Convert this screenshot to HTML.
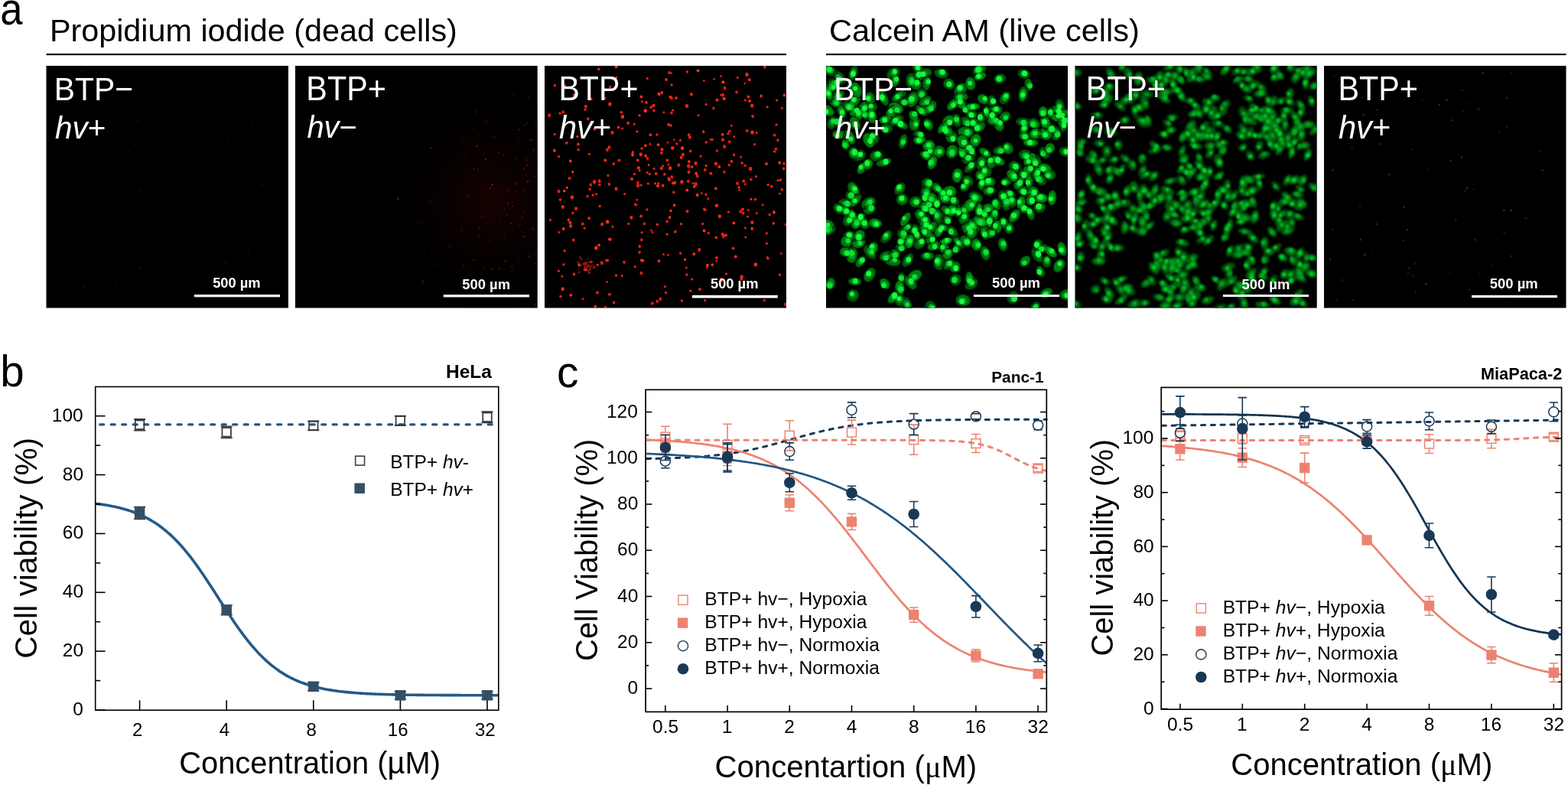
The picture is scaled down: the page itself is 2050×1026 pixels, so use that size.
<!DOCTYPE html>
<html><head><meta charset="utf-8"><title>Figure</title>
<style>html,body{margin:0;padding:0;background:#fff;width:2050px;height:1026px;overflow:hidden}svg{display:block}text{font-family:"Liberation Sans",Arial,sans-serif}</style>
</head><body>
<svg width="2050" height="1026" viewBox="0 0 2050 1026" font-family="Liberation Sans, Arial, sans-serif">
<rect width="2050" height="1026" fill="#fff"/>
<rect x="60.5" y="70" width="967.5" height="2.2" fill="#111"/>
<rect x="1080" y="70" width="967.5" height="2.2" fill="#111"/>
<rect x="60.5" y="86" width="316.50" height="316.5" fill="#000"/>
<rect x="386" y="86" width="316.70" height="316.5" fill="#000"/>
<rect x="712" y="86" width="316.00" height="316.5" fill="#000"/>
<rect x="1080" y="86" width="316.00" height="316.5" fill="#000"/>
<rect x="1405.5" y="86" width="316.20" height="316.5" fill="#000"/>
<rect x="1731" y="86" width="316.50" height="316.5" fill="#000"/>
<defs>
<filter id="bl1" x="-5%" y="-5%" width="110%" height="110%"><feGaussianBlur stdDeviation="1.1"/></filter>
<filter id="bl15" x="-5%" y="-5%" width="110%" height="110%"><feGaussianBlur stdDeviation="1.6"/></filter>
<filter id="bl2" x="-5%" y="-5%" width="110%" height="110%"><feGaussianBlur stdDeviation="0.7"/></filter>
<filter id="bl3" x="-5%" y="-5%" width="110%" height="110%"><feGaussianBlur stdDeviation="0.5"/></filter>
<filter id="bl6" x="-5%" y="-5%" width="110%" height="110%"><feGaussianBlur stdDeviation="6"/></filter>

<clipPath id="cp0"><rect x="60.5" y="86" width="316.50" height="316.5"/></clipPath>
<clipPath id="cp1"><rect x="386" y="86" width="316.70" height="316.5"/></clipPath>
<clipPath id="cp2"><rect x="712" y="86" width="316.00" height="316.5"/></clipPath>
<clipPath id="cp3"><rect x="1080" y="86" width="316.00" height="316.5"/></clipPath>
<clipPath id="cp4"><rect x="1405.5" y="86" width="316.20" height="316.5"/></clipPath>
<clipPath id="cp5"><rect x="1731" y="86" width="316.50" height="316.5"/></clipPath>
</defs>
<g clip-path="url(#cp3)"><g filter="url(#bl2)"><path fill="rgb(0,85,12)" stroke="rgb(0,35,5)" stroke-width="1.3" d="M1103.8 109.4A10.1 6.4 53 1 0 1091.6 93.3A10.1 6.4 53 1 0 1103.8 109.4ZM1093.2 96.3A9.8 6.0 27 1 0 1075.7 87.6A9.8 6.0 27 1 0 1093.2 96.3ZM1112.6 104.9A10.1 5.1 107 1 0 1118.4 85.6A10.1 5.1 107 1 0 1112.6 104.9ZM1160.5 101.7A9.2 7.0 142 1 0 1175.0 90.2A9.2 7.0 142 1 0 1160.5 101.7ZM1190.7 115.5A10.0 6.2 92 1 0 1191.4 95.6A10.0 6.2 92 1 0 1190.7 115.5ZM1239.7 98.7A9.3 6.1 16 1 0 1221.7 93.7A9.3 6.1 16 1 0 1239.7 98.7ZM1272.9 96.8A9.4 7.0 144 1 0 1288.2 85.8A9.4 7.0 144 1 0 1272.9 96.8ZM1299.8 104.8A7.8 6.1 165 1 0 1314.8 100.7A7.8 6.1 165 1 0 1299.8 104.8ZM1346.0 98.7A7.8 5.5 15 1 0 1331.1 94.7A7.8 5.5 15 1 0 1346.0 98.7ZM1102.1 107.0A10.3 5.6 0 1 0 1081.5 106.9A10.3 5.6 0 1 0 1102.1 107.0ZM1081.2 120.2A10.3 7.1 129 1 0 1094.1 104.2A10.3 7.1 129 1 0 1081.2 120.2ZM1199.3 128.7A7.7 6.1 133 1 0 1209.6 117.4A7.7 6.1 133 1 0 1199.3 128.7ZM1086.5 132.3A10.4 6.5 143 1 0 1103.2 119.8A10.4 6.5 143 1 0 1086.5 132.3ZM1101.2 136.2A8.5 6.4 15 1 0 1084.8 131.8A8.5 6.4 15 1 0 1101.2 136.2ZM1121.5 140.9A10.3 7.0 10 1 0 1101.3 137.3A10.3 7.0 10 1 0 1121.5 140.9ZM1132.1 143.0A7.7 6.4 161 1 0 1146.6 137.9A7.7 6.4 161 1 0 1132.1 143.0ZM1166.8 132.2A10.5 5.8 142 1 0 1183.4 119.5A10.5 5.8 142 1 0 1166.8 132.2ZM1191.1 133.3A8.4 5.9 4 1 0 1174.3 132.2A8.4 5.9 4 1 0 1191.1 133.3ZM1213.2 149.6A9.5 6.0 34 1 0 1197.4 139.0A9.5 6.0 34 1 0 1213.2 149.6ZM1298.9 139.6A7.8 5.8 73 1 0 1294.4 124.7A7.8 5.8 73 1 0 1298.9 139.6ZM1310.9 144.0A9.5 6.0 2 1 0 1292.0 143.3A9.5 6.0 2 1 0 1310.9 144.0ZM1309.1 135.5A9.1 6.0 122 1 0 1318.6 120.0A9.1 6.0 122 1 0 1309.1 135.5ZM1387.0 146.3A8.4 5.9 79 1 0 1383.9 129.7A8.4 5.9 79 1 0 1387.0 146.3ZM1084.2 168.5A8.9 6.5 116 1 0 1092.1 152.4A8.9 6.5 116 1 0 1084.2 168.5ZM1087.8 160.0A8.3 6.7 179 1 0 1104.4 159.6A8.3 6.7 179 1 0 1087.8 160.0ZM1135.5 155.5A8.1 5.9 58 1 0 1126.9 141.8A8.1 5.9 58 1 0 1135.5 155.5ZM1163.1 162.2A10.1 6.1 152 1 0 1180.9 152.6A10.1 6.1 152 1 0 1163.1 162.2ZM1253.9 165.4A8.7 5.7 68 1 0 1247.4 149.4A8.7 5.7 68 1 0 1253.9 165.4ZM1273.2 163.5A9.7 6.7 23 1 0 1255.3 155.8A9.7 6.7 23 1 0 1273.2 163.5ZM1277.7 153.9A8.3 6.0 31 1 0 1263.5 145.3A8.3 6.0 31 1 0 1277.7 153.9ZM1282.0 162.7A8.3 6.0 93 1 0 1283.0 146.1A8.3 6.0 93 1 0 1282.0 162.7ZM1349.0 161.3A10.5 5.5 8 1 0 1328.3 158.2A10.5 5.5 8 1 0 1349.0 161.3ZM1373.6 155.6A7.8 5.5 95 1 0 1374.9 140.0A7.8 5.5 95 1 0 1373.6 155.6ZM1386.7 171.8A7.7 5.5 119 1 0 1394.2 158.3A7.7 5.5 119 1 0 1386.7 171.8ZM1146.0 187.6A8.4 7.0 62 1 0 1138.0 172.8A8.4 7.0 62 1 0 1146.0 187.6ZM1150.7 168.8A8.2 6.0 175 1 0 1167.0 167.3A8.2 6.0 175 1 0 1150.7 168.8ZM1177.7 194.3A10.0 5.3 107 1 0 1183.4 175.1A10.0 5.3 107 1 0 1177.7 194.3ZM1209.0 180.8A8.2 5.6 32 1 0 1195.0 172.2A8.2 5.6 32 1 0 1209.0 180.8ZM1336.5 176.7A9.8 6.0 107 1 0 1342.4 158.0A9.8 6.0 107 1 0 1336.5 176.7ZM1383.8 172.1A9.1 6.5 16 1 0 1366.4 167.2A9.1 6.5 16 1 0 1383.8 172.1ZM1378.8 183.4A9.3 5.9 103 1 0 1383.0 165.3A9.3 5.9 103 1 0 1378.8 183.4ZM1114.3 206.5A9.2 6.4 158 1 0 1131.3 199.7A9.2 6.4 158 1 0 1114.3 206.5ZM1137.5 206.2A8.7 6.7 162 1 0 1154.0 200.7A8.7 6.7 162 1 0 1137.5 206.2ZM1217.6 204.7A8.4 6.3 89 1 0 1217.5 187.9A8.4 6.3 89 1 0 1217.6 204.7ZM1275.1 204.1A7.6 5.5 32 1 0 1262.2 196.1A7.6 5.5 32 1 0 1275.1 204.1ZM1262.5 208.3A9.6 6.7 69 1 0 1255.6 190.3A9.6 6.7 69 1 0 1262.5 208.3ZM1298.4 198.3A10.2 5.8 167 1 0 1318.3 193.6A10.2 5.8 167 1 0 1298.4 198.3ZM1349.3 203.4A8.7 6.7 7 1 0 1332.0 201.2A8.7 6.7 7 1 0 1349.3 203.4ZM1369.8 206.7A8.2 5.4 58 1 0 1361.2 192.8A8.2 5.4 58 1 0 1369.8 206.7ZM1400.0 200.4A7.8 6.4 16 1 0 1384.9 196.2A7.8 6.4 16 1 0 1400.0 200.4ZM1261.9 224.9A9.8 5.1 134 1 0 1275.6 210.8A9.8 5.1 134 1 0 1261.9 224.9ZM1257.6 209.0A8.5 6.1 176 1 0 1274.5 207.7A8.5 6.1 176 1 0 1257.6 209.0ZM1280.9 222.6A9.7 6.8 104 1 0 1285.6 203.8A9.7 6.8 104 1 0 1280.9 222.6ZM1290.7 232.9A9.7 6.6 80 1 0 1287.3 213.9A9.7 6.6 80 1 0 1290.7 232.9ZM1332.5 224.4A8.5 6.3 47 1 0 1321.0 212.1A8.5 6.3 47 1 0 1332.5 224.4ZM1358.5 219.3A9.7 6.6 61 1 0 1349.2 202.4A9.7 6.6 61 1 0 1358.5 219.3ZM1218.1 247.5A8.6 7.1 53 1 0 1207.9 233.7A8.6 7.1 53 1 0 1218.1 247.5ZM1270.4 243.2A8.0 6.7 50 1 0 1260.0 231.0A8.0 6.7 50 1 0 1270.4 243.2ZM1255.8 248.6A7.8 5.7 139 1 0 1267.7 238.4A7.8 5.7 139 1 0 1255.8 248.6ZM1307.9 238.6A7.6 5.6 172 1 0 1323.0 236.3A7.6 5.6 172 1 0 1307.9 238.6ZM1347.2 229.3A8.1 6.9 15 1 0 1331.6 225.1A8.1 6.9 15 1 0 1347.2 229.3ZM1366.4 241.1A9.8 6.3 47 1 0 1353.1 226.6A9.8 6.3 47 1 0 1366.4 241.1ZM1380.3 230.6A8.5 6.8 17 1 0 1364.0 225.6A8.5 6.8 17 1 0 1380.3 230.6ZM1118.9 261.1A7.8 6.6 40 1 0 1106.9 251.1A7.8 6.6 40 1 0 1118.9 261.1ZM1171.1 253.7A9.0 6.4 127 1 0 1181.9 239.3A9.0 6.4 127 1 0 1171.1 253.7ZM1219.4 259.3A8.0 6.4 12 1 0 1203.9 256.0A8.0 6.4 12 1 0 1219.4 259.3ZM1207.0 260.1A9.8 6.8 111 1 0 1214.0 241.7A9.8 6.8 111 1 0 1207.0 260.1ZM1245.3 261.5A10.4 6.7 13 1 0 1224.9 256.9A10.4 6.7 13 1 0 1245.3 261.5ZM1249.7 270.5A8.4 6.4 70 1 0 1244.0 254.7A8.4 6.4 70 1 0 1249.7 270.5ZM1284.0 262.2A9.6 6.8 28 1 0 1267.0 253.3A9.6 6.8 28 1 0 1284.0 262.2ZM1316.3 267.1A9.9 6.9 70 1 0 1309.7 248.5A9.9 6.9 70 1 0 1316.3 267.1ZM1325.4 270.8A8.6 6.9 69 1 0 1319.2 254.8A8.6 6.9 69 1 0 1325.4 270.8ZM1327.2 257.0A8.3 6.1 18 1 0 1311.5 251.9A8.3 6.1 18 1 0 1327.2 257.0ZM1346.4 254.1A9.1 6.5 29 1 0 1330.4 245.3A9.1 6.5 29 1 0 1346.4 254.1ZM1104.0 277.8A8.5 6.1 35 1 0 1090.0 268.0A8.5 6.1 35 1 0 1104.0 277.8ZM1115.3 267.5A9.7 5.6 11 1 0 1096.3 263.6A9.7 5.6 11 1 0 1115.3 267.5ZM1222.9 266.1A9.4 6.7 4 1 0 1204.1 264.9A9.4 6.7 4 1 0 1222.9 266.1ZM1226.0 292.6A9.5 6.5 97 1 0 1228.4 273.8A9.5 6.5 97 1 0 1226.0 292.6ZM1229.0 279.6A10.2 6.0 26 1 0 1210.7 270.9A10.2 6.0 26 1 0 1229.0 279.6ZM1243.3 280.7A8.1 5.9 40 1 0 1230.8 270.3A8.1 5.9 40 1 0 1243.3 280.7ZM1253.9 284.0A8.4 6.1 83 1 0 1251.8 267.4A8.4 6.1 83 1 0 1253.9 284.0ZM1263.3 285.5A9.5 5.8 76 1 0 1258.8 267.1A9.5 5.8 76 1 0 1263.3 285.5ZM1316.1 275.3A9.3 6.7 86 1 0 1314.9 256.7A9.3 6.7 86 1 0 1316.1 275.3ZM1302.4 276.0A8.5 7.1 89 1 0 1302.0 259.0A8.5 7.1 89 1 0 1302.4 276.0ZM1351.4 271.4A7.9 6.9 177 1 0 1367.2 270.7A7.9 6.9 177 1 0 1351.4 271.4ZM1104.0 294.6A9.5 6.5 128 1 0 1115.6 279.6A9.5 6.5 128 1 0 1104.0 294.6ZM1119.8 290.5A7.7 5.5 133 1 0 1130.4 279.2A7.7 5.5 133 1 0 1119.8 290.5ZM1198.7 310.5A8.9 7.0 74 1 0 1193.8 293.4A8.9 7.0 74 1 0 1198.7 310.5ZM1177.3 302.9A8.8 5.4 149 1 0 1192.4 293.8A8.8 5.4 149 1 0 1177.3 302.9ZM1199.7 288.8A8.5 6.0 164 1 0 1216.1 284.1A8.5 6.0 164 1 0 1199.7 288.8ZM1241.6 299.1A8.9 5.1 12 1 0 1224.1 295.3A8.9 5.1 12 1 0 1241.6 299.1ZM1240.1 294.2A7.6 6.4 74 1 0 1235.8 279.6A7.6 6.4 74 1 0 1240.1 294.2ZM1251.1 309.0A8.7 5.6 49 1 0 1239.6 295.9A8.7 5.6 49 1 0 1251.1 309.0ZM1279.8 302.6A10.4 7.2 47 1 0 1265.5 287.4A10.4 7.2 47 1 0 1279.8 302.6ZM1319.2 305.8A8.2 6.4 89 1 0 1319.0 289.4A8.2 6.4 89 1 0 1319.2 305.8ZM1119.5 310.0A8.4 6.9 9 1 0 1102.9 307.3A8.4 6.9 9 1 0 1119.5 310.0ZM1153.0 316.8A9.5 6.0 128 1 0 1164.7 301.8A9.5 6.0 128 1 0 1153.0 316.8ZM1171.9 326.4A7.8 6.0 149 1 0 1185.2 318.3A7.8 6.0 149 1 0 1171.9 326.4ZM1182.8 316.7A9.5 6.2 74 1 0 1177.7 298.5A9.5 6.2 74 1 0 1182.8 316.7ZM1196.4 324.3A9.1 6.5 133 1 0 1208.7 310.9A9.1 6.5 133 1 0 1196.4 324.3ZM1202.0 315.8A8.1 5.8 66 1 0 1195.3 301.1A8.1 5.8 66 1 0 1202.0 315.8ZM1260.9 324.3A10.2 5.1 46 1 0 1246.6 309.6A10.2 5.1 46 1 0 1260.9 324.3ZM1357.3 328.2A7.8 6.0 89 1 0 1357.1 312.7A7.8 6.0 89 1 0 1357.3 328.2ZM1143.7 337.7A10.3 6.3 51 1 0 1130.7 321.6A10.3 6.3 51 1 0 1143.7 337.7ZM1181.0 348.3A10.2 5.8 124 1 0 1192.6 331.5A10.2 5.8 124 1 0 1181.0 348.3ZM1222.0 334.8A9.1 5.7 0 1 0 1203.8 334.7A9.1 5.7 0 1 0 1222.0 334.8ZM1227.4 353.1A10.5 6.8 91 1 0 1227.7 332.2A10.5 6.8 91 1 0 1227.4 353.1ZM1247.8 331.3A7.5 5.2 116 1 0 1254.3 317.7A7.5 5.2 116 1 0 1247.8 331.3ZM1360.9 341.9A10.2 5.6 60 1 0 1350.6 324.4A10.2 5.6 60 1 0 1360.9 341.9ZM1368.3 349.6A7.9 5.9 91 1 0 1368.5 333.8A7.9 5.9 91 1 0 1368.3 349.6ZM1232.3 348.8A8.8 6.4 160 1 0 1248.7 342.6A8.8 6.4 160 1 0 1232.3 348.8ZM1179.0 371.1A7.6 5.0 87 1 0 1178.2 355.9A7.6 5.0 87 1 0 1179.0 371.1ZM1244.1 371.2A7.5 6.7 132 1 0 1254.1 360.1A7.5 6.7 132 1 0 1244.1 371.2ZM1262.6 376.7A9.3 5.7 145 1 0 1277.8 366.1A9.3 5.7 145 1 0 1262.6 376.7ZM1113.8 394.1A8.1 6.9 99 1 0 1116.5 378.3A8.1 6.9 99 1 0 1113.8 394.1ZM1181.3 399.4A9.0 6.6 56 1 0 1171.2 384.6A9.0 6.6 56 1 0 1181.3 399.4ZM1189.9 404.3A9.2 6.4 58 1 0 1180.1 388.7A9.2 6.4 58 1 0 1189.9 404.3ZM1220.5 409.3A8.6 6.4 66 1 0 1213.5 393.7A8.6 6.4 66 1 0 1220.5 409.3ZM1319.7 395.9A8.5 6.4 122 1 0 1328.8 381.6A8.5 6.4 122 1 0 1319.7 395.9ZM1348.0 407.5A8.0 5.2 129 1 0 1358.0 394.9A8.0 5.2 129 1 0 1348.0 407.5Z"/><path fill="rgb(0,102,14)" stroke="rgb(0,35,5)" stroke-width="1.3" d="M1167.6 113.7A8.3 5.7 106 1 0 1172.3 97.7A8.3 5.7 106 1 0 1167.6 113.7ZM1199.0 106.6A8.9 6.9 108 1 0 1204.4 89.6A8.9 6.9 108 1 0 1199.0 106.6ZM1202.3 96.6A10.4 5.7 73 1 0 1196.4 76.8A10.4 5.7 73 1 0 1202.3 96.6ZM1198.8 96.4A9.9 6.1 173 1 0 1218.5 94.1A9.9 6.1 173 1 0 1198.8 96.4ZM1195.6 117.2A7.5 7.0 108 1 0 1200.1 102.9A7.5 7.0 108 1 0 1195.6 117.2ZM1210.5 118.5A10.2 5.3 96 1 0 1212.6 98.2A10.2 5.3 96 1 0 1210.5 118.5ZM1249.3 124.2A9.7 7.1 133 1 0 1262.4 109.9A9.7 7.1 133 1 0 1249.3 124.2ZM1247.3 113.6A7.6 6.7 32 1 0 1234.4 105.6A7.6 6.7 32 1 0 1247.3 113.6ZM1346.4 118.6A8.2 5.3 79 1 0 1343.3 102.4A8.2 5.3 79 1 0 1346.4 118.6ZM1335.8 133.2A10.2 5.8 100 1 0 1339.2 113.1A10.2 5.8 100 1 0 1335.8 133.2ZM1110.2 139.3A9.7 6.0 134 1 0 1123.7 125.4A9.7 6.0 134 1 0 1110.2 139.3ZM1124.6 148.0A9.0 6.2 125 1 0 1134.9 133.4A9.0 6.2 125 1 0 1124.6 148.0ZM1138.5 137.0A8.5 6.3 83 1 0 1136.4 120.1A8.5 6.3 83 1 0 1138.5 137.0ZM1159.5 137.5A10.2 5.3 65 1 0 1151.0 119.0A10.2 5.3 65 1 0 1159.5 137.5ZM1188.5 139.4A10.5 6.6 116 1 0 1197.7 120.7A10.5 6.6 116 1 0 1188.5 139.4ZM1202.6 137.5A8.9 5.5 144 1 0 1217.0 127.1A8.9 5.5 144 1 0 1202.6 137.5ZM1209.2 147.4A10.0 6.6 134 1 0 1223.2 133.1A10.0 6.6 134 1 0 1209.2 147.4ZM1246.7 127.4A9.5 6.5 177 1 0 1265.8 126.4A9.5 6.5 177 1 0 1246.7 127.4ZM1267.8 148.9A9.0 5.4 55 1 0 1257.6 134.1A9.0 5.4 55 1 0 1267.8 148.9ZM1387.9 150.1A7.8 5.4 45 1 0 1376.8 139.1A7.8 5.4 45 1 0 1387.9 150.1ZM1103.2 154.8A9.5 5.1 72 1 0 1097.5 136.7A9.5 5.1 72 1 0 1103.2 154.8ZM1117.8 157.1A10.4 6.0 129 1 0 1131.0 141.0A10.4 6.0 129 1 0 1117.8 157.1ZM1186.7 167.2A10.0 5.3 30 1 0 1169.3 157.3A10.0 5.3 30 1 0 1186.7 167.2ZM1193.9 171.0A10.1 6.4 101 1 0 1197.6 151.2A10.1 6.4 101 1 0 1193.9 171.0ZM1217.8 169.8A8.1 5.8 60 1 0 1209.5 155.8A8.1 5.8 60 1 0 1217.8 169.8ZM1279.6 167.0A8.0 6.5 46 1 0 1268.5 155.5A8.0 6.5 46 1 0 1279.6 167.0ZM1290.6 158.9A8.2 6.6 132 1 0 1301.7 146.7A8.2 6.6 132 1 0 1290.6 158.9ZM1291.8 156.1A8.8 5.1 81 1 0 1289.2 138.6A8.8 5.1 81 1 0 1291.8 156.1ZM1307.5 157.9A8.0 6.5 141 1 0 1319.9 147.7A8.0 6.5 141 1 0 1307.5 157.9ZM1359.2 165.6A8.1 6.5 29 1 0 1345.0 157.7A8.1 6.5 29 1 0 1359.2 165.6ZM1249.6 184.7A7.6 7.1 45 1 0 1238.8 174.1A7.6 7.1 45 1 0 1249.6 184.7ZM1273.0 174.2A10.5 7.1 7 1 0 1252.2 171.7A10.5 7.1 7 1 0 1273.0 174.2ZM1272.4 170.3A8.8 6.6 149 1 0 1287.5 161.2A8.8 6.6 149 1 0 1272.4 170.3ZM1348.1 181.1A8.2 5.7 20 1 0 1332.7 175.6A8.2 5.7 20 1 0 1348.1 181.1ZM1219.1 208.1A9.0 5.5 29 1 0 1203.4 199.3A9.0 5.5 29 1 0 1219.1 208.1ZM1217.6 201.9A9.5 7.1 159 1 0 1235.3 195.3A9.5 7.1 159 1 0 1217.6 201.9ZM1258.9 194.5A8.2 6.1 170 1 0 1275.1 191.5A8.2 6.1 170 1 0 1258.9 194.5ZM1321.3 201.0A8.0 6.3 64 1 0 1314.3 186.7A8.0 6.3 64 1 0 1321.3 201.0ZM1121.9 227.0A9.3 5.4 126 1 0 1132.8 211.8A9.3 5.4 126 1 0 1121.9 227.0ZM1145.7 215.1A10.3 5.1 164 1 0 1165.5 209.3A10.3 5.1 164 1 0 1145.7 215.1ZM1292.9 219.5A9.0 6.0 119 1 0 1301.6 203.8A9.0 6.0 119 1 0 1292.9 219.5ZM1275.2 229.7A8.4 7.0 179 1 0 1291.9 229.4A8.4 7.0 179 1 0 1275.2 229.7ZM1284.5 241.9A8.9 7.0 158 1 0 1301.0 235.1A8.9 7.0 158 1 0 1284.5 241.9ZM1282.6 248.6A9.0 5.5 98 1 0 1285.1 230.7A9.0 5.5 98 1 0 1282.6 248.6ZM1327.5 247.3A9.3 5.5 120 1 0 1336.8 231.3A9.3 5.5 120 1 0 1327.5 247.3ZM1344.5 247.5A10.4 5.2 95 1 0 1346.5 226.7A10.4 5.2 95 1 0 1344.5 247.5ZM1350.6 234.1A10.5 5.1 120 1 0 1360.9 215.9A10.5 5.1 120 1 0 1350.6 234.1ZM1121.0 256.5A10.4 6.5 61 1 0 1110.8 238.4A10.4 6.5 61 1 0 1121.0 256.5ZM1111.0 269.7A10.5 5.1 132 1 0 1125.0 254.2A10.5 5.1 132 1 0 1111.0 269.7ZM1176.5 267.7A7.6 7.0 113 1 0 1182.3 253.7A7.6 7.0 113 1 0 1176.5 267.7ZM1188.9 265.1A8.0 7.2 171 1 0 1204.8 262.6A8.0 7.2 171 1 0 1188.9 265.1ZM1238.7 259.7A9.8 5.5 47 1 0 1225.2 245.5A9.8 5.5 47 1 0 1238.7 259.7ZM1229.6 252.1A7.9 5.0 53 1 0 1220.2 239.5A7.9 5.0 53 1 0 1229.6 252.1ZM1285.0 250.2A8.1 6.3 172 1 0 1301.1 248.0A8.1 6.3 172 1 0 1285.0 250.2ZM1109.9 281.3A7.6 5.9 51 1 0 1100.4 269.4A7.6 5.9 51 1 0 1109.9 281.3ZM1129.7 277.3A8.3 5.8 152 1 0 1144.3 269.5A8.3 5.8 152 1 0 1129.7 277.3ZM1126.9 270.8A10.1 6.3 147 1 0 1143.8 259.9A10.1 6.3 147 1 0 1126.9 270.8ZM1214.3 277.3A8.1 6.6 47 1 0 1203.3 265.4A8.1 6.6 47 1 0 1214.3 277.3ZM1196.6 283.0A7.7 7.0 158 1 0 1210.8 277.2A7.7 7.0 158 1 0 1196.6 283.0ZM1287.9 287.8A10.2 5.9 91 1 0 1288.5 267.4A10.2 5.9 91 1 0 1287.9 287.8ZM1300.2 288.4A8.2 6.1 84 1 0 1298.5 272.1A8.2 6.1 84 1 0 1300.2 288.4ZM1348.6 274.7A8.5 5.2 7 1 0 1331.7 272.6A8.5 5.2 7 1 0 1348.6 274.7ZM1349.8 287.7A9.3 5.3 73 1 0 1344.4 269.9A9.3 5.3 73 1 0 1349.8 287.7ZM1072.6 302.6A10.1 7.1 164 1 0 1092.0 297.0A10.1 7.1 164 1 0 1072.6 302.6ZM1134.9 298.0A9.5 6.0 49 1 0 1122.5 283.7A9.5 6.0 49 1 0 1134.9 298.0ZM1211.5 304.8A9.5 6.1 131 1 0 1223.9 290.3A9.5 6.1 131 1 0 1211.5 304.8ZM1269.7 307.0A9.4 7.1 61 1 0 1260.6 290.5A9.4 7.1 61 1 0 1269.7 307.0ZM1257.0 293.0A8.7 6.0 114 1 0 1264.0 277.1A8.7 6.0 114 1 0 1257.0 293.0ZM1291.5 298.0A9.8 6.6 101 1 0 1295.2 278.7A9.8 6.6 101 1 0 1291.5 298.0ZM1314.6 298.5A7.7 5.4 72 1 0 1309.9 283.9A7.7 5.4 72 1 0 1314.6 298.5ZM1173.7 319.6A7.7 5.8 139 1 0 1185.2 309.4A7.7 5.8 139 1 0 1173.7 319.6ZM1215.8 320.5A8.4 5.9 97 1 0 1217.8 303.9A8.4 5.9 97 1 0 1215.8 320.5ZM1264.4 312.9A9.2 6.6 127 1 0 1275.5 298.2A9.2 6.6 127 1 0 1264.4 312.9ZM1270.0 320.4A8.8 7.1 36 1 0 1255.8 309.9A8.8 7.1 36 1 0 1270.0 320.4ZM1290.9 312.6A9.3 5.5 70 1 0 1284.6 295.2A9.3 5.5 70 1 0 1290.9 312.6ZM1313.0 328.2A8.8 6.0 76 1 0 1308.8 311.1A8.8 6.0 76 1 0 1313.0 328.2ZM1119.7 348.6A8.5 5.2 128 1 0 1130.3 335.3A8.5 5.2 128 1 0 1119.7 348.6ZM1150.3 337.5A9.0 6.0 163 1 0 1167.4 332.1A9.0 6.0 163 1 0 1150.3 337.5ZM1163.3 339.1A8.2 6.7 135 1 0 1174.9 327.6A8.2 6.7 135 1 0 1163.3 339.1ZM1177.8 342.8A10.2 5.7 4 1 0 1157.4 341.5A10.2 5.7 4 1 0 1177.8 342.8ZM1290.4 340.0A9.3 6.4 76 1 0 1286.0 321.9A9.3 6.4 76 1 0 1290.4 340.0ZM1355.3 326.4A8.3 5.4 169 1 0 1371.6 323.1A8.3 5.4 169 1 0 1355.3 326.4ZM1131.5 367.5A10.1 6.4 123 1 0 1142.6 350.7A10.1 6.4 123 1 0 1131.5 367.5ZM1241.2 351.7A7.6 7.1 158 1 0 1255.3 346.1A7.6 7.1 158 1 0 1241.2 351.7ZM1363.4 361.5A7.5 5.3 65 1 0 1357.0 347.9A7.5 5.3 65 1 0 1363.4 361.5ZM1126.5 368.2A8.9 5.2 2 1 0 1108.7 367.5A8.9 5.2 2 1 0 1126.5 368.2ZM1196.8 377.3A10.3 5.8 52 1 0 1184.1 361.2A10.3 5.8 52 1 0 1196.8 377.3ZM1268.9 393.6A9.8 7.1 6 1 0 1249.5 391.5A9.8 7.1 6 1 0 1268.9 393.6ZM1359.5 387.0A9.2 5.8 153 1 0 1376.0 378.7A9.2 5.8 153 1 0 1359.5 387.0ZM1385.2 385.4A10.0 7.2 178 1 0 1405.2 384.8A10.0 7.2 178 1 0 1385.2 385.4Z"/><path fill="rgb(0,120,16)" stroke="rgb(0,35,5)" stroke-width="1.3" d="M1273.4 102.6A8.4 5.3 159 1 0 1289.2 96.7A8.4 5.3 159 1 0 1273.4 102.6ZM1086.4 131.0A9.7 5.3 69 1 0 1079.5 112.9A9.7 5.3 69 1 0 1086.4 131.0ZM1123.4 127.0A10.5 7.0 66 1 0 1114.7 107.9A10.5 7.0 66 1 0 1123.4 127.0ZM1269.6 118.0A8.7 6.6 84 1 0 1267.8 100.7A8.7 6.6 84 1 0 1269.6 118.0ZM1089.7 150.0A9.0 6.5 36 1 0 1075.1 139.4A9.0 6.5 36 1 0 1089.7 150.0ZM1180.5 145.3A10.0 6.6 24 1 0 1162.3 137.2A10.0 6.6 24 1 0 1180.5 145.3ZM1260.0 141.5A9.1 5.7 59 1 0 1250.7 126.0A9.1 5.7 59 1 0 1260.0 141.5ZM1239.0 143.0A10.4 5.2 136 1 0 1254.0 128.7A10.4 5.2 136 1 0 1239.0 143.0ZM1260.9 140.9A10.3 5.3 174 1 0 1281.4 138.6A10.3 5.3 174 1 0 1260.9 140.9ZM1292.3 133.4A7.9 6.2 29 1 0 1278.4 125.8A7.9 6.2 29 1 0 1292.3 133.4ZM1121.9 169.5A9.3 5.8 64 1 0 1113.7 152.9A9.3 5.8 64 1 0 1121.9 169.5ZM1111.1 149.7A7.5 5.3 153 1 0 1124.5 142.9A7.5 5.3 153 1 0 1111.1 149.7ZM1141.6 161.2A9.9 6.2 79 1 0 1137.8 141.7A9.9 6.2 79 1 0 1141.6 161.2ZM1149.8 158.9A8.5 5.1 160 1 0 1165.7 153.1A8.5 5.1 160 1 0 1149.8 158.9ZM1159.8 156.4A10.4 6.6 122 1 0 1170.8 138.7A10.4 6.6 122 1 0 1159.8 156.4ZM1198.6 158.1A7.7 5.7 58 1 0 1190.4 145.0A7.7 5.7 58 1 0 1198.6 158.1ZM1233.6 164.7A8.9 6.6 135 1 0 1246.2 152.2A8.9 6.6 135 1 0 1233.6 164.7ZM1308.9 160.0A9.1 5.8 10 1 0 1290.9 156.9A9.1 5.8 10 1 0 1308.9 160.0ZM1309.0 171.3A9.0 6.5 70 1 0 1302.7 154.4A9.0 6.5 70 1 0 1309.0 171.3ZM1363.8 154.4A7.8 6.3 90 1 0 1363.8 138.8A7.8 6.3 90 1 0 1363.8 154.4ZM1369.4 168.9A9.0 6.0 73 1 0 1364.1 151.8A9.0 6.0 73 1 0 1369.4 168.9ZM1383.5 162.3A9.5 7.1 153 1 0 1400.6 153.8A9.5 7.1 153 1 0 1383.5 162.3ZM1380.2 152.1A9.3 5.2 160 1 0 1397.7 145.9A9.3 5.2 160 1 0 1380.2 152.1ZM1393.7 154.6A10.0 5.5 6 1 0 1373.8 152.7A10.0 5.5 6 1 0 1393.7 154.6ZM1105.1 176.2A8.5 5.4 2 1 0 1088.2 175.5A8.5 5.4 2 1 0 1105.1 176.2ZM1115.8 188.0A10.0 6.8 59 1 0 1105.4 170.8A10.0 6.8 59 1 0 1115.8 188.0ZM1140.6 192.4A10.2 7.1 63 1 0 1131.2 174.3A10.2 7.1 63 1 0 1140.6 192.4ZM1194.0 184.1A8.3 5.8 174 1 0 1210.6 182.3A8.3 5.8 174 1 0 1194.0 184.1ZM1226.8 173.8A9.9 5.3 132 1 0 1240.1 159.1A9.9 5.3 132 1 0 1226.8 173.8ZM1245.2 176.5A8.3 6.1 39 1 0 1232.1 166.1A8.3 6.1 39 1 0 1245.2 176.5ZM1262.7 192.8A8.9 6.8 64 1 0 1255.0 176.8A8.9 6.8 64 1 0 1262.7 192.8ZM1271.6 191.1A8.7 6.6 115 1 0 1279.0 175.4A8.7 6.6 115 1 0 1271.6 191.1ZM1346.1 177.9A8.3 6.7 157 1 0 1361.4 171.5A8.3 6.7 157 1 0 1346.1 177.9ZM1375.5 177.6A9.4 7.0 16 1 0 1357.5 172.4A9.4 7.0 16 1 0 1375.5 177.6ZM1117.0 207.6A7.7 6.7 83 1 0 1115.2 192.3A7.7 6.7 83 1 0 1117.0 207.6ZM1106.0 195.8A7.6 5.6 88 1 0 1105.4 180.6A7.6 5.6 88 1 0 1106.0 195.8ZM1206.4 192.7A8.3 6.8 164 1 0 1222.3 188.2A8.3 6.8 164 1 0 1206.4 192.7ZM1241.8 206.8A9.1 7.2 108 1 0 1247.4 189.5A9.1 7.2 108 1 0 1241.8 206.8ZM1294.7 204.4A8.5 5.2 36 1 0 1281.0 194.3A8.5 5.2 36 1 0 1294.7 204.4ZM1357.4 186.8A9.8 5.3 2 1 0 1337.8 185.9A9.8 5.3 2 1 0 1357.4 186.8ZM1368.4 200.7A7.7 6.6 121 1 0 1376.4 187.5A7.7 6.6 121 1 0 1368.4 200.7ZM1129.0 220.3A7.8 6.4 134 1 0 1139.8 209.0A7.8 6.4 134 1 0 1129.0 220.3ZM1215.4 221.2A9.5 5.6 112 1 0 1222.5 203.6A9.5 5.6 112 1 0 1215.4 221.2ZM1313.1 214.2A9.4 5.8 27 1 0 1296.3 205.7A9.4 5.8 27 1 0 1313.1 214.2ZM1339.8 216.0A10.0 6.2 132 1 0 1353.2 201.2A10.0 6.2 132 1 0 1339.8 216.0ZM1339.0 226.6A8.2 6.3 137 1 0 1351.1 215.5A8.2 6.3 137 1 0 1339.0 226.6ZM1374.4 222.6A9.0 5.8 17 1 0 1357.3 217.2A9.0 5.8 17 1 0 1374.4 222.6ZM1250.4 238.9A9.6 6.8 97 1 0 1252.6 219.8A9.6 6.8 97 1 0 1250.4 238.9ZM1329.8 236.6A9.2 6.5 49 1 0 1317.8 222.5A9.2 6.5 49 1 0 1329.8 236.6ZM1224.4 264.5A8.3 5.9 45 1 0 1212.8 252.7A8.3 5.9 45 1 0 1224.4 264.5ZM1233.1 250.6A8.6 7.0 178 1 0 1250.2 249.9A8.6 7.0 178 1 0 1233.1 250.6ZM1346.1 268.8A7.9 5.9 101 1 0 1349.2 253.2A7.9 5.9 101 1 0 1346.1 268.8ZM1348.8 259.9A8.2 6.8 102 1 0 1352.3 244.0A8.2 6.8 102 1 0 1348.8 259.9ZM1374.6 268.3A9.9 5.8 95 1 0 1376.4 248.5A9.9 5.8 95 1 0 1374.6 268.3ZM1370.2 259.8A9.7 6.5 7 1 0 1350.9 257.6A9.7 6.5 7 1 0 1370.2 259.8ZM1118.4 290.7A9.3 5.9 64 1 0 1110.3 273.9A9.3 5.9 64 1 0 1118.4 290.7ZM1224.1 272.6A7.7 5.5 93 1 0 1225.0 257.1A7.7 5.5 93 1 0 1224.1 272.6ZM1238.5 280.7A8.0 6.9 138 1 0 1250.3 269.9A8.0 6.9 138 1 0 1238.5 280.7ZM1261.1 274.4A10.0 6.9 139 1 0 1276.2 261.5A10.0 6.9 139 1 0 1261.1 274.4ZM1281.5 284.2A9.5 5.7 82 1 0 1278.9 265.4A9.5 5.7 82 1 0 1281.5 284.2ZM1284.4 273.2A7.7 5.8 171 1 0 1299.6 270.8A7.7 5.8 171 1 0 1284.4 273.2ZM1333.6 273.6A8.8 6.0 99 1 0 1336.3 256.2A8.8 6.0 99 1 0 1333.6 273.6ZM1320.4 290.0A9.7 6.0 127 1 0 1332.1 274.5A9.7 6.0 127 1 0 1320.4 290.0ZM1090.4 295.7A7.7 5.2 22 1 0 1076.1 289.9A7.7 5.2 22 1 0 1090.4 295.7ZM1115.4 298.7A9.6 7.2 120 1 0 1124.9 282.0A9.6 7.2 120 1 0 1115.4 298.7ZM1153.1 293.4A8.9 6.3 10 1 0 1135.5 290.2A8.9 6.3 10 1 0 1153.1 293.4ZM1178.2 295.3A10.3 5.2 122 1 0 1189.3 277.9A10.3 5.2 122 1 0 1178.2 295.3ZM1217.9 309.1A10.1 6.2 42 1 0 1202.9 295.5A10.1 6.2 42 1 0 1217.9 309.1ZM1207.3 302.6A10.0 7.1 104 1 0 1212.2 283.2A10.0 7.1 104 1 0 1207.3 302.6ZM1225.2 309.7A7.5 5.3 106 1 0 1229.2 295.2A7.5 5.3 106 1 0 1225.2 309.7ZM1292.0 292.7A10.4 6.9 19 1 0 1272.2 285.9A10.4 6.9 19 1 0 1292.0 292.7ZM1302.0 304.9A8.6 6.8 101 1 0 1305.2 287.9A8.6 6.8 101 1 0 1302.0 304.9ZM1102.2 321.9A7.7 6.9 125 1 0 1111.1 309.4A7.7 6.9 125 1 0 1102.2 321.9ZM1114.1 320.4A8.9 6.1 161 1 0 1130.9 314.7A8.9 6.1 161 1 0 1114.1 320.4ZM1118.9 315.9A8.6 7.2 123 1 0 1128.1 301.3A8.6 7.2 123 1 0 1118.9 315.9ZM1186.6 324.7A9.5 6.3 105 1 0 1191.5 306.3A9.5 6.3 105 1 0 1186.6 324.7ZM1226.9 320.3A9.9 5.1 156 1 0 1245.0 312.1A9.9 5.1 156 1 0 1226.9 320.3ZM1212.8 324.6A9.1 5.2 160 1 0 1229.8 318.3A9.1 5.2 160 1 0 1212.8 324.6ZM1279.0 327.6A8.2 7.0 73 1 0 1274.1 311.9A8.2 7.0 73 1 0 1279.0 327.6ZM1287.7 307.9A8.0 5.7 158 1 0 1302.5 301.9A8.0 5.7 158 1 0 1287.7 307.9ZM1117.6 330.8A10.0 6.6 8 1 0 1097.8 328.2A10.0 6.6 8 1 0 1117.6 330.8ZM1112.3 343.7A10.5 6.5 98 1 0 1115.3 323.0A10.5 6.5 98 1 0 1112.3 343.7ZM1137.9 331.9A8.3 6.1 113 1 0 1144.4 316.7A8.3 6.1 113 1 0 1137.9 331.9ZM1233.5 331.4A7.8 6.4 97 1 0 1235.3 315.9A7.8 6.4 97 1 0 1233.5 331.4ZM1233.8 337.9A8.0 6.3 131 1 0 1244.4 325.9A8.0 6.3 131 1 0 1233.8 337.9ZM1334.5 347.1A8.1 5.8 134 1 0 1345.8 335.5A8.1 5.8 134 1 0 1334.5 347.1ZM1381.3 335.4A10.0 5.5 39 1 0 1365.7 322.8A10.0 5.5 39 1 0 1381.3 335.4ZM1391.4 334.3A9.4 5.8 73 1 0 1385.7 316.3A9.4 5.8 73 1 0 1391.4 334.3ZM1187.6 366.4A10.2 6.8 145 1 0 1204.3 354.7A10.2 6.8 145 1 0 1187.6 366.4ZM1379.8 355.3A9.4 6.7 121 1 0 1389.6 339.1A9.4 6.7 121 1 0 1379.8 355.3ZM1083.6 378.6A8.0 6.1 106 1 0 1087.9 363.1A8.0 6.1 106 1 0 1083.6 378.6ZM1162.5 376.5A8.0 6.0 46 1 0 1151.3 365.0A8.0 6.0 46 1 0 1162.5 376.5ZM1177.4 386.0A9.8 6.3 84 1 0 1175.3 366.5A9.8 6.3 84 1 0 1177.4 386.0ZM1269.5 375.4A10.3 5.7 81 1 0 1266.2 355.0A10.3 5.7 81 1 0 1269.5 375.4ZM1161.8 395.7A9.7 5.7 131 1 0 1174.6 381.0A9.7 5.7 131 1 0 1161.8 395.7Z"/><path fill="rgb(0,135,20)" d="M1164.4 98.3A5.5 4.3 142 1 0 1173.1 91.4A5.5 4.3 142 1 0 1164.4 98.3ZM1199.9 102.9A5.3 4.3 108 1 0 1203.1 92.7A5.3 4.3 108 1 0 1199.9 102.9ZM1201.4 93.6A6.2 3.6 73 1 0 1197.9 81.7A6.2 3.6 73 1 0 1201.4 93.6ZM1201.8 96.7A6.0 3.8 173 1 0 1213.7 95.4A6.0 3.8 173 1 0 1201.8 96.7ZM1121.3 122.3A6.3 4.3 66 1 0 1116.0 110.8A6.3 4.3 66 1 0 1121.3 122.3ZM1212.0 113.6A6.1 3.3 96 1 0 1213.3 101.5A6.1 3.3 96 1 0 1212.0 113.6ZM1251.6 120.3A5.8 4.4 133 1 0 1259.4 111.7A5.8 4.4 133 1 0 1251.6 120.3ZM1269.0 114.2A5.2 4.1 84 1 0 1267.9 103.8A5.2 4.1 84 1 0 1269.0 114.2ZM1346.6 116.2A4.9 3.3 79 1 0 1344.8 106.5A4.9 3.3 79 1 0 1346.6 116.2ZM1085.7 148.6A5.4 4.0 36 1 0 1077.0 142.2A5.4 4.0 36 1 0 1085.7 148.6ZM1112.6 135.5A5.8 3.7 134 1 0 1120.7 127.2A5.8 3.7 134 1 0 1112.6 135.5ZM1134.6 141.0A4.6 4.0 161 1 0 1143.4 137.9A4.6 4.0 161 1 0 1134.6 141.0ZM1177.7 144.9A6.0 4.1 24 1 0 1166.8 140.0A6.0 4.1 24 1 0 1177.7 144.9ZM1258.1 138.0A5.4 3.6 59 1 0 1252.5 128.7A5.4 3.6 59 1 0 1258.1 138.0ZM1290.7 131.5A4.8 3.9 29 1 0 1282.3 126.9A4.8 3.9 29 1 0 1290.7 131.5ZM1386.2 143.6A5.1 3.6 79 1 0 1384.3 133.7A5.1 3.6 79 1 0 1386.2 143.6ZM1086.3 164.3A5.4 4.0 116 1 0 1091.1 154.7A5.4 4.0 116 1 0 1086.3 164.3ZM1120.6 167.1A5.6 3.6 64 1 0 1115.7 157.1A5.6 3.6 64 1 0 1120.6 167.1ZM1140.9 156.6A6.0 3.8 79 1 0 1138.6 144.9A6.0 3.8 79 1 0 1140.9 156.6ZM1152.5 158.1A5.1 3.1 160 1 0 1162.0 154.6A5.1 3.1 160 1 0 1152.5 158.1ZM1161.7 151.6A6.2 4.1 122 1 0 1168.3 141.0A6.2 4.1 122 1 0 1161.7 151.6ZM1197.5 154.3A4.6 3.5 58 1 0 1192.6 146.4A4.6 3.5 58 1 0 1197.5 154.3ZM1195.6 167.7A6.0 4.0 101 1 0 1197.8 155.8A6.0 4.0 101 1 0 1195.6 167.7ZM1237.0 162.9A5.3 4.1 135 1 0 1244.6 155.5A5.3 4.1 135 1 0 1237.0 162.9ZM1276.4 164.4A4.8 4.1 46 1 0 1269.7 157.6A4.8 4.1 46 1 0 1276.4 164.4ZM1293.4 155.4A4.9 4.1 132 1 0 1300.0 148.1A4.9 4.1 132 1 0 1293.4 155.4ZM1310.6 156.3A4.8 4.0 141 1 0 1318.0 150.2A4.8 4.0 141 1 0 1310.6 156.3ZM1344.7 161.0A6.3 3.4 8 1 0 1332.2 159.2A6.3 3.4 8 1 0 1344.7 161.0ZM1367.8 164.9A5.4 3.7 73 1 0 1364.7 154.6A5.4 3.7 73 1 0 1367.8 164.9ZM1388.5 168.5A4.6 3.4 119 1 0 1393.0 160.5A4.6 3.4 119 1 0 1388.5 168.5ZM1383.4 151.8A5.6 3.2 160 1 0 1393.9 148.1A5.6 3.2 160 1 0 1383.4 151.8ZM1389.6 153.2A6.0 3.4 6 1 0 1377.6 152.0A6.0 3.4 6 1 0 1389.6 153.2ZM1114.6 185.6A6.0 4.2 59 1 0 1108.3 175.3A6.0 4.2 59 1 0 1114.6 185.6ZM1139.7 189.2A6.1 4.4 63 1 0 1134.0 178.3A6.1 4.4 63 1 0 1139.7 189.2ZM1143.6 183.5A5.1 4.4 62 1 0 1138.8 174.6A5.1 4.4 62 1 0 1143.6 183.5ZM1153.5 169.3A4.9 3.7 175 1 0 1163.2 168.4A4.9 3.7 175 1 0 1153.5 169.3ZM1248.2 183.5A4.5 4.4 45 1 0 1241.8 177.2A4.5 4.4 45 1 0 1248.2 183.5ZM1261.9 190.3A5.3 4.2 64 1 0 1257.3 180.7A5.3 4.2 64 1 0 1261.9 190.3ZM1273.2 188.2A5.2 4.1 115 1 0 1277.6 178.8A5.2 4.1 115 1 0 1273.2 188.2ZM1270.0 173.7A6.3 4.4 7 1 0 1257.5 172.3A6.3 4.4 7 1 0 1270.0 173.7ZM1118.6 204.5A5.5 4.0 158 1 0 1128.8 200.4A5.5 4.0 158 1 0 1118.6 204.5ZM1216.7 202.0A5.0 3.9 89 1 0 1216.6 191.9A5.0 3.9 89 1 0 1216.7 202.0ZM1273.6 201.3A4.5 3.4 32 1 0 1265.9 196.5A4.5 3.4 32 1 0 1273.6 201.3ZM1292.7 202.7A5.1 3.2 36 1 0 1284.4 196.7A5.1 3.2 36 1 0 1292.7 202.7ZM1369.6 199.0A4.6 4.1 121 1 0 1374.4 191.1A4.6 4.1 121 1 0 1369.6 199.0ZM1397.6 199.6A4.7 4.0 16 1 0 1388.6 197.0A4.7 4.0 16 1 0 1397.6 199.6ZM1150.9 213.6A6.2 3.2 164 1 0 1162.7 210.1A6.2 3.2 164 1 0 1150.9 213.6ZM1282.1 218.9A5.8 4.2 104 1 0 1284.9 207.6A5.8 4.2 104 1 0 1282.1 218.9ZM1293.4 215.3A5.4 3.7 119 1 0 1298.7 205.9A5.4 3.7 119 1 0 1293.4 215.3ZM1289.0 229.1A5.8 4.1 80 1 0 1287.0 217.6A5.8 4.1 80 1 0 1289.0 229.1ZM1341.6 214.3A6.0 3.8 132 1 0 1349.6 205.4A6.0 3.8 132 1 0 1341.6 214.3ZM1342.6 224.0A4.9 3.9 137 1 0 1349.8 217.3A4.9 3.9 137 1 0 1342.6 224.0ZM1250.8 234.7A5.8 4.2 97 1 0 1252.2 223.3A5.8 4.2 97 1 0 1250.8 234.7ZM1267.5 240.9A4.8 4.2 50 1 0 1261.3 233.6A4.8 4.2 50 1 0 1267.5 240.9ZM1344.1 244.0A6.3 3.2 95 1 0 1345.3 231.5A6.3 3.2 95 1 0 1344.1 244.0ZM1113.6 266.9A6.3 3.2 132 1 0 1122.0 257.6A6.3 3.2 132 1 0 1113.6 266.9ZM1215.1 259.2A4.8 3.9 12 1 0 1205.8 257.2A4.8 3.9 12 1 0 1215.1 259.2ZM1324.7 255.2A5.0 3.8 18 1 0 1315.3 252.1A5.0 3.8 18 1 0 1324.7 255.2ZM1133.7 274.9A5.0 3.6 152 1 0 1142.5 270.3A5.0 3.6 152 1 0 1133.7 274.9ZM1219.7 267.0A5.6 4.1 4 1 0 1208.4 266.2A5.6 4.1 4 1 0 1219.7 267.0ZM1225.2 288.1A5.7 4.0 97 1 0 1226.7 276.8A5.7 4.0 97 1 0 1225.2 288.1ZM1241.7 278.9A4.9 3.7 40 1 0 1234.2 272.7A4.9 3.7 40 1 0 1241.7 278.9ZM1262.1 281.0A5.7 3.6 76 1 0 1259.4 270.0A5.7 3.6 76 1 0 1262.1 281.0ZM1087.0 295.1A4.6 3.3 22 1 0 1078.4 291.6A4.6 3.3 22 1 0 1087.0 295.1ZM1122.0 287.6A4.6 3.4 133 1 0 1128.4 280.9A4.6 3.4 133 1 0 1122.0 287.6ZM1179.7 291.2A6.2 3.2 122 1 0 1186.3 280.7A6.2 3.2 122 1 0 1179.7 291.2ZM1214.1 306.8A6.1 3.9 42 1 0 1205.2 298.6A6.1 3.9 42 1 0 1214.1 306.8ZM1213.2 301.5A5.7 3.8 131 1 0 1220.6 292.8A5.7 3.8 131 1 0 1213.2 301.5ZM1208.9 299.1A6.0 4.4 104 1 0 1211.8 287.5A6.0 4.4 104 1 0 1208.9 299.1ZM1247.8 306.5A5.2 3.5 49 1 0 1240.9 298.6A5.2 3.5 49 1 0 1247.8 306.5ZM1268.8 303.4A5.7 4.4 61 1 0 1263.4 293.5A5.7 4.4 61 1 0 1268.8 303.4ZM1258.5 288.8A5.2 3.7 114 1 0 1262.7 279.2A5.2 3.7 114 1 0 1258.5 288.8ZM1313.5 294.9A4.6 3.4 72 1 0 1310.7 286.2A4.6 3.4 72 1 0 1313.5 294.9ZM1301.5 300.8A5.2 4.2 101 1 0 1303.5 290.6A5.2 4.2 101 1 0 1301.5 300.8ZM1319.3 302.9A4.9 3.9 89 1 0 1319.2 293.0A4.9 3.9 89 1 0 1319.3 302.9ZM1115.8 308.7A5.1 4.3 9 1 0 1105.8 307.0A5.1 4.3 9 1 0 1115.8 308.7ZM1105.0 318.9A4.6 4.3 125 1 0 1110.3 311.4A4.6 4.3 125 1 0 1105.0 318.9ZM1118.3 319.4A5.3 3.8 161 1 0 1128.4 316.0A5.3 3.8 161 1 0 1118.3 319.4ZM1174.6 326.0A4.7 3.7 149 1 0 1182.5 321.2A4.7 3.7 149 1 0 1174.6 326.0ZM1217.4 317.6A5.0 3.6 97 1 0 1218.6 307.6A5.0 3.6 97 1 0 1217.4 317.6ZM1200.1 320.7A5.5 4.0 133 1 0 1207.5 312.6A5.5 4.0 133 1 0 1200.1 320.7ZM1216.6 323.7A5.5 3.2 160 1 0 1226.9 319.9A5.5 3.2 160 1 0 1216.6 323.7ZM1291.8 306.5A4.8 3.5 158 1 0 1300.7 302.9A4.8 3.5 158 1 0 1291.8 306.5ZM1174.8 341.3A6.1 3.5 4 1 0 1162.6 340.6A6.1 3.5 4 1 0 1174.8 341.3ZM1183.9 344.7A6.1 3.6 124 1 0 1190.8 334.7A6.1 3.6 124 1 0 1183.9 344.7ZM1232.7 327.9A4.7 4.0 97 1 0 1233.9 318.6A4.7 4.0 97 1 0 1232.7 327.9ZM1336.4 345.8A4.9 3.6 134 1 0 1343.2 338.8A4.9 3.6 134 1 0 1336.4 345.8ZM1359.8 337.9A6.1 3.5 60 1 0 1353.6 327.4A6.1 3.5 60 1 0 1359.8 337.9ZM1133.1 363.5A6.1 4.0 123 1 0 1139.7 353.4A6.1 4.0 123 1 0 1133.1 363.5ZM1190.7 364.7A6.1 4.2 145 1 0 1200.8 357.7A6.1 4.2 145 1 0 1190.7 364.7ZM1244.7 351.4A4.6 4.4 158 1 0 1253.2 348.0A4.6 4.4 158 1 0 1244.7 351.4ZM1361.5 359.2A4.5 3.3 65 1 0 1357.6 351.0A4.5 3.3 65 1 0 1361.5 359.2ZM1382.2 350.8A5.7 4.1 121 1 0 1388.0 341.1A5.7 4.1 121 1 0 1382.2 350.8ZM1178.6 368.0A4.6 3.1 87 1 0 1178.1 358.9A4.6 3.1 87 1 0 1178.6 368.0ZM1194.6 373.3A6.2 3.6 52 1 0 1187.0 363.6A6.2 3.6 52 1 0 1194.6 373.3ZM1265.9 373.6A5.6 3.5 145 1 0 1275.0 367.3A5.6 3.5 145 1 0 1265.9 373.6ZM1113.6 389.9A4.8 4.3 99 1 0 1115.2 380.4A4.8 4.3 99 1 0 1113.6 389.9ZM1178.9 395.6A5.4 4.1 56 1 0 1172.9 386.7A5.4 4.1 56 1 0 1178.9 395.6ZM1188.5 402.0A5.5 4.0 58 1 0 1182.7 392.6A5.5 4.0 58 1 0 1188.5 402.0Z"/><path fill="rgb(0,155,23)" d="M1169.6 109.2A5.0 3.5 106 1 0 1172.4 99.7A5.0 3.5 106 1 0 1169.6 109.2ZM1236.8 96.6A5.6 3.8 16 1 0 1226.0 93.6A5.6 3.8 16 1 0 1236.8 96.6ZM1275.6 101.5A5.0 3.3 159 1 0 1285.1 97.9A5.0 3.3 159 1 0 1275.6 101.5ZM1302.2 104.1A4.7 3.8 165 1 0 1311.2 101.7A4.7 3.8 165 1 0 1302.2 104.1ZM1099.2 107.6A6.2 3.4 0 1 0 1086.8 107.6A6.2 3.4 0 1 0 1099.2 107.6ZM1244.8 112.3A4.5 4.2 32 1 0 1237.1 107.5A4.5 4.2 32 1 0 1244.8 112.3ZM1090.8 129.4A6.2 4.0 143 1 0 1100.8 121.9A6.2 4.0 143 1 0 1090.8 129.4ZM1098.1 135.6A5.1 4.0 15 1 0 1088.3 133.0A5.1 4.0 15 1 0 1098.1 135.6ZM1136.9 133.6A5.1 3.9 83 1 0 1135.6 123.5A5.1 3.9 83 1 0 1136.9 133.6ZM1156.9 133.4A6.1 3.3 65 1 0 1151.7 122.3A6.1 3.3 65 1 0 1156.9 133.4ZM1169.2 129.9A6.3 3.6 142 1 0 1179.2 122.2A6.3 3.6 142 1 0 1169.2 129.9ZM1212.5 145.4A6.0 4.1 134 1 0 1220.9 136.8A6.0 4.1 134 1 0 1212.5 145.4ZM1249.8 127.2A5.7 4.0 177 1 0 1261.2 126.7A5.7 4.0 177 1 0 1249.8 127.2ZM1265.3 147.2A5.4 3.4 55 1 0 1259.1 138.3A5.4 3.4 55 1 0 1265.3 147.2ZM1299.1 136.7A4.7 3.6 73 1 0 1296.4 127.7A4.7 3.6 73 1 0 1299.1 136.7ZM1307.7 143.3A5.7 3.7 2 1 0 1296.3 142.9A5.7 3.7 2 1 0 1307.7 143.3ZM1115.0 147.2A4.5 3.3 153 1 0 1123.1 143.2A4.5 3.3 153 1 0 1115.0 147.2ZM1102.4 151.6A5.7 3.2 72 1 0 1099.0 140.8A5.7 3.2 72 1 0 1102.4 151.6ZM1119.4 153.2A6.2 3.7 129 1 0 1127.3 143.6A6.2 3.7 129 1 0 1119.4 153.2ZM1133.4 153.5A4.9 3.7 58 1 0 1128.2 145.3A4.9 3.7 58 1 0 1133.4 153.5ZM1166.1 160.3A6.1 3.8 152 1 0 1176.7 154.5A6.1 3.8 152 1 0 1166.1 160.3ZM1182.9 165.1A6.0 3.3 30 1 0 1172.5 159.2A6.0 3.3 30 1 0 1182.9 165.1ZM1252.6 161.4A5.2 3.6 68 1 0 1248.6 151.8A5.2 3.6 68 1 0 1252.6 161.4ZM1269.9 162.8A5.8 4.2 23 1 0 1259.2 158.2A5.8 4.2 23 1 0 1269.9 162.8ZM1274.5 152.5A5.0 3.7 31 1 0 1265.9 147.4A5.0 3.7 31 1 0 1274.5 152.5ZM1281.6 158.8A5.0 3.7 93 1 0 1282.1 148.8A5.0 3.7 93 1 0 1281.6 158.8ZM1308.6 166.7A5.4 4.1 70 1 0 1304.8 156.6A5.4 4.1 70 1 0 1308.6 166.7ZM1386.8 160.4A5.7 4.4 153 1 0 1397.0 155.3A5.7 4.4 153 1 0 1386.8 160.4ZM1100.7 177.1A5.1 3.4 2 1 0 1090.5 176.6A5.1 3.4 2 1 0 1100.7 177.1ZM1179.0 190.9A6.0 3.3 107 1 0 1182.4 179.4A6.0 3.3 107 1 0 1179.0 190.9ZM1241.5 174.3A5.0 3.8 39 1 0 1233.7 168.1A5.0 3.8 39 1 0 1241.5 174.3ZM1274.3 169.3A5.3 4.1 149 1 0 1283.4 163.9A5.3 4.1 149 1 0 1274.3 169.3ZM1337.5 173.1A5.9 3.7 107 1 0 1341.0 161.9A5.9 3.7 107 1 0 1337.5 173.1ZM1372.0 177.1A5.6 4.3 16 1 0 1361.2 174.0A5.6 4.3 16 1 0 1372.0 177.1ZM1380.7 180.6A5.6 3.6 103 1 0 1383.2 169.7A5.6 3.6 103 1 0 1380.7 180.6ZM1141.9 204.1A5.2 4.2 162 1 0 1151.7 200.9A5.2 4.2 162 1 0 1141.9 204.1ZM1222.1 200.5A5.7 4.4 159 1 0 1232.8 196.5A5.7 4.4 159 1 0 1222.1 200.5ZM1243.0 204.1A5.4 4.4 108 1 0 1246.3 193.7A5.4 4.4 108 1 0 1243.0 204.1ZM1260.4 205.6A5.8 4.2 69 1 0 1256.3 194.8A5.8 4.2 69 1 0 1260.4 205.6ZM1302.5 198.1A6.1 3.6 167 1 0 1314.4 195.3A6.1 3.6 167 1 0 1302.5 198.1ZM1318.8 197.3A4.8 3.9 64 1 0 1314.6 188.6A4.8 3.9 64 1 0 1318.8 197.3ZM1123.1 223.4A5.6 3.4 126 1 0 1129.6 214.3A5.6 3.4 126 1 0 1123.1 223.4ZM1130.9 217.3A4.7 4.0 134 1 0 1137.4 210.5A4.7 4.0 134 1 0 1130.9 217.3ZM1265.1 221.1A5.9 3.2 134 1 0 1273.4 212.7A5.9 3.2 134 1 0 1265.1 221.1ZM1261.0 207.6A5.1 3.8 176 1 0 1271.2 206.8A5.1 3.8 176 1 0 1261.0 207.6ZM1309.7 212.1A5.6 3.6 27 1 0 1299.6 207.0A5.6 3.6 27 1 0 1309.7 212.1ZM1370.0 221.8A5.4 3.6 17 1 0 1359.7 218.6A5.4 3.6 17 1 0 1370.0 221.8ZM1257.0 246.5A4.7 3.5 139 1 0 1264.1 240.4A4.7 3.5 139 1 0 1257.0 246.5ZM1287.5 239.4A5.4 4.4 158 1 0 1297.4 235.4A5.4 4.4 158 1 0 1287.5 239.4ZM1309.7 238.7A4.6 3.4 172 1 0 1318.8 237.3A4.6 3.4 172 1 0 1309.7 238.7ZM1376.0 230.3A5.1 4.2 17 1 0 1366.3 227.3A5.1 4.2 17 1 0 1376.0 230.3ZM1236.4 251.2A5.1 4.3 178 1 0 1246.6 250.7A5.1 4.3 178 1 0 1236.4 251.2ZM1248.4 266.8A5.0 4.0 70 1 0 1245.0 257.3A5.0 4.0 70 1 0 1248.4 266.8ZM1314.5 262.8A5.9 4.3 70 1 0 1310.5 251.6A5.9 4.3 70 1 0 1314.5 262.8ZM1324.3 266.9A5.2 4.3 69 1 0 1320.6 257.3A5.2 4.3 69 1 0 1324.3 266.9ZM1347.7 266.4A4.7 3.7 101 1 0 1349.5 257.1A4.7 3.7 101 1 0 1347.7 266.4ZM1343.2 252.8A5.5 4.0 29 1 0 1333.5 247.5A5.5 4.0 29 1 0 1343.2 252.8ZM1374.2 264.9A6.0 3.6 95 1 0 1375.2 253.1A6.0 3.6 95 1 0 1374.2 264.9ZM1116.8 286.6A5.6 3.7 64 1 0 1111.9 276.6A5.6 3.7 64 1 0 1116.8 286.6ZM1108.8 279.2A4.6 3.6 51 1 0 1103.1 272.1A4.6 3.6 51 1 0 1108.8 279.2ZM1131.3 268.0A6.0 3.9 147 1 0 1141.5 261.4A6.0 3.9 147 1 0 1131.3 268.0ZM1199.8 281.7A4.6 4.3 158 1 0 1208.3 278.2A4.6 4.3 158 1 0 1199.8 281.7ZM1253.7 281.7A5.0 3.8 83 1 0 1252.4 271.8A5.0 3.8 83 1 0 1253.7 281.7ZM1265.1 271.8A6.0 4.3 139 1 0 1274.1 264.0A6.0 4.3 139 1 0 1265.1 271.8ZM1287.3 273.9A4.6 3.6 171 1 0 1296.5 272.4A4.6 3.6 171 1 0 1287.3 273.9ZM1316.2 270.4A5.6 4.2 86 1 0 1315.5 259.3A5.6 4.2 86 1 0 1316.2 270.4ZM1333.0 269.6A5.3 3.7 99 1 0 1334.6 259.1A5.3 3.7 99 1 0 1333.0 269.6ZM1322.3 286.6A5.8 3.7 127 1 0 1329.4 277.3A5.8 3.7 127 1 0 1322.3 286.6ZM1348.1 282.9A5.6 3.3 73 1 0 1344.9 272.2A5.6 3.3 73 1 0 1348.1 282.9ZM1106.8 292.0A5.7 4.0 128 1 0 1113.8 283.0A5.7 4.0 128 1 0 1106.8 292.0ZM1133.2 295.6A5.7 3.7 49 1 0 1125.7 286.9A5.7 3.7 49 1 0 1133.2 295.6ZM1181.5 300.1A5.3 3.3 149 1 0 1190.6 294.6A5.3 3.3 149 1 0 1181.5 300.1ZM1203.8 288.2A5.1 3.7 164 1 0 1213.6 285.4A5.1 3.7 164 1 0 1203.8 288.2ZM1237.4 298.6A5.4 3.2 12 1 0 1226.9 296.4A5.4 3.2 12 1 0 1237.4 298.6ZM1240.0 292.3A4.5 3.9 74 1 0 1237.5 283.6A4.5 3.9 74 1 0 1240.0 292.3ZM1227.1 305.8A4.5 3.3 106 1 0 1229.6 297.1A4.5 3.3 106 1 0 1227.1 305.8ZM1292.4 294.6A5.9 4.1 101 1 0 1294.7 283.0A5.9 4.1 101 1 0 1292.4 294.6ZM1120.4 313.6A5.2 4.5 123 1 0 1125.9 304.9A5.2 4.5 123 1 0 1120.4 313.6ZM1155.1 312.9A5.7 3.7 128 1 0 1162.1 303.9A5.7 3.7 128 1 0 1155.1 312.9ZM1175.1 318.3A4.6 3.6 139 1 0 1182.1 312.2A4.6 3.6 139 1 0 1175.1 318.3ZM1257.6 321.6A6.1 3.2 46 1 0 1249.0 312.8A6.1 3.2 46 1 0 1257.6 321.6ZM1266.2 308.8A5.5 4.1 127 1 0 1272.8 299.9A5.5 4.1 127 1 0 1266.2 308.8ZM1267.9 318.8A5.3 4.4 36 1 0 1259.4 312.5A5.3 4.4 36 1 0 1267.9 318.8ZM1289.4 310.3A5.6 3.4 70 1 0 1285.5 299.8A5.6 3.4 70 1 0 1289.4 310.3ZM1312.7 324.2A5.3 3.7 76 1 0 1310.2 314.0A5.3 3.7 76 1 0 1312.7 324.2ZM1113.4 331.0A6.0 4.1 8 1 0 1101.5 329.4A6.0 4.1 8 1 0 1113.4 331.0ZM1142.3 334.2A6.2 3.9 51 1 0 1134.5 324.6A6.2 3.9 51 1 0 1142.3 334.2ZM1138.7 327.8A5.0 3.8 113 1 0 1142.7 318.8A5.0 3.8 113 1 0 1138.7 327.8ZM1153.5 337.6A5.4 3.7 163 1 0 1163.8 334.4A5.4 3.7 163 1 0 1153.5 337.6ZM1217.8 334.2A5.5 3.5 0 1 0 1206.9 334.2A5.5 3.5 0 1 0 1217.8 334.2ZM1236.2 334.3A4.8 3.9 131 1 0 1242.6 327.1A4.8 3.9 131 1 0 1236.2 334.3ZM1248.0 329.5A4.5 3.2 116 1 0 1252.0 321.4A4.5 3.2 116 1 0 1248.0 329.5ZM1289.9 335.7A5.6 3.9 76 1 0 1287.3 324.8A5.6 3.9 76 1 0 1289.9 335.7ZM1368.7 345.3A4.7 3.7 91 1 0 1368.8 335.8A4.7 3.7 91 1 0 1368.7 345.3ZM1357.6 326.2A5.0 3.4 169 1 0 1367.4 324.2A5.0 3.4 169 1 0 1357.6 326.2ZM1389.8 331.5A5.7 3.6 73 1 0 1386.4 320.7A5.7 3.6 73 1 0 1389.8 331.5ZM1236.1 346.8A5.3 3.9 160 1 0 1246.0 343.1A5.3 3.9 160 1 0 1236.1 346.8ZM1123.3 367.8A5.4 3.2 2 1 0 1112.6 367.4A5.4 3.2 2 1 0 1123.3 367.8ZM1245.4 369.1A4.5 4.2 132 1 0 1251.5 362.4A4.5 4.2 132 1 0 1245.4 369.1ZM1165.0 391.8A5.8 3.6 131 1 0 1172.7 383.0A5.8 3.6 131 1 0 1165.0 391.8ZM1264.3 393.9A5.9 4.4 6 1 0 1252.6 392.6A5.9 4.4 6 1 0 1264.3 393.9ZM1388.9 385.8A6.0 4.4 178 1 0 1400.9 385.5A6.0 4.4 178 1 0 1388.9 385.8Z"/><path fill="rgb(0,175,26)" d="M1100.9 107.2A6.1 4.0 53 1 0 1093.5 97.5A6.1 4.0 53 1 0 1100.9 107.2ZM1089.7 94.0A5.9 3.7 27 1 0 1079.2 88.8A5.9 3.7 27 1 0 1089.7 94.0ZM1113.7 101.7A6.0 3.2 107 1 0 1117.1 90.1A6.0 3.2 107 1 0 1113.7 101.7ZM1191.5 111.9A6.0 3.9 92 1 0 1191.9 100.0A6.0 3.9 92 1 0 1191.5 111.9ZM1275.1 94.5A5.7 4.3 144 1 0 1284.3 87.9A5.7 4.3 144 1 0 1275.1 94.5ZM1343.6 97.4A4.7 3.4 15 1 0 1334.6 95.0A4.7 3.4 15 1 0 1343.6 97.4ZM1084.7 117.8A6.2 4.4 129 1 0 1092.4 108.2A6.2 4.4 129 1 0 1084.7 117.8ZM1085.2 127.4A5.8 3.3 69 1 0 1081.0 116.6A5.8 3.3 69 1 0 1085.2 127.4ZM1197.1 113.2A4.5 4.3 108 1 0 1199.8 104.6A4.5 4.3 108 1 0 1197.1 113.2ZM1201.7 126.7A4.6 3.8 133 1 0 1207.9 120.0A4.6 3.8 133 1 0 1201.7 126.7ZM1336.3 129.5A6.1 3.6 100 1 0 1338.4 117.5A6.1 3.6 100 1 0 1336.3 129.5ZM1116.9 140.7A6.2 4.3 10 1 0 1104.8 138.5A6.2 4.3 10 1 0 1116.9 140.7ZM1127.0 145.6A5.4 3.8 125 1 0 1133.2 136.7A5.4 3.8 125 1 0 1127.0 145.6ZM1189.6 135.4A6.3 4.1 116 1 0 1195.1 124.1A6.3 4.1 116 1 0 1189.6 135.4ZM1187.6 133.8A5.0 3.6 4 1 0 1177.5 133.1A5.0 3.6 4 1 0 1187.6 133.8ZM1209.8 148.1A5.7 3.7 34 1 0 1200.4 141.7A5.7 3.7 34 1 0 1209.8 148.1ZM1206.6 136.3A5.3 3.4 144 1 0 1215.3 130.0A5.3 3.4 144 1 0 1206.6 136.3ZM1242.0 140.9A6.2 3.2 136 1 0 1251.0 132.3A6.2 3.2 136 1 0 1242.0 140.9ZM1265.3 140.2A6.2 3.3 174 1 0 1277.6 138.9A6.2 3.3 174 1 0 1265.3 140.2ZM1311.7 131.4A5.5 3.7 122 1 0 1317.5 122.1A5.5 3.7 122 1 0 1311.7 131.4ZM1386.8 148.5A4.7 3.4 45 1 0 1380.1 141.9A4.7 3.4 45 1 0 1386.8 148.5ZM1089.9 159.4A5.0 4.1 179 1 0 1099.9 159.2A5.0 4.1 179 1 0 1089.9 159.4ZM1215.0 166.8A4.9 3.6 60 1 0 1210.1 158.4A4.9 3.6 60 1 0 1215.0 166.8ZM1290.5 151.4A5.3 3.2 81 1 0 1288.9 140.9A5.3 3.2 81 1 0 1290.5 151.4ZM1306.4 158.6A5.5 3.6 10 1 0 1295.6 156.8A5.5 3.6 10 1 0 1306.4 158.6ZM1355.6 164.6A4.9 4.1 29 1 0 1347.1 159.9A4.9 4.1 29 1 0 1355.6 164.6ZM1363.8 152.0A4.7 3.9 90 1 0 1363.8 142.7A4.7 3.9 90 1 0 1363.8 152.0ZM1373.3 151.9A4.7 3.4 95 1 0 1374.1 142.5A4.7 3.4 95 1 0 1373.3 151.9ZM1207.2 178.7A4.9 3.5 32 1 0 1198.8 173.6A4.9 3.5 32 1 0 1207.2 178.7ZM1196.9 184.0A5.0 3.6 174 1 0 1206.8 182.9A5.0 3.6 174 1 0 1196.9 184.0ZM1230.3 172.1A6.0 3.3 132 1 0 1238.3 163.2A6.0 3.3 132 1 0 1230.3 172.1ZM1348.8 176.4A5.0 4.2 157 1 0 1358.0 172.5A5.0 4.2 157 1 0 1348.8 176.4ZM1344.8 180.2A4.9 3.6 20 1 0 1335.6 176.9A4.9 3.6 20 1 0 1344.8 180.2ZM1380.3 170.5A5.4 4.0 16 1 0 1369.9 167.6A5.4 4.0 16 1 0 1380.3 170.5ZM1117.3 204.0A4.6 4.1 83 1 0 1116.2 194.9A4.6 4.1 83 1 0 1117.3 204.0ZM1105.3 193.6A4.6 3.5 88 1 0 1105.0 184.5A4.6 3.5 88 1 0 1105.3 193.6ZM1209.6 191.5A5.0 4.2 164 1 0 1219.2 188.8A5.0 4.2 164 1 0 1209.6 191.5ZM1215.6 205.2A5.4 3.4 29 1 0 1206.2 200.0A5.4 3.4 29 1 0 1215.6 205.2ZM1262.3 193.9A4.9 3.8 170 1 0 1272.0 192.2A4.9 3.8 170 1 0 1262.3 193.9ZM1353.0 186.7A5.9 3.3 2 1 0 1341.3 186.1A5.9 3.3 2 1 0 1353.0 186.7ZM1346.6 204.2A5.2 4.2 7 1 0 1336.3 202.9A5.2 4.2 7 1 0 1346.6 204.2ZM1366.8 204.6A4.9 3.3 58 1 0 1361.6 196.3A4.9 3.3 58 1 0 1366.8 204.6ZM1215.8 217.6A5.7 3.5 112 1 0 1220.1 207.1A5.7 3.5 112 1 0 1215.8 217.6ZM1330.9 221.6A5.1 3.9 47 1 0 1323.9 214.2A5.1 3.9 47 1 0 1330.9 221.6ZM1356.4 217.2A5.8 4.1 61 1 0 1350.8 207.0A5.8 4.1 61 1 0 1356.4 217.2ZM1217.1 243.9A5.2 4.4 53 1 0 1210.9 235.6A5.2 4.4 53 1 0 1217.1 243.9ZM1277.7 230.3A5.0 4.3 179 1 0 1287.7 230.1A5.0 4.3 179 1 0 1277.7 230.3ZM1283.1 244.7A5.4 3.4 98 1 0 1284.5 233.9A5.4 3.4 98 1 0 1283.1 244.7ZM1329.9 244.1A5.6 3.4 120 1 0 1335.6 234.5A5.6 3.4 120 1 0 1329.9 244.1ZM1328.5 234.1A5.5 4.0 49 1 0 1321.3 225.7A5.5 4.0 49 1 0 1328.5 234.1ZM1343.7 229.3A4.8 4.3 15 1 0 1334.3 226.9A4.8 4.3 15 1 0 1343.7 229.3ZM1353.3 231.0A6.3 3.1 120 1 0 1359.5 220.1A6.3 3.1 120 1 0 1353.3 231.0ZM1362.5 238.3A5.9 3.9 47 1 0 1354.5 229.6A5.9 3.9 47 1 0 1362.5 238.3ZM1119.8 252.6A6.2 4.0 61 1 0 1113.7 241.7A6.2 4.0 61 1 0 1119.8 252.6ZM1116.4 258.7A4.7 4.1 40 1 0 1109.2 252.7A4.7 4.1 40 1 0 1116.4 258.7ZM1172.7 249.8A5.4 4.0 127 1 0 1179.2 241.1A5.4 4.0 127 1 0 1172.7 249.8ZM1177.4 264.0A4.5 4.4 113 1 0 1180.9 255.6A4.5 4.4 113 1 0 1177.4 264.0ZM1192.9 264.6A4.8 4.4 171 1 0 1202.4 263.2A4.8 4.4 171 1 0 1192.9 264.6ZM1208.8 257.5A5.9 4.2 111 1 0 1213.0 246.4A5.9 4.2 111 1 0 1208.8 257.5ZM1221.3 263.1A5.0 3.6 45 1 0 1214.3 256.0A5.0 3.6 45 1 0 1221.3 263.1ZM1236.7 256.7A5.9 3.4 47 1 0 1228.6 248.2A5.9 3.4 47 1 0 1236.7 256.7ZM1241.7 260.2A6.3 4.2 13 1 0 1229.5 257.5A6.3 4.2 13 1 0 1241.7 260.2ZM1228.7 250.0A4.7 3.1 53 1 0 1223.0 242.4A4.7 3.1 53 1 0 1228.7 250.0ZM1279.9 260.6A5.8 4.2 28 1 0 1269.7 255.3A5.8 4.2 28 1 0 1279.9 260.6ZM1289.2 249.5A4.9 3.9 172 1 0 1298.9 248.2A4.9 3.9 172 1 0 1289.2 249.5ZM1350.4 256.5A4.9 4.2 102 1 0 1352.5 246.9A4.9 4.2 102 1 0 1350.4 256.5ZM1366.3 258.8A5.8 4.0 7 1 0 1354.7 257.5A5.8 4.0 7 1 0 1366.3 258.8ZM1101.4 275.6A5.1 3.8 35 1 0 1093.1 269.7A5.1 3.8 35 1 0 1101.4 275.6ZM1112.6 267.1A5.8 3.4 11 1 0 1101.2 264.8A5.8 3.4 11 1 0 1112.6 267.1ZM1212.6 275.7A4.9 4.1 47 1 0 1206.0 268.5A4.9 4.1 47 1 0 1212.6 275.7ZM1224.5 270.4A4.6 3.4 93 1 0 1225.1 261.2A4.6 3.4 93 1 0 1224.5 270.4ZM1224.7 278.2A6.1 3.7 26 1 0 1213.7 272.9A6.1 3.7 26 1 0 1224.7 278.2ZM1242.1 278.7A4.8 4.3 138 1 0 1249.2 272.2A4.8 4.3 138 1 0 1242.1 278.7ZM1281.3 281.2A5.7 3.5 82 1 0 1279.7 269.9A5.7 3.5 82 1 0 1281.3 281.2ZM1287.3 284.9A6.1 3.7 91 1 0 1287.7 272.7A6.1 3.7 91 1 0 1287.3 284.9ZM1300.8 284.0A4.9 3.8 84 1 0 1299.8 274.2A4.9 3.8 84 1 0 1300.8 284.0ZM1301.6 271.3A5.1 4.4 89 1 0 1301.4 261.1A5.1 4.4 89 1 0 1301.6 271.3ZM1344.7 273.3A5.1 3.2 7 1 0 1334.6 272.1A5.1 3.2 7 1 0 1344.7 273.3ZM1353.9 270.5A4.7 4.3 177 1 0 1363.4 270.0A4.7 4.3 177 1 0 1353.9 270.5ZM1076.1 301.7A6.1 4.4 164 1 0 1087.7 298.3A6.1 4.4 164 1 0 1076.1 301.7ZM1117.5 295.9A5.7 4.4 120 1 0 1123.1 285.9A5.7 4.4 120 1 0 1117.5 295.9ZM1150.3 293.3A5.4 3.9 10 1 0 1139.8 291.4A5.4 3.9 10 1 0 1150.3 293.3ZM1197.5 306.7A5.3 4.3 74 1 0 1194.6 296.4A5.3 4.3 74 1 0 1197.5 306.7ZM1276.0 299.6A6.2 4.5 47 1 0 1267.5 290.5A6.2 4.5 47 1 0 1276.0 299.6ZM1287.9 292.0A6.3 4.3 19 1 0 1276.1 288.0A6.3 4.3 19 1 0 1287.9 292.0ZM1187.8 320.9A5.7 3.9 105 1 0 1190.7 309.9A5.7 3.9 105 1 0 1187.8 320.9ZM1182.6 311.8A5.7 3.9 74 1 0 1179.5 300.9A5.7 3.9 74 1 0 1182.6 311.8ZM1200.8 311.8A4.9 3.6 66 1 0 1196.7 302.9A4.9 3.6 66 1 0 1200.8 311.8ZM1231.5 317.4A6.0 3.2 156 1 0 1242.4 312.5A6.0 3.2 156 1 0 1231.5 317.4ZM1279.2 324.7A4.9 4.4 73 1 0 1276.2 315.3A4.9 4.4 73 1 0 1279.2 324.7ZM1356.3 324.8A4.7 3.7 89 1 0 1356.1 315.5A4.7 3.7 89 1 0 1356.3 324.8ZM1112.7 338.3A6.3 4.0 98 1 0 1114.6 325.9A6.3 4.0 98 1 0 1112.7 338.3ZM1123.0 345.1A5.1 3.3 128 1 0 1129.4 337.0A5.1 3.3 128 1 0 1123.0 345.1ZM1166.4 336.8A4.9 4.1 135 1 0 1173.4 329.8A4.9 4.1 135 1 0 1166.4 336.8ZM1226.3 348.3A6.3 4.2 91 1 0 1226.5 335.7A6.3 4.2 91 1 0 1226.3 348.3ZM1379.0 332.2A6.0 3.4 39 1 0 1369.6 324.6A6.0 3.4 39 1 0 1379.0 332.2ZM1083.9 376.6A4.8 3.8 106 1 0 1086.5 367.3A4.8 3.8 106 1 0 1083.9 376.6ZM1159.5 375.4A4.8 3.7 46 1 0 1152.8 368.4A4.8 3.7 46 1 0 1159.5 375.4ZM1177.7 382.9A5.9 3.9 84 1 0 1176.5 371.2A5.9 3.9 84 1 0 1177.7 382.9ZM1268.7 372.1A6.2 3.5 81 1 0 1266.7 359.9A6.2 3.5 81 1 0 1268.7 372.1ZM1220.2 406.9A5.1 4.0 66 1 0 1216.0 397.5A5.1 4.0 66 1 0 1220.2 406.9ZM1322.6 394.0A5.1 4.0 122 1 0 1328.0 385.4A5.1 4.0 122 1 0 1322.6 394.0ZM1350.6 405.1A4.8 3.2 129 1 0 1356.6 397.5A4.8 3.2 129 1 0 1350.6 405.1ZM1362.5 386.3A5.5 3.6 153 1 0 1372.4 381.3A5.5 3.6 153 1 0 1362.5 386.3Z"/></g><g filter="url(#bl2)"><path fill="rgb(15,225,55)" d="M1189.5 106.3a2.9 2.9 0 1 0 5.7 0a2.9 2.9 0 1 0 -5.7 0ZM1202.2 123.7a3.0 3.0 0 1 0 6.0 0a3.0 3.0 0 1 0 -6.0 0ZM1343.3 112.3a3.3 3.3 0 1 0 6.6 0a3.3 3.3 0 1 0 -6.6 0ZM1090.4 134.6a3.0 3.0 0 1 0 6.0 0a3.0 3.0 0 1 0 -6.0 0ZM1169.5 143.7a3.5 3.5 0 1 0 7.0 0a3.5 3.5 0 1 0 -7.0 0ZM1179.1 134.2a3.3 3.3 0 1 0 6.7 0a3.3 3.3 0 1 0 -6.7 0ZM1202.0 145.5a2.9 2.9 0 1 0 5.7 0a2.9 2.9 0 1 0 -5.7 0ZM1209.1 134.0a2.9 2.9 0 1 0 5.9 0a2.9 2.9 0 1 0 -5.9 0ZM1213.9 141.9a3.3 3.3 0 1 0 6.7 0a3.3 3.3 0 1 0 -6.7 0ZM1251.7 127.0a3.1 3.1 0 1 0 6.2 0a3.1 3.1 0 1 0 -6.2 0ZM1086.2 158.5a3.0 3.0 0 1 0 6.1 0a3.0 3.0 0 1 0 -6.1 0ZM1090.2 158.8a3.5 3.5 0 1 0 7.1 0a3.5 3.5 0 1 0 -7.1 0ZM1127.6 150.2a2.9 2.9 0 1 0 5.8 0a2.9 2.9 0 1 0 -5.8 0ZM1192.1 149.1a3.5 3.5 0 1 0 7.0 0a3.5 3.5 0 1 0 -7.0 0ZM1247.4 155.9a3.2 3.2 0 1 0 6.4 0a3.2 3.2 0 1 0 -6.4 0ZM1262.0 161.3a3.0 3.0 0 1 0 5.9 0a3.0 3.0 0 1 0 -5.9 0ZM1299.0 156.9a3.1 3.1 0 1 0 6.2 0a3.1 3.1 0 1 0 -6.2 0ZM1312.0 153.7a3.0 3.0 0 1 0 6.0 0a3.0 3.0 0 1 0 -6.0 0ZM1334.8 160.5a3.5 3.5 0 1 0 6.9 0a3.5 3.5 0 1 0 -6.9 0ZM1347.6 162.8a3.0 3.0 0 1 0 6.0 0a3.0 3.0 0 1 0 -6.0 0ZM1177.7 185.6a3.1 3.1 0 1 0 6.2 0a3.1 3.1 0 1 0 -6.2 0ZM1261.4 173.1a3.5 3.5 0 1 0 6.9 0a3.5 3.5 0 1 0 -6.9 0ZM1379.4 176.0a3.5 3.5 0 1 0 7.1 0a3.5 3.5 0 1 0 -7.1 0ZM1101.5 189.8a3.0 3.0 0 1 0 6.1 0a3.0 3.0 0 1 0 -6.1 0ZM1241.2 199.6a3.5 3.5 0 1 0 6.9 0a3.5 3.5 0 1 0 -6.9 0ZM1254.8 201.1a2.9 2.9 0 1 0 5.7 0a2.9 2.9 0 1 0 -5.7 0ZM1305.3 197.5a3.3 3.3 0 1 0 6.7 0a3.3 3.3 0 1 0 -6.7 0ZM1360.2 201.2a2.8 2.8 0 1 0 5.6 0a2.8 2.8 0 1 0 -5.6 0ZM1368.4 195.9a3.1 3.1 0 1 0 6.3 0a3.1 3.1 0 1 0 -6.3 0ZM1213.5 212.3a3.5 3.5 0 1 0 7.0 0a3.5 3.5 0 1 0 -7.0 0ZM1353.9 234.0a3.4 3.4 0 1 0 6.8 0a3.4 3.4 0 1 0 -6.8 0ZM1109.3 255.3a3.5 3.5 0 1 0 7.1 0a3.5 3.5 0 1 0 -7.1 0ZM1214.1 260.4a2.9 2.9 0 1 0 5.9 0a2.9 2.9 0 1 0 -5.9 0ZM1223.9 246.7a3.0 3.0 0 1 0 5.9 0a3.0 3.0 0 1 0 -5.9 0ZM1104.6 266.3a3.4 3.4 0 1 0 6.7 0a3.4 3.4 0 1 0 -6.7 0ZM1135.6 271.8a3.6 3.6 0 1 0 7.1 0a3.6 3.6 0 1 0 -7.1 0ZM1134.1 264.1a3.3 3.3 0 1 0 6.7 0a3.3 3.3 0 1 0 -6.7 0ZM1211.0 267.7a3.5 3.5 0 1 0 7.1 0a3.5 3.5 0 1 0 -7.1 0ZM1221.7 281.7a3.0 3.0 0 1 0 5.9 0a3.0 3.0 0 1 0 -5.9 0ZM1215.1 275.9a3.5 3.5 0 1 0 6.9 0a3.5 3.5 0 1 0 -6.9 0ZM1257.7 274.7a2.8 2.8 0 1 0 5.7 0a2.8 2.8 0 1 0 -5.7 0ZM1289.0 274.2a2.8 2.8 0 1 0 5.7 0a2.8 2.8 0 1 0 -5.7 0ZM1298.4 278.0a2.9 2.9 0 1 0 5.8 0a2.9 2.9 0 1 0 -5.8 0ZM1312.6 263.6a3.6 3.6 0 1 0 7.2 0a3.6 3.6 0 1 0 -7.2 0ZM1297.7 265.0a3.1 3.1 0 1 0 6.1 0a3.1 3.1 0 1 0 -6.1 0ZM1078.3 300.2a3.2 3.2 0 1 0 6.4 0a3.2 3.2 0 1 0 -6.4 0ZM1117.5 291.4a2.9 2.9 0 1 0 5.7 0a2.9 2.9 0 1 0 -5.7 0ZM1184.5 296.4a2.8 2.8 0 1 0 5.6 0a2.8 2.8 0 1 0 -5.6 0ZM1179.4 285.3a2.8 2.8 0 1 0 5.6 0a2.8 2.8 0 1 0 -5.6 0ZM1240.0 302.7a3.4 3.4 0 1 0 6.7 0a3.4 3.4 0 1 0 -6.7 0ZM1278.6 290.7a3.3 3.3 0 1 0 6.6 0a3.3 3.3 0 1 0 -6.6 0ZM1105.8 314.6a2.9 2.9 0 1 0 5.7 0a2.9 2.9 0 1 0 -5.7 0ZM1121.1 317.8a3.1 3.1 0 1 0 6.3 0a3.1 3.1 0 1 0 -6.3 0ZM1175.0 324.8a3.5 3.5 0 1 0 7.0 0a3.5 3.5 0 1 0 -7.0 0ZM1178.7 305.1a3.2 3.2 0 1 0 6.4 0a3.2 3.2 0 1 0 -6.4 0ZM1294.1 304.6a3.2 3.2 0 1 0 6.4 0a3.2 3.2 0 1 0 -6.4 0ZM1308.8 318.5a3.1 3.1 0 1 0 6.3 0a3.1 3.1 0 1 0 -6.3 0ZM1110.2 330.9a3.3 3.3 0 1 0 6.6 0a3.3 3.3 0 1 0 -6.6 0ZM1136.4 329.1a3.2 3.2 0 1 0 6.5 0a3.2 3.2 0 1 0 -6.5 0ZM1155.1 337.2a3.4 3.4 0 1 0 6.8 0a3.4 3.4 0 1 0 -6.8 0ZM1167.4 333.3a3.3 3.3 0 1 0 6.6 0a3.3 3.3 0 1 0 -6.6 0ZM1166.9 339.7a2.9 2.9 0 1 0 5.8 0a2.9 2.9 0 1 0 -5.8 0ZM1208.7 333.6a3.1 3.1 0 1 0 6.2 0a3.1 3.1 0 1 0 -6.2 0ZM1236.5 329.6a3.1 3.1 0 1 0 6.3 0a3.1 3.1 0 1 0 -6.3 0ZM1245.5 326.4a3.5 3.5 0 1 0 7.0 0a3.5 3.5 0 1 0 -7.0 0ZM1285.5 329.6a3.5 3.5 0 1 0 7.0 0a3.5 3.5 0 1 0 -7.0 0ZM1336.5 343.4a3.0 3.0 0 1 0 6.0 0a3.0 3.0 0 1 0 -6.0 0ZM1366.1 339.5a2.9 2.9 0 1 0 5.8 0a2.9 2.9 0 1 0 -5.8 0ZM1358.2 325.6a3.4 3.4 0 1 0 6.9 0a3.4 3.4 0 1 0 -6.9 0ZM1192.3 361.8a3.3 3.3 0 1 0 6.6 0a3.3 3.3 0 1 0 -6.6 0ZM1081.2 373.1a3.5 3.5 0 1 0 7.0 0a3.5 3.5 0 1 0 -7.0 0ZM1174.4 377.9a3.5 3.5 0 1 0 7.0 0a3.5 3.5 0 1 0 -7.0 0ZM1174.7 363.4a3.5 3.5 0 1 0 7.1 0a3.5 3.5 0 1 0 -7.1 0ZM1244.4 365.9a3.5 3.5 0 1 0 6.9 0a3.5 3.5 0 1 0 -6.9 0ZM1183.3 398.1a2.9 2.9 0 1 0 5.8 0a2.9 2.9 0 1 0 -5.8 0ZM1350.8 401.3a3.4 3.4 0 1 0 6.8 0a3.4 3.4 0 1 0 -6.8 0Z"/><path fill="rgb(18,242,60)" d="M1081.1 90.9a3.4 3.4 0 1 0 6.8 0a3.4 3.4 0 1 0 -6.8 0ZM1169.0 103.3a3.1 3.1 0 1 0 6.2 0a3.1 3.1 0 1 0 -6.2 0ZM1198.1 97.5a3.3 3.3 0 1 0 6.5 0a3.3 3.3 0 1 0 -6.5 0ZM1275.3 91.2a3.6 3.6 0 1 0 7.2 0a3.6 3.6 0 1 0 -7.2 0ZM1302.6 103.0a3.5 3.5 0 1 0 7.1 0a3.5 3.5 0 1 0 -7.1 0ZM1090.8 108.3a3.4 3.4 0 1 0 6.7 0a3.4 3.4 0 1 0 -6.7 0ZM1086.6 113.9a2.9 2.9 0 1 0 5.8 0a2.9 2.9 0 1 0 -5.8 0ZM1210.5 106.7a3.2 3.2 0 1 0 6.5 0a3.2 3.2 0 1 0 -6.5 0ZM1237.6 110.2a3.3 3.3 0 1 0 6.7 0a3.3 3.3 0 1 0 -6.7 0ZM1265.2 108.7a3.0 3.0 0 1 0 6.0 0a3.0 3.0 0 1 0 -6.0 0ZM1113.0 130.3a3.3 3.3 0 1 0 6.6 0a3.3 3.3 0 1 0 -6.6 0ZM1107.2 140.1a3.1 3.1 0 1 0 6.1 0a3.1 3.1 0 1 0 -6.1 0ZM1127.1 141.6a3.3 3.3 0 1 0 6.7 0a3.3 3.3 0 1 0 -6.7 0ZM1135.7 138.5a2.9 2.9 0 1 0 5.8 0a2.9 2.9 0 1 0 -5.8 0ZM1170.3 126.2a3.0 3.0 0 1 0 6.1 0a3.0 3.0 0 1 0 -6.1 0ZM1188.2 129.4a3.5 3.5 0 1 0 7.1 0a3.5 3.5 0 1 0 -7.1 0ZM1243.5 137.3a3.1 3.1 0 1 0 6.2 0a3.1 3.1 0 1 0 -6.2 0ZM1258.8 143.9a3.0 3.0 0 1 0 6.0 0a3.0 3.0 0 1 0 -6.0 0ZM1312.3 125.6a3.0 3.0 0 1 0 6.0 0a3.0 3.0 0 1 0 -6.0 0ZM1382.0 139.3a3.0 3.0 0 1 0 6.0 0a3.0 3.0 0 1 0 -6.0 0ZM1115.5 163.0a3.0 3.0 0 1 0 5.9 0a3.0 3.0 0 1 0 -5.9 0ZM1116.9 144.1a3.4 3.4 0 1 0 6.9 0a3.4 3.4 0 1 0 -6.9 0ZM1098.1 146.7a3.0 3.0 0 1 0 5.9 0a3.0 3.0 0 1 0 -5.9 0ZM1119.4 147.7a3.0 3.0 0 1 0 5.9 0a3.0 3.0 0 1 0 -5.9 0ZM1167.4 157.3a3.4 3.4 0 1 0 6.8 0a3.4 3.4 0 1 0 -6.8 0ZM1161.6 145.1a3.0 3.0 0 1 0 6.0 0a3.0 3.0 0 1 0 -6.0 0ZM1194.7 162.4a2.9 2.9 0 1 0 5.9 0a2.9 2.9 0 1 0 -5.9 0ZM1208.4 162.3a3.0 3.0 0 1 0 6.1 0a3.0 3.0 0 1 0 -6.1 0ZM1277.8 153.2a3.4 3.4 0 1 0 6.8 0a3.4 3.4 0 1 0 -6.8 0ZM1360.5 148.0a3.2 3.2 0 1 0 6.4 0a3.2 3.2 0 1 0 -6.4 0ZM1370.1 146.5a3.2 3.2 0 1 0 6.4 0a3.2 3.2 0 1 0 -6.4 0ZM1388.2 157.7a3.6 3.6 0 1 0 7.1 0a3.6 3.6 0 1 0 -7.1 0ZM1384.9 150.9a3.5 3.5 0 1 0 7.0 0a3.5 3.5 0 1 0 -7.0 0ZM1091.5 177.9a3.1 3.1 0 1 0 6.2 0a3.1 3.1 0 1 0 -6.2 0ZM1109.2 181.5a3.1 3.1 0 1 0 6.2 0a3.1 3.1 0 1 0 -6.2 0ZM1136.9 177.9a3.6 3.6 0 1 0 7.2 0a3.6 3.6 0 1 0 -7.2 0ZM1154.3 169.7a3.5 3.5 0 1 0 7.1 0a3.5 3.5 0 1 0 -7.1 0ZM1200.7 175.8a3.2 3.2 0 1 0 6.4 0a3.2 3.2 0 1 0 -6.4 0ZM1231.5 168.8a3.6 3.6 0 1 0 7.2 0a3.6 3.6 0 1 0 -7.2 0ZM1256.9 186.2a3.5 3.5 0 1 0 7.0 0a3.5 3.5 0 1 0 -7.0 0ZM1272.6 183.8a2.9 2.9 0 1 0 5.8 0a2.9 2.9 0 1 0 -5.8 0ZM1350.2 174.3a2.8 2.8 0 1 0 5.6 0a2.8 2.8 0 1 0 -5.6 0ZM1336.9 178.7a3.1 3.1 0 1 0 6.2 0a3.1 3.1 0 1 0 -6.2 0ZM1371.6 168.4a3.5 3.5 0 1 0 6.9 0a3.5 3.5 0 1 0 -6.9 0ZM1113.9 198.9a3.5 3.5 0 1 0 6.9 0a3.5 3.5 0 1 0 -6.9 0ZM1211.4 189.8a2.9 2.9 0 1 0 5.9 0a2.9 2.9 0 1 0 -5.9 0ZM1207.3 201.5a3.4 3.4 0 1 0 6.7 0a3.4 3.4 0 1 0 -6.7 0ZM1225.4 198.3a3.0 3.0 0 1 0 6.1 0a3.0 3.0 0 1 0 -6.1 0ZM1267.6 197.7a3.3 3.3 0 1 0 6.5 0a3.3 3.3 0 1 0 -6.5 0ZM1264.0 193.1a3.3 3.3 0 1 0 6.6 0a3.3 3.3 0 1 0 -6.6 0ZM1312.7 192.0a3.0 3.0 0 1 0 6.0 0a3.0 3.0 0 1 0 -6.0 0ZM1339.2 204.7a3.1 3.1 0 1 0 6.2 0a3.1 3.1 0 1 0 -6.2 0ZM1122.5 218.3a2.9 2.9 0 1 0 5.8 0a2.9 2.9 0 1 0 -5.8 0ZM1130.6 213.2a3.3 3.3 0 1 0 6.5 0a3.3 3.3 0 1 0 -6.5 0ZM1266.4 216.0a3.4 3.4 0 1 0 6.7 0a3.4 3.4 0 1 0 -6.7 0ZM1262.6 206.1a3.5 3.5 0 1 0 7.0 0a3.5 3.5 0 1 0 -7.0 0ZM1291.4 209.6a3.5 3.5 0 1 0 7.0 0a3.5 3.5 0 1 0 -7.0 0ZM1324.5 217.6a3.5 3.5 0 1 0 7.1 0a3.5 3.5 0 1 0 -7.1 0ZM1344.0 220.3a3.4 3.4 0 1 0 6.8 0a3.4 3.4 0 1 0 -6.8 0ZM1211.7 238.9a3.4 3.4 0 1 0 6.7 0a3.4 3.4 0 1 0 -6.7 0ZM1256.5 243.4a2.8 2.8 0 1 0 5.7 0a2.8 2.8 0 1 0 -5.7 0ZM1279.0 230.9a2.9 2.9 0 1 0 5.9 0a2.9 2.9 0 1 0 -5.9 0ZM1329.8 239.3a3.5 3.5 0 1 0 7.0 0a3.5 3.5 0 1 0 -7.0 0ZM1340.8 238.4a3.1 3.1 0 1 0 6.2 0a3.1 3.1 0 1 0 -6.2 0ZM1367.2 229.5a3.0 3.0 0 1 0 6.0 0a3.0 3.0 0 1 0 -6.0 0ZM1114.6 262.6a3.0 3.0 0 1 0 6.0 0a3.0 3.0 0 1 0 -6.0 0ZM1195.1 264.0a3.3 3.3 0 1 0 6.6 0a3.3 3.3 0 1 0 -6.6 0ZM1205.9 258.7a3.4 3.4 0 1 0 6.7 0a3.4 3.4 0 1 0 -6.7 0ZM1208.5 253.0a2.8 2.8 0 1 0 5.7 0a2.8 2.8 0 1 0 -5.7 0ZM1230.3 252.3a3.0 3.0 0 1 0 6.0 0a3.0 3.0 0 1 0 -6.0 0ZM1243.2 261.5a3.4 3.4 0 1 0 6.8 0a3.4 3.4 0 1 0 -6.8 0ZM1291.5 248.7a3.5 3.5 0 1 0 7.0 0a3.5 3.5 0 1 0 -7.0 0ZM1319.6 261.4a3.0 3.0 0 1 0 6.0 0a3.0 3.0 0 1 0 -6.0 0ZM1317.4 252.8a3.3 3.3 0 1 0 6.6 0a3.3 3.3 0 1 0 -6.6 0ZM1357.0 257.6a3.4 3.4 0 1 0 6.9 0a3.4 3.4 0 1 0 -6.9 0ZM1111.1 280.9a3.2 3.2 0 1 0 6.4 0a3.2 3.2 0 1 0 -6.4 0ZM1206.3 272.9a3.6 3.6 0 1 0 7.2 0a3.6 3.6 0 1 0 -7.2 0ZM1235.8 276.1a3.1 3.1 0 1 0 6.1 0a3.1 3.1 0 1 0 -6.1 0ZM1283.8 280.0a3.0 3.0 0 1 0 6.0 0a3.0 3.0 0 1 0 -6.0 0ZM1329.8 263.7a2.8 2.8 0 1 0 5.6 0a2.8 2.8 0 1 0 -5.6 0ZM1321.9 281.6a3.5 3.5 0 1 0 7.1 0a3.5 3.5 0 1 0 -7.1 0ZM1354.8 269.5a3.3 3.3 0 1 0 6.5 0a3.3 3.3 0 1 0 -6.5 0ZM1079.4 293.9a2.9 2.9 0 1 0 5.8 0a2.9 2.9 0 1 0 -5.8 0ZM1107.5 287.9a3.4 3.4 0 1 0 6.8 0a3.4 3.4 0 1 0 -6.8 0ZM1126.7 291.6a3.5 3.5 0 1 0 7.0 0a3.5 3.5 0 1 0 -7.0 0ZM1205.9 303.1a3.1 3.1 0 1 0 6.1 0a3.1 3.1 0 1 0 -6.1 0ZM1236.1 289.0a3.4 3.4 0 1 0 6.8 0a3.4 3.4 0 1 0 -6.8 0ZM1226.4 300.4a3.1 3.1 0 1 0 6.2 0a3.1 3.1 0 1 0 -6.2 0ZM1263.6 298.2a3.4 3.4 0 1 0 6.9 0a3.4 3.4 0 1 0 -6.9 0ZM1257.4 283.0a3.3 3.3 0 1 0 6.6 0a3.3 3.3 0 1 0 -6.6 0ZM1267.8 295.1a3.1 3.1 0 1 0 6.2 0a3.1 3.1 0 1 0 -6.2 0ZM1290.2 289.2a3.6 3.6 0 1 0 7.1 0a3.6 3.6 0 1 0 -7.1 0ZM1298.4 295.0a3.0 3.0 0 1 0 5.9 0a3.0 3.0 0 1 0 -5.9 0ZM1155.5 307.5a2.8 2.8 0 1 0 5.7 0a2.8 2.8 0 1 0 -5.7 0ZM1186.6 315.3a3.0 3.0 0 1 0 6.0 0a3.0 3.0 0 1 0 -6.0 0ZM1195.6 306.3a3.2 3.2 0 1 0 6.4 0a3.2 3.2 0 1 0 -6.4 0ZM1235.0 313.7a2.9 2.9 0 1 0 5.8 0a2.9 2.9 0 1 0 -5.8 0ZM1219.2 322.2a3.0 3.0 0 1 0 5.9 0a3.0 3.0 0 1 0 -5.9 0ZM1250.0 317.4a2.9 2.9 0 1 0 5.8 0a2.9 2.9 0 1 0 -5.8 0ZM1265.7 303.1a3.3 3.3 0 1 0 6.6 0a3.3 3.3 0 1 0 -6.6 0ZM1276.0 320.2a2.9 2.9 0 1 0 5.7 0a2.9 2.9 0 1 0 -5.7 0ZM1283.8 306.3a3.4 3.4 0 1 0 6.8 0a3.4 3.4 0 1 0 -6.8 0ZM1103.8 330.9a3.3 3.3 0 1 0 6.7 0a3.3 3.3 0 1 0 -6.7 0ZM1124.0 340.1a3.4 3.4 0 1 0 6.9 0a3.4 3.4 0 1 0 -6.9 0ZM1229.2 322.9a3.0 3.0 0 1 0 6.0 0a3.0 3.0 0 1 0 -6.0 0ZM1372.1 327.7a3.0 3.0 0 1 0 6.0 0a3.0 3.0 0 1 0 -6.0 0ZM1238.4 344.2a3.2 3.2 0 1 0 6.5 0a3.2 3.2 0 1 0 -6.5 0ZM1115.3 367.4a3.1 3.1 0 1 0 6.1 0a3.1 3.1 0 1 0 -6.1 0ZM1152.2 373.1a3.1 3.1 0 1 0 6.2 0a3.1 3.1 0 1 0 -6.2 0ZM1187.8 367.7a3.4 3.4 0 1 0 6.7 0a3.4 3.4 0 1 0 -6.7 0ZM1267.5 369.6a3.2 3.2 0 1 0 6.4 0a3.2 3.2 0 1 0 -6.4 0ZM1264.4 366.8a3.1 3.1 0 1 0 6.2 0a3.1 3.1 0 1 0 -6.2 0ZM1110.9 384.2a2.9 2.9 0 1 0 5.8 0a2.9 2.9 0 1 0 -5.8 0ZM1323.0 390.6a3.4 3.4 0 1 0 6.7 0a3.4 3.4 0 1 0 -6.7 0ZM1391.3 386.2a3.3 3.3 0 1 0 6.6 0a3.3 3.3 0 1 0 -6.6 0Z"/><path fill="rgb(20,255,66)" d="M1093.8 103.3a2.9 2.9 0 1 0 5.8 0a2.9 2.9 0 1 0 -5.8 0ZM1111.8 96.6a3.5 3.5 0 1 0 7.0 0a3.5 3.5 0 1 0 -7.0 0ZM1166.7 93.8a3.0 3.0 0 1 0 5.9 0a3.0 3.0 0 1 0 -5.9 0ZM1196.8 88.6a3.2 3.2 0 1 0 6.4 0a3.2 3.2 0 1 0 -6.4 0ZM1203.3 96.9a3.5 3.5 0 1 0 7.0 0a3.5 3.5 0 1 0 -7.0 0ZM1228.6 94.0a3.5 3.5 0 1 0 7.0 0a3.5 3.5 0 1 0 -7.0 0ZM1276.3 99.7a3.1 3.1 0 1 0 6.3 0a3.1 3.1 0 1 0 -6.3 0ZM1336.1 95.7a3.5 3.5 0 1 0 7.0 0a3.5 3.5 0 1 0 -7.0 0ZM1080.2 122.0a3.0 3.0 0 1 0 6.1 0a3.0 3.0 0 1 0 -6.1 0ZM1115.3 115.6a2.9 2.9 0 1 0 5.9 0a2.9 2.9 0 1 0 -5.9 0ZM1195.8 107.7a3.2 3.2 0 1 0 6.4 0a3.2 3.2 0 1 0 -6.4 0ZM1251.5 114.9a3.6 3.6 0 1 0 7.2 0a3.6 3.6 0 1 0 -7.2 0ZM1334.3 123.9a2.9 2.9 0 1 0 5.8 0a2.9 2.9 0 1 0 -5.8 0ZM1093.7 125.2a3.0 3.0 0 1 0 6.0 0a3.0 3.0 0 1 0 -6.0 0ZM1076.9 146.1a3.3 3.3 0 1 0 6.7 0a3.3 3.3 0 1 0 -6.7 0ZM1131.9 128.5a3.1 3.1 0 1 0 6.2 0a3.1 3.1 0 1 0 -6.2 0ZM1150.0 127.4a3.4 3.4 0 1 0 6.7 0a3.4 3.4 0 1 0 -6.7 0ZM1251.8 133.0a3.5 3.5 0 1 0 7.0 0a3.5 3.5 0 1 0 -7.0 0ZM1269.0 139.4a2.9 2.9 0 1 0 5.8 0a2.9 2.9 0 1 0 -5.8 0ZM1295.4 132.3a3.4 3.4 0 1 0 6.8 0a3.4 3.4 0 1 0 -6.8 0ZM1284.7 128.8a2.9 2.9 0 1 0 5.8 0a2.9 2.9 0 1 0 -5.8 0ZM1299.3 142.5a3.2 3.2 0 1 0 6.4 0a3.2 3.2 0 1 0 -6.4 0ZM1381.2 145.8a3.4 3.4 0 1 0 6.7 0a3.4 3.4 0 1 0 -6.7 0ZM1136.4 150.1a3.5 3.5 0 1 0 6.9 0a3.5 3.5 0 1 0 -6.9 0ZM1153.3 156.8a3.4 3.4 0 1 0 6.9 0a3.4 3.4 0 1 0 -6.9 0ZM1173.8 162.1a3.6 3.6 0 1 0 7.1 0a3.6 3.6 0 1 0 -7.1 0ZM1238.3 160.0a3.4 3.4 0 1 0 6.8 0a3.4 3.4 0 1 0 -6.8 0ZM1268.8 160.7a3.3 3.3 0 1 0 6.7 0a3.3 3.3 0 1 0 -6.7 0ZM1266.5 150.4a3.3 3.3 0 1 0 6.7 0a3.3 3.3 0 1 0 -6.7 0ZM1294.0 150.7a3.3 3.3 0 1 0 6.5 0a3.3 3.3 0 1 0 -6.5 0ZM1286.0 144.9a3.0 3.0 0 1 0 6.1 0a3.0 3.0 0 1 0 -6.1 0ZM1304.5 160.4a3.0 3.0 0 1 0 6.1 0a3.0 3.0 0 1 0 -6.1 0ZM1362.3 159.2a3.4 3.4 0 1 0 6.9 0a3.4 3.4 0 1 0 -6.9 0ZM1387.8 164.0a3.1 3.1 0 1 0 6.3 0a3.1 3.1 0 1 0 -6.3 0ZM1380.7 151.5a2.8 2.8 0 1 0 5.6 0a2.8 2.8 0 1 0 -5.6 0ZM1134.5 184.1a3.3 3.3 0 1 0 6.5 0a3.3 3.3 0 1 0 -6.5 0ZM1198.4 183.6a3.0 3.0 0 1 0 6.1 0a3.0 3.0 0 1 0 -6.1 0ZM1233.1 171.0a3.4 3.4 0 1 0 6.8 0a3.4 3.4 0 1 0 -6.8 0ZM1242.8 181.3a3.1 3.1 0 1 0 6.1 0a3.1 3.1 0 1 0 -6.1 0ZM1274.2 167.4a3.5 3.5 0 1 0 7.1 0a3.5 3.5 0 1 0 -7.1 0ZM1336.0 167.6a3.0 3.0 0 1 0 6.0 0a3.0 3.0 0 1 0 -6.0 0ZM1363.3 176.2a3.3 3.3 0 1 0 6.6 0a3.3 3.3 0 1 0 -6.6 0ZM1121.4 201.8a3.3 3.3 0 1 0 6.6 0a3.3 3.3 0 1 0 -6.6 0ZM1144.4 201.6a3.4 3.4 0 1 0 6.8 0a3.4 3.4 0 1 0 -6.8 0ZM1212.9 197.6a2.9 2.9 0 1 0 5.8 0a2.9 2.9 0 1 0 -5.8 0ZM1286.4 200.0a2.8 2.8 0 1 0 5.7 0a2.8 2.8 0 1 0 -5.7 0ZM1343.7 186.4a3.0 3.0 0 1 0 5.9 0a3.0 3.0 0 1 0 -5.9 0ZM1390.4 198.3a3.4 3.4 0 1 0 6.8 0a3.4 3.4 0 1 0 -6.8 0ZM1154.6 211.5a3.5 3.5 0 1 0 6.9 0a3.5 3.5 0 1 0 -6.9 0ZM1280.6 213.4a3.1 3.1 0 1 0 6.1 0a3.1 3.1 0 1 0 -6.1 0ZM1283.8 223.3a3.2 3.2 0 1 0 6.4 0a3.2 3.2 0 1 0 -6.4 0ZM1301.3 209.2a3.4 3.4 0 1 0 6.7 0a3.4 3.4 0 1 0 -6.7 0ZM1350.0 213.3a3.3 3.3 0 1 0 6.7 0a3.3 3.3 0 1 0 -6.7 0ZM1341.7 211.0a2.9 2.9 0 1 0 5.8 0a2.9 2.9 0 1 0 -5.8 0ZM1360.3 220.5a3.5 3.5 0 1 0 7.1 0a3.5 3.5 0 1 0 -7.1 0ZM1248.0 228.7a3.5 3.5 0 1 0 7.0 0a3.5 3.5 0 1 0 -7.0 0ZM1260.7 237.4a3.0 3.0 0 1 0 6.0 0a3.0 3.0 0 1 0 -6.0 0ZM1288.6 236.3a3.6 3.6 0 1 0 7.2 0a3.6 3.6 0 1 0 -7.2 0ZM1280.7 238.9a3.0 3.0 0 1 0 6.1 0a3.0 3.0 0 1 0 -6.1 0ZM1309.9 238.6a3.1 3.1 0 1 0 6.2 0a3.1 3.1 0 1 0 -6.2 0ZM1323.0 230.3a3.0 3.0 0 1 0 6.1 0a3.0 3.0 0 1 0 -6.1 0ZM1335.3 229.0a3.4 3.4 0 1 0 6.7 0a3.4 3.4 0 1 0 -6.7 0ZM1354.1 226.0a2.9 2.9 0 1 0 5.7 0a2.9 2.9 0 1 0 -5.7 0ZM1114.6 246.8a3.0 3.0 0 1 0 6.1 0a3.0 3.0 0 1 0 -6.1 0ZM1172.4 244.4a2.9 2.9 0 1 0 5.9 0a2.9 2.9 0 1 0 -5.9 0ZM1175.7 258.9a3.2 3.2 0 1 0 6.5 0a3.2 3.2 0 1 0 -6.5 0ZM1233.1 258.6a3.0 3.0 0 1 0 6.1 0a3.0 3.0 0 1 0 -6.1 0ZM1237.8 251.6a3.6 3.6 0 1 0 7.2 0a3.6 3.6 0 1 0 -7.2 0ZM1271.0 258.2a3.2 3.2 0 1 0 6.4 0a3.2 3.2 0 1 0 -6.4 0ZM1308.4 256.5a3.5 3.5 0 1 0 7.1 0a3.5 3.5 0 1 0 -7.1 0ZM1346.1 262.4a3.5 3.5 0 1 0 6.9 0a3.5 3.5 0 1 0 -6.9 0ZM1334.8 250.7a3.4 3.4 0 1 0 6.9 0a3.4 3.4 0 1 0 -6.9 0ZM1348.8 251.4a3.5 3.5 0 1 0 7.0 0a3.5 3.5 0 1 0 -7.0 0ZM1371.0 259.7a2.9 2.9 0 1 0 5.9 0a2.9 2.9 0 1 0 -5.9 0ZM1094.2 272.4a3.3 3.3 0 1 0 6.7 0a3.3 3.3 0 1 0 -6.7 0ZM1103.4 275.9a3.3 3.3 0 1 0 6.6 0a3.3 3.3 0 1 0 -6.6 0ZM1201.4 279.8a3.0 3.0 0 1 0 6.0 0a3.0 3.0 0 1 0 -6.0 0ZM1221.4 266.7a3.6 3.6 0 1 0 7.1 0a3.6 3.6 0 1 0 -7.1 0ZM1243.6 275.6a3.3 3.3 0 1 0 6.6 0a3.3 3.3 0 1 0 -6.6 0ZM1250.0 277.8a3.1 3.1 0 1 0 6.3 0a3.1 3.1 0 1 0 -6.3 0ZM1267.6 267.9a3.0 3.0 0 1 0 6.0 0a3.0 3.0 0 1 0 -6.0 0ZM1277.2 276.4a3.6 3.6 0 1 0 7.1 0a3.6 3.6 0 1 0 -7.1 0ZM1335.7 271.8a3.5 3.5 0 1 0 7.0 0a3.5 3.5 0 1 0 -7.0 0ZM1342.8 276.4a3.2 3.2 0 1 0 6.3 0a3.2 3.2 0 1 0 -6.3 0ZM1121.8 283.7a3.5 3.5 0 1 0 6.9 0a3.5 3.5 0 1 0 -6.9 0ZM1142.7 292.9a3.1 3.1 0 1 0 6.2 0a3.1 3.1 0 1 0 -6.2 0ZM1192.9 301.2a3.0 3.0 0 1 0 5.9 0a3.0 3.0 0 1 0 -5.9 0ZM1206.4 287.1a3.2 3.2 0 1 0 6.4 0a3.2 3.2 0 1 0 -6.4 0ZM1213.0 296.7a3.1 3.1 0 1 0 6.2 0a3.1 3.1 0 1 0 -6.2 0ZM1207.5 293.7a3.5 3.5 0 1 0 7.0 0a3.5 3.5 0 1 0 -7.0 0ZM1228.6 297.8a2.9 2.9 0 1 0 5.8 0a2.9 2.9 0 1 0 -5.8 0ZM1308.8 289.9a3.1 3.1 0 1 0 6.1 0a3.1 3.1 0 1 0 -6.1 0ZM1316.4 298.3a3.0 3.0 0 1 0 6.0 0a3.0 3.0 0 1 0 -6.0 0ZM1107.0 307.1a3.4 3.4 0 1 0 6.9 0a3.4 3.4 0 1 0 -6.9 0ZM1119.4 309.9a3.5 3.5 0 1 0 6.9 0a3.5 3.5 0 1 0 -6.9 0ZM1174.2 316.0a3.5 3.5 0 1 0 7.1 0a3.5 3.5 0 1 0 -7.1 0ZM1215.8 313.1a3.4 3.4 0 1 0 6.8 0a3.4 3.4 0 1 0 -6.8 0ZM1201.8 315.7a3.2 3.2 0 1 0 6.4 0a3.2 3.2 0 1 0 -6.4 0ZM1260.9 316.2a3.5 3.5 0 1 0 7.1 0a3.5 3.5 0 1 0 -7.1 0ZM1352.2 319.9a3.1 3.1 0 1 0 6.1 0a3.1 3.1 0 1 0 -6.1 0ZM1137.3 322.3a2.9 2.9 0 1 0 5.9 0a2.9 2.9 0 1 0 -5.9 0ZM1184.7 339.5a3.2 3.2 0 1 0 6.3 0a3.2 3.2 0 1 0 -6.3 0ZM1222.0 341.3a3.2 3.2 0 1 0 6.4 0a3.2 3.2 0 1 0 -6.4 0ZM1354.2 332.2a3.5 3.5 0 1 0 6.9 0a3.5 3.5 0 1 0 -6.9 0ZM1384.4 326.8a3.2 3.2 0 1 0 6.4 0a3.2 3.2 0 1 0 -6.4 0ZM1132.3 357.8a3.4 3.4 0 1 0 6.9 0a3.4 3.4 0 1 0 -6.9 0ZM1246.4 350.5a3.3 3.3 0 1 0 6.5 0a3.3 3.3 0 1 0 -6.5 0ZM1355.7 355.6a3.2 3.2 0 1 0 6.3 0a3.2 3.2 0 1 0 -6.3 0ZM1382.6 344.7a2.9 2.9 0 1 0 5.9 0a2.9 2.9 0 1 0 -5.9 0ZM1172.7 390.3a2.9 2.9 0 1 0 5.8 0a2.9 2.9 0 1 0 -5.8 0ZM1166.0 386.5a3.6 3.6 0 1 0 7.1 0a3.6 3.6 0 1 0 -7.1 0ZM1216.0 402.9a3.3 3.3 0 1 0 6.6 0a3.3 3.3 0 1 0 -6.6 0ZM1254.3 394.0a3.4 3.4 0 1 0 6.8 0a3.4 3.4 0 1 0 -6.8 0ZM1363.7 384.9a3.4 3.4 0 1 0 6.9 0a3.4 3.4 0 1 0 -6.9 0Z"/></g></g>
<g clip-path="url(#cp4)"><g filter="url(#bl15)"><path fill="rgb(0,62,9)" d="M1465.0 93.8A7.9 4.6 102 1 0 1468.3 78.3A7.9 4.6 102 1 0 1465.0 93.8ZM1516.3 105.2A9.2 4.8 3 1 0 1498.0 104.3A9.2 4.8 3 1 0 1516.3 105.2ZM1523.6 111.9A6.7 4.9 87 1 0 1522.9 98.5A6.7 4.9 87 1 0 1523.6 111.9ZM1541.8 97.2A7.2 4.3 87 1 0 1541.1 82.8A7.2 4.3 87 1 0 1541.8 97.2ZM1577.3 104.6A8.5 3.9 4 1 0 1560.3 103.4A8.5 3.9 4 1 0 1577.3 104.6ZM1610.4 97.2A7.8 4.5 148 1 0 1623.7 89.0A7.8 4.5 148 1 0 1610.4 97.2ZM1611.6 107.9A8.4 3.7 153 1 0 1626.6 100.2A8.4 3.7 153 1 0 1611.6 107.9ZM1619.7 94.4A6.8 3.6 168 1 0 1632.9 91.5A6.8 3.6 168 1 0 1619.7 94.4ZM1661.3 95.9A9.0 4.8 126 1 0 1672.0 81.5A9.0 4.8 126 1 0 1661.3 95.9ZM1691.7 91.8A6.9 3.6 180 1 0 1705.5 91.8A6.9 3.6 180 1 0 1691.7 91.8ZM1682.4 92.0A6.5 4.7 152 1 0 1693.9 85.9A6.5 4.7 152 1 0 1682.4 92.0ZM1690.8 108.6A8.1 5.0 114 1 0 1697.4 93.9A8.1 5.0 114 1 0 1690.8 108.6ZM1507.9 124.6A8.9 4.9 13 1 0 1490.6 120.5A8.9 4.9 13 1 0 1507.9 124.6ZM1512.2 116.3A7.8 5.1 131 1 0 1522.4 104.7A7.8 5.1 131 1 0 1512.2 116.3ZM1513.8 116.3A7.0 4.2 65 1 0 1507.8 103.6A7.0 4.2 65 1 0 1513.8 116.3ZM1638.7 118.1A8.1 4.9 12 1 0 1622.9 114.6A8.1 4.9 12 1 0 1638.7 118.1ZM1712.0 115.7A6.7 4.4 146 1 0 1723.1 108.2A6.7 4.4 146 1 0 1712.0 115.7ZM1436.0 137.3A6.7 4.1 179 1 0 1449.4 137.1A6.7 4.1 179 1 0 1436.0 137.3ZM1484.6 153.9A8.8 3.8 81 1 0 1481.8 136.6A8.8 3.8 81 1 0 1484.6 153.9ZM1463.0 135.6A8.9 5.0 153 1 0 1478.8 127.4A8.9 5.0 153 1 0 1463.0 135.6ZM1570.3 143.6A9.3 4.5 38 1 0 1555.6 132.1A9.3 4.5 38 1 0 1570.3 143.6ZM1562.8 132.3A6.6 4.8 2 1 0 1549.5 131.8A6.6 4.8 2 1 0 1562.8 132.3ZM1575.2 149.3A7.9 4.8 103 1 0 1578.7 133.9A7.9 4.8 103 1 0 1575.2 149.3ZM1639.1 132.3A7.3 3.9 26 1 0 1625.9 125.9A7.3 3.9 26 1 0 1639.1 132.3ZM1654.4 148.9A7.4 4.1 28 1 0 1641.4 141.8A7.4 4.1 28 1 0 1654.4 148.9ZM1666.9 134.5A7.5 3.9 156 1 0 1680.8 128.4A7.5 3.9 156 1 0 1666.9 134.5ZM1691.5 144.6A8.7 4.6 0 1 0 1674.0 144.5A8.7 4.6 0 1 0 1691.5 144.6ZM1692.4 137.1A7.9 4.6 37 1 0 1679.8 127.7A7.9 4.6 37 1 0 1692.4 137.1ZM1463.6 159.3A7.3 4.5 163 1 0 1477.5 155.1A7.3 4.5 163 1 0 1463.6 159.3ZM1499.1 166.0A9.3 5.1 46 1 0 1486.2 152.7A9.3 5.1 46 1 0 1499.1 166.0ZM1531.8 165.2A6.9 3.7 35 1 0 1520.5 157.3A6.9 3.7 35 1 0 1531.8 165.2ZM1524.8 153.3A7.6 4.5 179 1 0 1540.0 153.1A7.6 4.5 179 1 0 1524.8 153.3ZM1570.7 155.2A7.9 4.3 72 1 0 1565.9 140.1A7.9 4.3 72 1 0 1570.7 155.2ZM1600.3 163.4A8.6 4.4 11 1 0 1583.5 160.2A8.6 4.4 11 1 0 1600.3 163.4ZM1627.0 154.8A8.3 5.0 74 1 0 1622.3 138.7A8.3 5.0 74 1 0 1627.0 154.8ZM1655.9 160.3A9.2 4.1 135 1 0 1668.9 147.4A9.2 4.1 135 1 0 1655.9 160.3ZM1662.8 152.7A8.3 4.7 15 1 0 1646.8 148.4A8.3 4.7 15 1 0 1662.8 152.7ZM1680.0 172.6A8.6 4.2 93 1 0 1680.8 155.3A8.6 4.2 93 1 0 1680.0 172.6ZM1697.8 155.2A9.4 4.2 114 1 0 1705.4 137.9A9.4 4.2 114 1 0 1697.8 155.2ZM1440.3 173.0A8.8 4.7 25 1 0 1424.4 165.7A8.8 4.7 25 1 0 1440.3 173.0ZM1460.1 175.0A8.5 5.2 19 1 0 1444.0 169.6A8.5 5.2 19 1 0 1460.1 175.0ZM1523.0 171.5A7.7 4.2 170 1 0 1538.1 168.9A7.7 4.2 170 1 0 1523.0 171.5ZM1559.0 178.4A6.8 3.9 29 1 0 1547.2 171.8A6.8 3.9 29 1 0 1559.0 178.4ZM1583.3 179.4A6.5 4.7 2 1 0 1570.3 178.9A6.5 4.7 2 1 0 1583.3 179.4ZM1609.6 173.9A7.2 4.1 46 1 0 1599.6 163.6A7.2 4.1 46 1 0 1609.6 173.9ZM1632.3 176.1A9.4 4.6 49 1 0 1620.0 162.0A9.4 4.6 49 1 0 1632.3 176.1ZM1629.6 181.4A8.6 5.2 118 1 0 1637.7 166.2A8.6 5.2 118 1 0 1629.6 181.4ZM1645.5 180.0A6.7 3.7 29 1 0 1634.0 173.4A6.7 3.7 29 1 0 1645.5 180.0ZM1638.7 177.1A9.3 4.4 178 1 0 1657.4 176.6A9.3 4.4 178 1 0 1638.7 177.1ZM1685.8 191.2A9.3 4.2 135 1 0 1699.0 178.1A9.3 4.2 135 1 0 1685.8 191.2ZM1681.2 189.2A8.8 4.8 104 1 0 1685.6 172.2A8.8 4.8 104 1 0 1681.2 189.2ZM1413.3 200.5A8.8 4.2 85 1 0 1411.7 182.9A8.8 4.2 85 1 0 1413.3 200.5ZM1406.4 187.1A7.4 3.8 164 1 0 1420.6 182.9A7.4 3.8 164 1 0 1406.4 187.1ZM1445.4 187.0A8.0 4.7 1 1 0 1429.4 186.8A8.0 4.7 1 1 0 1445.4 187.0ZM1500.5 198.4A7.9 3.6 173 1 0 1516.2 196.5A7.9 3.6 173 1 0 1500.5 198.4ZM1577.7 207.0A8.3 4.7 119 1 0 1585.8 192.4A8.3 4.7 119 1 0 1577.7 207.0ZM1592.4 186.8A6.9 4.3 178 1 0 1606.3 186.4A6.9 4.3 178 1 0 1592.4 186.8ZM1600.1 191.9A6.9 4.8 23 1 0 1587.6 186.4A6.9 4.8 23 1 0 1600.1 191.9ZM1594.7 203.4A8.1 5.1 118 1 0 1602.3 189.1A8.1 5.1 118 1 0 1594.7 203.4ZM1637.7 209.3A7.2 5.1 62 1 0 1630.9 196.6A7.2 5.1 62 1 0 1637.7 209.3ZM1668.3 203.7A8.6 3.9 124 1 0 1677.9 189.3A8.6 3.9 124 1 0 1668.3 203.7ZM1694.5 194.2A6.6 4.0 155 1 0 1706.6 188.7A6.6 4.0 155 1 0 1694.5 194.2ZM1687.4 194.8A7.3 5.2 73 1 0 1683.0 180.9A7.3 5.2 73 1 0 1687.4 194.8ZM1705.7 210.2A9.2 4.4 115 1 0 1713.6 193.6A9.2 4.4 115 1 0 1705.7 210.2ZM1445.9 227.0A7.1 4.7 136 1 0 1456.0 217.1A7.1 4.7 136 1 0 1445.9 227.0ZM1448.7 210.2A7.4 4.3 168 1 0 1463.2 207.2A7.4 4.3 168 1 0 1448.7 210.2ZM1489.8 230.2A8.4 5.0 119 1 0 1497.9 215.4A8.4 5.0 119 1 0 1489.8 230.2ZM1559.8 221.8A7.0 4.1 43 1 0 1549.6 212.2A7.0 4.1 43 1 0 1559.8 221.8ZM1540.1 226.8A6.9 4.1 125 1 0 1548.1 215.5A6.9 4.1 125 1 0 1540.1 226.8ZM1575.2 221.6A8.5 4.3 39 1 0 1562.1 210.9A8.5 4.3 39 1 0 1575.2 221.6ZM1580.4 228.8A9.4 3.7 42 1 0 1566.5 216.2A9.4 3.7 42 1 0 1580.4 228.8ZM1521.0 239.0A9.5 3.7 164 1 0 1539.2 233.7A9.5 3.7 164 1 0 1521.0 239.0ZM1549.8 242.0A7.8 4.9 50 1 0 1539.8 230.1A7.8 4.9 50 1 0 1549.8 242.0ZM1586.0 234.1A8.7 3.8 147 1 0 1600.5 224.6A8.7 3.8 147 1 0 1586.0 234.1ZM1640.9 236.9A9.3 5.1 14 1 0 1623.0 232.3A9.3 5.1 14 1 0 1640.9 236.9ZM1648.9 247.8A8.1 3.7 68 1 0 1642.8 232.8A8.1 3.7 68 1 0 1648.9 247.8ZM1673.2 249.4A7.8 3.9 52 1 0 1663.4 237.2A7.8 3.9 52 1 0 1673.2 249.4ZM1678.7 242.7A8.6 4.6 121 1 0 1687.5 227.9A8.6 4.6 121 1 0 1678.7 242.7ZM1410.6 262.1A7.8 4.1 112 1 0 1416.4 247.7A7.8 4.1 112 1 0 1410.6 262.1ZM1431.9 263.3A7.4 4.7 170 1 0 1446.4 260.8A7.4 4.7 170 1 0 1431.9 263.3ZM1430.9 252.1A7.0 4.5 67 1 0 1425.5 239.2A7.0 4.5 67 1 0 1430.9 252.1ZM1453.8 259.5A6.7 4.7 15 1 0 1440.9 256.0A6.7 4.7 15 1 0 1453.8 259.5ZM1490.4 265.2A9.3 3.9 88 1 0 1489.8 246.7A9.3 3.9 88 1 0 1490.4 265.2ZM1514.1 266.1A8.5 5.0 117 1 0 1521.8 251.0A8.5 5.0 117 1 0 1514.1 266.1ZM1553.4 253.3A8.2 4.3 158 1 0 1568.5 247.2A8.2 4.3 158 1 0 1553.4 253.3ZM1606.9 251.6A7.8 5.0 26 1 0 1592.9 244.6A7.8 5.0 26 1 0 1606.9 251.6ZM1603.9 263.5A8.8 4.5 103 1 0 1607.9 246.5A8.8 4.5 103 1 0 1603.9 263.5ZM1670.7 266.4A9.1 5.2 156 1 0 1687.4 259.1A9.1 5.2 156 1 0 1670.7 266.4ZM1705.1 255.2A8.5 4.1 8 1 0 1688.2 252.8A8.5 4.1 8 1 0 1705.1 255.2ZM1436.3 286.6A7.7 3.7 26 1 0 1422.5 279.8A7.7 3.7 26 1 0 1436.3 286.6ZM1446.7 271.8A7.0 5.0 178 1 0 1460.6 271.2A7.0 5.0 178 1 0 1446.7 271.8ZM1485.4 280.2A7.6 5.1 59 1 0 1477.6 267.2A7.6 5.1 59 1 0 1485.4 280.2ZM1482.0 287.8A8.2 4.1 50 1 0 1471.4 275.3A8.2 4.1 50 1 0 1482.0 287.8ZM1499.4 275.9A9.5 3.9 8 1 0 1480.6 273.2A9.5 3.9 8 1 0 1499.4 275.9ZM1498.8 289.8A8.1 4.9 85 1 0 1497.3 273.7A8.1 4.9 85 1 0 1498.8 289.8ZM1551.1 280.6A8.2 5.0 57 1 0 1542.2 266.8A8.2 5.0 57 1 0 1551.1 280.6ZM1556.7 286.5A9.4 3.9 116 1 0 1564.9 269.5A9.4 3.9 116 1 0 1556.7 286.5ZM1604.3 273.9A6.7 4.9 59 1 0 1597.4 262.4A6.7 4.9 59 1 0 1604.3 273.9ZM1583.4 271.0A7.2 4.2 140 1 0 1594.5 261.9A7.2 4.2 140 1 0 1583.4 271.0ZM1606.3 283.2A8.7 4.7 135 1 0 1618.5 270.8A8.7 4.7 135 1 0 1606.3 283.2ZM1611.9 276.8A8.0 4.4 109 1 0 1617.1 261.5A8.0 4.4 109 1 0 1611.9 276.8ZM1620.5 277.6A7.5 3.9 133 1 0 1630.7 266.7A7.5 3.9 133 1 0 1620.5 277.6ZM1661.9 275.8A7.3 4.4 114 1 0 1667.8 262.4A7.3 4.4 114 1 0 1661.9 275.8ZM1709.0 270.1A8.6 4.6 39 1 0 1695.6 259.3A8.6 4.6 39 1 0 1709.0 270.1ZM1445.0 309.8A7.5 4.9 79 1 0 1442.2 295.1A7.5 4.9 79 1 0 1445.0 309.8ZM1450.8 302.6A6.8 4.2 61 1 0 1444.2 290.7A6.8 4.2 61 1 0 1450.8 302.6ZM1489.4 303.9A8.2 4.2 31 1 0 1475.2 295.5A8.2 4.2 31 1 0 1489.4 303.9ZM1496.5 300.9A8.5 3.8 139 1 0 1509.5 289.8A8.5 3.8 139 1 0 1496.5 300.9ZM1545.7 293.1A9.1 4.8 11 1 0 1527.8 289.5A9.1 4.8 11 1 0 1545.7 293.1ZM1542.6 303.1A7.4 3.9 162 1 0 1556.7 298.5A7.4 3.9 162 1 0 1542.6 303.1ZM1580.1 293.5A8.7 4.6 88 1 0 1579.5 276.1A8.7 4.6 88 1 0 1580.1 293.5ZM1565.8 304.7A9.0 4.4 100 1 0 1569.0 287.0A9.0 4.4 100 1 0 1565.8 304.7ZM1615.1 290.6A7.1 3.9 177 1 0 1629.4 290.0A7.1 3.9 177 1 0 1615.1 290.6ZM1668.7 309.7A8.5 4.4 50 1 0 1657.7 296.7A8.5 4.4 50 1 0 1668.7 309.7ZM1668.9 296.2A7.0 3.8 107 1 0 1672.9 282.7A7.0 3.8 107 1 0 1668.9 296.2ZM1684.3 303.9A9.2 5.2 85 1 0 1682.7 285.6A9.2 5.2 85 1 0 1684.3 303.9ZM1403.1 320.4A7.9 3.9 164 1 0 1418.2 316.0A7.9 3.9 164 1 0 1403.1 320.4ZM1409.3 317.9A8.2 3.7 97 1 0 1411.2 301.7A8.2 3.7 97 1 0 1409.3 317.9ZM1596.7 315.0A6.7 4.2 139 1 0 1606.8 306.1A6.7 4.2 139 1 0 1596.7 315.0ZM1638.2 325.2A6.9 5.2 21 1 0 1625.3 320.3A6.9 5.2 21 1 0 1638.2 325.2ZM1412.9 343.8A7.8 4.8 91 1 0 1413.1 328.3A7.8 4.8 91 1 0 1412.9 343.8ZM1470.1 324.2A8.2 4.4 3 1 0 1453.8 323.3A8.2 4.4 3 1 0 1470.1 324.2ZM1544.8 336.3A7.5 5.1 63 1 0 1538.1 322.9A7.5 5.1 63 1 0 1544.8 336.3ZM1651.7 345.6A7.2 5.1 110 1 0 1656.6 331.9A7.2 5.1 110 1 0 1651.7 345.6ZM1666.5 331.4A8.1 4.3 15 1 0 1650.8 327.4A8.1 4.3 15 1 0 1666.5 331.4ZM1660.7 329.9A9.0 4.2 143 1 0 1675.0 319.1A9.0 4.2 143 1 0 1660.7 329.9ZM1695.8 339.2A8.6 4.8 115 1 0 1703.0 323.6A8.6 4.8 115 1 0 1695.8 339.2ZM1707.0 344.9A8.2 3.9 92 1 0 1707.6 328.5A8.2 3.9 92 1 0 1707.0 344.9ZM1723.9 338.3A7.7 3.6 14 1 0 1709.1 334.5A7.7 3.6 14 1 0 1723.9 338.3ZM1414.2 351.1A7.3 4.2 16 1 0 1400.1 347.0A7.3 4.2 16 1 0 1414.2 351.1ZM1523.7 358.8A8.6 3.9 85 1 0 1522.3 341.7A8.6 3.9 85 1 0 1523.7 358.8ZM1546.6 353.8A7.6 5.0 17 1 0 1532.0 349.5A7.6 5.0 17 1 0 1546.6 353.8ZM1537.0 350.4A7.9 4.5 146 1 0 1550.1 341.5A7.9 4.5 146 1 0 1537.0 350.4ZM1565.6 349.8A6.6 5.2 39 1 0 1555.2 341.5A6.6 5.2 39 1 0 1565.6 349.8ZM1548.5 353.1A7.6 3.8 150 1 0 1561.6 345.5A7.6 3.8 150 1 0 1548.5 353.1ZM1605.9 366.2A8.8 4.5 94 1 0 1607.2 348.7A8.8 4.5 94 1 0 1605.9 366.2ZM1646.1 361.9A8.5 3.9 130 1 0 1656.9 348.8A8.5 3.9 130 1 0 1646.1 361.9ZM1679.1 363.1A9.2 4.8 146 1 0 1694.4 352.8A9.2 4.8 146 1 0 1679.1 363.1ZM1702.3 356.2A8.1 4.7 125 1 0 1711.6 343.1A8.1 4.7 125 1 0 1702.3 356.2ZM1425.9 381.1A6.8 5.1 153 1 0 1437.9 374.9A6.8 5.1 153 1 0 1425.9 381.1ZM1451.2 371.0A7.6 4.1 29 1 0 1437.8 363.6A7.6 4.1 29 1 0 1451.2 371.0ZM1510.7 372.6A7.9 4.3 52 1 0 1501.0 360.1A7.9 4.3 52 1 0 1510.7 372.6ZM1533.6 388.0A7.9 4.5 62 1 0 1526.3 373.9A7.9 4.5 62 1 0 1533.6 388.0ZM1554.3 387.5A6.7 4.7 119 1 0 1560.8 375.7A6.7 4.7 119 1 0 1554.3 387.5ZM1544.8 385.4A7.5 4.6 106 1 0 1549.0 371.0A7.5 4.6 106 1 0 1544.8 385.4ZM1567.8 373.7A7.6 4.6 60 1 0 1560.2 360.5A7.6 4.6 60 1 0 1567.8 373.7ZM1596.6 369.9A7.5 3.6 31 1 0 1583.6 362.3A7.5 3.6 31 1 0 1596.6 369.9ZM1628.7 374.6A8.2 4.8 19 1 0 1613.1 369.3A8.2 4.8 19 1 0 1628.7 374.6ZM1634.1 383.4A8.4 4.7 60 1 0 1625.7 369.0A8.4 4.7 60 1 0 1634.1 383.4ZM1664.2 371.9A6.7 4.6 104 1 0 1667.3 358.9A6.7 4.6 104 1 0 1664.2 371.9ZM1707.8 368.2A9.3 4.4 32 1 0 1691.9 358.4A9.3 4.4 32 1 0 1707.8 368.2ZM1474.4 402.3A9.5 5.2 150 1 0 1490.7 392.9A9.5 5.2 150 1 0 1474.4 402.3ZM1486.8 397.2A8.6 4.6 171 1 0 1503.8 394.6A8.6 4.6 171 1 0 1486.8 397.2ZM1523.9 391.0A8.6 4.2 15 1 0 1507.3 386.6A8.6 4.2 15 1 0 1523.9 391.0ZM1531.9 404.5A8.8 4.9 147 1 0 1546.8 394.9A8.8 4.9 147 1 0 1531.9 404.5ZM1555.5 403.5A8.6 4.3 121 1 0 1564.2 388.7A8.6 4.3 121 1 0 1555.5 403.5ZM1556.2 399.7A9.3 4.1 71 1 0 1550.3 382.0A9.3 4.1 71 1 0 1556.2 399.7ZM1587.7 404.8A8.4 5.0 163 1 0 1603.8 399.9A8.4 5.0 163 1 0 1587.7 404.8ZM1620.4 391.6A7.4 5.1 109 1 0 1625.3 377.8A7.4 5.1 109 1 0 1620.4 391.6Z"/><path fill="rgb(0,76,11)" d="M1457.7 103.8A9.2 4.6 55 1 0 1447.1 88.7A9.2 4.6 55 1 0 1457.7 103.8ZM1541.9 104.5A7.3 4.7 46 1 0 1531.7 94.0A7.3 4.7 46 1 0 1541.9 104.5ZM1518.3 101.1A8.0 3.7 163 1 0 1533.5 96.5A8.0 3.7 163 1 0 1518.3 101.1ZM1556.6 103.4A9.0 3.9 60 1 0 1547.7 87.9A9.0 3.9 60 1 0 1556.6 103.4ZM1584.5 103.7A8.3 4.3 29 1 0 1569.9 95.7A8.3 4.3 29 1 0 1584.5 103.7ZM1627.6 96.2A9.3 5.1 163 1 0 1645.4 90.7A9.3 5.1 163 1 0 1627.6 96.2ZM1649.2 93.4A9.0 4.7 44 1 0 1636.3 80.9A9.0 4.7 44 1 0 1649.2 93.4ZM1678.0 103.5A7.1 4.3 50 1 0 1668.8 92.6A7.1 4.3 50 1 0 1678.0 103.5ZM1698.3 91.1A9.0 4.0 173 1 0 1716.3 88.8A9.0 4.0 173 1 0 1698.3 91.1ZM1442.1 131.6A9.3 4.7 111 1 0 1448.7 114.2A9.3 4.7 111 1 0 1442.1 131.6ZM1513.9 122.0A9.4 4.7 171 1 0 1532.4 119.2A9.4 4.7 171 1 0 1513.9 122.0ZM1548.4 132.5A9.2 5.0 62 1 0 1539.8 116.2A9.2 5.0 62 1 0 1548.4 132.5ZM1630.2 116.0A9.5 3.8 150 1 0 1646.7 106.6A9.5 3.8 150 1 0 1630.2 116.0ZM1639.1 123.4A8.7 4.9 173 1 0 1656.4 121.3A8.7 4.9 173 1 0 1639.1 123.4ZM1655.1 118.9A7.2 4.1 41 1 0 1644.2 109.4A7.2 4.1 41 1 0 1655.1 118.9ZM1684.7 129.3A7.3 5.2 104 1 0 1688.3 115.1A7.3 5.2 104 1 0 1684.7 129.3ZM1471.5 144.1A9.0 4.1 37 1 0 1457.1 133.2A9.0 4.1 37 1 0 1471.5 144.1ZM1598.1 141.6A6.9 4.6 132 1 0 1607.3 131.4A6.9 4.6 132 1 0 1598.1 141.6ZM1595.7 128.6A6.8 3.9 3 1 0 1582.2 128.0A6.8 3.9 3 1 0 1595.7 128.6ZM1600.1 150.8A8.5 4.6 84 1 0 1598.4 133.9A8.5 4.6 84 1 0 1600.1 150.8ZM1442.5 151.2A8.2 4.2 2 1 0 1426.1 150.7A8.2 4.2 2 1 0 1442.5 151.2ZM1551.0 171.6A9.1 5.1 130 1 0 1562.5 157.6A9.1 5.1 130 1 0 1551.0 171.6ZM1568.4 170.3A8.0 4.2 138 1 0 1580.2 159.6A8.0 4.2 138 1 0 1568.4 170.3ZM1655.3 159.4A7.5 4.8 37 1 0 1643.2 150.5A7.5 4.8 37 1 0 1655.3 159.4ZM1665.6 162.7A7.2 5.0 30 1 0 1653.1 155.5A7.2 5.0 30 1 0 1665.6 162.7ZM1681.3 158.1A6.5 3.9 66 1 0 1675.9 146.3A6.5 3.9 66 1 0 1681.3 158.1ZM1696.4 167.4A8.4 4.5 85 1 0 1694.9 150.7A8.4 4.5 85 1 0 1696.4 167.4ZM1698.8 161.1A9.4 4.3 56 1 0 1688.4 145.5A9.4 4.3 56 1 0 1698.8 161.1ZM1527.7 178.2A6.6 3.8 20 1 0 1515.3 173.8A6.6 3.8 20 1 0 1527.7 178.2ZM1567.0 184.8A7.8 3.9 119 1 0 1574.5 171.2A7.8 3.9 119 1 0 1567.0 184.8ZM1589.2 170.8A9.3 5.1 5 1 0 1570.7 169.0A9.3 5.1 5 1 0 1589.2 170.8ZM1576.7 180.5A8.0 5.2 160 1 0 1591.8 175.2A8.0 5.2 160 1 0 1576.7 180.5ZM1586.0 183.5A7.1 4.5 130 1 0 1595.0 172.6A7.1 4.5 130 1 0 1586.0 183.5ZM1677.8 179.4A7.1 4.6 45 1 0 1667.9 169.3A7.1 4.6 45 1 0 1677.8 179.4ZM1680.2 187.9A9.3 4.4 47 1 0 1667.6 174.3A9.3 4.4 47 1 0 1680.2 187.9ZM1700.4 184.5A8.1 4.6 102 1 0 1703.9 168.6A8.1 4.6 102 1 0 1700.4 184.5ZM1415.1 204.7A6.7 4.5 64 1 0 1409.1 192.7A6.7 4.5 64 1 0 1415.1 204.7ZM1433.4 207.3A6.7 4.7 51 1 0 1425.0 196.8A6.7 4.7 51 1 0 1433.4 207.3ZM1462.2 196.7A7.1 4.9 93 1 0 1462.8 182.4A7.1 4.9 93 1 0 1462.2 196.7ZM1572.0 193.0A9.1 4.6 17 1 0 1554.5 187.7A9.1 4.6 17 1 0 1572.0 193.0ZM1574.7 191.5A6.8 5.1 169 1 0 1588.1 189.0A6.8 5.1 169 1 0 1574.7 191.5ZM1619.5 195.9A6.5 4.3 146 1 0 1630.3 188.6A6.5 4.3 146 1 0 1619.5 195.9ZM1644.4 197.3A7.1 4.6 106 1 0 1648.3 183.7A7.1 4.6 106 1 0 1644.4 197.3ZM1644.6 204.9A8.4 4.3 164 1 0 1660.9 200.3A8.4 4.3 164 1 0 1644.6 204.9ZM1665.8 196.4A9.4 4.2 63 1 0 1657.2 179.7A9.4 4.2 63 1 0 1665.8 196.4ZM1674.0 196.6A6.9 4.7 50 1 0 1665.2 186.0A6.9 4.7 50 1 0 1674.0 196.6ZM1713.0 190.5A6.5 4.9 8 1 0 1700.1 188.8A6.5 4.9 8 1 0 1713.0 190.5ZM1435.6 212.3A8.8 4.5 22 1 0 1419.3 205.8A8.8 4.5 22 1 0 1435.6 212.3ZM1433.8 212.3A7.1 3.9 161 1 0 1447.2 207.6A7.1 3.9 161 1 0 1433.8 212.3ZM1466.7 229.8A9.0 3.9 41 1 0 1453.1 218.2A9.0 3.9 41 1 0 1466.7 229.8ZM1477.4 212.1A7.7 4.0 37 1 0 1465.2 202.8A7.7 4.0 37 1 0 1477.4 212.1ZM1483.2 222.4A7.4 4.9 64 1 0 1476.9 209.1A7.4 4.9 64 1 0 1483.2 222.4ZM1596.8 219.2A9.5 5.1 68 1 0 1589.6 201.7A9.5 5.1 68 1 0 1596.8 219.2ZM1425.3 244.3A8.6 3.8 81 1 0 1422.6 227.3A8.6 3.8 81 1 0 1425.3 244.3ZM1447.2 239.9A7.5 4.6 119 1 0 1454.6 226.8A7.5 4.6 119 1 0 1447.2 239.9ZM1490.0 232.7A9.2 3.8 156 1 0 1506.8 225.0A9.2 3.8 156 1 0 1490.0 232.7ZM1503.1 236.2A8.0 4.4 132 1 0 1513.9 224.4A8.0 4.4 132 1 0 1503.1 236.2ZM1603.1 250.5A8.2 3.9 98 1 0 1605.3 234.3A8.2 3.9 98 1 0 1603.1 250.5ZM1625.5 248.2A9.4 5.1 91 1 0 1625.7 229.4A9.4 5.1 91 1 0 1625.5 248.2ZM1635.9 231.2A9.2 3.6 175 1 0 1654.3 229.5A9.2 3.6 175 1 0 1635.9 231.2ZM1685.4 238.8A8.1 5.1 153 1 0 1699.8 231.4A8.1 5.1 153 1 0 1685.4 238.8ZM1471.6 256.9A7.9 4.4 108 1 0 1476.3 241.9A7.9 4.4 108 1 0 1471.6 256.9ZM1498.8 254.6A7.4 4.7 66 1 0 1492.9 241.1A7.4 4.7 66 1 0 1498.8 254.6ZM1506.7 259.6A7.8 4.7 48 1 0 1496.2 247.9A7.8 4.7 48 1 0 1506.7 259.6ZM1503.2 267.0A9.3 4.7 140 1 0 1517.4 255.0A9.3 4.7 140 1 0 1503.2 267.0ZM1505.4 256.1A8.8 4.3 117 1 0 1513.4 240.4A8.8 4.3 117 1 0 1505.4 256.1ZM1542.7 263.8A7.8 4.2 131 1 0 1552.9 252.0A7.8 4.2 131 1 0 1542.7 263.8ZM1569.7 254.2A8.9 3.8 107 1 0 1574.9 237.1A8.9 3.8 107 1 0 1569.7 254.2ZM1566.0 265.6A8.9 4.5 119 1 0 1574.6 250.0A8.9 4.5 119 1 0 1566.0 265.6ZM1606.6 263.1A9.3 3.9 130 1 0 1618.4 248.7A9.3 3.9 130 1 0 1606.6 263.1ZM1629.4 250.6A8.2 5.1 167 1 0 1645.3 246.8A8.2 5.1 167 1 0 1629.4 250.6ZM1621.6 252.2A9.0 4.7 175 1 0 1639.5 250.7A9.0 4.7 175 1 0 1621.6 252.2ZM1626.4 256.5A8.4 4.8 76 1 0 1622.4 240.2A8.4 4.8 76 1 0 1626.4 256.5ZM1706.2 249.3A6.9 3.6 25 1 0 1693.7 243.5A6.9 3.6 25 1 0 1706.2 249.3ZM1414.6 278.2A7.0 4.2 52 1 0 1406.0 267.2A7.0 4.2 52 1 0 1414.6 278.2ZM1405.8 266.0A8.0 4.1 166 1 0 1421.4 262.2A8.0 4.1 166 1 0 1405.8 266.0ZM1453.6 269.8A9.4 4.8 160 1 0 1471.3 263.4A9.4 4.8 160 1 0 1453.6 269.8ZM1462.2 266.0A8.2 4.5 175 1 0 1478.5 264.5A8.2 4.5 175 1 0 1462.2 266.0ZM1496.6 271.1A8.0 3.8 163 1 0 1511.9 266.3A8.0 3.8 163 1 0 1496.6 271.1ZM1537.2 277.0A8.6 5.1 35 1 0 1523.1 267.1A8.6 5.1 35 1 0 1537.2 277.0ZM1543.1 283.7A9.1 3.7 20 1 0 1525.9 277.4A9.1 3.7 20 1 0 1543.1 283.7ZM1548.2 284.0A8.6 5.0 123 1 0 1557.5 269.5A8.6 5.0 123 1 0 1548.2 284.0ZM1580.3 277.9A7.1 4.4 4 1 0 1566.1 276.8A7.1 4.4 4 1 0 1580.3 277.9ZM1584.9 274.7A6.6 3.8 51 1 0 1576.6 264.5A6.6 3.8 51 1 0 1584.9 274.7ZM1637.0 267.7A7.2 4.6 16 1 0 1623.3 263.7A7.2 4.6 16 1 0 1637.0 267.7ZM1638.3 292.7A9.5 4.5 104 1 0 1643.0 274.4A9.5 4.5 104 1 0 1638.3 292.7ZM1641.0 271.3A7.7 3.9 70 1 0 1635.8 256.9A7.7 3.9 70 1 0 1641.0 271.3ZM1668.8 278.8A8.0 4.3 105 1 0 1673.0 263.3A8.0 4.3 105 1 0 1668.8 278.8ZM1665.4 288.2A8.7 4.1 86 1 0 1664.1 270.9A8.7 4.1 86 1 0 1665.4 288.2ZM1678.5 280.7A7.5 4.9 172 1 0 1693.4 278.7A7.5 4.9 172 1 0 1678.5 280.7ZM1705.2 285.8A8.2 3.9 18 1 0 1689.5 280.8A8.2 3.9 18 1 0 1705.2 285.8ZM1417.5 303.2A8.4 3.8 100 1 0 1420.5 286.6A8.4 3.8 100 1 0 1417.5 303.2ZM1428.0 293.3A9.3 3.7 150 1 0 1444.1 284.1A9.3 3.7 150 1 0 1428.0 293.3ZM1421.8 294.3A7.2 4.1 167 1 0 1435.8 291.0A7.2 4.1 167 1 0 1421.8 294.3ZM1469.4 306.5A9.0 4.7 94 1 0 1470.8 288.5A9.0 4.7 94 1 0 1469.4 306.5ZM1568.3 297.8A7.1 3.9 2 1 0 1554.1 297.2A7.1 3.9 2 1 0 1568.3 297.8ZM1573.8 308.6A8.8 4.7 42 1 0 1560.8 296.7A8.8 4.7 42 1 0 1573.8 308.6ZM1688.6 298.9A8.1 4.5 88 1 0 1688.2 282.7A8.1 4.5 88 1 0 1688.6 298.9ZM1674.9 304.6A9.2 4.3 164 1 0 1692.6 299.6A9.2 4.3 164 1 0 1674.9 304.6ZM1426.8 315.6A9.0 4.4 77 1 0 1422.7 298.1A9.0 4.4 77 1 0 1426.8 315.6ZM1437.0 328.3A8.9 4.9 126 1 0 1447.5 313.9A8.9 4.9 126 1 0 1437.0 328.3ZM1435.8 323.2A6.8 3.7 27 1 0 1423.7 317.2A6.8 3.7 27 1 0 1435.8 323.2ZM1456.5 329.5A8.9 3.7 57 1 0 1446.8 314.5A8.9 3.7 57 1 0 1456.5 329.5ZM1573.4 320.3A9.0 4.1 137 1 0 1586.7 308.0A9.0 4.1 137 1 0 1573.4 320.3ZM1564.1 316.1A7.4 4.0 158 1 0 1578.0 310.5A7.4 4.0 158 1 0 1564.1 316.1ZM1644.9 316.7A9.1 4.4 40 1 0 1631.0 305.1A9.1 4.4 40 1 0 1644.9 316.7ZM1525.4 344.7A9.4 4.0 22 1 0 1508.1 337.7A9.4 4.0 22 1 0 1525.4 344.7ZM1520.5 337.1A7.3 4.6 25 1 0 1507.2 330.8A7.3 4.6 25 1 0 1520.5 337.1ZM1612.5 326.6A7.3 4.1 158 1 0 1626.0 321.1A7.3 4.1 158 1 0 1612.5 326.6ZM1604.5 335.7A8.3 3.7 113 1 0 1610.9 320.4A8.3 3.7 113 1 0 1604.5 335.7ZM1609.3 332.7A9.2 4.9 176 1 0 1627.6 331.5A9.2 4.9 176 1 0 1609.3 332.7ZM1695.7 331.1A8.9 5.1 15 1 0 1678.5 326.5A8.9 5.1 15 1 0 1695.7 331.1ZM1693.3 347.4A7.7 4.2 71 1 0 1688.3 332.9A7.7 4.2 71 1 0 1693.3 347.4ZM1513.4 358.5A9.4 4.6 56 1 0 1502.9 342.9A9.4 4.6 56 1 0 1513.4 358.5ZM1530.0 358.9A7.9 5.2 101 1 0 1532.9 343.4A7.9 5.2 101 1 0 1530.0 358.9ZM1539.0 362.0A7.9 5.0 160 1 0 1554.0 356.6A7.9 5.0 160 1 0 1539.0 362.0ZM1597.2 352.5A9.3 5.0 159 1 0 1614.5 345.7A9.3 5.0 159 1 0 1597.2 352.5ZM1629.5 364.0A8.9 5.1 134 1 0 1641.9 351.1A8.9 5.1 134 1 0 1629.5 364.0ZM1674.8 363.6A7.4 5.0 128 1 0 1684.1 352.0A7.4 5.0 128 1 0 1674.8 363.6ZM1704.6 353.3A8.6 4.3 56 1 0 1694.9 339.0A8.6 4.3 56 1 0 1704.6 353.3ZM1456.5 388.8A8.9 4.1 48 1 0 1444.5 375.7A8.9 4.1 48 1 0 1456.5 388.8ZM1465.5 374.8A7.5 4.3 45 1 0 1454.9 364.2A7.5 4.3 45 1 0 1465.5 374.8ZM1470.0 386.8A9.0 3.8 52 1 0 1458.9 372.6A9.0 3.8 52 1 0 1470.0 386.8ZM1470.0 381.7A7.1 5.2 177 1 0 1484.2 380.9A7.1 5.2 177 1 0 1470.0 381.7ZM1465.3 377.0A8.3 4.6 172 1 0 1481.7 374.7A8.3 4.6 172 1 0 1465.3 377.0ZM1458.9 366.4A7.9 3.6 165 1 0 1474.3 362.3A7.9 3.6 165 1 0 1458.9 366.4ZM1491.5 374.3A8.7 5.0 150 1 0 1506.6 365.6A8.7 5.0 150 1 0 1491.5 374.3ZM1517.3 377.9A7.0 5.0 175 1 0 1531.2 376.6A7.0 5.0 175 1 0 1517.3 377.9ZM1554.5 377.9A8.6 4.4 63 1 0 1546.7 362.7A8.6 4.4 63 1 0 1554.5 377.9ZM1577.1 376.4A8.3 5.1 1 1 0 1560.5 376.1A8.3 5.1 1 1 0 1577.1 376.4ZM1592.7 379.3A9.1 4.6 123 1 0 1602.6 364.1A9.1 4.6 123 1 0 1592.7 379.3ZM1620.7 384.6A6.9 4.7 56 1 0 1613.0 373.1A6.9 4.7 56 1 0 1620.7 384.6ZM1640.3 371.0A7.3 4.2 66 1 0 1634.4 357.7A7.3 4.2 66 1 0 1640.3 371.0ZM1681.4 371.5A9.2 3.8 145 1 0 1696.6 361.0A9.2 3.8 145 1 0 1681.4 371.5ZM1413.0 400.5A6.7 4.4 23 1 0 1400.7 395.4A6.7 4.4 23 1 0 1413.0 400.5ZM1534.4 388.5A7.7 4.7 180 1 0 1549.9 388.4A7.7 4.7 180 1 0 1534.4 388.5ZM1523.9 396.5A8.4 4.7 134 1 0 1535.8 384.4A8.4 4.7 134 1 0 1523.9 396.5ZM1604.5 407.0A6.8 4.3 133 1 0 1613.9 397.1A6.8 4.3 133 1 0 1604.5 407.0ZM1628.3 406.0A9.2 5.0 79 1 0 1624.7 387.9A9.2 5.0 79 1 0 1628.3 406.0ZM1674.6 396.8A8.9 4.2 30 1 0 1659.2 388.0A8.9 4.2 30 1 0 1674.6 396.8ZM1686.0 397.2A9.3 5.2 157 1 0 1703.0 389.8A9.3 5.2 157 1 0 1686.0 397.2Z"/><path fill="rgb(0,90,13)" d="M1398.5 95.9A7.8 4.9 175 1 0 1414.0 94.5A7.8 4.9 175 1 0 1398.5 95.9ZM1477.7 103.9A8.4 4.7 72 1 0 1472.5 88.0A8.4 4.7 72 1 0 1477.7 103.9ZM1486.7 111.9A9.2 5.0 99 1 0 1489.6 93.8A9.2 5.0 99 1 0 1486.7 111.9ZM1511.4 106.8A7.7 4.5 117 1 0 1518.5 93.1A7.7 4.5 117 1 0 1511.4 106.8ZM1521.4 90.6A8.5 3.9 157 1 0 1537.0 84.0A8.5 3.9 157 1 0 1521.4 90.6ZM1551.7 106.2A8.1 4.6 149 1 0 1565.5 97.7A8.1 4.6 149 1 0 1551.7 106.2ZM1548.0 109.5A6.5 4.1 51 1 0 1539.8 99.4A6.5 4.1 51 1 0 1548.0 109.5ZM1551.4 97.1A8.4 4.6 155 1 0 1566.7 90.0A8.4 4.6 155 1 0 1551.4 97.1ZM1583.5 99.9A7.7 3.7 52 1 0 1574.0 87.7A7.7 3.7 52 1 0 1583.5 99.9ZM1567.8 96.0A9.1 4.9 85 1 0 1566.1 77.8A9.1 4.9 85 1 0 1567.8 96.0ZM1596.0 97.8A8.7 4.4 133 1 0 1608.0 85.0A8.7 4.4 133 1 0 1596.0 97.8ZM1640.1 105.7A7.9 3.9 15 1 0 1624.7 101.7A7.9 3.9 15 1 0 1640.1 105.7ZM1660.6 103.0A7.0 4.1 166 1 0 1674.1 99.7A7.0 4.1 166 1 0 1660.6 103.0ZM1705.0 102.3A9.4 4.3 143 1 0 1720.0 91.1A9.4 4.3 143 1 0 1705.0 102.3ZM1713.3 98.4A9.5 4.2 12 1 0 1694.8 94.6A9.5 4.2 12 1 0 1713.3 98.4ZM1425.8 120.6A6.8 4.2 158 1 0 1438.3 115.5A6.8 4.2 158 1 0 1425.8 120.6ZM1443.3 116.0A6.8 4.8 162 1 0 1456.2 111.9A6.8 4.8 162 1 0 1443.3 116.0ZM1482.0 130.8A7.2 5.0 106 1 0 1485.9 117.0A7.2 5.0 106 1 0 1482.0 130.8ZM1537.9 117.3A9.1 4.1 65 1 0 1530.4 100.7A9.1 4.1 65 1 0 1537.9 117.3ZM1529.9 118.1A7.7 3.8 176 1 0 1545.2 116.9A7.7 3.8 176 1 0 1529.9 118.1ZM1627.8 117.8A6.5 4.3 60 1 0 1621.3 106.5A6.5 4.3 60 1 0 1627.8 117.8ZM1706.2 116.8A7.7 3.9 98 1 0 1708.2 101.5A7.7 3.9 98 1 0 1706.2 116.8ZM1413.5 141.0A7.2 4.4 27 1 0 1400.6 134.4A7.2 4.4 27 1 0 1413.5 141.0ZM1441.3 136.9A8.9 5.1 134 1 0 1453.7 124.2A8.9 5.1 134 1 0 1441.3 136.9ZM1480.0 134.9A7.1 4.7 63 1 0 1473.5 122.4A7.1 4.7 63 1 0 1480.0 134.9ZM1499.6 142.3A9.2 4.9 70 1 0 1493.4 125.0A9.2 4.9 70 1 0 1499.6 142.3ZM1496.9 142.0A6.5 4.7 11 1 0 1484.2 139.5A6.5 4.7 11 1 0 1496.9 142.0ZM1529.6 134.0A9.4 4.4 33 1 0 1513.7 123.8A9.4 4.4 33 1 0 1529.6 134.0ZM1586.9 135.0A7.5 4.4 14 1 0 1572.4 131.4A7.5 4.4 14 1 0 1586.9 135.0ZM1630.2 150.8A8.2 4.6 134 1 0 1641.6 139.1A8.2 4.6 134 1 0 1630.2 150.8ZM1646.6 144.3A7.3 4.1 31 1 0 1634.0 136.8A7.3 4.1 31 1 0 1646.6 144.3ZM1667.6 148.6A9.5 4.5 25 1 0 1650.5 140.6A9.5 4.5 25 1 0 1667.6 148.6ZM1660.1 138.1A6.9 4.0 73 1 0 1656.2 124.9A6.9 4.0 73 1 0 1660.1 138.1ZM1662.2 138.8A7.3 4.0 113 1 0 1667.8 125.4A7.3 4.0 113 1 0 1662.2 138.8ZM1703.7 142.9A7.0 3.7 58 1 0 1696.3 131.1A7.0 3.7 58 1 0 1703.7 142.9ZM1716.3 139.2A7.2 4.0 73 1 0 1712.0 125.4A7.2 4.0 73 1 0 1716.3 139.2ZM1502.2 165.8A7.8 4.3 78 1 0 1499.0 150.6A7.8 4.3 78 1 0 1502.2 165.8ZM1553.2 151.5A8.8 4.4 154 1 0 1569.1 143.8A8.8 4.4 154 1 0 1553.2 151.5ZM1582.0 154.9A9.1 4.1 155 1 0 1598.4 147.1A9.1 4.1 155 1 0 1582.0 154.9ZM1582.3 154.8A8.8 5.1 111 1 0 1588.7 138.5A8.8 5.1 111 1 0 1582.3 154.8ZM1634.9 153.7A6.9 4.0 165 1 0 1648.3 150.2A6.9 4.0 165 1 0 1634.9 153.7ZM1643.0 162.4A8.5 3.7 28 1 0 1628.0 154.5A8.5 3.7 28 1 0 1643.0 162.4ZM1628.2 162.6A8.3 4.6 96 1 0 1630.0 146.1A8.3 4.6 96 1 0 1628.2 162.6ZM1664.5 159.4A8.0 3.9 165 1 0 1679.9 155.2A8.0 3.9 165 1 0 1664.5 159.4ZM1671.8 170.3A8.5 4.7 46 1 0 1659.9 158.1A8.5 4.7 46 1 0 1671.8 170.3ZM1719.7 163.1A8.5 4.8 2 1 0 1702.6 162.3A8.5 4.8 2 1 0 1719.7 163.1ZM1543.3 185.9A7.7 4.9 117 1 0 1550.4 172.2A7.7 4.9 117 1 0 1543.3 185.9ZM1561.0 178.1A8.1 4.7 84 1 0 1559.4 161.9A8.1 4.7 84 1 0 1561.0 178.1ZM1565.8 183.8A6.7 4.6 16 1 0 1552.9 180.0A6.7 4.6 16 1 0 1565.8 183.8ZM1568.5 182.6A7.7 4.4 63 1 0 1561.6 168.9A7.7 4.4 63 1 0 1568.5 182.6ZM1630.0 180.9A7.6 4.9 31 1 0 1617.0 173.2A7.6 4.9 31 1 0 1630.0 180.9ZM1650.9 176.1A8.3 4.0 107 1 0 1655.7 160.1A8.3 4.0 107 1 0 1650.9 176.1ZM1666.8 170.4A8.0 4.6 25 1 0 1652.3 163.6A8.0 4.6 25 1 0 1666.8 170.4ZM1662.1 182.2A7.1 4.1 26 1 0 1649.3 175.9A7.1 4.1 26 1 0 1662.1 182.2ZM1658.9 173.0A9.1 4.5 163 1 0 1676.2 167.6A9.1 4.5 163 1 0 1658.9 173.0ZM1668.3 183.9A7.8 4.3 44 1 0 1657.1 173.0A7.8 4.3 44 1 0 1668.3 183.9ZM1688.4 178.5A8.2 5.0 118 1 0 1696.2 164.1A8.2 5.0 118 1 0 1688.4 178.5ZM1691.5 169.3A8.8 5.0 159 1 0 1707.9 163.1A8.8 5.0 159 1 0 1691.5 169.3ZM1712.4 176.0A8.9 3.9 139 1 0 1725.8 164.3A8.9 3.9 139 1 0 1712.4 176.0ZM1446.9 205.4A7.6 5.1 92 1 0 1447.4 190.3A7.6 5.1 92 1 0 1446.9 205.4ZM1517.2 197.2A9.0 4.3 42 1 0 1503.8 185.2A9.0 4.3 42 1 0 1517.2 197.2ZM1532.8 193.7A7.1 4.0 10 1 0 1518.7 191.4A7.1 4.0 10 1 0 1532.8 193.7ZM1542.0 203.4A7.5 3.8 117 1 0 1548.9 190.0A7.5 3.8 117 1 0 1542.0 203.4ZM1680.6 192.9A7.0 4.4 45 1 0 1670.8 183.0A7.0 4.4 45 1 0 1680.6 192.9ZM1686.7 207.7A9.3 3.8 102 1 0 1690.5 189.5A9.3 3.8 102 1 0 1686.7 207.7ZM1439.0 229.1A8.4 4.6 71 1 0 1433.5 213.3A8.4 4.6 71 1 0 1439.0 229.1ZM1460.8 229.0A8.4 4.0 125 1 0 1470.5 215.2A8.4 4.0 125 1 0 1460.8 229.0ZM1491.9 213.9A6.5 5.1 102 1 0 1494.7 201.1A6.5 5.1 102 1 0 1491.9 213.9ZM1542.4 212.4A7.2 5.1 138 1 0 1553.1 202.8A7.2 5.1 138 1 0 1542.4 212.4ZM1569.9 214.2A7.6 3.9 74 1 0 1565.7 199.6A7.6 3.9 74 1 0 1569.9 214.2ZM1552.6 234.1A9.4 3.9 128 1 0 1564.1 219.2A9.4 3.9 128 1 0 1552.6 234.1ZM1558.9 230.5A8.2 4.3 35 1 0 1545.5 221.1A8.2 4.3 35 1 0 1558.9 230.5ZM1563.2 234.0A8.7 5.1 153 1 0 1578.8 226.3A8.7 5.1 153 1 0 1563.2 234.0ZM1579.6 232.0A7.3 4.2 100 1 0 1582.2 217.5A7.3 4.2 100 1 0 1579.6 232.0ZM1574.7 247.2A8.4 3.7 101 1 0 1578.0 230.8A8.4 3.7 101 1 0 1574.7 247.2ZM1698.8 241.6A7.5 4.6 123 1 0 1707.1 229.0A7.5 4.6 123 1 0 1698.8 241.6ZM1447.4 251.9A9.3 4.7 14 1 0 1429.4 247.2A9.3 4.7 14 1 0 1447.4 251.9ZM1461.3 263.3A7.4 5.1 69 1 0 1456.0 249.4A7.4 5.1 69 1 0 1461.3 263.3ZM1485.2 252.0A7.8 5.1 73 1 0 1480.7 237.1A7.8 5.1 73 1 0 1485.2 252.0ZM1534.3 253.0A9.0 4.6 27 1 0 1518.3 245.0A9.0 4.6 27 1 0 1534.3 253.0ZM1526.9 266.7A9.3 4.7 100 1 0 1530.1 248.4A9.3 4.7 100 1 0 1526.9 266.7ZM1538.2 253.8A6.7 3.7 170 1 0 1551.4 251.4A6.7 3.7 170 1 0 1538.2 253.8ZM1563.1 269.9A9.1 4.2 96 1 0 1564.9 251.9A9.1 4.2 96 1 0 1563.1 269.9ZM1591.7 263.8A8.8 4.4 98 1 0 1594.1 246.3A8.8 4.4 98 1 0 1591.7 263.8ZM1689.5 261.9A8.7 4.1 37 1 0 1675.5 251.4A8.7 4.1 37 1 0 1689.5 261.9ZM1727.6 249.4A9.4 4.5 27 1 0 1710.9 241.0A9.4 4.5 27 1 0 1727.6 249.4ZM1449.9 279.7A8.4 4.2 45 1 0 1438.0 267.7A8.4 4.2 45 1 0 1449.9 279.7ZM1498.4 277.5A8.6 4.5 62 1 0 1490.5 262.3A8.6 4.5 62 1 0 1498.4 277.5ZM1522.4 288.7A8.2 5.0 121 1 0 1530.8 274.7A8.2 5.0 121 1 0 1522.4 288.7ZM1543.4 271.5A7.3 4.5 34 1 0 1531.4 263.3A7.3 4.5 34 1 0 1543.4 271.5ZM1550.3 273.6A6.5 4.9 115 1 0 1555.8 261.8A6.5 4.9 115 1 0 1550.3 273.6ZM1574.0 282.9A8.2 4.1 139 1 0 1586.4 272.2A8.2 4.1 139 1 0 1574.0 282.9ZM1566.5 271.5A8.5 3.8 145 1 0 1580.6 261.8A8.5 3.8 145 1 0 1566.5 271.5ZM1617.2 269.2A6.6 3.6 147 1 0 1628.3 262.0A6.6 3.6 147 1 0 1617.2 269.2ZM1622.0 288.5A7.5 3.8 74 1 0 1617.9 274.1A7.5 3.8 74 1 0 1622.0 288.5ZM1668.4 286.1A8.9 3.9 140 1 0 1681.9 274.5A8.9 3.9 140 1 0 1668.4 286.1ZM1697.0 267.5A7.7 5.2 19 1 0 1682.5 262.4A7.7 5.2 19 1 0 1697.0 267.5ZM1705.0 271.3A7.1 4.5 13 1 0 1691.3 268.1A7.1 4.5 13 1 0 1705.0 271.3ZM1413.1 289.9A7.0 5.2 44 1 0 1403.1 280.2A7.0 5.2 44 1 0 1413.1 289.9ZM1460.5 293.6A7.8 4.7 41 1 0 1448.6 283.4A7.8 4.7 41 1 0 1460.5 293.6ZM1442.4 292.2A8.8 4.0 119 1 0 1450.8 276.8A8.8 4.0 119 1 0 1442.4 292.2ZM1480.6 295.0A9.4 3.7 108 1 0 1486.6 277.2A9.4 3.7 108 1 0 1480.6 295.0ZM1494.6 298.0A8.1 5.1 84 1 0 1492.9 281.9A8.1 5.1 84 1 0 1494.6 298.0ZM1486.3 302.8A6.7 5.2 175 1 0 1499.5 301.6A6.7 5.2 175 1 0 1486.3 302.8ZM1543.4 287.5A8.6 4.2 166 1 0 1560.0 283.4A8.6 4.2 166 1 0 1543.4 287.5ZM1570.0 291.0A7.4 3.7 9 1 0 1555.5 288.7A7.4 3.7 9 1 0 1570.0 291.0ZM1569.4 296.1A7.9 5.0 124 1 0 1578.3 283.0A7.9 5.0 124 1 0 1569.4 296.1ZM1584.6 301.3A7.2 3.7 110 1 0 1589.5 287.7A7.2 3.7 110 1 0 1584.6 301.3ZM1606.0 304.0A9.2 3.7 101 1 0 1609.5 286.0A9.2 3.7 101 1 0 1606.0 304.0ZM1603.3 309.1A8.5 4.0 93 1 0 1604.3 292.0A8.5 4.0 93 1 0 1603.3 309.1ZM1636.8 304.0A9.1 3.6 9 1 0 1618.8 301.2A9.1 3.6 9 1 0 1636.8 304.0ZM1636.4 285.7A9.5 4.8 11 1 0 1617.8 282.2A9.5 4.8 11 1 0 1636.4 285.7ZM1670.7 302.7A8.7 4.8 119 1 0 1679.1 287.4A8.7 4.8 119 1 0 1670.7 302.7ZM1435.9 319.9A7.7 4.2 50 1 0 1426.0 308.2A7.7 4.2 50 1 0 1435.9 319.9ZM1444.0 316.0A7.7 4.2 125 1 0 1452.9 303.6A7.7 4.2 125 1 0 1444.0 316.0ZM1554.6 319.1A8.9 4.2 12 1 0 1537.2 315.5A8.9 4.2 12 1 0 1554.6 319.1ZM1653.0 325.3A7.7 4.4 94 1 0 1653.9 310.1A7.7 4.4 94 1 0 1653.0 325.3ZM1439.1 341.0A7.2 4.7 91 1 0 1439.4 326.7A7.2 4.7 91 1 0 1439.1 341.0ZM1445.5 341.7A9.1 4.6 1 1 0 1427.4 341.2A9.1 4.6 1 1 0 1445.5 341.7ZM1515.3 335.7A7.7 4.0 144 1 0 1527.8 326.5A7.7 4.0 144 1 0 1515.3 335.7ZM1541.8 346.9A9.3 4.5 29 1 0 1525.4 338.0A9.3 4.5 29 1 0 1541.8 346.9ZM1548.3 343.2A8.7 4.4 15 1 0 1531.4 338.7A8.7 4.4 15 1 0 1548.3 343.2ZM1533.0 342.3A7.3 4.1 6 1 0 1518.5 340.9A7.3 4.1 6 1 0 1533.0 342.3ZM1550.0 343.8A8.0 4.7 80 1 0 1547.2 328.0A8.0 4.7 80 1 0 1550.0 343.8ZM1550.1 342.8A9.1 4.9 149 1 0 1565.6 333.5A9.1 4.9 149 1 0 1550.1 342.8ZM1640.0 345.6A6.8 4.5 55 1 0 1632.2 334.5A6.8 4.5 55 1 0 1640.0 345.6ZM1636.3 331.4A8.0 3.9 7 1 0 1620.4 329.4A8.0 3.9 7 1 0 1636.3 331.4ZM1682.9 340.6A6.9 4.4 32 1 0 1671.2 333.3A6.9 4.4 32 1 0 1682.9 340.6ZM1514.7 355.3A8.9 5.0 82 1 0 1512.3 337.6A8.9 5.0 82 1 0 1514.7 355.3ZM1535.5 366.4A6.9 3.6 32 1 0 1523.9 359.0A6.9 3.6 32 1 0 1535.5 366.4ZM1631.4 353.7A7.1 3.8 84 1 0 1629.9 339.6A7.1 3.8 84 1 0 1631.4 353.7ZM1657.3 364.5A6.6 4.7 26 1 0 1645.4 358.7A6.6 4.7 26 1 0 1657.3 364.5ZM1703.0 364.0A8.9 5.0 65 1 0 1695.5 347.8A8.9 5.0 65 1 0 1703.0 364.0ZM1722.4 359.8A8.0 4.7 16 1 0 1707.1 355.3A8.0 4.7 16 1 0 1722.4 359.8ZM1526.7 374.7A6.8 4.0 31 1 0 1515.0 367.8A6.8 4.0 31 1 0 1526.7 374.7ZM1543.6 375.5A8.9 4.1 62 1 0 1535.4 359.7A8.9 4.1 62 1 0 1543.6 375.5ZM1526.1 381.7A9.2 4.7 138 1 0 1539.7 369.2A9.2 4.7 138 1 0 1526.1 381.7ZM1601.9 372.9A9.4 3.8 143 1 0 1616.8 361.6A9.4 3.8 143 1 0 1601.9 372.9ZM1454.4 392.0A7.3 4.4 10 1 0 1440.1 389.5A7.3 4.4 10 1 0 1454.4 392.0ZM1458.4 397.3A9.5 3.6 143 1 0 1473.6 386.0A9.5 3.6 143 1 0 1458.4 397.3ZM1516.0 399.9A7.7 4.4 175 1 0 1531.3 398.6A7.7 4.4 175 1 0 1516.0 399.9ZM1555.1 392.2A8.4 4.9 146 1 0 1568.9 382.8A8.4 4.9 146 1 0 1555.1 392.2ZM1570.8 395.3A8.5 4.4 160 1 0 1586.7 389.4A8.5 4.4 160 1 0 1570.8 395.3ZM1659.9 398.5A9.4 4.3 2 1 0 1641.1 398.0A9.4 4.3 2 1 0 1659.9 398.5ZM1690.7 392.0A9.0 4.1 132 1 0 1702.8 378.8A9.0 4.1 132 1 0 1690.7 392.0ZM1708.7 401.1A8.6 3.8 45 1 0 1696.5 388.9A8.6 3.8 45 1 0 1708.7 401.1Z"/><path fill="rgb(0,105,16)" d="M1465.8 91.3A4.9 3.2 102 1 0 1467.8 81.6A4.9 3.2 102 1 0 1465.8 91.3ZM1477.5 101.5A5.2 3.3 72 1 0 1474.3 91.6A5.2 3.3 72 1 0 1477.5 101.5ZM1524.6 88.7A5.3 2.7 157 1 0 1534.3 84.6A5.3 2.7 157 1 0 1524.6 88.7ZM1555.1 104.0A5.0 3.2 149 1 0 1563.7 98.7A5.0 3.2 149 1 0 1555.1 104.0ZM1553.9 96.7A5.2 3.3 155 1 0 1563.4 92.3A5.2 3.3 155 1 0 1553.9 96.7ZM1580.9 97.3A4.8 2.6 52 1 0 1575.0 89.7A4.8 2.6 52 1 0 1580.9 97.3ZM1613.2 95.4A4.8 3.2 148 1 0 1621.4 90.3A4.8 3.2 148 1 0 1613.2 95.4ZM1631.6 94.8A5.8 3.6 163 1 0 1642.6 91.5A5.8 3.6 163 1 0 1631.6 94.8ZM1622.0 94.3A4.2 2.5 168 1 0 1630.2 92.5A4.2 2.5 168 1 0 1622.0 94.3ZM1637.0 104.5A4.9 2.7 15 1 0 1627.5 102.1A4.9 2.7 15 1 0 1637.0 104.5ZM1647.2 91.3A5.6 3.3 44 1 0 1639.2 83.6A5.6 3.3 44 1 0 1647.2 91.3ZM1683.7 90.0A4.1 3.3 152 1 0 1690.8 86.2A4.1 3.3 152 1 0 1683.7 90.0ZM1709.5 96.9A5.9 2.9 12 1 0 1698.0 94.5A5.9 2.9 12 1 0 1709.5 96.9ZM1504.7 124.2A5.5 3.4 13 1 0 1493.9 121.7A5.5 3.4 13 1 0 1504.7 124.2ZM1514.7 114.4A4.8 3.6 131 1 0 1521.1 107.2A4.8 3.6 131 1 0 1514.7 114.4ZM1512.3 114.6A4.4 3.0 65 1 0 1508.6 106.7A4.4 3.0 65 1 0 1512.3 114.6ZM1635.0 117.3A5.0 3.5 12 1 0 1625.2 115.2A5.0 3.5 12 1 0 1635.0 117.3ZM1626.2 115.5A4.0 3.0 60 1 0 1622.2 108.5A4.0 3.0 60 1 0 1626.2 115.5ZM1684.6 126.7A4.5 3.6 104 1 0 1686.8 117.9A4.5 3.6 104 1 0 1684.6 126.7ZM1411.8 140.4A4.5 3.1 27 1 0 1403.9 136.3A4.5 3.1 27 1 0 1411.8 140.4ZM1469.0 142.1A5.6 2.9 37 1 0 1460.1 135.3A5.6 2.9 37 1 0 1469.0 142.1ZM1484.4 149.9A5.4 2.7 81 1 0 1482.7 139.1A5.4 2.7 81 1 0 1484.4 149.9ZM1498.9 139.9A5.7 3.4 70 1 0 1495.1 129.1A5.7 3.4 70 1 0 1498.9 139.9ZM1560.4 132.0A4.1 3.4 2 1 0 1552.2 131.6A4.1 3.4 2 1 0 1560.4 132.0ZM1584.6 134.6A4.6 3.1 14 1 0 1575.6 132.3A4.6 3.1 14 1 0 1584.6 134.6ZM1599.0 139.4A4.3 3.2 132 1 0 1604.7 133.0A4.3 3.2 132 1 0 1599.0 139.4ZM1599.0 147.0A5.3 3.2 84 1 0 1597.9 136.5A5.3 3.2 84 1 0 1599.0 147.0ZM1633.0 148.1A5.1 3.2 134 1 0 1640.0 140.8A5.1 3.2 134 1 0 1633.0 148.1ZM1637.0 130.7A4.6 2.7 26 1 0 1628.8 126.8A4.6 2.7 26 1 0 1637.0 130.7ZM1652.8 147.0A4.6 2.9 28 1 0 1644.7 142.6A4.6 2.9 28 1 0 1652.8 147.0ZM1663.1 136.9A4.5 2.8 113 1 0 1666.6 128.5A4.5 2.8 113 1 0 1663.1 136.9ZM1670.1 134.0A4.7 2.8 156 1 0 1678.7 130.2A4.7 2.8 156 1 0 1670.1 134.0ZM1689.8 135.6A4.9 3.2 37 1 0 1681.9 129.8A4.9 3.2 37 1 0 1689.8 135.6ZM1716.1 136.4A4.5 2.8 73 1 0 1713.4 127.8A4.5 2.8 73 1 0 1716.1 136.4ZM1439.8 150.4A5.1 2.9 2 1 0 1429.6 150.1A5.1 2.9 2 1 0 1439.8 150.4ZM1530.5 163.6A4.3 2.6 35 1 0 1523.5 158.7A4.3 2.6 35 1 0 1530.5 163.6ZM1569.9 169.2A4.9 2.9 138 1 0 1577.2 162.5A4.9 2.9 138 1 0 1569.9 169.2ZM1597.7 162.3A5.3 3.0 11 1 0 1587.3 160.3A5.3 3.0 11 1 0 1597.7 162.3ZM1582.7 152.1A5.4 3.6 111 1 0 1586.7 142.0A5.4 3.6 111 1 0 1582.7 152.1ZM1639.3 160.2A5.3 2.6 28 1 0 1630.0 155.3A5.3 2.6 28 1 0 1639.3 160.2ZM1626.9 152.5A5.2 3.5 74 1 0 1623.9 142.5A5.2 3.5 74 1 0 1626.9 152.5ZM1659.4 152.6A5.1 3.3 15 1 0 1649.5 149.9A5.1 3.3 15 1 0 1659.4 152.6ZM1666.8 158.9A5.0 2.7 165 1 0 1676.4 156.2A5.0 2.7 165 1 0 1666.8 158.9ZM1698.6 152.0A5.9 3.0 114 1 0 1703.3 141.3A5.9 3.0 114 1 0 1698.6 152.0ZM1696.6 158.1A5.8 3.0 56 1 0 1690.1 148.4A5.8 3.0 56 1 0 1696.6 158.1ZM1437.9 171.6A5.4 3.3 25 1 0 1428.0 167.0A5.4 3.3 25 1 0 1437.9 171.6ZM1560.7 175.2A5.0 3.3 84 1 0 1559.7 165.2A5.0 3.3 84 1 0 1560.7 175.2ZM1563.6 183.7A4.2 3.2 16 1 0 1555.6 181.3A4.2 3.2 16 1 0 1563.6 183.7ZM1585.8 170.9A5.8 3.6 5 1 0 1574.3 169.8A5.8 3.6 5 1 0 1585.8 170.9ZM1579.3 179.4A5.0 3.6 160 1 0 1588.7 176.1A5.0 3.6 160 1 0 1579.3 179.4ZM1629.9 174.2A5.8 3.2 49 1 0 1622.3 165.4A5.8 3.2 49 1 0 1629.9 174.2ZM1631.2 179.3A5.3 3.6 118 1 0 1636.1 169.8A5.3 3.6 118 1 0 1631.2 179.3ZM1663.5 169.2A5.0 3.2 25 1 0 1654.5 164.9A5.0 3.2 25 1 0 1663.5 169.2ZM1641.8 177.4A5.8 3.1 178 1 0 1653.4 177.1A5.8 3.1 178 1 0 1641.8 177.4ZM1663.0 171.8A5.6 3.2 163 1 0 1673.7 168.5A5.6 3.2 163 1 0 1663.0 171.8ZM1678.4 185.8A5.8 3.1 47 1 0 1670.6 177.4A5.8 3.1 47 1 0 1678.4 185.8ZM1688.3 189.4A5.8 3.0 135 1 0 1696.4 181.3A5.8 3.0 135 1 0 1688.3 189.4ZM1409.9 186.9A4.6 2.7 164 1 0 1418.8 184.3A4.6 2.7 164 1 0 1409.9 186.9ZM1443.0 187.6A4.9 3.3 1 1 0 1433.1 187.4A4.9 3.3 1 1 0 1443.0 187.6ZM1461.4 193.4A4.4 3.5 93 1 0 1461.8 184.6A4.4 3.5 93 1 0 1461.4 193.4ZM1447.0 202.4A4.7 3.5 92 1 0 1447.3 193.0A4.7 3.5 92 1 0 1447.0 202.4ZM1504.2 197.3A4.9 2.5 173 1 0 1514.0 196.2A4.9 2.5 173 1 0 1504.2 197.3ZM1543.6 201.3A4.7 2.7 117 1 0 1547.9 193.0A4.7 2.7 117 1 0 1543.6 201.3ZM1579.9 204.5A5.2 3.3 119 1 0 1584.9 195.5A5.2 3.3 119 1 0 1579.9 204.5ZM1621.8 194.9A4.0 3.0 146 1 0 1628.5 190.4A4.0 3.0 146 1 0 1621.8 194.9ZM1636.6 207.7A4.5 3.6 62 1 0 1632.4 199.8A4.5 3.6 62 1 0 1636.6 207.7ZM1645.0 195.5A4.4 3.2 106 1 0 1647.3 187.0A4.4 3.2 106 1 0 1645.0 195.5ZM1679.1 190.5A4.3 3.0 45 1 0 1673.0 184.4A4.3 3.0 45 1 0 1679.1 190.5ZM1696.3 192.8A4.1 2.8 155 1 0 1703.8 189.4A4.1 2.8 155 1 0 1696.3 192.8ZM1436.9 210.9A4.4 2.7 161 1 0 1445.2 208.0A4.4 2.7 161 1 0 1436.9 210.9ZM1438.0 226.4A5.2 3.2 71 1 0 1434.6 216.6A5.2 3.2 71 1 0 1438.0 226.4ZM1452.1 209.3A4.6 3.0 168 1 0 1461.1 207.5A4.6 3.0 168 1 0 1452.1 209.3ZM1475.4 210.5A4.8 2.8 37 1 0 1467.8 204.8A4.8 2.8 37 1 0 1475.4 210.5ZM1463.1 226.5A5.2 2.8 125 1 0 1469.1 218.0A5.2 2.8 125 1 0 1463.1 226.5ZM1491.9 227.1A5.2 3.5 119 1 0 1496.9 217.9A5.2 3.5 119 1 0 1491.9 227.1ZM1558.2 220.2A4.3 2.9 43 1 0 1551.9 214.2A4.3 2.9 43 1 0 1558.2 220.2ZM1569.3 210.8A4.7 2.7 74 1 0 1566.6 201.8A4.7 2.7 74 1 0 1569.3 210.8ZM1548.1 239.1A4.8 3.4 50 1 0 1541.9 231.7A4.8 3.4 50 1 0 1548.1 239.1ZM1580.5 228.9A4.5 3.0 100 1 0 1582.1 220.0A4.5 3.0 100 1 0 1580.5 228.9ZM1604.1 247.7A5.1 2.8 98 1 0 1605.5 237.7A5.1 2.8 98 1 0 1604.1 247.7ZM1670.9 247.4A4.8 2.8 52 1 0 1664.9 239.8A4.8 2.8 52 1 0 1670.9 247.4ZM1430.5 249.2A4.3 3.1 67 1 0 1427.2 241.3A4.3 3.1 67 1 0 1430.5 249.2ZM1484.1 249.8A4.8 3.6 73 1 0 1481.3 240.6A4.8 3.6 73 1 0 1484.1 249.8ZM1505.7 265.4A5.8 3.3 140 1 0 1514.5 258.0A5.8 3.3 140 1 0 1505.7 265.4ZM1531.2 250.9A5.6 3.2 27 1 0 1521.3 245.9A5.6 3.2 27 1 0 1531.2 250.9ZM1527.8 263.6A5.8 3.3 100 1 0 1529.8 252.2A5.8 3.3 100 1 0 1527.8 263.6ZM1570.9 250.2A5.5 2.7 107 1 0 1574.1 239.6A5.5 2.7 107 1 0 1570.9 250.2ZM1567.1 262.0A5.5 3.1 119 1 0 1572.5 252.4A5.5 3.1 119 1 0 1567.1 262.0ZM1604.5 261.1A5.4 3.2 103 1 0 1607.0 250.6A5.4 3.2 103 1 0 1604.5 261.1ZM1625.3 252.8A5.6 3.3 175 1 0 1636.4 251.8A5.6 3.3 175 1 0 1625.3 252.8ZM1625.4 253.9A5.2 3.4 76 1 0 1622.9 243.8A5.2 3.4 76 1 0 1625.4 253.9ZM1704.0 249.0A4.3 2.5 25 1 0 1696.3 245.4A4.3 2.5 25 1 0 1704.0 249.0ZM1446.8 276.9A5.2 2.9 45 1 0 1439.4 269.5A5.2 2.9 45 1 0 1446.8 276.9ZM1432.8 284.5A4.8 2.6 26 1 0 1424.3 280.3A4.8 2.6 26 1 0 1432.8 284.5ZM1465.0 265.1A5.1 3.2 175 1 0 1475.1 264.2A5.1 3.2 175 1 0 1465.0 265.1ZM1483.9 277.1A4.7 3.6 59 1 0 1479.0 269.0A4.7 3.6 59 1 0 1483.9 277.1ZM1499.0 287.3A5.0 3.4 85 1 0 1498.0 277.4A5.0 3.4 85 1 0 1499.0 287.3ZM1535.3 275.6A5.3 3.6 35 1 0 1526.6 269.5A5.3 3.6 35 1 0 1535.3 275.6ZM1523.6 286.8A5.1 3.5 121 1 0 1528.8 278.2A5.1 3.5 121 1 0 1523.6 286.8ZM1551.1 271.5A4.0 3.4 115 1 0 1554.5 264.1A4.0 3.4 115 1 0 1551.1 271.5ZM1548.7 277.6A5.1 3.5 57 1 0 1543.2 269.1A5.1 3.5 57 1 0 1548.7 277.6ZM1557.7 284.0A5.8 2.7 116 1 0 1562.8 273.5A5.8 2.7 116 1 0 1557.7 284.0ZM1577.8 278.5A4.4 3.1 4 1 0 1568.9 277.8A4.4 3.1 4 1 0 1577.8 278.5ZM1583.7 272.1A4.1 2.6 51 1 0 1578.5 265.7A4.1 2.6 51 1 0 1583.7 272.1ZM1602.6 271.9A4.2 3.4 59 1 0 1598.4 264.7A4.2 3.4 59 1 0 1602.6 271.9ZM1669.8 276.6A5.0 3.0 105 1 0 1672.3 267.0A5.0 3.0 105 1 0 1669.8 276.6ZM1681.5 280.2A4.7 3.4 172 1 0 1690.7 278.9A4.7 3.4 172 1 0 1681.5 280.2ZM1694.0 267.2A4.8 3.6 19 1 0 1685.0 264.0A4.8 3.6 19 1 0 1694.0 267.2ZM1703.1 269.8A4.4 3.2 13 1 0 1694.5 267.8A4.4 3.2 13 1 0 1703.1 269.8ZM1417.3 300.4A5.2 2.6 100 1 0 1419.1 290.1A5.2 2.6 100 1 0 1417.3 300.4ZM1567.4 289.9A4.6 2.6 9 1 0 1558.4 288.5A4.6 2.6 9 1 0 1567.4 289.9ZM1579.9 290.4A5.4 3.2 88 1 0 1579.5 279.6A5.4 3.2 88 1 0 1579.9 290.4ZM1572.2 307.2A5.5 3.3 42 1 0 1564.1 299.8A5.5 3.3 42 1 0 1572.2 307.2ZM1571.0 293.9A4.9 3.5 124 1 0 1576.5 285.8A4.9 3.5 124 1 0 1571.0 293.9ZM1672.6 299.2A5.4 3.4 119 1 0 1677.9 289.7A5.4 3.4 119 1 0 1672.6 299.2ZM1670.5 292.8A4.4 2.7 107 1 0 1673.0 284.5A4.4 2.7 107 1 0 1670.5 292.8ZM1688.9 295.8A5.0 3.2 88 1 0 1688.6 285.8A5.0 3.2 88 1 0 1688.9 295.8ZM1683.7 301.1A5.7 3.6 85 1 0 1682.7 289.8A5.7 3.6 85 1 0 1683.7 301.1ZM1438.3 326.2A5.5 3.4 126 1 0 1444.8 317.3A5.5 3.4 126 1 0 1438.3 326.2ZM1575.6 318.2A5.6 2.9 137 1 0 1583.9 310.6A5.6 2.9 137 1 0 1575.6 318.2ZM1567.4 314.4A4.6 2.8 158 1 0 1576.0 311.0A4.6 2.8 158 1 0 1567.4 314.4ZM1635.8 324.7A4.3 3.6 21 1 0 1627.8 321.6A4.3 3.6 21 1 0 1635.8 324.7ZM1439.9 337.4A4.4 3.3 91 1 0 1440.1 328.6A4.4 3.3 91 1 0 1439.9 337.4ZM1516.9 333.7A4.8 2.8 144 1 0 1524.6 328.0A4.8 2.8 144 1 0 1516.9 333.7ZM1522.4 342.7A5.8 2.8 22 1 0 1511.7 338.4A5.8 2.8 22 1 0 1522.4 342.7ZM1543.1 333.8A4.6 3.5 63 1 0 1539.0 325.5A4.6 3.5 63 1 0 1543.1 333.8ZM1529.9 342.1A4.5 2.9 6 1 0 1520.9 341.2A4.5 2.9 6 1 0 1529.9 342.1ZM1553.9 341.2A5.6 3.4 149 1 0 1563.6 335.4A5.6 3.4 149 1 0 1553.9 341.2ZM1615.3 326.4A4.5 2.9 158 1 0 1623.6 323.0A4.5 2.9 158 1 0 1615.3 326.4ZM1663.2 327.3A5.6 3.0 143 1 0 1672.1 320.6A5.6 3.0 143 1 0 1663.2 327.3ZM1707.9 342.0A5.1 2.7 92 1 0 1708.2 331.8A5.1 2.7 92 1 0 1707.9 342.0ZM1538.9 348.9A4.9 3.2 146 1 0 1547.0 343.3A4.9 3.2 146 1 0 1538.9 348.9ZM1599.9 352.0A5.8 3.5 159 1 0 1610.7 347.8A5.8 3.5 159 1 0 1599.9 352.0ZM1649.0 359.3A5.3 2.8 130 1 0 1655.7 351.2A5.3 2.8 130 1 0 1649.0 359.3ZM1676.2 361.8A4.6 3.5 128 1 0 1682.0 354.6A4.6 3.5 128 1 0 1676.2 361.8ZM1702.6 350.4A5.3 3.0 56 1 0 1696.7 341.5A5.3 3.0 56 1 0 1702.6 350.4ZM1428.8 380.5A4.2 3.6 153 1 0 1436.2 376.7A4.2 3.6 153 1 0 1428.8 380.5ZM1448.8 369.8A4.7 2.9 29 1 0 1440.5 365.2A4.7 2.9 29 1 0 1448.8 369.8ZM1463.0 372.7A4.7 3.0 45 1 0 1456.5 366.0A4.7 3.0 45 1 0 1463.0 372.7ZM1468.6 383.3A5.6 2.6 52 1 0 1461.7 374.5A5.6 2.6 52 1 0 1468.6 383.3ZM1472.2 380.9A4.4 3.6 177 1 0 1481.0 380.4A4.4 3.6 177 1 0 1472.2 380.9ZM1508.5 369.9A4.9 3.0 52 1 0 1502.5 362.2A4.9 3.0 52 1 0 1508.5 369.9ZM1542.2 371.7A5.5 2.9 62 1 0 1537.1 361.9A5.5 2.9 62 1 0 1542.2 371.7ZM1529.4 379.4A5.7 3.3 138 1 0 1537.9 371.6A5.7 3.3 138 1 0 1529.4 379.4ZM1663.9 370.2A4.1 3.2 104 1 0 1665.9 362.2A4.1 3.2 104 1 0 1663.9 370.2ZM1683.8 369.8A5.7 2.6 145 1 0 1693.2 363.3A5.7 2.6 145 1 0 1683.8 369.8ZM1410.1 398.9A4.1 3.1 23 1 0 1402.4 395.7A4.1 3.1 23 1 0 1410.1 398.9ZM1451.2 391.8A4.5 3.1 10 1 0 1442.3 390.2A4.5 3.1 10 1 0 1451.2 391.8ZM1490.8 396.8A5.3 3.2 171 1 0 1501.3 395.1A5.3 3.2 171 1 0 1490.8 396.8ZM1556.9 390.9A5.2 3.4 146 1 0 1565.5 385.1A5.2 3.4 146 1 0 1556.9 390.9ZM1556.5 400.9A5.3 3.0 121 1 0 1561.9 391.8A5.3 3.0 121 1 0 1556.5 400.9ZM1572.9 393.9A5.3 3.1 160 1 0 1582.8 390.2A5.3 3.1 160 1 0 1572.9 393.9ZM1590.8 404.8A5.2 3.5 163 1 0 1600.8 401.7A5.2 3.5 163 1 0 1590.8 404.8ZM1622.0 388.2A4.6 3.5 109 1 0 1625.1 379.6A4.6 3.5 109 1 0 1622.0 388.2ZM1657.1 398.0A5.8 3.0 2 1 0 1645.5 397.7A5.8 3.0 2 1 0 1657.1 398.0ZM1692.8 390.0A5.6 2.9 132 1 0 1700.3 381.8A5.6 2.9 132 1 0 1692.8 390.0ZM1706.4 399.5A5.3 2.7 45 1 0 1698.8 392.0A5.3 2.7 45 1 0 1706.4 399.5Z"/><path fill="rgb(0,122,18)" d="M1400.7 95.4A4.8 3.5 175 1 0 1410.4 94.5A4.8 3.5 175 1 0 1400.7 95.4ZM1455.4 101.0A5.7 3.2 55 1 0 1448.8 91.7A5.7 3.2 55 1 0 1455.4 101.0ZM1513.4 104.8A4.8 3.1 117 1 0 1517.9 96.3A4.8 3.1 117 1 0 1513.4 104.8ZM1513.1 104.3A5.7 3.4 3 1 0 1501.7 103.8A5.7 3.4 3 1 0 1513.1 104.3ZM1539.4 102.2A4.5 3.3 46 1 0 1533.1 95.7A4.5 3.3 46 1 0 1539.4 102.2ZM1521.8 99.4A4.9 2.6 163 1 0 1531.3 96.6A4.9 2.6 163 1 0 1521.8 99.4ZM1554.2 100.3A5.6 2.7 60 1 0 1548.7 90.7A5.6 2.7 60 1 0 1554.2 100.3ZM1582.2 102.0A5.2 3.0 29 1 0 1573.2 97.1A5.2 3.0 29 1 0 1582.2 102.0ZM1573.5 104.0A5.3 2.7 4 1 0 1562.9 103.3A5.3 2.7 4 1 0 1573.5 104.0ZM1662.3 101.9A4.3 2.9 166 1 0 1670.7 99.8A4.3 2.9 166 1 0 1662.3 101.9ZM1662.6 93.4A5.6 3.3 126 1 0 1669.2 84.5A5.6 3.3 126 1 0 1662.6 93.4ZM1693.8 92.0A4.3 2.5 180 1 0 1702.3 91.9A4.3 2.5 180 1 0 1693.8 92.0ZM1702.3 90.8A5.6 2.8 173 1 0 1713.5 89.4A5.6 2.8 173 1 0 1702.3 90.8ZM1446.0 114.6A4.2 3.3 162 1 0 1454.0 112.1A4.2 3.3 162 1 0 1446.0 114.6ZM1483.3 128.4A4.5 3.5 106 1 0 1485.7 119.9A4.5 3.5 106 1 0 1483.3 128.4ZM1536.0 114.9A5.7 2.9 65 1 0 1531.3 104.6A5.7 2.9 65 1 0 1536.0 114.9ZM1633.3 114.8A5.9 2.7 150 1 0 1643.5 109.0A5.9 2.7 150 1 0 1633.3 114.8ZM1652.2 117.1A4.5 2.9 41 1 0 1645.5 111.2A4.5 2.9 41 1 0 1652.2 117.1ZM1466.7 133.4A5.5 3.5 153 1 0 1476.5 128.3A5.5 3.5 153 1 0 1466.7 133.4ZM1527.3 131.4A5.8 3.0 33 1 0 1517.5 125.1A5.8 3.0 33 1 0 1527.3 131.4ZM1567.1 141.1A5.8 3.1 38 1 0 1558.0 133.9A5.8 3.1 38 1 0 1567.1 141.1ZM1645.1 143.4A4.5 2.8 31 1 0 1637.3 138.7A4.5 2.8 31 1 0 1645.1 143.4ZM1659.4 135.3A4.2 2.8 73 1 0 1657.0 127.2A4.2 2.8 73 1 0 1659.4 135.3ZM1687.6 144.2A5.4 3.2 0 1 0 1676.8 144.1A5.4 3.2 0 1 0 1687.6 144.2ZM1466.2 158.4A4.5 3.1 163 1 0 1474.8 155.8A4.5 3.1 163 1 0 1466.2 158.4ZM1553.0 168.8A5.6 3.6 130 1 0 1560.1 160.1A5.6 3.6 130 1 0 1553.0 168.8ZM1569.3 152.9A4.9 3.0 72 1 0 1566.3 143.5A4.9 3.0 72 1 0 1569.3 152.9ZM1659.0 157.5A5.7 2.9 135 1 0 1667.1 149.5A5.7 2.9 135 1 0 1659.0 157.5ZM1680.1 168.5A5.4 2.9 93 1 0 1680.6 157.8A5.4 2.9 93 1 0 1680.1 168.5ZM1680.3 155.3A4.0 2.7 66 1 0 1677.0 147.9A4.0 2.7 66 1 0 1680.3 155.3ZM1457.5 173.9A5.3 3.6 19 1 0 1447.5 170.5A5.3 3.6 19 1 0 1457.5 173.9ZM1556.7 177.0A4.2 2.7 29 1 0 1549.4 172.9A4.2 2.7 29 1 0 1556.7 177.0ZM1581.4 178.5A4.0 3.3 2 1 0 1573.3 178.2A4.0 3.3 2 1 0 1581.4 178.5ZM1567.8 180.3A4.8 3.1 63 1 0 1563.6 171.8A4.8 3.1 63 1 0 1567.8 180.3ZM1607.5 171.6A4.4 2.9 46 1 0 1601.3 165.2A4.4 2.9 46 1 0 1607.5 171.6ZM1627.4 179.8A4.7 3.4 31 1 0 1619.3 175.0A4.7 3.4 31 1 0 1627.4 179.8ZM1659.9 180.9A4.4 2.9 26 1 0 1652.0 177.0A4.4 2.9 26 1 0 1659.9 180.9ZM1666.7 181.1A4.9 3.0 44 1 0 1659.7 174.4A4.9 3.0 44 1 0 1666.7 181.1ZM1676.1 177.6A4.4 3.2 45 1 0 1669.9 171.4A4.4 3.2 45 1 0 1676.1 177.6ZM1694.8 167.7A5.4 3.5 159 1 0 1705.0 163.8A5.4 3.5 159 1 0 1694.8 167.7ZM1682.5 186.1A5.4 3.3 104 1 0 1685.2 175.5A5.4 3.3 104 1 0 1682.5 186.1ZM1715.7 173.2A5.5 2.7 139 1 0 1724.0 166.0A5.5 2.7 139 1 0 1715.7 173.2ZM1432.5 205.9A4.2 3.3 51 1 0 1427.3 199.3A4.2 3.3 51 1 0 1432.5 205.9ZM1515.4 195.1A5.6 3.0 42 1 0 1507.1 187.8A5.6 3.0 42 1 0 1515.4 195.1ZM1578.1 191.5A4.2 3.5 169 1 0 1586.4 190.0A4.2 3.5 169 1 0 1578.1 191.5ZM1594.8 186.6A4.3 3.0 178 1 0 1603.4 186.3A4.3 3.0 178 1 0 1594.8 186.6ZM1598.3 190.9A4.3 3.4 23 1 0 1590.5 187.5A4.3 3.4 23 1 0 1598.3 190.9ZM1647.7 203.1A5.2 3.0 164 1 0 1657.8 200.3A5.2 3.0 164 1 0 1647.7 203.1ZM1671.9 194.4A4.3 3.3 50 1 0 1666.5 187.8A4.3 3.3 50 1 0 1671.9 194.4ZM1669.9 200.2A5.3 2.7 124 1 0 1675.8 191.3A5.3 2.7 124 1 0 1669.9 200.2ZM1686.7 193.0A4.5 3.6 73 1 0 1684.0 184.4A4.5 3.6 73 1 0 1686.7 193.0ZM1433.2 211.2A5.4 3.2 22 1 0 1423.1 207.2A5.4 3.2 22 1 0 1433.2 211.2ZM1464.6 227.7A5.6 2.8 41 1 0 1456.2 220.4A5.6 2.8 41 1 0 1464.6 227.7ZM1447.1 225.2A4.4 3.3 136 1 0 1453.4 219.1A4.4 3.3 136 1 0 1447.1 225.2ZM1482.8 219.4A4.6 3.5 64 1 0 1478.8 211.1A4.6 3.5 64 1 0 1482.8 219.4ZM1492.6 210.6A4.1 3.5 102 1 0 1494.3 202.7A4.1 3.5 102 1 0 1492.6 210.6ZM1541.9 223.8A4.3 2.9 125 1 0 1546.9 216.8A4.3 2.9 125 1 0 1541.9 223.8ZM1578.3 226.5A5.8 2.6 42 1 0 1569.7 218.7A5.8 2.6 42 1 0 1578.3 226.5ZM1596.0 216.8A5.9 3.6 68 1 0 1591.6 205.9A5.9 3.6 68 1 0 1596.0 216.8ZM1448.8 237.3A4.6 3.2 119 1 0 1453.4 229.2A4.6 3.2 119 1 0 1448.8 237.3ZM1493.6 230.4A5.7 2.6 156 1 0 1504.0 225.6A5.7 2.6 156 1 0 1493.6 230.4ZM1505.4 233.5A5.0 3.1 132 1 0 1512.1 226.1A5.0 3.1 132 1 0 1505.4 233.5ZM1524.2 238.3A5.9 2.6 164 1 0 1535.5 235.0A5.9 2.6 164 1 0 1524.2 238.3ZM1554.3 230.5A5.8 2.7 128 1 0 1561.4 221.2A5.8 2.7 128 1 0 1554.3 230.5ZM1565.7 233.4A5.4 3.6 153 1 0 1575.3 228.6A5.4 3.6 153 1 0 1565.7 233.4ZM1639.5 231.3A5.7 2.5 175 1 0 1650.9 230.3A5.7 2.5 175 1 0 1639.5 231.3ZM1680.8 239.6A5.3 3.2 121 1 0 1686.2 230.4A5.3 3.2 121 1 0 1680.8 239.6ZM1435.4 262.9A4.6 3.3 170 1 0 1444.5 261.3A4.6 3.3 170 1 0 1435.4 262.9ZM1459.8 260.4A4.6 3.6 69 1 0 1456.5 251.7A4.6 3.6 69 1 0 1459.8 260.4ZM1504.8 257.7A4.8 3.3 48 1 0 1498.3 250.4A4.8 3.3 48 1 0 1504.8 257.7ZM1609.0 260.8A5.8 2.7 130 1 0 1616.4 251.9A5.8 2.7 130 1 0 1609.0 260.8ZM1632.2 250.3A5.1 3.6 167 1 0 1642.1 248.0A5.1 3.6 167 1 0 1632.2 250.3ZM1674.4 265.4A5.7 3.6 156 1 0 1684.8 260.9A5.7 3.6 156 1 0 1674.4 265.4ZM1723.7 248.0A5.8 3.2 27 1 0 1713.3 242.8A5.8 3.2 27 1 0 1723.7 248.0ZM1412.7 276.6A4.3 2.9 52 1 0 1407.3 269.8A4.3 2.9 52 1 0 1412.7 276.6ZM1409.0 265.9A5.0 2.8 166 1 0 1418.7 263.6A5.0 2.8 166 1 0 1409.0 265.9ZM1448.5 271.1A4.3 3.5 178 1 0 1457.2 270.7A4.3 3.5 178 1 0 1448.5 271.1ZM1456.2 268.6A5.9 3.3 160 1 0 1467.2 264.6A5.9 3.3 160 1 0 1456.2 268.6ZM1479.1 286.1A5.1 2.9 50 1 0 1472.5 278.3A5.1 2.9 50 1 0 1479.1 286.1ZM1497.5 274.7A5.3 3.2 62 1 0 1492.6 265.3A5.3 3.2 62 1 0 1497.5 274.7ZM1541.1 270.2A4.5 3.1 34 1 0 1533.6 265.2A4.5 3.1 34 1 0 1541.1 270.2ZM1576.0 280.9A5.1 2.9 139 1 0 1583.7 274.3A5.1 2.9 139 1 0 1576.0 280.9ZM1619.7 268.1A4.1 2.5 147 1 0 1626.5 263.7A4.1 2.5 147 1 0 1619.7 268.1ZM1623.0 274.9A4.6 2.7 133 1 0 1629.3 268.1A4.6 2.7 133 1 0 1623.0 274.9ZM1670.6 284.3A5.5 2.7 140 1 0 1678.9 277.2A5.5 2.7 140 1 0 1670.6 284.3ZM1662.7 273.4A4.5 3.1 114 1 0 1666.3 265.1A4.5 3.1 114 1 0 1662.7 273.4ZM1701.8 284.2A5.1 2.7 18 1 0 1692.1 281.1A5.1 2.7 18 1 0 1701.8 284.2ZM1430.3 291.0A5.7 2.6 150 1 0 1440.2 285.3A5.7 2.6 150 1 0 1430.3 291.0ZM1424.9 293.9A4.5 2.8 167 1 0 1433.6 291.9A4.5 2.8 167 1 0 1424.9 293.9ZM1445.0 307.9A4.6 3.5 79 1 0 1443.3 298.8A4.6 3.5 79 1 0 1445.0 307.9ZM1444.6 289.2A5.4 2.8 119 1 0 1449.8 279.7A5.4 2.8 119 1 0 1444.6 289.2ZM1449.5 300.6A4.2 2.9 61 1 0 1445.4 293.3A4.2 2.9 61 1 0 1449.5 300.6ZM1485.9 301.5A5.1 2.9 31 1 0 1477.1 296.3A5.1 2.9 31 1 0 1485.9 301.5ZM1498.6 298.8A5.3 2.7 139 1 0 1506.6 291.9A5.3 2.7 139 1 0 1498.6 298.8ZM1546.9 286.4A5.3 2.9 166 1 0 1557.2 283.8A5.3 2.9 166 1 0 1546.9 286.4ZM1567.3 300.8A5.6 3.1 100 1 0 1569.2 289.8A5.6 3.1 100 1 0 1567.3 300.8ZM1585.0 298.8A4.5 2.6 110 1 0 1588.0 290.4A4.5 2.6 110 1 0 1585.0 298.8ZM1606.0 300.4A5.7 2.6 101 1 0 1608.2 289.2A5.7 2.6 101 1 0 1606.0 300.4ZM1633.1 303.4A5.6 2.5 9 1 0 1622.0 301.6A5.6 2.5 9 1 0 1633.1 303.4ZM1426.8 312.7A5.6 3.1 77 1 0 1424.2 301.8A5.6 3.1 77 1 0 1426.8 312.7ZM1406.3 320.0A4.9 2.7 164 1 0 1415.7 317.3A4.9 2.7 164 1 0 1406.3 320.0ZM1433.7 323.0A4.2 2.6 27 1 0 1426.2 319.2A4.2 2.6 27 1 0 1433.7 323.0ZM1445.4 314.1A4.7 2.9 125 1 0 1451.0 306.4A4.7 2.9 125 1 0 1445.4 314.1ZM1550.6 317.7A5.5 2.9 12 1 0 1539.8 315.5A5.5 2.9 12 1 0 1550.6 317.7ZM1642.5 314.5A5.6 3.1 40 1 0 1633.8 307.3A5.6 3.1 40 1 0 1642.5 314.5ZM1652.3 322.1A4.7 3.1 94 1 0 1652.9 312.7A4.7 3.1 94 1 0 1652.3 322.1ZM1412.5 341.4A4.8 3.4 91 1 0 1412.6 331.7A4.8 3.4 91 1 0 1412.5 341.4ZM1466.4 324.4A5.1 3.1 3 1 0 1456.3 323.8A5.1 3.1 3 1 0 1466.4 324.4ZM1517.2 336.0A4.5 3.3 25 1 0 1509.0 332.2A4.5 3.3 25 1 0 1517.2 336.0ZM1545.2 342.5A5.4 3.1 15 1 0 1534.8 339.7A5.4 3.1 15 1 0 1545.2 342.5ZM1548.7 341.1A5.0 3.3 80 1 0 1546.9 331.3A5.0 3.3 80 1 0 1548.7 341.1ZM1605.6 332.2A5.1 2.6 113 1 0 1609.6 322.7A5.1 2.6 113 1 0 1605.6 332.2ZM1638.9 342.7A4.2 3.2 55 1 0 1634.1 335.8A4.2 3.2 55 1 0 1638.9 342.7ZM1651.9 343.6A4.5 3.6 110 1 0 1654.9 335.2A4.5 3.6 110 1 0 1651.9 343.6ZM1663.3 329.8A5.0 3.0 15 1 0 1653.6 327.3A5.0 3.0 15 1 0 1663.3 329.8ZM1513.4 351.2A5.5 3.5 82 1 0 1511.9 340.2A5.5 3.5 82 1 0 1513.4 351.2ZM1543.5 353.8A4.7 3.5 17 1 0 1534.5 351.1A4.7 3.5 17 1 0 1543.5 353.8ZM1607.0 362.7A5.4 3.1 94 1 0 1607.8 351.8A5.4 3.1 94 1 0 1607.0 362.7ZM1630.4 351.1A4.4 2.7 84 1 0 1629.4 342.4A4.4 2.7 84 1 0 1630.4 351.1ZM1682.2 361.7A5.7 3.4 146 1 0 1691.7 355.3A5.7 3.4 146 1 0 1682.2 361.7ZM1453.6 387.0A5.5 2.9 48 1 0 1446.2 378.9A5.5 2.9 48 1 0 1453.6 387.0ZM1461.5 366.2A4.9 2.5 165 1 0 1471.0 363.7A4.9 2.5 165 1 0 1461.5 366.2ZM1494.1 372.7A5.4 3.5 150 1 0 1503.5 367.2A5.4 3.5 150 1 0 1494.1 372.7ZM1555.3 386.1A4.2 3.3 119 1 0 1559.3 378.8A4.2 3.3 119 1 0 1555.3 386.1ZM1552.1 374.7A5.3 3.1 63 1 0 1547.3 365.2A5.3 3.1 63 1 0 1552.1 374.7ZM1574.7 375.8A5.2 3.6 1 1 0 1564.4 375.6A5.2 3.6 1 1 0 1574.7 375.8ZM1594.3 375.8A5.6 3.2 123 1 0 1600.5 366.4A5.6 3.2 123 1 0 1594.3 375.8ZM1593.5 367.9A4.7 2.6 31 1 0 1585.5 363.2A4.7 2.6 31 1 0 1593.5 367.9ZM1605.1 371.2A5.8 2.7 143 1 0 1614.3 364.1A5.8 2.7 143 1 0 1605.1 371.2ZM1638.7 368.0A4.5 2.9 66 1 0 1635.0 359.7A4.5 2.9 66 1 0 1638.7 368.0ZM1477.9 400.1A5.9 3.6 150 1 0 1488.1 394.2A5.9 3.6 150 1 0 1477.9 400.1ZM1461.3 395.8A5.9 2.5 143 1 0 1470.7 388.7A5.9 2.5 143 1 0 1461.3 395.8ZM1534.3 402.9A5.5 3.5 147 1 0 1543.5 397.0A5.5 3.5 147 1 0 1534.3 402.9ZM1537.1 388.7A4.8 3.3 180 1 0 1546.7 388.6A4.8 3.3 180 1 0 1537.1 388.7ZM1606.5 404.7A4.2 3.0 133 1 0 1612.3 398.6A4.2 3.0 133 1 0 1606.5 404.7ZM1627.7 402.2A5.7 3.5 79 1 0 1625.4 391.0A5.7 3.5 79 1 0 1627.7 402.2ZM1689.0 395.8A5.8 3.6 157 1 0 1699.5 391.3A5.8 3.6 157 1 0 1689.0 395.8Z"/><path fill="rgb(0,140,20)" d="M1488.0 109.0A5.7 3.5 99 1 0 1489.7 97.8A5.7 3.5 99 1 0 1488.0 109.0ZM1524.1 108.6A4.2 3.4 87 1 0 1523.7 100.2A4.2 3.4 87 1 0 1524.1 108.6ZM1542.5 94.7A4.5 3.0 87 1 0 1542.1 85.7A4.5 3.0 87 1 0 1542.5 94.7ZM1546.5 107.4A4.1 2.9 51 1 0 1541.5 101.1A4.1 2.9 51 1 0 1546.5 107.4ZM1568.0 92.8A5.7 3.5 85 1 0 1566.9 81.5A5.7 3.5 85 1 0 1568.0 92.8ZM1598.7 94.6A5.4 3.1 133 1 0 1606.1 86.6A5.4 3.1 133 1 0 1598.7 94.6ZM1613.6 106.0A5.2 2.6 153 1 0 1622.9 101.2A5.2 2.6 153 1 0 1613.6 106.0ZM1676.2 101.8A4.4 3.0 50 1 0 1670.5 95.0A4.4 3.0 50 1 0 1676.2 101.8ZM1692.2 105.3A5.0 3.5 114 1 0 1696.3 96.1A5.0 3.5 114 1 0 1692.2 105.3ZM1707.5 99.6A5.8 3.0 143 1 0 1716.8 92.7A5.8 3.0 143 1 0 1707.5 99.6ZM1428.9 120.0A4.2 2.9 158 1 0 1436.7 116.8A4.2 2.9 158 1 0 1428.9 120.0ZM1442.9 128.5A5.8 3.3 111 1 0 1447.0 117.8A5.8 3.3 111 1 0 1442.9 128.5ZM1517.6 121.8A5.8 3.3 171 1 0 1529.1 120.1A5.8 3.3 171 1 0 1517.6 121.8ZM1533.6 118.1A4.8 2.7 176 1 0 1543.1 117.4A4.8 2.7 176 1 0 1533.6 118.1ZM1546.8 130.2A5.7 3.5 62 1 0 1541.5 120.1A5.7 3.5 62 1 0 1546.8 130.2ZM1642.7 122.6A5.4 3.4 173 1 0 1653.4 121.3A5.4 3.4 173 1 0 1642.7 122.6ZM1706.1 113.2A4.8 2.8 98 1 0 1707.4 103.7A4.8 2.8 98 1 0 1706.1 113.2ZM1714.6 114.6A4.2 3.1 146 1 0 1721.4 109.9A4.2 3.1 146 1 0 1714.6 114.6ZM1439.3 137.2A4.2 2.9 179 1 0 1447.6 137.1A4.2 2.9 179 1 0 1439.3 137.2ZM1442.9 133.9A5.5 3.6 134 1 0 1450.7 126.0A5.5 3.6 134 1 0 1442.9 133.9ZM1478.8 132.7A4.4 3.3 63 1 0 1474.8 124.8A4.4 3.3 63 1 0 1478.8 132.7ZM1493.7 141.3A4.0 3.3 11 1 0 1485.7 139.8A4.0 3.3 11 1 0 1493.7 141.3ZM1576.0 147.1A4.9 3.4 103 1 0 1578.2 137.5A4.9 3.4 103 1 0 1576.0 147.1ZM1592.5 127.6A4.2 2.7 3 1 0 1584.1 127.3A4.2 2.7 3 1 0 1592.5 127.6ZM1664.0 147.0A5.9 3.2 25 1 0 1653.4 142.0A5.9 3.2 25 1 0 1664.0 147.0ZM1703.0 140.9A4.3 2.6 58 1 0 1698.4 133.6A4.3 2.6 58 1 0 1703.0 140.9ZM1497.4 162.6A5.7 3.6 46 1 0 1489.4 154.4A5.7 3.6 46 1 0 1497.4 162.6ZM1501.3 162.0A4.8 3.0 78 1 0 1499.4 152.6A4.8 3.0 78 1 0 1501.3 162.0ZM1527.7 154.1A4.7 3.1 179 1 0 1537.2 154.0A4.7 3.1 179 1 0 1527.7 154.1ZM1556.4 150.6A5.5 3.1 154 1 0 1566.2 145.8A5.5 3.1 154 1 0 1556.4 150.6ZM1585.9 153.7A5.6 2.8 155 1 0 1596.1 148.9A5.6 2.8 155 1 0 1585.9 153.7ZM1638.2 153.1A4.3 2.8 165 1 0 1646.5 150.9A4.3 2.8 165 1 0 1638.2 153.1ZM1628.0 160.2A5.1 3.2 96 1 0 1629.1 150.0A5.1 3.2 96 1 0 1628.0 160.2ZM1652.5 157.6A4.7 3.3 37 1 0 1645.0 152.1A4.7 3.3 37 1 0 1652.5 157.6ZM1662.4 160.9A4.5 3.5 30 1 0 1654.6 156.5A4.5 3.5 30 1 0 1662.4 160.9ZM1670.2 168.1A5.3 3.3 46 1 0 1662.8 160.6A5.3 3.3 46 1 0 1670.2 168.1ZM1696.5 164.4A5.2 3.2 85 1 0 1695.6 154.1A5.2 3.2 85 1 0 1696.5 164.4ZM1716.0 163.0A5.3 3.3 2 1 0 1705.4 162.6A5.3 3.3 2 1 0 1716.0 163.0ZM1525.7 176.9A4.1 2.7 20 1 0 1518.0 174.2A4.1 2.7 20 1 0 1525.7 176.9ZM1526.0 171.1A4.8 2.9 170 1 0 1535.3 169.4A4.8 2.9 170 1 0 1526.0 171.1ZM1544.3 183.2A4.8 3.4 117 1 0 1548.7 174.7A4.8 3.4 117 1 0 1544.3 183.2ZM1568.8 181.9A4.8 2.7 119 1 0 1573.5 173.5A4.8 2.7 119 1 0 1568.8 181.9ZM1588.1 181.7A4.4 3.1 130 1 0 1593.7 175.0A4.4 3.1 130 1 0 1588.1 181.7ZM1643.8 178.9A4.1 2.6 29 1 0 1636.7 174.8A4.1 2.6 29 1 0 1643.8 178.9ZM1652.4 172.9A5.2 2.8 107 1 0 1655.4 163.0A5.2 2.8 107 1 0 1652.4 172.9ZM1690.1 176.4A5.1 3.5 118 1 0 1695.0 167.5A5.1 3.5 118 1 0 1690.1 176.4ZM1700.6 180.8A5.0 3.2 102 1 0 1702.8 171.0A5.0 3.2 102 1 0 1700.6 180.8ZM1413.3 196.8A5.5 2.9 85 1 0 1412.3 185.9A5.5 2.9 85 1 0 1413.3 196.8ZM1413.6 203.2A4.1 3.2 64 1 0 1409.9 195.7A4.1 3.2 64 1 0 1413.6 203.2ZM1529.9 193.7A4.4 2.8 10 1 0 1521.1 192.2A4.4 2.8 10 1 0 1529.9 193.7ZM1567.9 192.3A5.7 3.2 17 1 0 1557.0 189.0A5.7 3.2 17 1 0 1567.9 192.3ZM1596.5 200.9A5.0 3.6 118 1 0 1601.2 192.0A5.0 3.6 118 1 0 1596.5 200.9ZM1663.6 193.4A5.8 2.9 63 1 0 1658.3 183.1A5.8 2.9 63 1 0 1663.6 193.4ZM1687.9 204.4A5.8 2.7 102 1 0 1690.3 193.0A5.8 2.7 102 1 0 1687.9 204.4ZM1707.4 207.5A5.7 3.1 115 1 0 1712.3 197.2A5.7 3.1 115 1 0 1707.4 207.5ZM1709.7 190.7A4.0 3.5 8 1 0 1701.7 189.6A4.0 3.5 8 1 0 1709.7 190.7ZM1544.6 211.5A4.5 3.6 138 1 0 1551.2 205.5A4.5 3.6 138 1 0 1544.6 211.5ZM1572.4 220.1A5.2 3.0 39 1 0 1564.3 213.4A5.2 3.0 39 1 0 1572.4 220.1ZM1423.9 240.9A5.3 2.7 81 1 0 1422.2 230.3A5.3 2.7 81 1 0 1423.9 240.9ZM1555.9 228.4A5.1 3.0 35 1 0 1547.7 222.5A5.1 3.0 35 1 0 1555.9 228.4ZM1575.1 244.4A5.2 2.6 101 1 0 1577.1 234.3A5.2 2.6 101 1 0 1575.1 244.4ZM1589.5 232.9A5.4 2.7 147 1 0 1598.5 227.0A5.4 2.7 147 1 0 1589.5 232.9ZM1625.0 244.4A5.8 3.6 91 1 0 1625.1 232.7A5.8 3.6 91 1 0 1625.0 244.4ZM1638.0 236.1A5.7 3.6 14 1 0 1626.9 233.3A5.7 3.6 14 1 0 1638.0 236.1ZM1648.4 244.4A5.0 2.6 68 1 0 1644.6 235.1A5.0 2.6 68 1 0 1648.4 244.4ZM1687.7 237.5A5.0 3.6 153 1 0 1696.6 232.9A5.0 3.6 153 1 0 1687.7 237.5ZM1701.1 239.4A4.7 3.2 123 1 0 1706.3 231.6A4.7 3.2 123 1 0 1701.1 239.4ZM1411.9 258.8A4.8 2.8 112 1 0 1415.4 249.9A4.8 2.8 112 1 0 1411.9 258.8ZM1443.4 251.9A5.8 3.3 14 1 0 1432.2 249.0A5.8 3.3 14 1 0 1443.4 251.9ZM1452.0 258.2A4.1 3.3 15 1 0 1444.0 256.0A4.1 3.3 15 1 0 1452.0 258.2ZM1471.6 254.6A4.9 3.1 108 1 0 1474.6 245.3A4.9 3.1 108 1 0 1471.6 254.6ZM1497.7 252.8A4.6 3.3 66 1 0 1494.0 244.4A4.6 3.3 66 1 0 1497.7 252.8ZM1490.2 260.8A5.7 2.7 88 1 0 1489.8 249.3A5.7 2.7 88 1 0 1490.2 260.8ZM1515.2 263.4A5.3 3.5 117 1 0 1519.9 254.0A5.3 3.5 117 1 0 1515.2 263.4ZM1507.5 253.5A5.5 3.0 117 1 0 1512.4 243.8A5.5 3.0 117 1 0 1507.5 253.5ZM1541.1 252.6A4.2 2.6 170 1 0 1549.3 251.1A4.2 2.6 170 1 0 1541.1 252.6ZM1543.8 261.5A4.8 2.9 131 1 0 1550.1 254.2A4.8 2.9 131 1 0 1543.8 261.5ZM1556.8 252.7A5.1 3.0 158 1 0 1566.1 248.9A5.1 3.0 158 1 0 1556.8 252.7ZM1563.6 266.4A5.6 3.0 96 1 0 1564.7 255.3A5.6 3.0 96 1 0 1563.6 266.4ZM1603.8 250.5A4.8 3.5 26 1 0 1595.1 246.2A4.8 3.5 26 1 0 1603.8 250.5ZM1591.6 259.8A5.5 3.1 98 1 0 1593.1 249.0A5.5 3.1 98 1 0 1591.6 259.8ZM1687.0 260.8A5.4 2.9 37 1 0 1678.3 254.3A5.4 2.9 37 1 0 1687.0 260.8ZM1701.3 254.7A5.3 2.9 8 1 0 1690.8 253.1A5.3 2.9 8 1 0 1701.3 254.7ZM1495.8 275.6A5.9 2.7 8 1 0 1484.2 273.9A5.9 2.7 8 1 0 1495.8 275.6ZM1498.8 270.6A5.0 2.6 163 1 0 1508.3 267.6A5.0 2.6 163 1 0 1498.8 270.6ZM1540.1 282.5A5.7 2.6 20 1 0 1529.5 278.6A5.7 2.6 20 1 0 1540.1 282.5ZM1550.3 281.4A5.3 3.5 123 1 0 1556.0 272.5A5.3 3.5 123 1 0 1550.3 281.4ZM1569.0 269.9A5.3 2.7 145 1 0 1577.7 263.9A5.3 2.7 145 1 0 1569.0 269.9ZM1584.9 268.5A4.5 2.9 140 1 0 1591.8 262.8A4.5 2.9 140 1 0 1584.9 268.5ZM1608.4 280.7A5.4 3.3 135 1 0 1616.0 273.0A5.4 3.3 135 1 0 1608.4 280.7ZM1620.7 286.5A4.6 2.6 74 1 0 1618.1 277.6A4.6 2.6 74 1 0 1620.7 286.5ZM1612.5 274.1A5.0 3.0 109 1 0 1615.7 264.6A5.0 3.0 109 1 0 1612.5 274.1ZM1634.5 267.8A4.4 3.2 16 1 0 1625.9 265.3A4.4 3.2 16 1 0 1634.5 267.8ZM1639.3 288.7A5.9 3.1 104 1 0 1642.2 277.4A5.9 3.1 104 1 0 1639.3 288.7ZM1639.3 267.8A4.8 2.7 70 1 0 1636.1 258.9A4.8 2.7 70 1 0 1639.3 267.8ZM1665.9 285.7A5.4 2.9 86 1 0 1665.1 275.0A5.4 2.9 86 1 0 1665.9 285.7ZM1706.3 268.9A5.4 3.2 39 1 0 1698.0 262.2A5.4 3.2 39 1 0 1706.3 268.9ZM1410.7 287.8A4.3 3.6 44 1 0 1404.5 281.8A4.3 3.6 44 1 0 1410.7 287.8ZM1457.8 291.1A4.9 3.3 41 1 0 1450.4 284.8A4.9 3.3 41 1 0 1457.8 291.1ZM1470.5 302.4A5.6 3.3 94 1 0 1471.3 291.2A5.6 3.3 94 1 0 1470.5 302.4ZM1481.1 292.0A5.8 2.6 108 1 0 1484.8 280.9A5.8 2.6 108 1 0 1481.1 292.0ZM1494.2 295.1A5.0 3.6 84 1 0 1493.2 285.1A5.0 3.6 84 1 0 1494.2 295.1ZM1489.5 302.8A4.1 3.6 175 1 0 1497.7 302.0A4.1 3.6 175 1 0 1489.5 302.8ZM1543.1 292.8A5.7 3.4 11 1 0 1532.0 290.6A5.7 3.4 11 1 0 1543.1 292.8ZM1564.8 297.3A4.4 2.8 2 1 0 1556.0 296.9A4.4 2.8 2 1 0 1564.8 297.3ZM1544.6 301.4A4.6 2.7 162 1 0 1553.3 298.5A4.6 2.7 162 1 0 1544.6 301.4ZM1603.6 305.1A5.3 2.8 93 1 0 1604.2 294.5A5.3 2.8 93 1 0 1603.6 305.1ZM1617.8 290.1A4.4 2.8 177 1 0 1626.6 289.7A4.4 2.8 177 1 0 1617.8 290.1ZM1632.8 285.9A5.9 3.4 11 1 0 1621.2 283.7A5.9 3.4 11 1 0 1632.8 285.9ZM1666.6 307.5A5.3 3.1 50 1 0 1659.8 299.4A5.3 3.1 50 1 0 1666.6 307.5ZM1677.7 303.6A5.7 3.0 164 1 0 1688.7 300.5A5.7 3.0 164 1 0 1677.7 303.6ZM1408.8 315.7A5.1 2.6 97 1 0 1409.9 305.6A5.1 2.6 97 1 0 1408.8 315.7ZM1434.8 317.8A4.7 3.0 50 1 0 1428.7 310.5A4.7 3.0 50 1 0 1434.8 317.8ZM1454.9 327.3A5.5 2.6 57 1 0 1448.9 318.0A5.5 2.6 57 1 0 1454.9 327.3ZM1598.0 312.9A4.2 2.9 139 1 0 1604.2 307.4A4.2 2.9 139 1 0 1598.0 312.9ZM1442.2 341.1A5.6 3.2 1 1 0 1430.9 340.9A5.6 3.2 1 1 0 1442.2 341.1ZM1538.5 345.7A5.8 3.1 29 1 0 1528.3 340.2A5.8 3.1 29 1 0 1538.5 345.7ZM1613.6 332.8A5.7 3.5 176 1 0 1625.0 332.1A5.7 3.5 176 1 0 1613.6 332.8ZM1633.2 330.6A4.9 2.8 7 1 0 1623.4 329.4A4.9 2.8 7 1 0 1633.2 330.6ZM1680.1 338.7A4.3 3.1 32 1 0 1672.9 334.1A4.3 3.1 32 1 0 1680.1 338.7ZM1692.9 329.4A5.5 3.6 15 1 0 1682.3 326.5A5.5 3.6 15 1 0 1692.9 329.4ZM1691.5 344.2A4.7 2.9 71 1 0 1688.4 335.3A4.7 2.9 71 1 0 1691.5 344.2ZM1697.3 335.9A5.3 3.4 115 1 0 1701.7 326.2A5.3 3.4 115 1 0 1697.3 335.9ZM1720.4 338.1A4.8 2.5 14 1 0 1711.2 335.7A4.8 2.5 14 1 0 1720.4 338.1ZM1411.4 350.8A4.6 2.9 16 1 0 1402.6 348.2A4.6 2.9 16 1 0 1411.4 350.8ZM1511.5 355.0A5.8 3.2 56 1 0 1505.1 345.2A5.8 3.2 56 1 0 1511.5 355.0ZM1523.2 354.8A5.3 2.7 85 1 0 1522.3 344.2A5.3 2.7 85 1 0 1523.2 354.8ZM1531.2 355.1A4.9 3.6 101 1 0 1533.0 345.5A4.9 3.6 101 1 0 1531.2 355.1ZM1534.1 365.6A4.3 2.5 32 1 0 1526.9 361.1A4.3 2.5 32 1 0 1534.1 365.6ZM1563.0 348.1A4.1 3.6 39 1 0 1556.6 343.0A4.1 3.6 39 1 0 1563.0 348.1ZM1541.6 360.9A4.9 3.5 160 1 0 1550.9 357.6A4.9 3.5 160 1 0 1541.6 360.9ZM1550.6 351.0A4.7 2.7 150 1 0 1558.7 346.3A4.7 2.7 150 1 0 1550.6 351.0ZM1632.5 362.2A5.5 3.6 134 1 0 1640.1 354.2A5.5 3.6 134 1 0 1632.5 362.2ZM1654.2 362.7A4.1 3.3 26 1 0 1646.8 359.1A4.1 3.3 26 1 0 1654.2 362.7ZM1701.3 361.5A5.5 3.5 65 1 0 1696.7 351.5A5.5 3.5 65 1 0 1701.3 361.5ZM1703.6 352.9A5.0 3.3 125 1 0 1709.4 344.7A5.0 3.3 125 1 0 1703.6 352.9ZM1719.4 359.1A5.0 3.3 16 1 0 1709.9 356.3A5.0 3.3 16 1 0 1719.4 359.1ZM1468.1 377.0A5.2 3.2 172 1 0 1478.3 375.6A5.2 3.2 172 1 0 1468.1 377.0ZM1524.1 372.6A4.2 2.8 31 1 0 1516.8 368.3A4.2 2.8 31 1 0 1524.1 372.6ZM1519.8 378.1A4.3 3.5 175 1 0 1528.4 377.2A4.3 3.5 175 1 0 1519.8 378.1ZM1532.1 385.3A4.9 3.1 62 1 0 1527.5 376.6A4.9 3.1 62 1 0 1532.1 385.3ZM1546.2 381.8A4.7 3.2 106 1 0 1548.8 372.8A4.7 3.2 106 1 0 1546.2 381.8ZM1566.1 371.1A4.7 3.2 60 1 0 1561.4 362.9A4.7 3.2 60 1 0 1566.1 371.1ZM1626.4 374.5A5.1 3.3 19 1 0 1616.8 371.2A5.1 3.3 19 1 0 1626.4 374.5ZM1618.6 383.0A4.3 3.3 56 1 0 1613.8 375.9A4.3 3.3 56 1 0 1618.6 383.0ZM1632.1 380.1A5.2 3.3 60 1 0 1626.9 371.2A5.2 3.3 60 1 0 1632.1 380.1ZM1705.6 365.5A5.8 3.1 32 1 0 1695.7 359.4A5.8 3.1 32 1 0 1705.6 365.5ZM1518.9 400.4A4.8 3.1 175 1 0 1528.4 399.6A4.8 3.1 175 1 0 1518.9 400.4ZM1521.2 389.9A5.3 3.0 15 1 0 1510.9 387.2A5.3 3.0 15 1 0 1521.2 389.9ZM1525.6 394.5A5.2 3.3 134 1 0 1532.9 387.0A5.2 3.3 134 1 0 1525.6 394.5ZM1555.6 396.1A5.8 2.9 71 1 0 1552.0 385.1A5.8 2.9 71 1 0 1555.6 396.1ZM1671.4 394.9A5.5 2.9 30 1 0 1661.9 389.5A5.5 2.9 30 1 0 1671.4 394.9Z"/></g><g filter="url(#bl1)"><path fill="rgb(0,160,34)" d="M1449.3 96.4a2.5 2.5 0 1 0 5.1 0a2.5 2.5 0 1 0 -5.1 0ZM1464.3 86.9a2.7 2.7 0 1 0 5.3 0a2.7 2.7 0 1 0 -5.3 0ZM1487.3 104.0a2.3 2.3 0 1 0 4.6 0a2.3 2.3 0 1 0 -4.6 0ZM1521.8 103.6a2.7 2.7 0 1 0 5.4 0a2.7 2.7 0 1 0 -5.4 0ZM1533.0 98.7a2.8 2.8 0 1 0 5.6 0a2.8 2.8 0 1 0 -5.6 0ZM1541.3 104.1a2.8 2.8 0 1 0 5.5 0a2.8 2.8 0 1 0 -5.5 0ZM1556.1 95.4a2.2 2.2 0 1 0 4.5 0a2.2 2.2 0 1 0 -4.5 0ZM1575.5 99.4a2.7 2.7 0 1 0 5.5 0a2.7 2.7 0 1 0 -5.5 0ZM1574.8 93.2a2.3 2.3 0 1 0 4.7 0a2.3 2.3 0 1 0 -4.7 0ZM1565.1 103.2a2.6 2.6 0 1 0 5.1 0a2.6 2.6 0 1 0 -5.1 0ZM1565.5 87.4a2.4 2.4 0 1 0 4.9 0a2.4 2.4 0 1 0 -4.9 0ZM1615.2 103.1a2.2 2.2 0 1 0 4.5 0a2.2 2.2 0 1 0 -4.5 0ZM1629.3 102.9a2.8 2.8 0 1 0 5.6 0a2.8 2.8 0 1 0 -5.6 0ZM1670.7 98.7a2.6 2.6 0 1 0 5.1 0a2.6 2.6 0 1 0 -5.1 0ZM1694.6 92.1a2.8 2.8 0 1 0 5.6 0a2.8 2.8 0 1 0 -5.6 0ZM1683.7 87.3a2.7 2.7 0 1 0 5.3 0a2.7 2.7 0 1 0 -5.3 0ZM1691.6 100.2a2.8 2.8 0 1 0 5.6 0a2.8 2.8 0 1 0 -5.6 0ZM1706.3 90.3a2.2 2.2 0 1 0 4.5 0a2.2 2.2 0 1 0 -4.5 0ZM1441.8 123.3a2.7 2.7 0 1 0 5.3 0a2.7 2.7 0 1 0 -5.3 0ZM1497.1 123.3a2.2 2.2 0 1 0 4.5 0a2.2 2.2 0 1 0 -4.5 0ZM1521.0 121.3a2.7 2.7 0 1 0 5.3 0a2.7 2.7 0 1 0 -5.3 0ZM1626.6 116.1a2.8 2.8 0 1 0 5.6 0a2.8 2.8 0 1 0 -5.6 0ZM1645.9 114.3a2.2 2.2 0 1 0 4.4 0a2.2 2.2 0 1 0 -4.4 0ZM1716.0 112.6a2.5 2.5 0 1 0 4.9 0a2.5 2.5 0 1 0 -4.9 0ZM1406.0 139.1a2.7 2.7 0 1 0 5.4 0a2.7 2.7 0 1 0 -5.4 0ZM1443.7 129.3a2.4 2.4 0 1 0 4.8 0a2.4 2.4 0 1 0 -4.8 0ZM1474.4 128.9a2.5 2.5 0 1 0 4.9 0a2.5 2.5 0 1 0 -4.9 0ZM1495.0 135.3a2.6 2.6 0 1 0 5.2 0a2.6 2.6 0 1 0 -5.2 0ZM1598.8 135.9a2.2 2.2 0 1 0 4.5 0a2.2 2.2 0 1 0 -4.5 0ZM1594.9 141.2a2.7 2.7 0 1 0 5.4 0a2.7 2.7 0 1 0 -5.4 0ZM1647.1 144.3a2.4 2.4 0 1 0 4.9 0a2.4 2.4 0 1 0 -4.9 0ZM1662.1 133.3a2.5 2.5 0 1 0 5.0 0a2.5 2.5 0 1 0 -5.0 0ZM1699.2 137.5a2.3 2.3 0 1 0 4.5 0a2.3 2.3 0 1 0 -4.5 0ZM1497.4 156.4a2.6 2.6 0 1 0 5.3 0a2.6 2.6 0 1 0 -5.3 0ZM1525.3 161.1a2.6 2.6 0 1 0 5.2 0a2.6 2.6 0 1 0 -5.2 0ZM1554.0 164.3a2.3 2.3 0 1 0 4.7 0a2.3 2.3 0 1 0 -4.7 0ZM1640.3 152.1a2.8 2.8 0 1 0 5.5 0a2.8 2.8 0 1 0 -5.5 0ZM1631.3 157.0a2.4 2.4 0 1 0 4.9 0a2.4 2.4 0 1 0 -4.9 0ZM1646.0 154.7a2.3 2.3 0 1 0 4.6 0a2.3 2.3 0 1 0 -4.6 0ZM1661.3 153.1a2.5 2.5 0 1 0 5.0 0a2.5 2.5 0 1 0 -5.0 0ZM1677.9 162.4a2.4 2.4 0 1 0 4.8 0a2.4 2.4 0 1 0 -4.8 0ZM1664.5 164.5a2.6 2.6 0 1 0 5.2 0a2.6 2.6 0 1 0 -5.2 0ZM1694.1 159.4a2.3 2.3 0 1 0 4.7 0a2.3 2.3 0 1 0 -4.7 0ZM1707.9 162.9a2.3 2.3 0 1 0 4.6 0a2.3 2.3 0 1 0 -4.6 0ZM1430.9 169.3a2.6 2.6 0 1 0 5.3 0a2.6 2.6 0 1 0 -5.3 0ZM1450.5 172.1a2.5 2.5 0 1 0 5.0 0a2.5 2.5 0 1 0 -5.0 0ZM1543.8 178.9a2.3 2.3 0 1 0 4.6 0a2.3 2.3 0 1 0 -4.6 0ZM1557.5 170.5a2.7 2.7 0 1 0 5.4 0a2.7 2.7 0 1 0 -5.4 0ZM1569.3 177.4a2.3 2.3 0 1 0 4.6 0a2.3 2.3 0 1 0 -4.6 0ZM1577.9 170.7a2.2 2.2 0 1 0 4.4 0a2.2 2.2 0 1 0 -4.4 0ZM1601.5 168.1a2.7 2.7 0 1 0 5.4 0a2.7 2.7 0 1 0 -5.4 0ZM1655.8 167.1a2.6 2.6 0 1 0 5.2 0a2.6 2.6 0 1 0 -5.2 0ZM1653.9 178.8a2.3 2.3 0 1 0 4.7 0a2.3 2.3 0 1 0 -4.7 0ZM1644.8 177.6a2.3 2.3 0 1 0 4.6 0a2.3 2.3 0 1 0 -4.6 0ZM1661.1 177.0a2.5 2.5 0 1 0 5.0 0a2.5 2.5 0 1 0 -5.0 0ZM1697.5 165.3a2.7 2.7 0 1 0 5.3 0a2.7 2.7 0 1 0 -5.3 0ZM1681.9 180.9a2.3 2.3 0 1 0 4.7 0a2.3 2.3 0 1 0 -4.7 0ZM1718.0 169.1a2.6 2.6 0 1 0 5.2 0a2.6 2.6 0 1 0 -5.2 0ZM1412.5 186.2a2.7 2.7 0 1 0 5.4 0a2.7 2.7 0 1 0 -5.4 0ZM1408.7 200.2a2.7 2.7 0 1 0 5.4 0a2.7 2.7 0 1 0 -5.4 0ZM1428.3 203.1a2.4 2.4 0 1 0 4.8 0a2.4 2.4 0 1 0 -4.8 0ZM1522.7 193.3a2.5 2.5 0 1 0 5.1 0a2.5 2.5 0 1 0 -5.1 0ZM1543.8 197.7a2.2 2.2 0 1 0 4.5 0a2.2 2.2 0 1 0 -4.5 0ZM1580.4 191.2a2.8 2.8 0 1 0 5.6 0a2.8 2.8 0 1 0 -5.6 0ZM1592.7 189.3a2.3 2.3 0 1 0 4.6 0a2.3 2.3 0 1 0 -4.6 0ZM1596.6 196.6a2.6 2.6 0 1 0 5.1 0a2.6 2.6 0 1 0 -5.1 0ZM1650.4 200.9a2.3 2.3 0 1 0 4.6 0a2.3 2.3 0 1 0 -4.6 0ZM1674.1 187.0a2.4 2.4 0 1 0 4.7 0a2.4 2.4 0 1 0 -4.7 0ZM1669.8 195.0a2.7 2.7 0 1 0 5.5 0a2.7 2.7 0 1 0 -5.5 0ZM1697.2 190.6a2.3 2.3 0 1 0 4.5 0a2.3 2.3 0 1 0 -4.5 0ZM1702.5 190.6a2.2 2.2 0 1 0 4.4 0a2.2 2.2 0 1 0 -4.4 0ZM1439.2 208.9a2.4 2.4 0 1 0 4.9 0a2.4 2.4 0 1 0 -4.9 0ZM1433.6 221.7a2.7 2.7 0 1 0 5.5 0a2.7 2.7 0 1 0 -5.5 0ZM1458.2 224.1a2.7 2.7 0 1 0 5.3 0a2.7 2.7 0 1 0 -5.3 0ZM1469.5 207.9a2.5 2.5 0 1 0 5.0 0a2.5 2.5 0 1 0 -5.0 0ZM1479.0 214.8a2.5 2.5 0 1 0 5.0 0a2.5 2.5 0 1 0 -5.0 0ZM1491.4 205.8a2.3 2.3 0 1 0 4.5 0a2.3 2.3 0 1 0 -4.5 0ZM1492.5 222.2a2.4 2.4 0 1 0 4.9 0a2.4 2.4 0 1 0 -4.9 0ZM1565.4 205.6a2.6 2.6 0 1 0 5.3 0a2.6 2.6 0 1 0 -5.3 0ZM1527.0 236.9a2.6 2.6 0 1 0 5.2 0a2.6 2.6 0 1 0 -5.2 0ZM1542.7 234.6a2.6 2.6 0 1 0 5.1 0a2.6 2.6 0 1 0 -5.1 0ZM1591.9 230.5a2.8 2.8 0 1 0 5.5 0a2.8 2.8 0 1 0 -5.5 0ZM1630.2 234.8a2.7 2.7 0 1 0 5.5 0a2.7 2.7 0 1 0 -5.5 0ZM1664.9 243.8a2.5 2.5 0 1 0 5.1 0a2.5 2.5 0 1 0 -5.1 0ZM1434.5 251.4a2.7 2.7 0 1 0 5.3 0a2.7 2.7 0 1 0 -5.3 0ZM1446.2 256.5a2.5 2.5 0 1 0 4.9 0a2.5 2.5 0 1 0 -4.9 0ZM1499.2 254.3a2.5 2.5 0 1 0 5.1 0a2.5 2.5 0 1 0 -5.1 0ZM1487.4 254.2a2.5 2.5 0 1 0 5.0 0a2.5 2.5 0 1 0 -5.0 0ZM1508.2 249.1a2.2 2.2 0 1 0 4.5 0a2.2 2.2 0 1 0 -4.5 0ZM1526.6 258.2a2.5 2.5 0 1 0 5.0 0a2.5 2.5 0 1 0 -5.0 0ZM1543.6 257.8a2.5 2.5 0 1 0 4.9 0a2.5 2.5 0 1 0 -4.9 0ZM1570.1 244.2a2.6 2.6 0 1 0 5.2 0a2.6 2.6 0 1 0 -5.2 0ZM1561.7 260.8a2.6 2.6 0 1 0 5.3 0a2.6 2.6 0 1 0 -5.3 0ZM1610.2 256.8a2.7 2.7 0 1 0 5.4 0a2.7 2.7 0 1 0 -5.4 0ZM1698.0 248.0a2.3 2.3 0 1 0 4.6 0a2.3 2.3 0 1 0 -4.6 0ZM1692.7 253.8a2.7 2.7 0 1 0 5.3 0a2.7 2.7 0 1 0 -5.3 0ZM1411.3 265.3a2.8 2.8 0 1 0 5.6 0a2.8 2.8 0 1 0 -5.6 0ZM1425.1 281.5a2.6 2.6 0 1 0 5.2 0a2.6 2.6 0 1 0 -5.2 0ZM1479.1 272.5a2.3 2.3 0 1 0 4.7 0a2.3 2.3 0 1 0 -4.7 0ZM1493.1 270.0a2.6 2.6 0 1 0 5.1 0a2.6 2.6 0 1 0 -5.1 0ZM1496.2 282.9a2.8 2.8 0 1 0 5.5 0a2.8 2.8 0 1 0 -5.5 0ZM1534.9 268.0a2.4 2.4 0 1 0 4.7 0a2.4 2.4 0 1 0 -4.7 0ZM1550.1 268.0a2.4 2.4 0 1 0 4.8 0a2.4 2.4 0 1 0 -4.8 0ZM1542.6 273.0a2.6 2.6 0 1 0 5.2 0a2.6 2.6 0 1 0 -5.2 0ZM1578.9 268.2a2.5 2.5 0 1 0 5.0 0a2.5 2.5 0 1 0 -5.0 0ZM1610.9 269.6a2.8 2.8 0 1 0 5.5 0a2.8 2.8 0 1 0 -5.5 0ZM1634.5 262.6a2.5 2.5 0 1 0 5.0 0a2.5 2.5 0 1 0 -5.0 0ZM1693.9 282.0a2.6 2.6 0 1 0 5.2 0a2.6 2.6 0 1 0 -5.2 0ZM1699.8 266.3a2.2 2.2 0 1 0 4.5 0a2.2 2.2 0 1 0 -4.5 0ZM1404.8 284.6a2.3 2.3 0 1 0 4.7 0a2.3 2.3 0 1 0 -4.7 0ZM1442.0 304.3a2.7 2.7 0 1 0 5.3 0a2.7 2.7 0 1 0 -5.3 0ZM1469.2 296.2a2.5 2.5 0 1 0 5.0 0a2.5 2.5 0 1 0 -5.0 0ZM1490.9 290.2a2.7 2.7 0 1 0 5.4 0a2.7 2.7 0 1 0 -5.4 0ZM1491.8 302.6a2.6 2.6 0 1 0 5.1 0a2.6 2.6 0 1 0 -5.1 0ZM1499.9 295.4a2.4 2.4 0 1 0 4.7 0a2.4 2.4 0 1 0 -4.7 0ZM1535.9 292.0a2.4 2.4 0 1 0 4.7 0a2.4 2.4 0 1 0 -4.7 0ZM1557.3 296.7a2.4 2.4 0 1 0 4.8 0a2.4 2.4 0 1 0 -4.8 0ZM1577.0 285.1a2.7 2.7 0 1 0 5.4 0a2.7 2.7 0 1 0 -5.4 0ZM1571.2 290.2a2.4 2.4 0 1 0 4.9 0a2.4 2.4 0 1 0 -4.9 0ZM1566.6 294.8a2.5 2.5 0 1 0 4.9 0a2.5 2.5 0 1 0 -4.9 0ZM1624.8 302.4a2.4 2.4 0 1 0 4.7 0a2.4 2.4 0 1 0 -4.7 0ZM1624.6 285.7a2.4 2.4 0 1 0 4.8 0a2.4 2.4 0 1 0 -4.8 0ZM1660.6 303.7a2.7 2.7 0 1 0 5.4 0a2.7 2.7 0 1 0 -5.4 0ZM1686.5 290.8a2.6 2.6 0 1 0 5.2 0a2.6 2.6 0 1 0 -5.2 0ZM1680.2 301.9a2.4 2.4 0 1 0 4.8 0a2.4 2.4 0 1 0 -4.8 0ZM1423.5 307.7a2.8 2.8 0 1 0 5.6 0a2.8 2.8 0 1 0 -5.6 0ZM1427.6 322.0a2.6 2.6 0 1 0 5.3 0a2.6 2.6 0 1 0 -5.3 0ZM1597.9 309.8a2.6 2.6 0 1 0 5.2 0a2.6 2.6 0 1 0 -5.2 0ZM1514.9 339.9a2.4 2.4 0 1 0 4.9 0a2.4 2.4 0 1 0 -4.9 0ZM1530.6 343.4a2.6 2.6 0 1 0 5.2 0a2.6 2.6 0 1 0 -5.2 0ZM1557.1 338.4a2.6 2.6 0 1 0 5.1 0a2.6 2.6 0 1 0 -5.1 0ZM1617.1 325.5a2.6 2.6 0 1 0 5.1 0a2.6 2.6 0 1 0 -5.1 0ZM1617.6 332.8a2.5 2.5 0 1 0 5.0 0a2.5 2.5 0 1 0 -5.0 0ZM1625.6 329.5a2.7 2.7 0 1 0 5.4 0a2.7 2.7 0 1 0 -5.4 0ZM1649.9 340.0a2.7 2.7 0 1 0 5.3 0a2.7 2.7 0 1 0 -5.3 0ZM1686.5 339.3a2.6 2.6 0 1 0 5.2 0a2.6 2.6 0 1 0 -5.2 0ZM1706.2 337.1a2.7 2.7 0 1 0 5.4 0a2.7 2.7 0 1 0 -5.4 0ZM1509.5 344.9a2.3 2.3 0 1 0 4.5 0a2.3 2.3 0 1 0 -4.5 0ZM1539.6 346.2a2.8 2.8 0 1 0 5.5 0a2.8 2.8 0 1 0 -5.5 0ZM1543.6 359.2a2.4 2.4 0 1 0 4.9 0a2.4 2.4 0 1 0 -4.9 0ZM1552.0 348.0a2.2 2.2 0 1 0 4.4 0a2.2 2.2 0 1 0 -4.4 0ZM1605.6 357.0a2.6 2.6 0 1 0 5.2 0a2.6 2.6 0 1 0 -5.2 0ZM1696.2 357.1a2.6 2.6 0 1 0 5.2 0a2.6 2.6 0 1 0 -5.2 0ZM1703.3 347.9a2.7 2.7 0 1 0 5.5 0a2.7 2.7 0 1 0 -5.5 0ZM1430.4 379.2a2.7 2.7 0 1 0 5.4 0a2.7 2.7 0 1 0 -5.4 0ZM1463.3 378.2a2.6 2.6 0 1 0 5.2 0a2.6 2.6 0 1 0 -5.2 0ZM1496.1 369.9a2.4 2.4 0 1 0 4.8 0a2.4 2.4 0 1 0 -4.8 0ZM1502.6 365.7a2.5 2.5 0 1 0 5.1 0a2.5 2.5 0 1 0 -5.1 0ZM1532.0 375.6a2.3 2.3 0 1 0 4.6 0a2.3 2.3 0 1 0 -4.6 0ZM1526.9 381.0a2.8 2.8 0 1 0 5.6 0a2.8 2.8 0 1 0 -5.6 0ZM1554.6 383.3a2.4 2.4 0 1 0 4.7 0a2.4 2.4 0 1 0 -4.7 0ZM1560.8 366.9a2.7 2.7 0 1 0 5.5 0a2.7 2.7 0 1 0 -5.5 0ZM1594.7 370.5a2.6 2.6 0 1 0 5.1 0a2.6 2.6 0 1 0 -5.1 0ZM1619.7 373.7a2.6 2.6 0 1 0 5.1 0a2.6 2.6 0 1 0 -5.1 0ZM1626.8 375.1a2.4 2.4 0 1 0 4.7 0a2.4 2.4 0 1 0 -4.7 0ZM1699.2 361.7a2.3 2.3 0 1 0 4.7 0a2.3 2.3 0 1 0 -4.7 0ZM1521.1 400.8a2.5 2.5 0 1 0 5.1 0a2.5 2.5 0 1 0 -5.1 0ZM1513.8 388.4a2.7 2.7 0 1 0 5.4 0a2.7 2.7 0 1 0 -5.4 0ZM1539.2 388.9a2.4 2.4 0 1 0 4.9 0a2.4 2.4 0 1 0 -4.9 0ZM1552.1 390.4a2.2 2.2 0 1 0 4.4 0a2.2 2.2 0 1 0 -4.4 0ZM1607.1 401.2a2.5 2.5 0 1 0 4.9 0a2.5 2.5 0 1 0 -4.9 0ZM1693.6 386.4a2.7 2.7 0 1 0 5.4 0a2.7 2.7 0 1 0 -5.4 0Z"/><path fill="rgb(0,185,40)" d="M1402.3 94.7a2.5 2.5 0 1 0 5.1 0a2.5 2.5 0 1 0 -5.1 0ZM1474.2 97.2a2.5 2.5 0 1 0 5.0 0a2.5 2.5 0 1 0 -5.0 0ZM1504.8 103.4a2.8 2.8 0 1 0 5.6 0a2.8 2.8 0 1 0 -5.6 0ZM1540.9 90.4a2.3 2.3 0 1 0 4.6 0a2.3 2.3 0 1 0 -4.6 0ZM1548.5 95.4a2.3 2.3 0 1 0 4.5 0a2.3 2.3 0 1 0 -4.5 0ZM1623.6 94.0a2.3 2.3 0 1 0 4.5 0a2.3 2.3 0 1 0 -4.5 0ZM1641.3 87.8a2.3 2.3 0 1 0 4.7 0a2.3 2.3 0 1 0 -4.7 0ZM1663.0 100.4a2.7 2.7 0 1 0 5.4 0a2.7 2.7 0 1 0 -5.4 0ZM1708.9 95.6a2.8 2.8 0 1 0 5.6 0a2.8 2.8 0 1 0 -5.6 0ZM1431.3 118.8a2.2 2.2 0 1 0 4.5 0a2.2 2.2 0 1 0 -4.5 0ZM1541.4 126.0a2.7 2.7 0 1 0 5.4 0a2.7 2.7 0 1 0 -5.4 0ZM1635.8 112.5a2.7 2.7 0 1 0 5.3 0a2.7 2.7 0 1 0 -5.3 0ZM1645.9 121.5a2.5 2.5 0 1 0 4.9 0a2.5 2.5 0 1 0 -4.9 0ZM1462.5 138.8a2.3 2.3 0 1 0 4.6 0a2.3 2.3 0 1 0 -4.6 0ZM1520.5 127.7a2.8 2.8 0 1 0 5.5 0a2.8 2.8 0 1 0 -5.5 0ZM1553.9 131.5a2.5 2.5 0 1 0 5.1 0a2.5 2.5 0 1 0 -5.1 0ZM1585.0 126.6a2.6 2.6 0 1 0 5.3 0a2.6 2.6 0 1 0 -5.3 0ZM1630.9 128.4a2.4 2.4 0 1 0 4.8 0a2.4 2.4 0 1 0 -4.8 0ZM1655.6 131.0a2.6 2.6 0 1 0 5.3 0a2.6 2.6 0 1 0 -5.3 0ZM1672.6 132.8a2.3 2.3 0 1 0 4.5 0a2.3 2.3 0 1 0 -4.5 0ZM1678.8 143.8a2.8 2.8 0 1 0 5.6 0a2.8 2.8 0 1 0 -5.6 0ZM1468.1 156.9a2.4 2.4 0 1 0 4.7 0a2.4 2.4 0 1 0 -4.7 0ZM1530.1 155.0a2.5 2.5 0 1 0 4.9 0a2.5 2.5 0 1 0 -4.9 0ZM1558.8 148.7a2.6 2.6 0 1 0 5.2 0a2.6 2.6 0 1 0 -5.2 0ZM1564.8 148.7a2.5 2.5 0 1 0 5.0 0a2.5 2.5 0 1 0 -5.0 0ZM1581.1 147.5a2.7 2.7 0 1 0 5.4 0a2.7 2.7 0 1 0 -5.4 0ZM1623.9 148.2a2.2 2.2 0 1 0 4.4 0a2.2 2.2 0 1 0 -4.4 0ZM1625.7 155.9a2.2 2.2 0 1 0 4.4 0a2.2 2.2 0 1 0 -4.4 0ZM1655.0 158.3a2.7 2.7 0 1 0 5.4 0a2.7 2.7 0 1 0 -5.4 0ZM1651.4 152.0a2.7 2.7 0 1 0 5.3 0a2.7 2.7 0 1 0 -5.3 0ZM1668.3 157.8a2.7 2.7 0 1 0 5.3 0a2.7 2.7 0 1 0 -5.3 0ZM1676.0 151.0a2.7 2.7 0 1 0 5.4 0a2.7 2.7 0 1 0 -5.4 0ZM1697.6 146.8a2.7 2.7 0 1 0 5.3 0a2.7 2.7 0 1 0 -5.3 0ZM1690.5 153.1a2.5 2.5 0 1 0 5.0 0a2.5 2.5 0 1 0 -5.0 0ZM1528.5 170.3a2.2 2.2 0 1 0 4.4 0a2.2 2.2 0 1 0 -4.4 0ZM1575.4 177.6a2.5 2.5 0 1 0 4.9 0a2.5 2.5 0 1 0 -4.9 0ZM1564.1 176.4a2.3 2.3 0 1 0 4.5 0a2.3 2.3 0 1 0 -4.5 0ZM1623.3 170.5a2.6 2.6 0 1 0 5.2 0a2.6 2.6 0 1 0 -5.2 0ZM1672.3 182.1a2.7 2.7 0 1 0 5.4 0a2.7 2.7 0 1 0 -5.4 0ZM1690.1 172.5a2.7 2.7 0 1 0 5.3 0a2.7 2.7 0 1 0 -5.3 0ZM1689.6 186.0a2.8 2.8 0 1 0 5.5 0a2.8 2.8 0 1 0 -5.5 0ZM1699.0 175.2a2.3 2.3 0 1 0 4.5 0a2.3 2.3 0 1 0 -4.5 0ZM1410.5 191.0a2.5 2.5 0 1 0 5.1 0a2.5 2.5 0 1 0 -5.1 0ZM1458.1 188.5a2.6 2.6 0 1 0 5.3 0a2.6 2.6 0 1 0 -5.3 0ZM1444.8 197.5a2.4 2.4 0 1 0 4.8 0a2.4 2.4 0 1 0 -4.8 0ZM1507.5 196.0a2.4 2.4 0 1 0 4.8 0a2.4 2.4 0 1 0 -4.8 0ZM1580.6 200.2a2.4 2.4 0 1 0 4.9 0a2.4 2.4 0 1 0 -4.9 0ZM1622.7 193.1a2.7 2.7 0 1 0 5.4 0a2.7 2.7 0 1 0 -5.4 0ZM1657.7 188.5a2.7 2.7 0 1 0 5.5 0a2.7 2.7 0 1 0 -5.5 0ZM1687.1 198.8a2.5 2.5 0 1 0 4.9 0a2.5 2.5 0 1 0 -4.9 0ZM1426.0 209.4a2.8 2.8 0 1 0 5.5 0a2.8 2.8 0 1 0 -5.5 0ZM1446.7 222.3a2.8 2.8 0 1 0 5.6 0a2.8 2.8 0 1 0 -5.6 0ZM1454.5 208.2a2.8 2.8 0 1 0 5.6 0a2.8 2.8 0 1 0 -5.6 0ZM1552.6 217.4a2.8 2.8 0 1 0 5.6 0a2.8 2.8 0 1 0 -5.6 0ZM1545.8 209.3a2.2 2.2 0 1 0 4.4 0a2.2 2.2 0 1 0 -4.4 0ZM1542.2 219.4a2.5 2.5 0 1 0 5.1 0a2.5 2.5 0 1 0 -5.1 0ZM1419.5 235.4a2.7 2.7 0 1 0 5.4 0a2.7 2.7 0 1 0 -5.4 0ZM1448.8 233.2a2.5 2.5 0 1 0 5.0 0a2.5 2.5 0 1 0 -5.0 0ZM1506.4 229.3a2.6 2.6 0 1 0 5.2 0a2.6 2.6 0 1 0 -5.2 0ZM1554.8 225.1a2.5 2.5 0 1 0 5.0 0a2.5 2.5 0 1 0 -5.0 0ZM1567.5 231.9a2.5 2.5 0 1 0 5.1 0a2.5 2.5 0 1 0 -5.1 0ZM1644.8 239.2a2.3 2.3 0 1 0 4.5 0a2.3 2.3 0 1 0 -4.5 0ZM1681.4 234.8a2.5 2.5 0 1 0 5.1 0a2.5 2.5 0 1 0 -5.1 0ZM1702.0 235.8a2.4 2.4 0 1 0 4.8 0a2.4 2.4 0 1 0 -4.8 0ZM1479.9 245.9a2.6 2.6 0 1 0 5.2 0a2.6 2.6 0 1 0 -5.2 0ZM1514.7 258.8a2.4 2.4 0 1 0 4.8 0a2.4 2.4 0 1 0 -4.8 0ZM1543.0 251.2a2.6 2.6 0 1 0 5.3 0a2.6 2.6 0 1 0 -5.3 0ZM1603.2 256.7a2.3 2.3 0 1 0 4.7 0a2.3 2.3 0 1 0 -4.7 0ZM1628.8 253.1a2.3 2.3 0 1 0 4.7 0a2.3 2.3 0 1 0 -4.7 0ZM1621.7 249.3a2.2 2.2 0 1 0 4.4 0a2.2 2.2 0 1 0 -4.4 0ZM1677.5 263.6a2.6 2.6 0 1 0 5.2 0a2.6 2.6 0 1 0 -5.2 0ZM1680.4 258.4a2.4 2.4 0 1 0 4.9 0a2.4 2.4 0 1 0 -4.9 0ZM1715.4 245.7a2.3 2.3 0 1 0 4.7 0a2.3 2.3 0 1 0 -4.7 0ZM1407.0 273.6a2.7 2.7 0 1 0 5.4 0a2.7 2.7 0 1 0 -5.4 0ZM1458.7 266.6a2.3 2.3 0 1 0 4.7 0a2.3 2.3 0 1 0 -4.7 0ZM1467.3 264.1a2.4 2.4 0 1 0 4.8 0a2.4 2.4 0 1 0 -4.8 0ZM1472.5 282.9a2.4 2.4 0 1 0 4.9 0a2.4 2.4 0 1 0 -4.9 0ZM1487.6 275.0a2.3 2.3 0 1 0 4.7 0a2.3 2.3 0 1 0 -4.7 0ZM1500.2 269.6a2.7 2.7 0 1 0 5.3 0a2.7 2.7 0 1 0 -5.3 0ZM1523.6 283.3a2.2 2.2 0 1 0 4.5 0a2.2 2.2 0 1 0 -4.5 0ZM1532.8 280.5a2.3 2.3 0 1 0 4.7 0a2.3 2.3 0 1 0 -4.7 0ZM1550.8 277.1a2.6 2.6 0 1 0 5.3 0a2.6 2.6 0 1 0 -5.3 0ZM1576.9 277.7a2.6 2.6 0 1 0 5.3 0a2.6 2.6 0 1 0 -5.3 0ZM1570.6 267.1a2.7 2.7 0 1 0 5.3 0a2.7 2.7 0 1 0 -5.3 0ZM1620.9 266.1a2.5 2.5 0 1 0 5.0 0a2.5 2.5 0 1 0 -5.0 0ZM1638.3 282.6a2.6 2.6 0 1 0 5.3 0a2.6 2.6 0 1 0 -5.3 0ZM1624.4 270.9a2.4 2.4 0 1 0 4.7 0a2.4 2.4 0 1 0 -4.7 0ZM1668.7 272.6a2.4 2.4 0 1 0 4.8 0a2.4 2.4 0 1 0 -4.8 0ZM1672.1 281.2a2.2 2.2 0 1 0 4.4 0a2.2 2.2 0 1 0 -4.4 0ZM1683.7 279.5a2.5 2.5 0 1 0 4.9 0a2.5 2.5 0 1 0 -4.9 0ZM1697.2 267.9a2.3 2.3 0 1 0 4.5 0a2.3 2.3 0 1 0 -4.5 0ZM1445.4 284.4a2.4 2.4 0 1 0 4.7 0a2.4 2.4 0 1 0 -4.7 0ZM1545.6 299.2a2.6 2.6 0 1 0 5.3 0a2.6 2.6 0 1 0 -5.3 0ZM1583.5 294.8a2.4 2.4 0 1 0 4.9 0a2.4 2.4 0 1 0 -4.9 0ZM1673.1 293.9a2.5 2.5 0 1 0 5.0 0a2.5 2.5 0 1 0 -5.0 0ZM1670.4 287.8a2.3 2.3 0 1 0 4.5 0a2.3 2.3 0 1 0 -4.5 0ZM1680.5 296.2a2.3 2.3 0 1 0 4.6 0a2.3 2.3 0 1 0 -4.6 0ZM1406.0 311.5a2.4 2.4 0 1 0 4.9 0a2.4 2.4 0 1 0 -4.9 0ZM1438.4 322.4a2.4 2.4 0 1 0 4.8 0a2.4 2.4 0 1 0 -4.8 0ZM1541.9 315.9a2.6 2.6 0 1 0 5.2 0a2.6 2.6 0 1 0 -5.2 0ZM1576.6 314.7a2.8 2.8 0 1 0 5.6 0a2.8 2.8 0 1 0 -5.6 0ZM1569.9 312.1a2.5 2.5 0 1 0 5.0 0a2.5 2.5 0 1 0 -5.0 0ZM1649.1 317.1a2.6 2.6 0 1 0 5.3 0a2.6 2.6 0 1 0 -5.3 0ZM1434.2 340.5a2.4 2.4 0 1 0 4.9 0a2.4 2.4 0 1 0 -4.9 0ZM1458.0 324.4a2.6 2.6 0 1 0 5.3 0a2.6 2.6 0 1 0 -5.3 0ZM1517.7 330.7a2.3 2.3 0 1 0 4.7 0a2.3 2.3 0 1 0 -4.7 0ZM1509.8 334.3a2.7 2.7 0 1 0 5.3 0a2.7 2.7 0 1 0 -5.3 0ZM1537.8 341.3a2.4 2.4 0 1 0 4.8 0a2.4 2.4 0 1 0 -4.8 0ZM1685.7 327.1a2.4 2.4 0 1 0 4.7 0a2.4 2.4 0 1 0 -4.7 0ZM1712.6 337.4a2.5 2.5 0 1 0 4.9 0a2.5 2.5 0 1 0 -4.9 0ZM1404.6 350.0a2.3 2.3 0 1 0 4.6 0a2.3 2.3 0 1 0 -4.6 0ZM1519.9 348.7a2.7 2.7 0 1 0 5.4 0a2.7 2.7 0 1 0 -5.4 0ZM1530.3 349.5a2.5 2.5 0 1 0 5.0 0a2.5 2.5 0 1 0 -5.0 0ZM1536.3 353.3a2.3 2.3 0 1 0 4.6 0a2.3 2.3 0 1 0 -4.6 0ZM1556.5 345.4a2.8 2.8 0 1 0 5.6 0a2.8 2.8 0 1 0 -5.6 0ZM1634.7 358.9a2.2 2.2 0 1 0 4.5 0a2.2 2.2 0 1 0 -4.5 0ZM1647.5 360.2a2.2 2.2 0 1 0 4.4 0a2.2 2.2 0 1 0 -4.4 0ZM1650.3 355.2a2.8 2.8 0 1 0 5.6 0a2.8 2.8 0 1 0 -5.6 0ZM1684.7 359.1a2.4 2.4 0 1 0 4.9 0a2.4 2.4 0 1 0 -4.9 0ZM1442.6 367.7a2.3 2.3 0 1 0 4.5 0a2.3 2.3 0 1 0 -4.5 0ZM1446.7 383.7a2.7 2.7 0 1 0 5.3 0a2.7 2.7 0 1 0 -5.3 0ZM1473.6 380.0a2.5 2.5 0 1 0 5.0 0a2.5 2.5 0 1 0 -5.0 0ZM1470.0 376.7a2.8 2.8 0 1 0 5.6 0a2.8 2.8 0 1 0 -5.6 0ZM1463.2 365.5a2.6 2.6 0 1 0 5.3 0a2.6 2.6 0 1 0 -5.3 0ZM1517.6 369.8a2.5 2.5 0 1 0 4.9 0a2.5 2.5 0 1 0 -4.9 0ZM1545.7 376.4a2.4 2.4 0 1 0 4.9 0a2.4 2.4 0 1 0 -4.9 0ZM1546.4 369.6a2.4 2.4 0 1 0 4.8 0a2.4 2.4 0 1 0 -4.8 0ZM1586.2 365.0a2.7 2.7 0 1 0 5.5 0a2.7 2.7 0 1 0 -5.5 0ZM1607.9 368.1a2.2 2.2 0 1 0 4.5 0a2.2 2.2 0 1 0 -4.5 0ZM1403.1 396.6a2.5 2.5 0 1 0 5.1 0a2.5 2.5 0 1 0 -5.1 0ZM1481.1 396.7a2.3 2.3 0 1 0 4.7 0a2.3 2.3 0 1 0 -4.7 0ZM1463.3 392.8a2.7 2.7 0 1 0 5.4 0a2.7 2.7 0 1 0 -5.4 0ZM1494.2 396.0a2.6 2.6 0 1 0 5.2 0a2.6 2.6 0 1 0 -5.2 0ZM1536.1 400.2a2.4 2.4 0 1 0 4.9 0a2.4 2.4 0 1 0 -4.9 0ZM1525.9 391.0a2.7 2.7 0 1 0 5.5 0a2.7 2.7 0 1 0 -5.5 0ZM1574.8 391.7a2.2 2.2 0 1 0 4.5 0a2.2 2.2 0 1 0 -4.5 0ZM1621.8 383.1a2.5 2.5 0 1 0 4.9 0a2.5 2.5 0 1 0 -4.9 0ZM1624.3 396.2a2.3 2.3 0 1 0 4.6 0a2.3 2.3 0 1 0 -4.6 0ZM1649.3 397.5a2.8 2.8 0 1 0 5.6 0a2.8 2.8 0 1 0 -5.6 0ZM1700.1 396.5a2.6 2.6 0 1 0 5.1 0a2.6 2.6 0 1 0 -5.1 0Z"/><path fill="rgb(5,210,46)" d="M1513.9 101.1a2.4 2.4 0 1 0 4.8 0a2.4 2.4 0 1 0 -4.8 0ZM1527.1 86.0a2.5 2.5 0 1 0 5.0 0a2.5 2.5 0 1 0 -5.0 0ZM1524.8 97.2a2.4 2.4 0 1 0 4.9 0a2.4 2.4 0 1 0 -4.9 0ZM1557.9 100.8a2.3 2.3 0 1 0 4.5 0a2.3 2.3 0 1 0 -4.5 0ZM1600.6 89.8a2.2 2.2 0 1 0 4.4 0a2.2 2.2 0 1 0 -4.4 0ZM1615.3 92.6a2.4 2.4 0 1 0 4.8 0a2.4 2.4 0 1 0 -4.8 0ZM1635.1 92.9a2.6 2.6 0 1 0 5.2 0a2.6 2.6 0 1 0 -5.2 0ZM1662.4 89.2a2.7 2.7 0 1 0 5.4 0a2.7 2.7 0 1 0 -5.4 0ZM1701.0 94.9a2.4 2.4 0 1 0 4.8 0a2.4 2.4 0 1 0 -4.8 0ZM1448.0 112.7a2.3 2.3 0 1 0 4.5 0a2.3 2.3 0 1 0 -4.5 0ZM1482.7 124.4a2.3 2.3 0 1 0 4.7 0a2.3 2.3 0 1 0 -4.7 0ZM1516.2 111.1a2.4 2.4 0 1 0 4.7 0a2.4 2.4 0 1 0 -4.7 0ZM1507.6 111.3a2.5 2.5 0 1 0 5.0 0a2.5 2.5 0 1 0 -5.0 0ZM1530.8 110.5a2.5 2.5 0 1 0 4.9 0a2.5 2.5 0 1 0 -4.9 0ZM1536.6 118.0a2.6 2.6 0 1 0 5.3 0a2.6 2.6 0 1 0 -5.3 0ZM1621.3 111.9a2.5 2.5 0 1 0 5.0 0a2.5 2.5 0 1 0 -5.0 0ZM1682.6 122.5a2.3 2.3 0 1 0 4.6 0a2.3 2.3 0 1 0 -4.6 0ZM1703.7 107.8a2.6 2.6 0 1 0 5.1 0a2.6 2.6 0 1 0 -5.1 0ZM1441.8 137.1a2.4 2.4 0 1 0 4.9 0a2.4 2.4 0 1 0 -4.9 0ZM1481.3 143.8a2.6 2.6 0 1 0 5.1 0a2.6 2.6 0 1 0 -5.1 0ZM1470.0 130.2a2.2 2.2 0 1 0 4.5 0a2.2 2.2 0 1 0 -4.5 0ZM1486.5 140.4a2.4 2.4 0 1 0 4.8 0a2.4 2.4 0 1 0 -4.8 0ZM1559.9 137.2a2.3 2.3 0 1 0 4.6 0a2.3 2.3 0 1 0 -4.6 0ZM1574.6 142.9a2.6 2.6 0 1 0 5.2 0a2.6 2.6 0 1 0 -5.2 0ZM1578.2 133.7a2.3 2.3 0 1 0 4.5 0a2.3 2.3 0 1 0 -4.5 0ZM1634.5 144.0a2.6 2.6 0 1 0 5.2 0a2.6 2.6 0 1 0 -5.2 0ZM1639.7 141.6a2.3 2.3 0 1 0 4.5 0a2.3 2.3 0 1 0 -4.5 0ZM1655.8 144.4a2.5 2.5 0 1 0 5.0 0a2.5 2.5 0 1 0 -5.0 0ZM1682.9 132.9a2.7 2.7 0 1 0 5.5 0a2.7 2.7 0 1 0 -5.5 0ZM1712.8 131.9a2.5 2.5 0 1 0 5.0 0a2.5 2.5 0 1 0 -5.0 0ZM1432.8 149.6a2.3 2.3 0 1 0 4.7 0a2.3 2.3 0 1 0 -4.7 0ZM1492.0 157.6a2.2 2.2 0 1 0 4.4 0a2.2 2.2 0 1 0 -4.4 0ZM1570.1 166.7a2.7 2.7 0 1 0 5.4 0a2.7 2.7 0 1 0 -5.4 0ZM1589.2 151.6a2.6 2.6 0 1 0 5.3 0a2.6 2.6 0 1 0 -5.3 0ZM1590.8 160.7a2.3 2.3 0 1 0 4.6 0a2.3 2.3 0 1 0 -4.6 0ZM1519.6 175.1a2.7 2.7 0 1 0 5.3 0a2.7 2.7 0 1 0 -5.3 0ZM1550.2 174.8a2.7 2.7 0 1 0 5.3 0a2.7 2.7 0 1 0 -5.3 0ZM1557.5 183.1a2.3 2.3 0 1 0 4.5 0a2.3 2.3 0 1 0 -4.5 0ZM1581.5 177.7a2.3 2.3 0 1 0 4.5 0a2.3 2.3 0 1 0 -4.5 0ZM1589.1 178.7a2.2 2.2 0 1 0 4.4 0a2.2 2.2 0 1 0 -4.4 0ZM1631.4 175.3a2.2 2.2 0 1 0 4.5 0a2.2 2.2 0 1 0 -4.5 0ZM1638.2 177.0a2.5 2.5 0 1 0 5.1 0a2.5 2.5 0 1 0 -5.1 0ZM1620.7 177.7a2.5 2.5 0 1 0 5.1 0a2.5 2.5 0 1 0 -5.1 0ZM1652.0 167.9a2.5 2.5 0 1 0 5.0 0a2.5 2.5 0 1 0 -5.0 0ZM1666.8 170.0a2.3 2.3 0 1 0 4.6 0a2.3 2.3 0 1 0 -4.6 0ZM1670.4 174.6a2.8 2.8 0 1 0 5.5 0a2.8 2.8 0 1 0 -5.5 0ZM1436.4 188.1a2.3 2.3 0 1 0 4.6 0a2.3 2.3 0 1 0 -4.6 0ZM1509.6 191.7a2.5 2.5 0 1 0 4.9 0a2.5 2.5 0 1 0 -4.9 0ZM1559.0 190.9a2.6 2.6 0 1 0 5.3 0a2.6 2.6 0 1 0 -5.3 0ZM1596.7 186.2a2.2 2.2 0 1 0 4.5 0a2.2 2.2 0 1 0 -4.5 0ZM1632.2 204.6a2.5 2.5 0 1 0 5.0 0a2.5 2.5 0 1 0 -5.0 0ZM1643.6 192.0a2.3 2.3 0 1 0 4.6 0a2.3 2.3 0 1 0 -4.6 0ZM1666.4 190.9a2.4 2.4 0 1 0 4.8 0a2.4 2.4 0 1 0 -4.8 0ZM1683.2 189.5a2.3 2.3 0 1 0 4.6 0a2.3 2.3 0 1 0 -4.6 0ZM1707.4 202.9a2.6 2.6 0 1 0 5.2 0a2.6 2.6 0 1 0 -5.2 0ZM1464.0 222.4a2.5 2.5 0 1 0 5.0 0a2.5 2.5 0 1 0 -5.0 0ZM1565.6 217.2a2.3 2.3 0 1 0 4.7 0a2.3 2.3 0 1 0 -4.7 0ZM1571.8 222.8a2.8 2.8 0 1 0 5.5 0a2.8 2.8 0 1 0 -5.5 0ZM1591.6 212.2a2.8 2.8 0 1 0 5.5 0a2.8 2.8 0 1 0 -5.5 0ZM1496.8 227.1a2.4 2.4 0 1 0 4.8 0a2.4 2.4 0 1 0 -4.8 0ZM1548.8 225.1a2.6 2.6 0 1 0 5.2 0a2.6 2.6 0 1 0 -5.2 0ZM1579.1 224.2a2.6 2.6 0 1 0 5.3 0a2.6 2.6 0 1 0 -5.3 0ZM1573.3 239.8a2.5 2.5 0 1 0 5.0 0a2.5 2.5 0 1 0 -5.0 0ZM1603.2 243.0a2.2 2.2 0 1 0 4.4 0a2.2 2.2 0 1 0 -4.4 0ZM1621.8 238.3a2.6 2.6 0 1 0 5.2 0a2.6 2.6 0 1 0 -5.2 0ZM1642.8 231.2a2.5 2.5 0 1 0 5.0 0a2.5 2.5 0 1 0 -5.0 0ZM1689.4 235.3a2.4 2.4 0 1 0 4.7 0a2.4 2.4 0 1 0 -4.7 0ZM1411.1 253.8a2.7 2.7 0 1 0 5.5 0a2.7 2.7 0 1 0 -5.5 0ZM1438.3 262.2a2.4 2.4 0 1 0 4.9 0a2.4 2.4 0 1 0 -4.9 0ZM1426.8 244.8a2.8 2.8 0 1 0 5.5 0a2.8 2.8 0 1 0 -5.5 0ZM1454.8 255.7a2.8 2.8 0 1 0 5.6 0a2.8 2.8 0 1 0 -5.6 0ZM1469.7 250.4a2.4 2.4 0 1 0 4.9 0a2.4 2.4 0 1 0 -4.9 0ZM1493.1 249.3a2.7 2.7 0 1 0 5.4 0a2.7 2.7 0 1 0 -5.4 0ZM1507.6 262.4a2.3 2.3 0 1 0 4.5 0a2.3 2.3 0 1 0 -4.5 0ZM1523.9 247.8a2.3 2.3 0 1 0 4.7 0a2.3 2.3 0 1 0 -4.7 0ZM1559.5 251.3a2.4 2.4 0 1 0 4.7 0a2.4 2.4 0 1 0 -4.7 0ZM1566.9 256.6a2.3 2.3 0 1 0 4.7 0a2.3 2.3 0 1 0 -4.7 0ZM1596.3 248.6a2.7 2.7 0 1 0 5.4 0a2.7 2.7 0 1 0 -5.4 0ZM1589.5 253.7a2.2 2.2 0 1 0 4.5 0a2.2 2.2 0 1 0 -4.5 0ZM1634.3 249.6a2.7 2.7 0 1 0 5.4 0a2.7 2.7 0 1 0 -5.4 0ZM1439.7 272.6a2.5 2.5 0 1 0 5.0 0a2.5 2.5 0 1 0 -5.0 0ZM1449.3 270.3a2.8 2.8 0 1 0 5.5 0a2.8 2.8 0 1 0 -5.5 0ZM1529.4 273.0a2.4 2.4 0 1 0 4.8 0a2.4 2.4 0 1 0 -4.8 0ZM1557.2 279.5a2.5 2.5 0 1 0 5.1 0a2.5 2.5 0 1 0 -5.1 0ZM1570.9 279.0a2.6 2.6 0 1 0 5.2 0a2.6 2.6 0 1 0 -5.2 0ZM1597.8 268.5a2.4 2.4 0 1 0 4.7 0a2.4 2.4 0 1 0 -4.7 0ZM1585.3 264.8a2.4 2.4 0 1 0 4.8 0a2.4 2.4 0 1 0 -4.8 0ZM1609.8 276.7a2.2 2.2 0 1 0 4.5 0a2.2 2.2 0 1 0 -4.5 0ZM1616.5 282.8a2.4 2.4 0 1 0 4.7 0a2.4 2.4 0 1 0 -4.7 0ZM1628.1 267.4a2.2 2.2 0 1 0 4.4 0a2.2 2.2 0 1 0 -4.4 0ZM1661.4 269.4a2.8 2.8 0 1 0 5.6 0a2.8 2.8 0 1 0 -5.6 0ZM1663.8 281.2a2.4 2.4 0 1 0 4.8 0a2.4 2.4 0 1 0 -4.8 0ZM1686.5 266.3a2.7 2.7 0 1 0 5.4 0a2.7 2.7 0 1 0 -5.4 0ZM1414.9 295.5a2.4 2.4 0 1 0 4.8 0a2.4 2.4 0 1 0 -4.8 0ZM1431.9 287.5a2.5 2.5 0 1 0 5.1 0a2.5 2.5 0 1 0 -5.1 0ZM1427.3 293.2a2.3 2.3 0 1 0 4.7 0a2.3 2.3 0 1 0 -4.7 0ZM1450.9 287.5a2.8 2.8 0 1 0 5.5 0a2.8 2.8 0 1 0 -5.5 0ZM1444.7 297.2a2.7 2.7 0 1 0 5.4 0a2.7 2.7 0 1 0 -5.4 0ZM1478.4 298.1a2.3 2.3 0 1 0 4.6 0a2.3 2.3 0 1 0 -4.6 0ZM1479.9 286.8a2.4 2.4 0 1 0 4.8 0a2.4 2.4 0 1 0 -4.8 0ZM1549.8 284.8a2.7 2.7 0 1 0 5.3 0a2.7 2.7 0 1 0 -5.3 0ZM1560.8 288.6a2.2 2.2 0 1 0 4.4 0a2.2 2.2 0 1 0 -4.4 0ZM1566.4 304.3a2.7 2.7 0 1 0 5.3 0a2.7 2.7 0 1 0 -5.3 0ZM1604.2 294.6a2.3 2.3 0 1 0 4.6 0a2.3 2.3 0 1 0 -4.6 0ZM1601.5 299.0a2.4 2.4 0 1 0 4.9 0a2.4 2.4 0 1 0 -4.9 0ZM1619.9 289.5a2.2 2.2 0 1 0 4.5 0a2.2 2.2 0 1 0 -4.5 0ZM1408.6 319.1a2.8 2.8 0 1 0 5.6 0a2.8 2.8 0 1 0 -5.6 0ZM1430.0 314.2a2.6 2.6 0 1 0 5.1 0a2.6 2.6 0 1 0 -5.1 0ZM1445.7 310.8a2.3 2.3 0 1 0 4.5 0a2.3 2.3 0 1 0 -4.5 0ZM1449.9 323.3a2.4 2.4 0 1 0 4.7 0a2.4 2.4 0 1 0 -4.7 0ZM1629.3 323.5a2.6 2.6 0 1 0 5.1 0a2.6 2.6 0 1 0 -5.1 0ZM1635.8 311.0a2.5 2.5 0 1 0 5.0 0a2.5 2.5 0 1 0 -5.0 0ZM1409.4 337.1a2.6 2.6 0 1 0 5.3 0a2.6 2.6 0 1 0 -5.3 0ZM1438.3 332.1a2.5 2.5 0 1 0 5.0 0a2.5 2.5 0 1 0 -5.0 0ZM1538.1 329.7a2.5 2.5 0 1 0 5.0 0a2.5 2.5 0 1 0 -5.0 0ZM1522.4 341.7a2.6 2.6 0 1 0 5.2 0a2.6 2.6 0 1 0 -5.2 0ZM1544.4 336.6a2.6 2.6 0 1 0 5.2 0a2.6 2.6 0 1 0 -5.2 0ZM1604.9 326.9a2.6 2.6 0 1 0 5.2 0a2.6 2.6 0 1 0 -5.2 0ZM1634.8 338.5a2.2 2.2 0 1 0 4.4 0a2.2 2.2 0 1 0 -4.4 0ZM1655.7 327.7a2.6 2.6 0 1 0 5.2 0a2.6 2.6 0 1 0 -5.2 0ZM1673.2 335.8a2.8 2.8 0 1 0 5.6 0a2.8 2.8 0 1 0 -5.6 0ZM1665.2 323.4a2.2 2.2 0 1 0 4.4 0a2.2 2.2 0 1 0 -4.4 0ZM1697.0 330.7a2.6 2.6 0 1 0 5.3 0a2.6 2.6 0 1 0 -5.3 0ZM1506.0 349.5a2.5 2.5 0 1 0 5.0 0a2.5 2.5 0 1 0 -5.0 0ZM1528.8 364.0a2.4 2.4 0 1 0 4.9 0a2.4 2.4 0 1 0 -4.9 0ZM1602.3 350.7a2.4 2.4 0 1 0 4.8 0a2.4 2.4 0 1 0 -4.8 0ZM1626.3 346.8a2.8 2.8 0 1 0 5.6 0a2.8 2.8 0 1 0 -5.6 0ZM1676.0 358.6a2.7 2.7 0 1 0 5.4 0a2.7 2.7 0 1 0 -5.4 0ZM1696.9 345.7a2.7 2.7 0 1 0 5.3 0a2.7 2.7 0 1 0 -5.3 0ZM1712.3 357.9a2.3 2.3 0 1 0 4.7 0a2.3 2.3 0 1 0 -4.7 0ZM1456.8 369.2a2.5 2.5 0 1 0 5.0 0a2.5 2.5 0 1 0 -5.0 0ZM1537.4 366.0a2.3 2.3 0 1 0 4.6 0a2.3 2.3 0 1 0 -4.6 0ZM1521.5 378.1a2.5 2.5 0 1 0 5.0 0a2.5 2.5 0 1 0 -5.0 0ZM1568.2 375.1a2.2 2.2 0 1 0 4.5 0a2.2 2.2 0 1 0 -4.5 0ZM1613.1 380.0a2.4 2.4 0 1 0 4.8 0a2.4 2.4 0 1 0 -4.8 0ZM1633.9 363.3a2.5 2.5 0 1 0 4.9 0a2.5 2.5 0 1 0 -4.9 0ZM1661.5 367.0a2.5 2.5 0 1 0 5.1 0a2.5 2.5 0 1 0 -5.1 0ZM1685.3 366.8a2.7 2.7 0 1 0 5.3 0a2.7 2.7 0 1 0 -5.3 0ZM1443.7 391.2a2.6 2.6 0 1 0 5.1 0a2.6 2.6 0 1 0 -5.1 0ZM1557.7 388.5a2.8 2.8 0 1 0 5.5 0a2.8 2.8 0 1 0 -5.5 0ZM1556.3 396.6a2.2 2.2 0 1 0 4.4 0a2.2 2.2 0 1 0 -4.4 0ZM1593.2 404.1a2.6 2.6 0 1 0 5.2 0a2.6 2.6 0 1 0 -5.2 0ZM1663.9 392.0a2.5 2.5 0 1 0 5.0 0a2.5 2.5 0 1 0 -5.0 0ZM1691.4 393.6a2.7 2.7 0 1 0 5.4 0a2.7 2.7 0 1 0 -5.4 0Z"/></g></g>
<g clip-path="url(#cp2)" filter="url(#bl3)"><path fill="rgb(225,28,18)" d="M723.9 111.7a1.5 1.5 0 1 0 2.9 0a1.5 1.5 0 1 0 -2.9 0ZM751.8 104.7a1.5 1.5 0 1 0 3.1 0a1.5 1.5 0 1 0 -3.1 0ZM780.8 90.4a1.9 1.9 0 1 0 3.9 0a1.9 1.9 0 1 0 -3.9 0ZM796.1 113.6a1.5 1.5 0 1 0 2.9 0a1.5 1.5 0 1 0 -2.9 0ZM873.0 95.1a2.0 2.0 0 1 0 4.0 0a2.0 2.0 0 1 0 -4.0 0ZM876.3 95.6a1.4 1.4 0 1 0 2.8 0a1.4 1.4 0 1 0 -2.8 0ZM941.0 124.1a1.4 1.4 0 1 0 2.8 0a1.4 1.4 0 1 0 -2.8 0ZM932.0 103.6a1.4 1.4 0 1 0 2.9 0a1.4 1.4 0 1 0 -2.9 0ZM943.2 124.1a1.9 1.9 0 1 0 3.7 0a1.9 1.9 0 1 0 -3.7 0ZM945.7 115.1a1.9 1.9 0 1 0 3.7 0a1.9 1.9 0 1 0 -3.7 0ZM941.3 99.6a1.5 1.5 0 1 0 3.0 0a1.5 1.5 0 1 0 -3.0 0ZM918.8 105.5a1.4 1.4 0 1 0 2.9 0a1.4 1.4 0 1 0 -2.9 0ZM972.3 109.1a1.4 1.4 0 1 0 2.8 0a1.4 1.4 0 1 0 -2.8 0ZM962.6 101.4a1.7 1.7 0 1 0 3.4 0a1.7 1.7 0 1 0 -3.4 0ZM961.4 120.5a1.7 1.7 0 1 0 3.3 0a1.7 1.7 0 1 0 -3.3 0ZM974.8 96.2a1.5 1.5 0 1 0 3.1 0a1.5 1.5 0 1 0 -3.1 0ZM734.3 146.4a2.0 2.0 0 1 0 4.1 0a2.0 2.0 0 1 0 -4.1 0ZM716.3 150.6a2.0 2.0 0 1 0 3.9 0a2.0 2.0 0 1 0 -3.9 0ZM767.2 155.3a1.7 1.7 0 1 0 3.3 0a1.7 1.7 0 1 0 -3.3 0ZM819.2 160.9a2.0 2.0 0 1 0 4.1 0a2.0 2.0 0 1 0 -4.1 0ZM789.7 128.2a1.5 1.5 0 1 0 3.1 0a1.5 1.5 0 1 0 -3.1 0ZM853.0 144.5a1.9 1.9 0 1 0 3.8 0a1.9 1.9 0 1 0 -3.8 0ZM837.7 132.9a1.6 1.6 0 1 0 3.2 0a1.6 1.6 0 1 0 -3.2 0ZM849.0 140.3a2.1 2.1 0 1 0 4.2 0a2.1 2.1 0 1 0 -4.2 0ZM866.3 146.9a1.6 1.6 0 1 0 3.2 0a1.6 1.6 0 1 0 -3.2 0ZM875.8 147.4a2.0 2.0 0 1 0 4.0 0a2.0 2.0 0 1 0 -4.0 0ZM946.3 129.0a1.5 1.5 0 1 0 3.0 0a1.5 1.5 0 1 0 -3.0 0ZM931.4 141.5a1.5 1.5 0 1 0 2.9 0a1.5 1.5 0 1 0 -2.9 0ZM972.8 130.9a1.6 1.6 0 1 0 3.2 0a1.6 1.6 0 1 0 -3.2 0ZM982.1 152.1a2.0 2.0 0 1 0 4.1 0a2.0 2.0 0 1 0 -4.1 0ZM1020.8 141.3a1.6 1.6 0 1 0 3.2 0a1.6 1.6 0 1 0 -3.2 0ZM729.0 204.5a1.6 1.6 0 1 0 3.3 0a1.6 1.6 0 1 0 -3.3 0ZM812.1 167.9a1.6 1.6 0 1 0 3.2 0a1.6 1.6 0 1 0 -3.2 0ZM848.3 188.3a1.6 1.6 0 1 0 3.2 0a1.6 1.6 0 1 0 -3.2 0ZM898.7 176.2a2.0 2.0 0 1 0 4.0 0a2.0 2.0 0 1 0 -4.0 0ZM883.1 188.0a1.7 1.7 0 1 0 3.5 0a1.7 1.7 0 1 0 -3.5 0ZM879.9 182.7a1.4 1.4 0 1 0 2.8 0a1.4 1.4 0 1 0 -2.8 0ZM900.6 197.6a2.0 2.0 0 1 0 4.0 0a2.0 2.0 0 1 0 -4.0 0ZM927.6 182.5a1.4 1.4 0 1 0 2.8 0a1.4 1.4 0 1 0 -2.8 0ZM945.2 191.5a2.0 2.0 0 1 0 3.9 0a2.0 2.0 0 1 0 -3.9 0ZM914.4 204.2a1.7 1.7 0 1 0 3.4 0a1.7 1.7 0 1 0 -3.4 0ZM958.1 178.6a1.6 1.6 0 1 0 3.2 0a1.6 1.6 0 1 0 -3.2 0ZM951.7 185.3a2.0 2.0 0 1 0 4.0 0a2.0 2.0 0 1 0 -4.0 0ZM958.1 202.3a1.5 1.5 0 1 0 2.9 0a1.5 1.5 0 1 0 -2.9 0ZM951.8 171.6a1.9 1.9 0 1 0 3.9 0a1.9 1.9 0 1 0 -3.9 0ZM974.7 171.0a2.0 2.0 0 1 0 4.0 0a2.0 2.0 0 1 0 -4.0 0ZM984.6 188.7a1.8 1.8 0 1 0 3.6 0a1.8 1.8 0 1 0 -3.6 0ZM987.6 173.7a1.6 1.6 0 1 0 3.2 0a1.6 1.6 0 1 0 -3.2 0ZM1012.4 194.8a1.9 1.9 0 1 0 3.9 0a1.9 1.9 0 1 0 -3.9 0ZM742.6 233.0a2.1 2.1 0 1 0 4.2 0a2.1 2.1 0 1 0 -4.2 0ZM770.6 241.6a1.7 1.7 0 1 0 3.3 0a1.7 1.7 0 1 0 -3.3 0ZM781.7 236.8a2.0 2.0 0 1 0 3.9 0a2.0 2.0 0 1 0 -3.9 0ZM827.6 227.5a1.8 1.8 0 1 0 3.6 0a1.8 1.8 0 1 0 -3.6 0ZM807.5 209.5a2.0 2.0 0 1 0 4.1 0a2.0 2.0 0 1 0 -4.1 0ZM866.9 227.7a1.9 1.9 0 1 0 3.9 0a1.9 1.9 0 1 0 -3.9 0ZM865.1 217.1a1.6 1.6 0 1 0 3.3 0a1.6 1.6 0 1 0 -3.3 0ZM844.7 207.1a1.9 1.9 0 1 0 3.8 0a1.9 1.9 0 1 0 -3.8 0ZM832.0 242.5a2.1 2.1 0 1 0 4.1 0a2.1 2.1 0 1 0 -4.1 0ZM844.4 225.5a1.7 1.7 0 1 0 3.5 0a1.7 1.7 0 1 0 -3.5 0ZM853.4 220.5a1.7 1.7 0 1 0 3.4 0a1.7 1.7 0 1 0 -3.4 0ZM872.5 215.1a1.5 1.5 0 1 0 3.0 0a1.5 1.5 0 1 0 -3.0 0ZM898.2 217.1a2.1 2.1 0 1 0 4.1 0a2.1 2.1 0 1 0 -4.1 0ZM876.6 231.4a1.8 1.8 0 1 0 3.5 0a1.8 1.8 0 1 0 -3.5 0ZM907.0 243.3a1.5 1.5 0 1 0 3.0 0a1.5 1.5 0 1 0 -3.0 0ZM885.5 215.8a1.8 1.8 0 1 0 3.5 0a1.8 1.8 0 1 0 -3.5 0ZM907.6 240.6a2.1 2.1 0 1 0 4.1 0a2.1 2.1 0 1 0 -4.1 0ZM909.4 228.4a1.6 1.6 0 1 0 3.3 0a1.6 1.6 0 1 0 -3.3 0ZM919.8 222.1a2.0 2.0 0 1 0 4.0 0a2.0 2.0 0 1 0 -4.0 0ZM945.0 224.7a1.9 1.9 0 1 0 3.8 0a1.9 1.9 0 1 0 -3.8 0ZM962.3 239.8a1.8 1.8 0 1 0 3.5 0a1.8 1.8 0 1 0 -3.5 0ZM954.7 210.9a1.7 1.7 0 1 0 3.3 0a1.7 1.7 0 1 0 -3.3 0ZM972.6 240.7a1.6 1.6 0 1 0 3.2 0a1.6 1.6 0 1 0 -3.2 0ZM972.6 216.6a1.7 1.7 0 1 0 3.5 0a1.7 1.7 0 1 0 -3.5 0ZM968.2 213.1a1.9 1.9 0 1 0 3.9 0a1.9 1.9 0 1 0 -3.9 0ZM980.1 234.6a1.8 1.8 0 1 0 3.6 0a1.8 1.8 0 1 0 -3.6 0ZM1018.4 235.1a1.9 1.9 0 1 0 3.8 0a1.9 1.9 0 1 0 -3.8 0ZM1023.1 213.8a1.8 1.8 0 1 0 3.7 0a1.8 1.8 0 1 0 -3.7 0ZM1006.8 243.6a1.9 1.9 0 1 0 3.8 0a1.9 1.9 0 1 0 -3.8 0ZM751.2 272.6a2.0 2.0 0 1 0 3.9 0a2.0 2.0 0 1 0 -3.9 0ZM830.4 268.0a1.5 1.5 0 1 0 3.0 0a1.5 1.5 0 1 0 -3.0 0ZM836.1 282.6a2.0 2.0 0 1 0 4.1 0a2.0 2.0 0 1 0 -4.1 0ZM831.3 261.2a1.5 1.5 0 1 0 3.1 0a1.5 1.5 0 1 0 -3.1 0ZM933.8 246.4a2.0 2.0 0 1 0 4.1 0a2.0 2.0 0 1 0 -4.1 0ZM924.1 259.7a1.6 1.6 0 1 0 3.2 0a1.6 1.6 0 1 0 -3.2 0ZM976.8 274.7a1.6 1.6 0 1 0 3.2 0a1.6 1.6 0 1 0 -3.2 0ZM969.6 278.6a2.0 2.0 0 1 0 4.1 0a2.0 2.0 0 1 0 -4.1 0ZM950.7 277.2a1.7 1.7 0 1 0 3.5 0a1.7 1.7 0 1 0 -3.5 0ZM965.1 248.2a1.5 1.5 0 1 0 3.0 0a1.5 1.5 0 1 0 -3.0 0ZM985.5 260.6a1.9 1.9 0 1 0 3.9 0a1.9 1.9 0 1 0 -3.9 0ZM995.6 267.7a1.5 1.5 0 1 0 3.1 0a1.5 1.5 0 1 0 -3.1 0ZM1004.7 280.5a1.5 1.5 0 1 0 2.9 0a1.5 1.5 0 1 0 -2.9 0ZM1020.4 247.6a1.9 1.9 0 1 0 3.8 0a1.9 1.9 0 1 0 -3.8 0ZM729.3 303.6a1.5 1.5 0 1 0 3.0 0a1.5 1.5 0 1 0 -3.0 0ZM794.8 312.7a1.8 1.8 0 1 0 3.6 0a1.8 1.8 0 1 0 -3.6 0ZM820.0 292.5a1.8 1.8 0 1 0 3.6 0a1.8 1.8 0 1 0 -3.6 0ZM799.3 296.2a1.7 1.7 0 1 0 3.4 0a1.7 1.7 0 1 0 -3.4 0ZM837.0 313.4a1.9 1.9 0 1 0 3.8 0a1.9 1.9 0 1 0 -3.8 0ZM834.2 322.0a2.0 2.0 0 1 0 4.0 0a2.0 2.0 0 1 0 -4.0 0ZM851.6 303.8a1.5 1.5 0 1 0 3.0 0a1.5 1.5 0 1 0 -3.0 0ZM850.0 301.0a1.5 1.5 0 1 0 3.0 0a1.5 1.5 0 1 0 -3.0 0ZM943.9 309.0a1.8 1.8 0 1 0 3.5 0a1.8 1.8 0 1 0 -3.5 0ZM735.2 345.7a1.7 1.7 0 1 0 3.5 0a1.7 1.7 0 1 0 -3.5 0ZM784.9 343.7a1.9 1.9 0 1 0 3.7 0a1.9 1.9 0 1 0 -3.7 0ZM792.7 340.4a1.8 1.8 0 1 0 3.6 0a1.8 1.8 0 1 0 -3.6 0ZM814.1 342.7a1.9 1.9 0 1 0 3.9 0a1.9 1.9 0 1 0 -3.9 0ZM836.6 356.9a1.8 1.8 0 1 0 3.5 0a1.8 1.8 0 1 0 -3.5 0ZM834.6 329.7a1.6 1.6 0 1 0 3.1 0a1.6 1.6 0 1 0 -3.1 0ZM836.6 340.3a2.0 2.0 0 1 0 4.0 0a2.0 2.0 0 1 0 -4.0 0ZM865.9 332.3a1.5 1.5 0 1 0 3.0 0a1.5 1.5 0 1 0 -3.0 0ZM887.7 331.0a1.8 1.8 0 1 0 3.6 0a1.8 1.8 0 1 0 -3.6 0ZM872.1 333.3a1.5 1.5 0 1 0 3.0 0a1.5 1.5 0 1 0 -3.0 0ZM896.5 359.1a1.5 1.5 0 1 0 2.9 0a1.5 1.5 0 1 0 -2.9 0ZM912.2 326.5a2.0 2.0 0 1 0 3.9 0a2.0 2.0 0 1 0 -3.9 0ZM922.8 349.4a1.6 1.6 0 1 0 3.2 0a1.6 1.6 0 1 0 -3.2 0ZM935.4 341.2a1.4 1.4 0 1 0 2.9 0a1.4 1.4 0 1 0 -2.9 0ZM947.8 358.0a1.7 1.7 0 1 0 3.5 0a1.7 1.7 0 1 0 -3.5 0ZM1002.0 337.6a1.9 1.9 0 1 0 3.8 0a1.9 1.9 0 1 0 -3.8 0ZM1019.8 331.2a1.5 1.5 0 1 0 3.0 0a1.5 1.5 0 1 0 -3.0 0ZM1001.6 336.2a1.5 1.5 0 1 0 3.0 0a1.5 1.5 0 1 0 -3.0 0ZM778.9 382.6a2.0 2.0 0 1 0 4.1 0a2.0 2.0 0 1 0 -4.1 0ZM760.5 390.5a1.5 1.5 0 1 0 3.1 0a1.5 1.5 0 1 0 -3.1 0ZM794.9 384.7a2.0 2.0 0 1 0 4.1 0a2.0 2.0 0 1 0 -4.1 0ZM861.5 391.0a1.8 1.8 0 1 0 3.5 0a1.8 1.8 0 1 0 -3.5 0ZM850.8 396.5a2.0 2.0 0 1 0 4.1 0a2.0 2.0 0 1 0 -4.1 0ZM867.8 374.6a1.7 1.7 0 1 0 3.4 0a1.7 1.7 0 1 0 -3.4 0ZM912.9 378.0a2.0 2.0 0 1 0 4.1 0a2.0 2.0 0 1 0 -4.1 0ZM967.4 364.3a1.9 1.9 0 1 0 3.7 0a1.9 1.9 0 1 0 -3.7 0ZM1025.3 397.7a1.8 1.8 0 1 0 3.5 0a1.8 1.8 0 1 0 -3.5 0Z"/><path fill="rgb(245,35,22)" d="M804.2 101.1a1.7 1.7 0 1 0 3.4 0a1.7 1.7 0 1 0 -3.4 0ZM844.7 102.6a1.7 1.7 0 1 0 3.4 0a1.7 1.7 0 1 0 -3.4 0ZM869.0 103.9a2.0 2.0 0 1 0 4.0 0a2.0 2.0 0 1 0 -4.0 0ZM896.9 93.9a1.6 1.6 0 1 0 3.2 0a1.6 1.6 0 1 0 -3.2 0ZM977.8 104.3a2.0 2.0 0 1 0 4.1 0a2.0 2.0 0 1 0 -4.1 0ZM974.4 97.6a2.1 2.1 0 1 0 4.1 0a2.1 2.1 0 1 0 -4.1 0ZM998.3 87.6a1.6 1.6 0 1 0 3.1 0a1.6 1.6 0 1 0 -3.1 0ZM730.5 148.2a1.7 1.7 0 1 0 3.4 0a1.7 1.7 0 1 0 -3.4 0ZM763.5 143.0a1.7 1.7 0 1 0 3.4 0a1.7 1.7 0 1 0 -3.4 0ZM771.1 129.5a1.7 1.7 0 1 0 3.3 0a1.7 1.7 0 1 0 -3.3 0ZM763.9 139.0a2.0 2.0 0 1 0 4.0 0a2.0 2.0 0 1 0 -4.0 0ZM852.2 137.9a2.1 2.1 0 1 0 4.2 0a2.1 2.1 0 1 0 -4.2 0ZM843.7 134.0a1.5 1.5 0 1 0 2.9 0a1.5 1.5 0 1 0 -2.9 0ZM881.9 127.9a2.0 2.0 0 1 0 4.0 0a2.0 2.0 0 1 0 -4.0 0ZM878.0 144.1a1.6 1.6 0 1 0 3.2 0a1.6 1.6 0 1 0 -3.2 0ZM874.3 126.9a2.0 2.0 0 1 0 4.1 0a2.0 2.0 0 1 0 -4.1 0ZM896.0 138.5a2.1 2.1 0 1 0 4.1 0a2.1 2.1 0 1 0 -4.1 0ZM875.8 128.1a2.0 2.0 0 1 0 4.1 0a2.0 2.0 0 1 0 -4.1 0ZM935.5 130.8a2.1 2.1 0 1 0 4.2 0a2.1 2.1 0 1 0 -4.2 0ZM954.9 164.5a1.4 1.4 0 1 0 2.8 0a1.4 1.4 0 1 0 -2.8 0ZM976.4 126.6a2.0 2.0 0 1 0 4.0 0a2.0 2.0 0 1 0 -4.0 0ZM1001.6 139.8a1.6 1.6 0 1 0 3.2 0a1.6 1.6 0 1 0 -3.2 0ZM723.7 175.6a1.6 1.6 0 1 0 3.2 0a1.6 1.6 0 1 0 -3.2 0ZM739.0 186.8a1.8 1.8 0 1 0 3.7 0a1.8 1.8 0 1 0 -3.7 0ZM768.7 201.4a1.6 1.6 0 1 0 3.3 0a1.6 1.6 0 1 0 -3.3 0ZM753.0 178.5a1.8 1.8 0 1 0 3.6 0a1.8 1.8 0 1 0 -3.6 0ZM754.0 188.4a1.9 1.9 0 1 0 3.9 0a1.9 1.9 0 1 0 -3.9 0ZM754.4 195.8a1.8 1.8 0 1 0 3.6 0a1.8 1.8 0 1 0 -3.6 0ZM798.7 173.3a1.9 1.9 0 1 0 3.7 0a1.9 1.9 0 1 0 -3.7 0ZM792.2 195.8a1.7 1.7 0 1 0 3.3 0a1.7 1.7 0 1 0 -3.3 0ZM794.7 192.6a1.8 1.8 0 1 0 3.5 0a1.8 1.8 0 1 0 -3.5 0ZM806.7 166.5a1.9 1.9 0 1 0 3.8 0a1.9 1.9 0 1 0 -3.8 0ZM857.4 175.9a1.7 1.7 0 1 0 3.4 0a1.7 1.7 0 1 0 -3.4 0ZM848.4 176.2a2.0 2.0 0 1 0 4.0 0a2.0 2.0 0 1 0 -4.0 0ZM835.7 201.7a2.1 2.1 0 1 0 4.1 0a2.1 2.1 0 1 0 -4.1 0ZM863.6 195.4a1.9 1.9 0 1 0 3.7 0a1.9 1.9 0 1 0 -3.7 0ZM900.1 179.6a1.8 1.8 0 1 0 3.5 0a1.8 1.8 0 1 0 -3.5 0ZM871.6 186.3a1.4 1.4 0 1 0 2.8 0a1.4 1.4 0 1 0 -2.8 0ZM877.2 193.5a2.1 2.1 0 1 0 4.1 0a2.1 2.1 0 1 0 -4.1 0ZM935.9 196.9a1.7 1.7 0 1 0 3.4 0a1.7 1.7 0 1 0 -3.4 0ZM929.6 182.3a1.6 1.6 0 1 0 3.2 0a1.6 1.6 0 1 0 -3.2 0ZM942.7 175.7a2.0 2.0 0 1 0 4.0 0a2.0 2.0 0 1 0 -4.0 0ZM942.9 182.7a2.1 2.1 0 1 0 4.2 0a2.1 2.1 0 1 0 -4.2 0ZM1010.8 176.7a1.8 1.8 0 1 0 3.7 0a1.8 1.8 0 1 0 -3.7 0ZM782.0 241.5a1.8 1.8 0 1 0 3.6 0a1.8 1.8 0 1 0 -3.6 0ZM775.1 237.6a2.1 2.1 0 1 0 4.1 0a2.1 2.1 0 1 0 -4.1 0ZM795.1 240.7a1.5 1.5 0 1 0 2.9 0a1.5 1.5 0 1 0 -2.9 0ZM800.9 214.1a1.5 1.5 0 1 0 2.9 0a1.5 1.5 0 1 0 -2.9 0ZM793.3 229.4a1.6 1.6 0 1 0 3.3 0a1.6 1.6 0 1 0 -3.3 0ZM855.8 227.0a1.9 1.9 0 1 0 3.8 0a1.9 1.9 0 1 0 -3.8 0ZM832.0 238.6a1.7 1.7 0 1 0 3.5 0a1.7 1.7 0 1 0 -3.5 0ZM859.0 239.6a1.7 1.7 0 1 0 3.4 0a1.7 1.7 0 1 0 -3.4 0ZM872.4 233.0a1.7 1.7 0 1 0 3.5 0a1.7 1.7 0 1 0 -3.5 0ZM870.4 209.4a1.9 1.9 0 1 0 3.9 0a1.9 1.9 0 1 0 -3.9 0ZM897.9 236.9a1.9 1.9 0 1 0 3.8 0a1.9 1.9 0 1 0 -3.8 0ZM888.9 205.7a1.8 1.8 0 1 0 3.5 0a1.8 1.8 0 1 0 -3.5 0ZM904.8 239.7a1.4 1.4 0 1 0 2.9 0a1.4 1.4 0 1 0 -2.9 0ZM898.9 211.3a1.9 1.9 0 1 0 3.9 0a1.9 1.9 0 1 0 -3.9 0ZM898.8 225.0a1.8 1.8 0 1 0 3.5 0a1.8 1.8 0 1 0 -3.5 0ZM880.3 238.8a1.9 1.9 0 1 0 3.7 0a1.9 1.9 0 1 0 -3.7 0ZM874.1 219.9a2.1 2.1 0 1 0 4.1 0a2.1 2.1 0 1 0 -4.1 0ZM907.8 213.4a1.9 1.9 0 1 0 3.7 0a1.9 1.9 0 1 0 -3.7 0ZM938.3 217.9a2.0 2.0 0 1 0 4.0 0a2.0 2.0 0 1 0 -4.0 0ZM927.3 226.7a1.9 1.9 0 1 0 3.8 0a1.9 1.9 0 1 0 -3.8 0ZM934.0 213.9a2.0 2.0 0 1 0 3.9 0a2.0 2.0 0 1 0 -3.9 0ZM979.0 220.6a2.1 2.1 0 1 0 4.1 0a2.1 2.1 0 1 0 -4.1 0ZM951.5 215.7a1.7 1.7 0 1 0 3.4 0a1.7 1.7 0 1 0 -3.4 0ZM970.2 236.7a2.0 2.0 0 1 0 4.0 0a2.0 2.0 0 1 0 -4.0 0ZM967.2 205.3a1.5 1.5 0 1 0 3.0 0a1.5 1.5 0 1 0 -3.0 0ZM1022.9 220.4a1.6 1.6 0 1 0 3.1 0a1.6 1.6 0 1 0 -3.1 0ZM1002.5 241.5a1.7 1.7 0 1 0 3.4 0a1.7 1.7 0 1 0 -3.4 0ZM730.6 261.1a1.8 1.8 0 1 0 3.6 0a1.8 1.8 0 1 0 -3.6 0ZM728.9 250.1a1.7 1.7 0 1 0 3.3 0a1.7 1.7 0 1 0 -3.3 0ZM745.9 257.9a2.1 2.1 0 1 0 4.1 0a2.1 2.1 0 1 0 -4.1 0ZM733.8 270.4a2.0 2.0 0 1 0 3.9 0a2.0 2.0 0 1 0 -3.9 0ZM747.1 278.4a1.7 1.7 0 1 0 3.4 0a1.7 1.7 0 1 0 -3.4 0ZM782.6 269.5a1.7 1.7 0 1 0 3.4 0a1.7 1.7 0 1 0 -3.4 0ZM766.4 256.6a1.7 1.7 0 1 0 3.5 0a1.7 1.7 0 1 0 -3.5 0ZM769.3 247.3a1.8 1.8 0 1 0 3.6 0a1.8 1.8 0 1 0 -3.6 0ZM773.5 255.0a1.6 1.6 0 1 0 3.3 0a1.6 1.6 0 1 0 -3.3 0ZM815.0 253.6a1.6 1.6 0 1 0 3.2 0a1.6 1.6 0 1 0 -3.2 0ZM844.3 273.9a1.5 1.5 0 1 0 3.1 0a1.5 1.5 0 1 0 -3.1 0ZM879.3 251.3a1.5 1.5 0 1 0 2.9 0a1.5 1.5 0 1 0 -2.9 0ZM896.6 276.2a2.0 2.0 0 1 0 4.0 0a2.0 2.0 0 1 0 -4.0 0ZM920.8 274.5a1.5 1.5 0 1 0 3.0 0a1.5 1.5 0 1 0 -3.0 0ZM935.0 268.6a2.0 2.0 0 1 0 3.9 0a2.0 2.0 0 1 0 -3.9 0ZM919.2 273.4a1.6 1.6 0 1 0 3.1 0a1.6 1.6 0 1 0 -3.1 0ZM938.9 282.7a2.0 2.0 0 1 0 3.9 0a2.0 2.0 0 1 0 -3.9 0ZM921.2 254.2a1.7 1.7 0 1 0 3.4 0a1.7 1.7 0 1 0 -3.4 0ZM976.0 283.0a1.6 1.6 0 1 0 3.2 0a1.6 1.6 0 1 0 -3.2 0ZM966.6 276.6a1.6 1.6 0 1 0 3.1 0a1.6 1.6 0 1 0 -3.1 0ZM968.9 273.7a2.0 2.0 0 1 0 4.1 0a2.0 2.0 0 1 0 -4.1 0ZM1017.9 253.1a1.4 1.4 0 1 0 2.9 0a1.4 1.4 0 1 0 -2.9 0ZM741.8 287.5a1.5 1.5 0 1 0 2.9 0a1.5 1.5 0 1 0 -2.9 0ZM717.9 287.7a1.6 1.6 0 1 0 3.2 0a1.6 1.6 0 1 0 -3.2 0ZM744.3 295.3a1.9 1.9 0 1 0 3.7 0a1.9 1.9 0 1 0 -3.7 0ZM747.8 313.7a1.9 1.9 0 1 0 3.9 0a1.9 1.9 0 1 0 -3.9 0ZM785.4 293.2a1.8 1.8 0 1 0 3.5 0a1.8 1.8 0 1 0 -3.5 0ZM768.3 285.2a1.9 1.9 0 1 0 3.8 0a1.9 1.9 0 1 0 -3.8 0ZM759.8 292.7a1.9 1.9 0 1 0 3.8 0a1.9 1.9 0 1 0 -3.8 0ZM762.7 298.2a1.5 1.5 0 1 0 3.1 0a1.5 1.5 0 1 0 -3.1 0ZM823.6 284.4a1.9 1.9 0 1 0 3.7 0a1.9 1.9 0 1 0 -3.7 0ZM840.6 292.6a1.8 1.8 0 1 0 3.7 0a1.8 1.8 0 1 0 -3.7 0ZM837.6 303.9a1.5 1.5 0 1 0 3.1 0a1.5 1.5 0 1 0 -3.1 0ZM888.7 292.7a1.7 1.7 0 1 0 3.5 0a1.7 1.7 0 1 0 -3.5 0ZM870.4 289.6a1.7 1.7 0 1 0 3.5 0a1.7 1.7 0 1 0 -3.5 0ZM924.6 304.8a1.7 1.7 0 1 0 3.4 0a1.7 1.7 0 1 0 -3.4 0ZM942.7 305.9a2.0 2.0 0 1 0 4.0 0a2.0 2.0 0 1 0 -4.0 0ZM934.4 310.4a1.9 1.9 0 1 0 3.9 0a1.9 1.9 0 1 0 -3.9 0ZM947.0 307.5a2.0 2.0 0 1 0 4.0 0a2.0 2.0 0 1 0 -4.0 0ZM973.0 298.0a1.4 1.4 0 1 0 2.9 0a1.4 1.4 0 1 0 -2.9 0ZM1000.8 304.9a1.5 1.5 0 1 0 3.1 0a1.5 1.5 0 1 0 -3.1 0ZM1009.6 291.9a1.8 1.8 0 1 0 3.6 0a1.8 1.8 0 1 0 -3.6 0ZM1025.6 293.4a1.5 1.5 0 1 0 3.0 0a1.5 1.5 0 1 0 -3.0 0ZM736.4 327.7a1.7 1.7 0 1 0 3.4 0a1.7 1.7 0 1 0 -3.4 0ZM728.8 354.2a1.6 1.6 0 1 0 3.2 0a1.6 1.6 0 1 0 -3.2 0ZM772.1 342.7a1.4 1.4 0 1 0 2.8 0a1.4 1.4 0 1 0 -2.8 0ZM811.7 360.5a1.5 1.5 0 1 0 3.0 0a1.5 1.5 0 1 0 -3.0 0ZM828.6 348.6a1.6 1.6 0 1 0 3.3 0a1.6 1.6 0 1 0 -3.3 0ZM859.9 341.0a1.6 1.6 0 1 0 3.1 0a1.6 1.6 0 1 0 -3.1 0ZM896.0 350.0a1.4 1.4 0 1 0 2.8 0a1.4 1.4 0 1 0 -2.8 0ZM934.9 337.1a2.0 2.0 0 1 0 4.0 0a2.0 2.0 0 1 0 -4.0 0ZM956.7 324.6a1.9 1.9 0 1 0 3.8 0a1.9 1.9 0 1 0 -3.8 0ZM967.8 361.6a2.0 2.0 0 1 0 3.9 0a2.0 2.0 0 1 0 -3.9 0ZM744.3 385.7a2.0 2.0 0 1 0 4.0 0a2.0 2.0 0 1 0 -4.0 0ZM731.1 387.4a1.7 1.7 0 1 0 3.5 0a1.7 1.7 0 1 0 -3.5 0ZM776.8 400.5a1.6 1.6 0 1 0 3.3 0a1.6 1.6 0 1 0 -3.3 0ZM792.2 368.6a1.4 1.4 0 1 0 2.9 0a1.4 1.4 0 1 0 -2.9 0ZM801.2 395.3a1.5 1.5 0 1 0 2.9 0a1.5 1.5 0 1 0 -2.9 0ZM857.5 393.8a1.8 1.8 0 1 0 3.7 0a1.8 1.8 0 1 0 -3.7 0ZM868.8 382.4a1.7 1.7 0 1 0 3.4 0a1.7 1.7 0 1 0 -3.4 0ZM903.0 365.0a1.6 1.6 0 1 0 3.2 0a1.6 1.6 0 1 0 -3.2 0ZM889.8 393.0a1.6 1.6 0 1 0 3.3 0a1.6 1.6 0 1 0 -3.3 0ZM901.1 380.2a1.7 1.7 0 1 0 3.4 0a1.7 1.7 0 1 0 -3.4 0Z"/><path fill="rgb(255,45,28)" d="M749.2 124.0a1.5 1.5 0 1 0 2.9 0a1.5 1.5 0 1 0 -2.9 0ZM736.4 112.1a1.9 1.9 0 1 0 3.8 0a1.9 1.9 0 1 0 -3.8 0ZM803.7 87.4a1.9 1.9 0 1 0 3.9 0a1.9 1.9 0 1 0 -3.9 0ZM864.0 121.0a1.5 1.5 0 1 0 2.9 0a1.5 1.5 0 1 0 -2.9 0ZM859.8 122.8a1.9 1.9 0 1 0 3.7 0a1.9 1.9 0 1 0 -3.7 0ZM902.0 123.3a1.9 1.9 0 1 0 3.9 0a1.9 1.9 0 1 0 -3.9 0ZM876.5 110.9a1.6 1.6 0 1 0 3.2 0a1.6 1.6 0 1 0 -3.2 0ZM910.6 92.3a2.0 2.0 0 1 0 4.0 0a2.0 2.0 0 1 0 -4.0 0ZM943.3 107.4a2.1 2.1 0 1 0 4.2 0a2.1 2.1 0 1 0 -4.2 0ZM993.7 125.5a1.5 1.5 0 1 0 2.9 0a1.5 1.5 0 1 0 -2.9 0ZM1024.0 124.3a1.5 1.5 0 1 0 2.9 0a1.5 1.5 0 1 0 -2.9 0ZM795.4 136.3a2.0 2.0 0 1 0 3.9 0a2.0 2.0 0 1 0 -3.9 0ZM827.7 162.4a1.4 1.4 0 1 0 2.8 0a1.4 1.4 0 1 0 -2.8 0ZM810.5 146.8a1.8 1.8 0 1 0 3.6 0a1.8 1.8 0 1 0 -3.6 0ZM811.9 152.5a2.1 2.1 0 1 0 4.1 0a2.1 2.1 0 1 0 -4.1 0ZM836.4 126.5a2.0 2.0 0 1 0 4.0 0a2.0 2.0 0 1 0 -4.0 0ZM834.4 150.9a1.7 1.7 0 1 0 3.4 0a1.7 1.7 0 1 0 -3.4 0ZM841.7 144.7a2.1 2.1 0 1 0 4.1 0a2.1 2.1 0 1 0 -4.1 0ZM872.3 163.0a1.9 1.9 0 1 0 3.8 0a1.9 1.9 0 1 0 -3.8 0ZM875.8 164.1a1.6 1.6 0 1 0 3.2 0a1.6 1.6 0 1 0 -3.2 0ZM944.4 129.0a2.0 2.0 0 1 0 4.0 0a2.0 2.0 0 1 0 -4.0 0ZM911.6 150.8a1.5 1.5 0 1 0 3.0 0a1.5 1.5 0 1 0 -3.0 0ZM921.6 136.5a1.4 1.4 0 1 0 2.8 0a1.4 1.4 0 1 0 -2.8 0ZM981.3 138.1a1.9 1.9 0 1 0 3.7 0a1.9 1.9 0 1 0 -3.7 0ZM978.2 132.0a1.9 1.9 0 1 0 3.9 0a1.9 1.9 0 1 0 -3.9 0ZM1014.0 131.0a1.5 1.5 0 1 0 3.0 0a1.5 1.5 0 1 0 -3.0 0ZM1013.4 163.0a1.6 1.6 0 1 0 3.2 0a1.6 1.6 0 1 0 -3.2 0ZM723.3 196.8a1.7 1.7 0 1 0 3.3 0a1.7 1.7 0 1 0 -3.3 0ZM775.9 168.4a1.7 1.7 0 1 0 3.3 0a1.7 1.7 0 1 0 -3.3 0ZM825.5 198.9a1.7 1.7 0 1 0 3.4 0a1.7 1.7 0 1 0 -3.4 0ZM825.3 202.4a1.7 1.7 0 1 0 3.3 0a1.7 1.7 0 1 0 -3.3 0ZM837.5 194.0a1.5 1.5 0 1 0 3.1 0a1.5 1.5 0 1 0 -3.1 0ZM842.1 190.2a1.8 1.8 0 1 0 3.7 0a1.8 1.8 0 1 0 -3.7 0ZM831.6 172.0a1.4 1.4 0 1 0 2.9 0a1.4 1.4 0 1 0 -2.9 0ZM842.6 203.7a1.6 1.6 0 1 0 3.1 0a1.6 1.6 0 1 0 -3.1 0ZM858.6 189.2a2.0 2.0 0 1 0 4.0 0a2.0 2.0 0 1 0 -4.0 0ZM863.0 200.0a1.8 1.8 0 1 0 3.6 0a1.8 1.8 0 1 0 -3.6 0ZM890.1 193.7a2.0 2.0 0 1 0 3.9 0a2.0 2.0 0 1 0 -3.9 0ZM891.0 201.9a2.0 2.0 0 1 0 4.0 0a2.0 2.0 0 1 0 -4.0 0ZM887.9 183.4a1.4 1.4 0 1 0 2.9 0a1.4 1.4 0 1 0 -2.9 0ZM921.5 185.9a1.6 1.6 0 1 0 3.3 0a1.6 1.6 0 1 0 -3.3 0ZM918.3 172.1a1.5 1.5 0 1 0 2.9 0a1.5 1.5 0 1 0 -2.9 0ZM981.5 173.0a2.1 2.1 0 1 0 4.1 0a2.1 2.1 0 1 0 -4.1 0ZM950.4 174.8a1.4 1.4 0 1 0 2.9 0a1.4 1.4 0 1 0 -2.9 0ZM1010.9 198.1a1.6 1.6 0 1 0 3.3 0a1.6 1.6 0 1 0 -3.3 0ZM1015.3 183.3a1.7 1.7 0 1 0 3.4 0a1.7 1.7 0 1 0 -3.4 0ZM743.8 210.6a2.0 2.0 0 1 0 4.0 0a2.0 2.0 0 1 0 -4.0 0ZM747.2 224.7a1.6 1.6 0 1 0 3.2 0a1.6 1.6 0 1 0 -3.2 0ZM789.2 209.5a2.1 2.1 0 1 0 4.2 0a2.1 2.1 0 1 0 -4.2 0ZM824.1 233.9a1.9 1.9 0 1 0 3.9 0a1.9 1.9 0 1 0 -3.9 0ZM846.6 215.8a1.4 1.4 0 1 0 2.9 0a1.4 1.4 0 1 0 -2.9 0ZM832.8 219.3a2.0 2.0 0 1 0 4.0 0a2.0 2.0 0 1 0 -4.0 0ZM836.6 241.9a1.5 1.5 0 1 0 3.0 0a1.5 1.5 0 1 0 -3.0 0ZM858.0 243.1a2.1 2.1 0 1 0 4.2 0a2.1 2.1 0 1 0 -4.2 0ZM834.6 222.7a1.5 1.5 0 1 0 3.0 0a1.5 1.5 0 1 0 -3.0 0ZM864.9 242.6a1.9 1.9 0 1 0 3.8 0a1.9 1.9 0 1 0 -3.8 0ZM845.9 240.1a1.5 1.5 0 1 0 3.0 0a1.5 1.5 0 1 0 -3.0 0ZM847.8 227.3a1.6 1.6 0 1 0 3.2 0a1.6 1.6 0 1 0 -3.2 0ZM855.1 239.7a1.5 1.5 0 1 0 3.0 0a1.5 1.5 0 1 0 -3.0 0ZM863.0 220.2a1.7 1.7 0 1 0 3.3 0a1.7 1.7 0 1 0 -3.3 0ZM832.0 209.4a1.8 1.8 0 1 0 3.6 0a1.8 1.8 0 1 0 -3.6 0ZM877.8 239.3a1.9 1.9 0 1 0 3.8 0a1.9 1.9 0 1 0 -3.8 0ZM905.8 244.0a1.8 1.8 0 1 0 3.6 0a1.8 1.8 0 1 0 -3.6 0ZM889.5 237.7a2.0 2.0 0 1 0 3.9 0a2.0 2.0 0 1 0 -3.9 0ZM903.0 218.2a1.7 1.7 0 1 0 3.4 0a1.7 1.7 0 1 0 -3.4 0ZM873.1 235.0a2.0 2.0 0 1 0 4.0 0a2.0 2.0 0 1 0 -4.0 0ZM921.5 216.6a1.5 1.5 0 1 0 3.1 0a1.5 1.5 0 1 0 -3.1 0ZM908.3 226.4a1.8 1.8 0 1 0 3.7 0a1.8 1.8 0 1 0 -3.7 0ZM910.2 230.5a1.6 1.6 0 1 0 3.3 0a1.6 1.6 0 1 0 -3.3 0ZM987.0 230.8a1.4 1.4 0 1 0 2.9 0a1.4 1.4 0 1 0 -2.9 0ZM1000.1 214.1a1.9 1.9 0 1 0 3.9 0a1.9 1.9 0 1 0 -3.9 0ZM1015.4 235.7a1.5 1.5 0 1 0 3.1 0a1.5 1.5 0 1 0 -3.1 0ZM1017.6 212.7a1.7 1.7 0 1 0 3.3 0a1.7 1.7 0 1 0 -3.3 0ZM735.9 249.6a1.8 1.8 0 1 0 3.7 0a1.8 1.8 0 1 0 -3.7 0ZM739.6 245.3a1.6 1.6 0 1 0 3.2 0a1.6 1.6 0 1 0 -3.2 0ZM778.2 253.9a1.4 1.4 0 1 0 2.9 0a1.4 1.4 0 1 0 -2.9 0ZM803.8 246.7a1.8 1.8 0 1 0 3.5 0a1.8 1.8 0 1 0 -3.5 0ZM828.9 267.2a1.4 1.4 0 1 0 2.9 0a1.4 1.4 0 1 0 -2.9 0ZM896.3 248.4a2.0 2.0 0 1 0 4.0 0a2.0 2.0 0 1 0 -4.0 0ZM875.2 275.6a1.8 1.8 0 1 0 3.6 0a1.8 1.8 0 1 0 -3.6 0ZM879.7 268.2a1.8 1.8 0 1 0 3.7 0a1.8 1.8 0 1 0 -3.7 0ZM915.9 252.6a1.4 1.4 0 1 0 2.8 0a1.4 1.4 0 1 0 -2.8 0ZM910.1 254.9a1.7 1.7 0 1 0 3.3 0a1.7 1.7 0 1 0 -3.3 0ZM980.3 260.4a1.6 1.6 0 1 0 3.2 0a1.6 1.6 0 1 0 -3.2 0ZM964.3 244.9a1.6 1.6 0 1 0 3.3 0a1.6 1.6 0 1 0 -3.3 0ZM987.8 278.7a1.4 1.4 0 1 0 2.9 0a1.4 1.4 0 1 0 -2.9 0ZM1010.3 277.4a1.7 1.7 0 1 0 3.3 0a1.7 1.7 0 1 0 -3.3 0ZM743.4 290.9a2.0 2.0 0 1 0 4.0 0a2.0 2.0 0 1 0 -4.0 0ZM735.1 299.0a1.7 1.7 0 1 0 3.3 0a1.7 1.7 0 1 0 -3.3 0ZM781.2 320.4a1.9 1.9 0 1 0 3.8 0a1.9 1.9 0 1 0 -3.8 0ZM795.5 312.8a2.1 2.1 0 1 0 4.2 0a2.1 2.1 0 1 0 -4.2 0ZM792.1 290.0a2.1 2.1 0 1 0 4.1 0a2.1 2.1 0 1 0 -4.1 0ZM857.8 293.4a1.7 1.7 0 1 0 3.4 0a1.7 1.7 0 1 0 -3.4 0ZM874.0 284.3a1.6 1.6 0 1 0 3.1 0a1.6 1.6 0 1 0 -3.1 0ZM881.4 302.8a1.5 1.5 0 1 0 2.9 0a1.5 1.5 0 1 0 -2.9 0ZM870.6 306.1a1.6 1.6 0 1 0 3.2 0a1.6 1.6 0 1 0 -3.2 0ZM918.6 301.7a2.1 2.1 0 1 0 4.2 0a2.1 2.1 0 1 0 -4.2 0ZM917.1 292.5a1.5 1.5 0 1 0 3.0 0a1.5 1.5 0 1 0 -3.0 0ZM957.4 291.6a2.0 2.0 0 1 0 4.0 0a2.0 2.0 0 1 0 -4.0 0ZM981.6 290.8a1.8 1.8 0 1 0 3.5 0a1.8 1.8 0 1 0 -3.5 0ZM981.6 299.1a1.6 1.6 0 1 0 3.1 0a1.6 1.6 0 1 0 -3.1 0ZM973.4 310.2a1.4 1.4 0 1 0 2.8 0a1.4 1.4 0 1 0 -2.8 0ZM1000.9 318.3a1.5 1.5 0 1 0 3.1 0a1.5 1.5 0 1 0 -3.1 0ZM748.7 358.4a1.8 1.8 0 1 0 3.6 0a1.8 1.8 0 1 0 -3.6 0ZM733.4 361.2a1.4 1.4 0 1 0 2.9 0a1.4 1.4 0 1 0 -2.9 0ZM779.6 346.3a1.5 1.5 0 1 0 3.0 0a1.5 1.5 0 1 0 -3.0 0ZM763.4 352.0a2.1 2.1 0 1 0 4.1 0a2.1 2.1 0 1 0 -4.1 0ZM755.2 346.3a2.0 2.0 0 1 0 4.1 0a2.0 2.0 0 1 0 -4.1 0ZM777.3 324.1a2.1 2.1 0 1 0 4.1 0a2.1 2.1 0 1 0 -4.1 0ZM791.2 340.3a1.7 1.7 0 1 0 3.4 0a1.7 1.7 0 1 0 -3.4 0ZM803.8 360.0a1.7 1.7 0 1 0 3.4 0a1.7 1.7 0 1 0 -3.4 0ZM838.2 340.5a2.0 2.0 0 1 0 4.1 0a2.0 2.0 0 1 0 -4.1 0ZM905.4 332.0a1.9 1.9 0 1 0 3.8 0a1.9 1.9 0 1 0 -3.8 0ZM893.7 339.3a1.8 1.8 0 1 0 3.6 0a1.8 1.8 0 1 0 -3.6 0ZM929.4 346.1a1.9 1.9 0 1 0 3.8 0a1.9 1.9 0 1 0 -3.8 0ZM923.0 346.6a1.9 1.9 0 1 0 3.9 0a1.9 1.9 0 1 0 -3.9 0ZM959.8 335.5a1.9 1.9 0 1 0 3.9 0a1.9 1.9 0 1 0 -3.9 0ZM985.9 345.8a2.1 2.1 0 1 0 4.1 0a2.1 2.1 0 1 0 -4.1 0ZM1017.8 359.1a1.6 1.6 0 1 0 3.3 0a1.6 1.6 0 1 0 -3.3 0ZM733.9 377.6a1.9 1.9 0 1 0 3.7 0a1.9 1.9 0 1 0 -3.7 0ZM776.5 400.5a1.6 1.6 0 1 0 3.3 0a1.6 1.6 0 1 0 -3.3 0ZM789.8 401.7a1.7 1.7 0 1 0 3.4 0a1.7 1.7 0 1 0 -3.4 0ZM920.2 392.5a1.5 1.5 0 1 0 3.0 0a1.5 1.5 0 1 0 -3.0 0ZM941.4 365.6a2.1 2.1 0 1 0 4.1 0a2.1 2.1 0 1 0 -4.1 0ZM997.7 392.5a1.6 1.6 0 1 0 3.2 0a1.6 1.6 0 1 0 -3.2 0Z"/><path fill="rgb(150,22,15)" d="M758.4 347.0a1.2 1.2 0 1 0 2.3 0a1.2 1.2 0 1 0 -2.3 0ZM755.4 351.8a0.9 0.9 0 1 0 1.8 0a0.9 0.9 0 1 0 -1.8 0ZM768.6 342.8a0.9 0.9 0 1 0 1.9 0a0.9 0.9 0 1 0 -1.9 0ZM763.6 350.8a1.4 1.4 0 1 0 2.9 0a1.4 1.4 0 1 0 -2.9 0ZM774.5 350.2a1.3 1.3 0 1 0 2.6 0a1.3 1.3 0 1 0 -2.6 0ZM775.6 349.1a1.4 1.4 0 1 0 2.7 0a1.4 1.4 0 1 0 -2.7 0ZM767.8 338.8a1.0 1.0 0 1 0 2.0 0a1.0 1.0 0 1 0 -2.0 0ZM754.1 343.0a1.4 1.4 0 1 0 2.8 0a1.4 1.4 0 1 0 -2.8 0ZM774.0 346.5a0.8 0.8 0 1 0 1.7 0a0.8 0.8 0 1 0 -1.7 0ZM772.1 348.0a1.0 1.0 0 1 0 2.0 0a1.0 1.0 0 1 0 -2.0 0ZM770.2 342.7a1.3 1.3 0 1 0 2.5 0a1.3 1.3 0 1 0 -2.5 0ZM756.0 355.8a1.2 1.2 0 1 0 2.5 0a1.2 1.2 0 1 0 -2.5 0ZM761.7 345.0a1.4 1.4 0 1 0 2.7 0a1.4 1.4 0 1 0 -2.7 0ZM770.8 352.1a1.2 1.2 0 1 0 2.4 0a1.2 1.2 0 1 0 -2.4 0ZM770.2 350.7a0.9 0.9 0 1 0 1.8 0a0.9 0.9 0 1 0 -1.8 0ZM756.9 336.2a1.3 1.3 0 1 0 2.6 0a1.3 1.3 0 1 0 -2.6 0ZM767.0 347.0a0.9 0.9 0 1 0 1.8 0a0.9 0.9 0 1 0 -1.8 0ZM768.3 347.0a1.1 1.1 0 1 0 2.2 0a1.1 1.1 0 1 0 -2.2 0ZM759.3 338.3a1.1 1.1 0 1 0 2.1 0a1.1 1.1 0 1 0 -2.1 0ZM771.8 341.1a1.1 1.1 0 1 0 2.2 0a1.1 1.1 0 1 0 -2.2 0ZM769.1 356.5a1.4 1.4 0 1 0 2.7 0a1.4 1.4 0 1 0 -2.7 0ZM768.2 354.2a0.9 0.9 0 1 0 1.7 0a0.9 0.9 0 1 0 -1.7 0ZM763.5 348.0a0.9 0.9 0 1 0 1.8 0a0.9 0.9 0 1 0 -1.8 0ZM778.4 352.7a0.8 0.8 0 1 0 1.6 0a0.8 0.8 0 1 0 -1.6 0ZM762.2 352.7a0.9 0.9 0 1 0 1.8 0a0.9 0.9 0 1 0 -1.8 0ZM764.2 345.9a1.2 1.2 0 1 0 2.5 0a1.2 1.2 0 1 0 -2.5 0ZM766.9 352.7a0.8 0.8 0 1 0 1.7 0a0.8 0.8 0 1 0 -1.7 0ZM770.1 352.5a1.0 1.0 0 1 0 2.1 0a1.0 1.0 0 1 0 -2.1 0ZM764.8 354.4a0.9 0.9 0 1 0 1.9 0a0.9 0.9 0 1 0 -1.9 0ZM762.9 350.8a1.1 1.1 0 1 0 2.2 0a1.1 1.1 0 1 0 -2.2 0ZM771.0 348.7a0.8 0.8 0 1 0 1.6 0a0.8 0.8 0 1 0 -1.6 0ZM768.9 357.0a1.3 1.3 0 1 0 2.7 0a1.3 1.3 0 1 0 -2.7 0ZM763.7 349.9a1.0 1.0 0 1 0 1.9 0a1.0 1.0 0 1 0 -1.9 0ZM768.3 346.6a1.1 1.1 0 1 0 2.1 0a1.1 1.1 0 1 0 -2.1 0ZM767.4 353.6a1.2 1.2 0 1 0 2.5 0a1.2 1.2 0 1 0 -2.5 0ZM765.7 343.8a1.3 1.3 0 1 0 2.5 0a1.3 1.3 0 1 0 -2.5 0ZM766.2 348.9a1.4 1.4 0 1 0 2.9 0a1.4 1.4 0 1 0 -2.9 0ZM769.5 348.5a1.5 1.5 0 1 0 3.0 0a1.5 1.5 0 1 0 -3.0 0ZM765.9 349.9a1.0 1.0 0 1 0 2.1 0a1.0 1.0 0 1 0 -2.1 0ZM763.7 343.9a1.4 1.4 0 1 0 2.7 0a1.4 1.4 0 1 0 -2.7 0Z"/></g>
<radialGradient id="hz2" cx="0.5" cy="0.5" r="0.5"><stop offset="0" stop-color="rgb(22,2,1)"/><stop offset="1" stop-color="rgb(0,0,0)" stop-opacity="0"/></radialGradient>
<g clip-path="url(#cp1)"><ellipse cx="641.0" cy="261.0" rx="140" ry="150" fill="url(#hz2)"/><g filter="url(#bl3)"><path fill="rgb(45,6,4)" d="M686.4 204.7a1.2 1.2 0 1 0 2.5 0a1.2 1.2 0 1 0 -2.5 0ZM606.7 222.2a1.3 1.3 0 1 0 2.6 0a1.3 1.3 0 1 0 -2.6 0ZM667.0 348.9a1.4 1.4 0 1 0 2.7 0a1.4 1.4 0 1 0 -2.7 0ZM624.7 224.7a0.8 0.8 0 1 0 1.7 0a0.8 0.8 0 1 0 -1.7 0ZM676.7 338.0a1.3 1.3 0 1 0 2.5 0a1.3 1.3 0 1 0 -2.5 0ZM620.9 104.0a0.8 0.8 0 1 0 1.6 0a0.8 0.8 0 1 0 -1.6 0ZM698.2 334.1a1.3 1.3 0 1 0 2.7 0a1.3 1.3 0 1 0 -2.7 0ZM676.8 261.8a0.9 0.9 0 1 0 1.8 0a0.9 0.9 0 1 0 -1.8 0ZM641.2 157.0a1.0 1.0 0 1 0 1.9 0a1.0 1.0 0 1 0 -1.9 0ZM700.9 212.4a1.4 1.4 0 1 0 2.7 0a1.4 1.4 0 1 0 -2.7 0ZM560.3 222.0a0.8 0.8 0 1 0 1.7 0a0.8 0.8 0 1 0 -1.7 0ZM621.3 339.9a1.3 1.3 0 1 0 2.6 0a1.3 1.3 0 1 0 -2.6 0ZM679.2 303.4a1.1 1.1 0 1 0 2.2 0a1.1 1.1 0 1 0 -2.2 0ZM675.9 212.8a1.1 1.1 0 1 0 2.2 0a1.1 1.1 0 1 0 -2.2 0ZM670.9 123.2a1.1 1.1 0 1 0 2.1 0a1.1 1.1 0 1 0 -2.1 0ZM599.2 306.0a1.0 1.0 0 1 0 2.0 0a1.0 1.0 0 1 0 -2.0 0ZM668.1 264.0a1.4 1.4 0 1 0 2.7 0a1.4 1.4 0 1 0 -2.7 0ZM683.2 304.5a1.3 1.3 0 1 0 2.7 0a1.3 1.3 0 1 0 -2.7 0ZM616.1 184.0a1.3 1.3 0 1 0 2.6 0a1.3 1.3 0 1 0 -2.6 0ZM681.7 303.2a1.3 1.3 0 1 0 2.7 0a1.3 1.3 0 1 0 -2.7 0ZM651.5 280.1a0.9 0.9 0 1 0 1.9 0a0.9 0.9 0 1 0 -1.9 0ZM632.3 202.3a0.8 0.8 0 1 0 1.6 0a0.8 0.8 0 1 0 -1.6 0ZM576.8 306.3a0.9 0.9 0 1 0 1.7 0a0.9 0.9 0 1 0 -1.7 0ZM644.1 190.8a0.7 0.7 0 1 0 1.4 0a0.7 0.7 0 1 0 -1.4 0ZM685.8 272.9a0.9 0.9 0 1 0 1.7 0a0.9 0.9 0 1 0 -1.7 0ZM551.1 366.6a1.2 1.2 0 1 0 2.5 0a1.2 1.2 0 1 0 -2.5 0ZM603.3 183.8a1.2 1.2 0 1 0 2.5 0a1.2 1.2 0 1 0 -2.5 0ZM638.7 301.9a1.4 1.4 0 1 0 2.8 0a1.4 1.4 0 1 0 -2.8 0ZM701.1 316.9a0.9 0.9 0 1 0 1.8 0a0.9 0.9 0 1 0 -1.8 0ZM701.7 322.6a0.8 0.8 0 1 0 1.6 0a0.8 0.8 0 1 0 -1.6 0ZM648.7 310.6a1.3 1.3 0 1 0 2.6 0a1.3 1.3 0 1 0 -2.6 0ZM660.3 373.5a1.0 1.0 0 1 0 2.0 0a1.0 1.0 0 1 0 -2.0 0ZM638.8 374.1a1.3 1.3 0 1 0 2.5 0a1.3 1.3 0 1 0 -2.5 0ZM609.9 328.0a1.3 1.3 0 1 0 2.6 0a1.3 1.3 0 1 0 -2.6 0ZM657.7 272.0a1.2 1.2 0 1 0 2.4 0a1.2 1.2 0 1 0 -2.4 0ZM635.2 292.5a1.2 1.2 0 1 0 2.4 0a1.2 1.2 0 1 0 -2.4 0ZM686.3 309.4a1.3 1.3 0 1 0 2.6 0a1.3 1.3 0 1 0 -2.6 0ZM669.6 348.4a1.2 1.2 0 1 0 2.3 0a1.2 1.2 0 1 0 -2.3 0ZM694.8 247.6a0.8 0.8 0 1 0 1.6 0a0.8 0.8 0 1 0 -1.6 0ZM669.8 323.3a1.2 1.2 0 1 0 2.4 0a1.2 1.2 0 1 0 -2.4 0ZM604.8 349.1a1.1 1.1 0 1 0 2.1 0a1.1 1.1 0 1 0 -2.1 0Z"/><path fill="rgb(65,8,5)" d="M673.8 249.6a0.8 0.8 0 1 0 1.6 0a0.8 0.8 0 1 0 -1.6 0ZM650.8 199.6a1.2 1.2 0 1 0 2.3 0a1.2 1.2 0 1 0 -2.3 0ZM606.6 201.1a1.0 1.0 0 1 0 2.0 0a1.0 1.0 0 1 0 -2.0 0ZM618.1 168.0a0.8 0.8 0 1 0 1.5 0a0.8 0.8 0 1 0 -1.5 0ZM695.5 315.9a0.7 0.7 0 1 0 1.5 0a0.7 0.7 0 1 0 -1.5 0ZM672.9 207.9a1.1 1.1 0 1 0 2.3 0a1.1 1.1 0 1 0 -2.3 0ZM700.9 204.8a0.8 0.8 0 1 0 1.6 0a0.8 0.8 0 1 0 -1.6 0ZM687.5 161.1a1.2 1.2 0 1 0 2.5 0a1.2 1.2 0 1 0 -2.5 0ZM648.2 302.5a0.7 0.7 0 1 0 1.5 0a0.7 0.7 0 1 0 -1.5 0ZM692.5 182.9a1.0 1.0 0 1 0 1.9 0a1.0 1.0 0 1 0 -1.9 0ZM678.3 294.1a1.3 1.3 0 1 0 2.7 0a1.3 1.3 0 1 0 -2.7 0ZM695.6 299.6a1.4 1.4 0 1 0 2.7 0a1.4 1.4 0 1 0 -2.7 0ZM644.9 256.1a0.8 0.8 0 1 0 1.6 0a0.8 0.8 0 1 0 -1.6 0ZM576.4 279.3a0.9 0.9 0 1 0 1.8 0a0.9 0.9 0 1 0 -1.8 0ZM657.5 352.3a1.1 1.1 0 1 0 2.2 0a1.1 1.1 0 1 0 -2.2 0ZM566.3 347.6a1.1 1.1 0 1 0 2.2 0a1.1 1.1 0 1 0 -2.2 0ZM645.1 285.9a0.8 0.8 0 1 0 1.5 0a0.8 0.8 0 1 0 -1.5 0ZM689.6 128.3a1.2 1.2 0 1 0 2.4 0a1.2 1.2 0 1 0 -2.4 0ZM689.7 212.6a0.7 0.7 0 1 0 1.4 0a0.7 0.7 0 1 0 -1.4 0ZM672.0 359.1a0.9 0.9 0 1 0 1.9 0a0.9 0.9 0 1 0 -1.9 0ZM624.6 372.8a1.3 1.3 0 1 0 2.5 0a1.3 1.3 0 1 0 -2.5 0ZM623.2 221.7a1.1 1.1 0 1 0 2.1 0a1.1 1.1 0 1 0 -2.1 0ZM684.0 277.9a1.3 1.3 0 1 0 2.6 0a1.3 1.3 0 1 0 -2.6 0ZM698.0 398.1a1.2 1.2 0 1 0 2.3 0a1.2 1.2 0 1 0 -2.3 0ZM664.8 249.7a1.0 1.0 0 1 0 2.1 0a1.0 1.0 0 1 0 -2.1 0ZM672.5 240.6a1.4 1.4 0 1 0 2.7 0a1.4 1.4 0 1 0 -2.7 0ZM561.3 263.9a1.2 1.2 0 1 0 2.4 0a1.2 1.2 0 1 0 -2.4 0ZM684.6 248.9a1.3 1.3 0 1 0 2.7 0a1.3 1.3 0 1 0 -2.7 0ZM634.3 159.2a1.4 1.4 0 1 0 2.8 0a1.4 1.4 0 1 0 -2.8 0ZM655.4 268.3a1.1 1.1 0 1 0 2.2 0a1.1 1.1 0 1 0 -2.2 0ZM695.1 307.5a0.9 0.9 0 1 0 1.8 0a0.9 0.9 0 1 0 -1.8 0ZM658.9 309.7a0.9 0.9 0 1 0 1.7 0a0.9 0.9 0 1 0 -1.7 0ZM618.7 220.7a1.3 1.3 0 1 0 2.6 0a1.3 1.3 0 1 0 -2.6 0ZM701.5 261.8a0.8 0.8 0 1 0 1.7 0a0.8 0.8 0 1 0 -1.7 0ZM696.5 195.8a1.3 1.3 0 1 0 2.5 0a1.3 1.3 0 1 0 -2.5 0ZM662.3 248.5a1.4 1.4 0 1 0 2.8 0a1.4 1.4 0 1 0 -2.8 0ZM657.1 201.8a1.4 1.4 0 1 0 2.8 0a1.4 1.4 0 1 0 -2.8 0ZM661.1 281.4a1.4 1.4 0 1 0 2.8 0a1.4 1.4 0 1 0 -2.8 0ZM684.0 220.2a1.1 1.1 0 1 0 2.2 0a1.1 1.1 0 1 0 -2.2 0ZM644.3 179.0a1.2 1.2 0 1 0 2.5 0a1.2 1.2 0 1 0 -2.5 0ZM624.2 308.7a1.4 1.4 0 1 0 2.7 0a1.4 1.4 0 1 0 -2.7 0ZM554.0 331.4a1.0 1.0 0 1 0 2.0 0a1.0 1.0 0 1 0 -2.0 0ZM609.6 255.9a1.3 1.3 0 1 0 2.6 0a1.3 1.3 0 1 0 -2.6 0ZM690.7 335.7a1.4 1.4 0 1 0 2.7 0a1.4 1.4 0 1 0 -2.7 0ZM641.8 351.6a1.2 1.2 0 1 0 2.3 0a1.2 1.2 0 1 0 -2.3 0ZM621.7 376.3a1.2 1.2 0 1 0 2.4 0a1.2 1.2 0 1 0 -2.4 0ZM644.7 327.3a1.0 1.0 0 1 0 2.0 0a1.0 1.0 0 1 0 -2.0 0ZM667.0 239.6a0.7 0.7 0 1 0 1.4 0a0.7 0.7 0 1 0 -1.4 0ZM699.2 230.5a0.9 0.9 0 1 0 1.8 0a0.9 0.9 0 1 0 -1.8 0Z"/><path fill="rgb(90,12,8)" d="M677.0 169.5a1.3 1.3 0 1 0 2.6 0a1.3 1.3 0 1 0 -2.6 0ZM689.0 237.2a1.2 1.2 0 1 0 2.3 0a1.2 1.2 0 1 0 -2.3 0ZM640.1 246.1a1.1 1.1 0 1 0 2.2 0a1.1 1.1 0 1 0 -2.2 0ZM685.1 163.4a1.1 1.1 0 1 0 2.3 0a1.1 1.1 0 1 0 -2.3 0ZM617.6 339.3a0.9 0.9 0 1 0 1.9 0a0.9 0.9 0 1 0 -1.9 0ZM666.9 291.8a1.3 1.3 0 1 0 2.6 0a1.3 1.3 0 1 0 -2.6 0ZM686.5 228.9a0.9 0.9 0 1 0 1.9 0a0.9 0.9 0 1 0 -1.9 0ZM651.8 285.8a0.9 0.9 0 1 0 1.8 0a0.9 0.9 0 1 0 -1.8 0ZM686.6 209.2a1.3 1.3 0 1 0 2.6 0a1.3 1.3 0 1 0 -2.6 0ZM651.6 350.8a1.4 1.4 0 1 0 2.8 0a1.4 1.4 0 1 0 -2.8 0ZM605.5 257.6a0.8 0.8 0 1 0 1.7 0a0.8 0.8 0 1 0 -1.7 0ZM564.6 271.5a0.8 0.8 0 1 0 1.6 0a0.8 0.8 0 1 0 -1.6 0ZM546.6 291.4a0.9 0.9 0 1 0 1.8 0a0.9 0.9 0 1 0 -1.8 0ZM696.3 206.0a0.8 0.8 0 1 0 1.6 0a0.8 0.8 0 1 0 -1.6 0ZM683.4 309.2a1.1 1.1 0 1 0 2.1 0a1.1 1.1 0 1 0 -2.1 0ZM551.9 368.4a1.2 1.2 0 1 0 2.4 0a1.2 1.2 0 1 0 -2.4 0ZM626.2 298.1a0.9 0.9 0 1 0 1.7 0a0.9 0.9 0 1 0 -1.7 0ZM694.3 183.0a1.2 1.2 0 1 0 2.4 0a1.2 1.2 0 1 0 -2.4 0ZM586.9 321.5a1.1 1.1 0 1 0 2.2 0a1.1 1.1 0 1 0 -2.2 0ZM620.7 146.4a1.1 1.1 0 1 0 2.2 0a1.1 1.1 0 1 0 -2.2 0ZM662.9 265.8a1.2 1.2 0 1 0 2.5 0a1.2 1.2 0 1 0 -2.5 0ZM655.1 250.1a0.8 0.8 0 1 0 1.6 0a0.8 0.8 0 1 0 -1.6 0ZM659.6 341.2a1.1 1.1 0 1 0 2.1 0a1.1 1.1 0 1 0 -2.1 0ZM612.1 186.3a0.8 0.8 0 1 0 1.6 0a0.8 0.8 0 1 0 -1.6 0ZM642.2 241.6a1.4 1.4 0 1 0 2.7 0a1.4 1.4 0 1 0 -2.7 0ZM682.0 283.1a1.0 1.0 0 1 0 2.0 0a1.0 1.0 0 1 0 -2.0 0ZM669.0 269.4a1.1 1.1 0 1 0 2.2 0a1.1 1.1 0 1 0 -2.2 0ZM699.5 344.4a1.0 1.0 0 1 0 2.0 0a1.0 1.0 0 1 0 -2.0 0ZM693.6 260.8a0.8 0.8 0 1 0 1.6 0a0.8 0.8 0 1 0 -1.6 0ZM633.6 208.1a1.2 1.2 0 1 0 2.3 0a1.2 1.2 0 1 0 -2.3 0ZM675.2 384.4a0.9 0.9 0 1 0 1.9 0a0.9 0.9 0 1 0 -1.9 0ZM622.1 191.1a1.3 1.3 0 1 0 2.7 0a1.3 1.3 0 1 0 -2.7 0ZM518.9 260.1a1.4 1.4 0 1 0 2.7 0a1.4 1.4 0 1 0 -2.7 0ZM640.1 315.6a1.0 1.0 0 1 0 2.0 0a1.0 1.0 0 1 0 -2.0 0ZM605.8 346.0a0.9 0.9 0 1 0 1.8 0a0.9 0.9 0 1 0 -1.8 0ZM628.4 283.7a1.1 1.1 0 1 0 2.3 0a1.1 1.1 0 1 0 -2.3 0ZM562.0 193.2a1.2 1.2 0 1 0 2.4 0a1.2 1.2 0 1 0 -2.4 0ZM632.2 350.9a0.9 0.9 0 1 0 1.8 0a0.9 0.9 0 1 0 -1.8 0ZM700.9 331.3a0.8 0.8 0 1 0 1.6 0a0.8 0.8 0 1 0 -1.6 0ZM602.3 301.1a1.1 1.1 0 1 0 2.2 0a1.1 1.1 0 1 0 -2.2 0ZM677.5 184.4a0.8 0.8 0 1 0 1.6 0a0.8 0.8 0 1 0 -1.6 0ZM687.6 215.8a1.3 1.3 0 1 0 2.6 0a1.3 1.3 0 1 0 -2.6 0ZM699.7 159.7a0.9 0.9 0 1 0 1.8 0a0.9 0.9 0 1 0 -1.8 0ZM553.8 369.9a0.7 0.7 0 1 0 1.4 0a0.7 0.7 0 1 0 -1.4 0Z"/></g></g>
<g clip-path="url(#cp5)" filter="url(#bl3)"><circle cx="1840.0" cy="300.6" r="1.3" fill="rgb(10,58,20)"/><circle cx="1788.8" cy="247.3" r="0.8" fill="rgb(10,49,20)"/><circle cx="1747.9" cy="391.5" r="1.1" fill="rgb(10,43,20)"/><circle cx="2016.7" cy="222.8" r="1.2" fill="rgb(10,65,20)"/><circle cx="1896.4" cy="210.2" r="1.4" fill="rgb(10,45,20)"/><circle cx="1778.9" cy="313.2" r="1.2" fill="rgb(10,69,20)"/><circle cx="1903.8" cy="369.7" r="0.8" fill="rgb(10,35,20)"/><circle cx="1842.0" cy="350.1" r="1.2" fill="rgb(10,56,20)"/><circle cx="1845.9" cy="195.3" r="1.1" fill="rgb(10,44,20)"/><circle cx="1742.4" cy="300.1" r="1.0" fill="rgb(10,67,20)"/><circle cx="1917.7" cy="135.3" r="1.0" fill="rgb(10,41,20)"/><circle cx="1969.8" cy="166.1" r="1.2" fill="rgb(10,50,20)"/><circle cx="1847.4" cy="360.2" r="1.2" fill="rgb(10,45,20)"/><circle cx="1785.0" cy="180.4" r="1.0" fill="rgb(10,58,20)"/><circle cx="1966.3" cy="274.9" r="1.4" fill="rgb(10,61,20)"/><circle cx="1912.5" cy="145.7" r="1.3" fill="rgb(10,35,20)"/><circle cx="1881.8" cy="136.9" r="1.4" fill="rgb(10,58,20)"/><circle cx="1835.8" cy="271.0" r="1.4" fill="rgb(10,52,20)"/><circle cx="1811.6" cy="121.7" r="1.5" fill="rgb(10,38,20)"/><circle cx="1793.8" cy="332.9" r="0.8" fill="rgb(10,40,20)"/><circle cx="1848.6" cy="133.8" r="0.8" fill="rgb(10,62,20)"/><circle cx="1785.7" cy="375.2" r="0.8" fill="rgb(10,44,20)"/><circle cx="1911.7" cy="117.6" r="1.2" fill="rgb(10,52,20)"/><circle cx="1920.9" cy="379.1" r="1.1" fill="rgb(10,66,20)"/><circle cx="1800.1" cy="292.9" r="1.1" fill="rgb(10,62,20)"/><circle cx="1895.8" cy="356.2" r="0.9" fill="rgb(10,44,20)"/><circle cx="1903.3" cy="286.9" r="1.1" fill="rgb(10,63,20)"/><circle cx="1850.8" cy="381.5" r="1.5" fill="rgb(10,36,20)"/><circle cx="1934.0" cy="358.3" r="0.8" fill="rgb(10,60,20)"/><circle cx="1915.4" cy="249.7" r="1.0" fill="rgb(10,60,20)"/><circle cx="1800.7" cy="143.8" r="1.1" fill="rgb(10,69,20)"/><circle cx="1859.5" cy="131.3" r="1.1" fill="rgb(10,61,20)"/><circle cx="1928.6" cy="313.3" r="1.5" fill="rgb(10,45,20)"/><circle cx="1840.9" cy="357.4" r="1.1" fill="rgb(10,52,20)"/><circle cx="1994.7" cy="285.2" r="1.5" fill="rgb(10,35,20)"/><circle cx="1927.1" cy="247.5" r="1.1" fill="rgb(10,45,20)"/><circle cx="1850.2" cy="344.8" r="1.2" fill="rgb(10,42,20)"/><circle cx="1950.6" cy="345.4" r="1.1" fill="rgb(10,39,20)"/><circle cx="1966.6" cy="304.7" r="1.4" fill="rgb(10,35,20)"/><circle cx="1768.9" cy="392.0" r="1.2" fill="rgb(10,44,20)"/><circle cx="1746.7" cy="236.5" r="1.1" fill="rgb(10,40,20)"/><circle cx="1932.8" cy="142.9" r="1.6" fill="rgb(10,43,20)"/><circle cx="2012.3" cy="198.3" r="1.0" fill="rgb(10,61,20)"/><circle cx="1891.0" cy="130.4" r="1.5" fill="rgb(10,54,20)"/><circle cx="1911.0" cy="205.6" r="1.5" fill="rgb(10,56,20)"/><circle cx="1754.3" cy="366.1" r="1.3" fill="rgb(10,44,20)"/><circle cx="1744.1" cy="99.2" r="0.9" fill="rgb(10,43,20)"/><circle cx="1898.1" cy="157.4" r="1.4" fill="rgb(10,53,20)"/><circle cx="1866.6" cy="221.9" r="1.0" fill="rgb(10,53,20)"/><circle cx="1804.7" cy="188.3" r="1.2" fill="rgb(10,57,20)"/><circle cx="1834.7" cy="314.3" r="1.1" fill="rgb(10,67,20)"/><circle cx="1778.1" cy="268.9" r="1.1" fill="rgb(10,50,20)"/><circle cx="1767.6" cy="193.0" r="1.0" fill="rgb(10,58,20)"/><circle cx="1976.4" cy="334.7" r="1.5" fill="rgb(10,48,20)"/><circle cx="1933.5" cy="388.6" r="1.2" fill="rgb(10,53,20)"/><circle cx="1938.5" cy="95.6" r="1.5" fill="rgb(10,49,20)"/><circle cx="1970.0" cy="128.0" r="1.2" fill="rgb(10,54,20)"/><circle cx="1975.6" cy="274.9" r="1.3" fill="rgb(10,67,20)"/><circle cx="1816.7" cy="228.0" r="1.5" fill="rgb(10,50,20)"/><circle cx="1918.3" cy="246.0" r="1.6" fill="rgb(10,58,20)"/><circle cx="1975.6" cy="96.1" r="1.1" fill="rgb(10,61,20)"/><circle cx="1784.2" cy="332.7" r="1.5" fill="rgb(10,61,20)"/><circle cx="1959.8" cy="173.1" r="0.9" fill="rgb(10,67,20)"/><circle cx="1864.5" cy="371.3" r="1.3" fill="rgb(10,67,20)"/><circle cx="1739.0" cy="339.1" r="1.4" fill="rgb(10,54,20)"/><circle cx="1782.5" cy="150.4" r="1.5" fill="rgb(10,48,20)"/><circle cx="1969.2" cy="394.9" r="1.0" fill="rgb(10,37,20)"/><circle cx="1742.2" cy="222.5" r="1.5" fill="rgb(10,62,20)"/><circle cx="1917.9" cy="86.9" r="1.0" fill="rgb(10,40,20)"/><circle cx="1780.5" cy="128.0" r="0.8" fill="rgb(10,52,20)"/></g>
<g clip-path="url(#cp0)"><circle cx="168.6" cy="197.6" r="1.2" fill="rgb(38,5,5)"/><circle cx="310.9" cy="177.8" r="1.2" fill="rgb(34,5,5)"/><circle cx="149.9" cy="164.8" r="1.2" fill="rgb(40,5,5)"/><circle cx="180.6" cy="158.0" r="1.2" fill="rgb(48,5,5)"/><circle cx="109.6" cy="373.7" r="1.2" fill="rgb(56,5,5)"/><circle cx="216.7" cy="317.2" r="1.2" fill="rgb(36,5,5)"/><circle cx="152.7" cy="373.5" r="1.2" fill="rgb(44,5,5)"/><circle cx="294.9" cy="343.1" r="1.2" fill="rgb(51,5,5)"/><circle cx="203.8" cy="206.1" r="1.2" fill="rgb(31,5,5)"/><circle cx="334.2" cy="305.3" r="1.2" fill="rgb(31,5,5)"/><circle cx="324.4" cy="176.1" r="1.2" fill="rgb(55,5,5)"/><circle cx="107.9" cy="93.0" r="1.2" fill="rgb(55,5,5)"/><circle cx="342.0" cy="242.1" r="1.2" fill="rgb(57,5,5)"/><circle cx="88.8" cy="133.5" r="1.2" fill="rgb(59,5,5)"/><circle cx="357.9" cy="305.9" r="1.2" fill="rgb(40,5,5)"/><circle cx="286.5" cy="86.1" r="1.2" fill="rgb(40,5,5)"/><circle cx="330.2" cy="158.3" r="1.2" fill="rgb(33,5,5)"/><circle cx="216.0" cy="299.2" r="1.2" fill="rgb(39,5,5)"/><circle cx="319.4" cy="373.1" r="1.2" fill="rgb(36,5,5)"/><circle cx="182.3" cy="350.3" r="1.2" fill="rgb(45,5,5)"/><circle cx="296.9" cy="185.1" r="1.2" fill="rgb(54,5,5)"/><circle cx="324.7" cy="331.3" r="1.2" fill="rgb(56,5,5)"/><circle cx="184.3" cy="249.4" r="1.2" fill="rgb(54,5,5)"/><circle cx="289.3" cy="255.8" r="1.2" fill="rgb(31,5,5)"/><circle cx="129.3" cy="229.6" r="1.2" fill="rgb(52,5,5)"/></g>
<rect x="254" y="385" width="112.00" height="3.30" fill="#fff"/>
<rect x="579.8" y="385.1" width="112.20" height="3.30" fill="#fff"/>
<rect x="904.9" y="385.8" width="111.90" height="3.70" fill="#fff"/>
<rect x="1273" y="385.1" width="112.00" height="2.90" fill="#fff"/>
<rect x="1598.9" y="385" width="112.10" height="3.00" fill="#fff"/>
<rect x="1924.1" y="385.8" width="111.90" height="3.30" fill="#fff"/>
<line x1="126.70" y1="554.84" x2="651.80" y2="554.84" stroke="#1f5585" stroke-width="3.3" stroke-dasharray="5.0 9.5" stroke-dashoffset="-4.0" stroke-linecap="round"/>
<path d="M124.70,658.21 L127.35,658.54 L130.00,658.89 L132.65,659.25 L135.29,659.65 L137.94,660.06 L140.59,660.51 L143.24,660.98 L145.89,661.48 L148.54,662.01 L151.19,662.58 L153.84,663.18 L156.48,663.82 L159.13,664.49 L161.78,665.21 L164.43,665.97 L167.08,666.78 L169.73,667.63 L172.38,668.53 L175.03,669.49 L177.67,670.50 L180.32,671.58 L182.97,672.71 L185.62,673.90 L188.27,675.17 L190.92,676.50 L193.57,677.90 L196.22,679.38 L198.86,680.94 L201.51,682.58 L204.16,684.30 L206.81,686.11 L209.46,688.00 L212.11,689.99 L214.76,692.07 L217.41,694.25 L220.05,696.53 L222.70,698.90 L225.35,701.38 L228.00,703.96 L230.65,706.63 L233.30,709.42 L235.95,712.30 L238.60,715.29 L241.24,718.38 L243.89,721.57 L246.54,724.85 L249.19,728.23 L251.84,731.70 L254.49,735.26 L257.14,738.90 L259.79,742.62 L262.43,746.41 L265.08,750.27 L267.73,754.19 L270.38,758.17 L273.03,762.19 L275.68,766.25 L278.33,770.34 L280.98,774.45 L283.62,778.57 L286.27,782.70 L288.92,786.83 L291.57,790.94 L294.22,795.04 L296.87,799.10 L299.52,803.13 L302.17,807.11 L304.81,811.04 L307.46,814.91 L310.11,818.72 L312.76,822.45 L315.41,826.11 L318.06,829.68 L320.71,833.17 L323.36,836.56 L326.00,839.87 L328.65,843.07 L331.30,846.18 L333.95,849.18 L336.60,852.09 L339.25,854.89 L341.90,857.59 L344.55,860.18 L347.19,862.67 L349.84,865.07 L352.49,867.36 L355.14,869.56 L357.79,871.65 L360.44,873.66 L363.09,875.57 L365.74,877.40 L368.38,879.13 L371.03,880.79 L373.68,882.36 L376.33,883.85 L378.98,885.27 L381.63,886.61 L384.28,887.89 L386.93,889.09 L389.57,890.24 L392.22,891.32 L394.87,892.34 L397.52,893.31 L400.17,894.22 L402.82,895.09 L405.47,895.90 L408.12,896.67 L410.76,897.39 L413.41,898.08 L416.06,898.72 L418.71,899.33 L421.36,899.90 L424.01,900.44 L426.66,900.94 L429.31,901.42 L431.95,901.87 L434.60,902.29 L437.25,902.69 L439.90,903.06 L442.55,903.41 L445.20,903.74 L447.85,904.05 L450.50,904.34 L453.14,904.62 L455.79,904.87 L458.44,905.11 L461.09,905.34 L463.74,905.55 L466.39,905.75 L469.04,905.94 L471.69,906.12 L474.33,906.28 L476.98,906.44 L479.63,906.58 L482.28,906.72 L484.93,906.85 L487.58,906.97 L490.23,907.08 L492.88,907.19 L495.52,907.29 L498.17,907.38 L500.82,907.47 L503.47,907.55 L506.12,907.63 L508.77,907.70 L511.42,907.77 L514.07,907.83 L516.71,907.89 L519.36,907.95 L522.01,908.00 L524.66,908.05 L527.31,908.09 L529.96,908.14 L532.61,908.18 L535.26,908.22 L537.90,908.25 L540.55,908.28 L543.20,908.32 L545.85,908.34 L548.50,908.37 L551.15,908.40 L553.80,908.42 L556.45,908.44 L559.09,908.47 L561.74,908.49 L564.39,908.50 L567.04,908.52 L569.69,908.54 L572.34,908.55 L574.99,908.57 L577.64,908.58 L580.28,908.59 L582.93,908.61 L585.58,908.62 L588.23,908.63 L590.88,908.64 L593.53,908.65 L596.18,908.66 L598.83,908.66 L601.47,908.67 L604.12,908.68 L606.77,908.69 L609.42,908.69 L612.07,908.70 L614.72,908.70 L617.37,908.71 L620.02,908.71 L622.66,908.72 L625.31,908.72 L627.96,908.73 L630.61,908.73 L633.26,908.73 L635.91,908.74 L638.56,908.74 L641.21,908.74 L643.85,908.74 L646.50,908.75 L649.15,908.75 L651.80,908.75" fill="none" stroke="#245a8a" stroke-width="3.6" stroke-linejoin="round" />
<path d="M182.60,547.93 L182.60,548.63 M182.60,561.83 L182.60,562.53 M175.10,547.93 L190.10,547.93 M175.10,562.53 L190.10,562.53" stroke="#383838" stroke-width="2.0" fill="none"/>
<rect x="176.85" y="549.48" width="11.50" height="11.50" fill="none" stroke="#383838" stroke-width="1.7"/>
<path d="M296.20,557.53 L296.20,558.24 M296.20,571.44 L296.20,572.14 M288.70,557.53 L303.70,557.53 M288.70,572.14 L303.70,572.14" stroke="#383838" stroke-width="2.0" fill="none"/>
<rect x="290.45" y="559.09" width="11.50" height="11.50" fill="none" stroke="#383838" stroke-width="1.7"/>
<path d=" M402.30,550.62 L417.30,550.62 M402.30,562.15 L417.30,562.15" stroke="#383838" stroke-width="2.0" fill="none"/>
<rect x="404.05" y="550.63" width="11.50" height="11.50" fill="none" stroke="#383838" stroke-width="1.7"/>
<path d=" M515.90,543.70 L530.90,543.70 M515.90,556.00 L530.90,556.00" stroke="#383838" stroke-width="2.0" fill="none"/>
<rect x="517.65" y="544.10" width="11.50" height="11.50" fill="none" stroke="#383838" stroke-width="1.7"/>
<path d="M637.00,538.32 L637.00,538.64 M637.00,551.84 L637.00,552.15 M629.50,538.32 L644.50,538.32 M629.50,552.15 L644.50,552.15" stroke="#383838" stroke-width="2.0" fill="none"/>
<rect x="631.25" y="539.49" width="11.50" height="11.50" fill="none" stroke="#383838" stroke-width="1.7"/>
<path d="M182.60,662.83 L182.60,678.21 M175.10,662.83 L190.10,662.83 M175.10,678.21 L190.10,678.21" stroke="#383838" stroke-width="2.0" fill="none"/>
<rect x="175.85" y="663.77" width="13.50" height="13.50" fill="#344e66"/>
<path d="M296.20,791.19 L296.20,803.49 M288.70,791.19 L303.70,791.19 M288.70,803.49 L303.70,803.49" stroke="#383838" stroke-width="2.0" fill="none"/>
<rect x="289.45" y="790.59" width="13.50" height="13.50" fill="#344e66"/>
<path d="M409.80,891.88 L409.80,902.64 M402.30,891.88 L417.30,891.88 M402.30,902.64 L417.30,902.64" stroke="#383838" stroke-width="2.0" fill="none"/>
<rect x="403.05" y="890.51" width="13.50" height="13.50" fill="#344e66"/>
<path d="M523.40,903.79 L523.40,913.78 M515.90,903.79 L530.90,903.79 M515.90,913.78 L530.90,913.78" stroke="#383838" stroke-width="2.0" fill="none"/>
<rect x="516.65" y="902.03" width="13.50" height="13.50" fill="#344e66"/>
<path d="M637.00,903.79 L637.00,913.78 M629.50,903.79 L644.50,903.79 M629.50,913.78 L644.50,913.78" stroke="#383838" stroke-width="2.0" fill="none"/>
<rect x="630.25" y="902.03" width="13.50" height="13.50" fill="#344e66"/>
<rect x="124.7" y="505.5" width="527.10" height="422.70" fill="none" stroke="#000" stroke-width="1.6"/>
<line x1="124.70" y1="928.00" x2="137.60" y2="928.00" stroke="#000" stroke-width="1.6" />
<line x1="124.70" y1="851.14" x2="137.60" y2="851.14" stroke="#000" stroke-width="1.6" />
<line x1="124.70" y1="774.28" x2="137.60" y2="774.28" stroke="#000" stroke-width="1.6" />
<line x1="124.70" y1="697.42" x2="137.60" y2="697.42" stroke="#000" stroke-width="1.6" />
<line x1="124.70" y1="620.56" x2="137.60" y2="620.56" stroke="#000" stroke-width="1.6" />
<line x1="124.70" y1="543.70" x2="137.60" y2="543.70" stroke="#000" stroke-width="1.6" />
<line x1="124.70" y1="889.57" x2="131.30" y2="889.57" stroke="#000" stroke-width="1.6" />
<line x1="124.70" y1="812.71" x2="131.30" y2="812.71" stroke="#000" stroke-width="1.6" />
<line x1="124.70" y1="735.85" x2="131.30" y2="735.85" stroke="#000" stroke-width="1.6" />
<line x1="124.70" y1="658.99" x2="131.30" y2="658.99" stroke="#000" stroke-width="1.6" />
<line x1="124.70" y1="582.13" x2="131.30" y2="582.13" stroke="#000" stroke-width="1.6" />
<line x1="182.60" y1="928.20" x2="182.60" y2="915.20" stroke="#000" stroke-width="1.6" />
<line x1="296.20" y1="928.20" x2="296.20" y2="915.20" stroke="#000" stroke-width="1.6" />
<line x1="409.80" y1="928.20" x2="409.80" y2="915.20" stroke="#000" stroke-width="1.6" />
<line x1="523.40" y1="928.20" x2="523.40" y2="915.20" stroke="#000" stroke-width="1.6" />
<line x1="637.00" y1="928.20" x2="637.00" y2="915.20" stroke="#000" stroke-width="1.6" />
<rect x="464.65" y="596.15" width="11.90" height="11.90" fill="none" stroke="#333" stroke-width="1.5"/>
<rect x="463.45" y="631.45" width="13.50" height="13.50" fill="#344e66"/>
<path d="M845.10,575.27 L847.49,575.27 L849.88,575.27 L852.27,575.27 L854.66,575.27 L857.05,575.27 L859.43,575.27 L861.82,575.27 L864.21,575.27 L866.60,575.27 L868.99,575.27 L871.38,575.27 L873.77,575.27 L876.16,575.27 L878.55,575.27 L880.94,575.27 L883.32,575.27 L885.71,575.27 L888.10,575.27 L890.49,575.27 L892.88,575.27 L895.27,575.27 L897.66,575.27 L900.05,575.27 L902.44,575.27 L904.83,575.27 L907.22,575.27 L909.60,575.27 L911.99,575.27 L914.38,575.27 L916.77,575.27 L919.16,575.27 L921.55,575.27 L923.94,575.27 L926.33,575.27 L928.72,575.27 L931.11,575.27 L933.49,575.27 L935.88,575.27 L938.27,575.27 L940.66,575.27 L943.05,575.27 L945.44,575.27 L947.83,575.27 L950.22,575.27 L952.61,575.27 L955.00,575.27 L957.38,575.27 L959.77,575.27 L962.16,575.27 L964.55,575.27 L966.94,575.27 L969.33,575.27 L971.72,575.27 L974.11,575.27 L976.50,575.27 L978.89,575.27 L981.28,575.27 L983.66,575.27 L986.05,575.27 L988.44,575.27 L990.83,575.27 L993.22,575.27 L995.61,575.27 L998.00,575.27 L1000.39,575.27 L1002.78,575.27 L1005.17,575.27 L1007.55,575.27 L1009.94,575.27 L1012.33,575.27 L1014.72,575.27 L1017.11,575.27 L1019.50,575.27 L1021.89,575.27 L1024.28,575.27 L1026.67,575.27 L1029.06,575.27 L1031.45,575.27 L1033.83,575.27 L1036.22,575.27 L1038.61,575.27 L1041.00,575.27 L1043.39,575.27 L1045.78,575.27 L1048.17,575.27 L1050.56,575.27 L1052.95,575.27 L1055.34,575.27 L1057.72,575.27 L1060.11,575.27 L1062.50,575.27 L1064.89,575.27 L1067.28,575.27 L1069.67,575.27 L1072.06,575.27 L1074.45,575.27 L1076.84,575.27 L1079.23,575.27 L1081.62,575.27 L1084.00,575.27 L1086.39,575.27 L1088.78,575.27 L1091.17,575.27 L1093.56,575.27 L1095.95,575.27 L1098.34,575.27 L1100.73,575.27 L1103.12,575.27 L1105.51,575.27 L1107.89,575.27 L1110.28,575.27 L1112.67,575.27 L1115.06,575.27 L1117.45,575.27 L1119.84,575.27 L1122.23,575.27 L1124.62,575.27 L1127.01,575.27 L1129.40,575.27 L1131.78,575.27 L1134.17,575.28 L1136.56,575.28 L1138.95,575.28 L1141.34,575.28 L1143.73,575.28 L1146.12,575.28 L1148.51,575.28 L1150.90,575.28 L1153.29,575.29 L1155.68,575.29 L1158.06,575.29 L1160.45,575.29 L1162.84,575.29 L1165.23,575.30 L1167.62,575.30 L1170.01,575.30 L1172.40,575.31 L1174.79,575.31 L1177.18,575.32 L1179.57,575.32 L1181.95,575.33 L1184.34,575.34 L1186.73,575.35 L1189.12,575.36 L1191.51,575.37 L1193.90,575.38 L1196.29,575.39 L1198.68,575.40 L1201.07,575.42 L1203.46,575.44 L1205.85,575.46 L1208.23,575.48 L1210.62,575.50 L1213.01,575.53 L1215.40,575.56 L1217.79,575.59 L1220.18,575.63 L1222.57,575.67 L1224.96,575.72 L1227.35,575.77 L1229.74,575.83 L1232.12,575.89 L1234.51,575.97 L1236.90,576.05 L1239.29,576.13 L1241.68,576.23 L1244.07,576.34 L1246.46,576.47 L1248.85,576.60 L1251.24,576.75 L1253.63,576.92 L1256.02,577.10 L1258.40,577.31 L1260.79,577.53 L1263.18,577.78 L1265.57,578.06 L1267.96,578.36 L1270.35,578.70 L1272.74,579.06 L1275.13,579.47 L1277.52,579.91 L1279.91,580.39 L1282.29,580.91 L1284.68,581.48 L1287.07,582.10 L1289.46,582.76 L1291.85,583.48 L1294.24,584.25 L1296.63,585.07 L1299.02,585.95 L1301.41,586.88 L1303.80,587.86 L1306.18,588.89 L1308.57,589.97 L1310.96,591.09 L1313.35,592.25 L1315.74,593.44 L1318.13,594.66 L1320.52,595.90 L1322.91,597.15 L1325.30,598.40 L1327.69,599.66 L1330.08,600.90 L1332.46,602.13 L1334.85,603.33 L1337.24,604.51 L1339.63,605.64 L1342.02,606.74 L1344.41,607.79 L1346.80,608.79 L1349.19,609.74 L1351.58,610.64 L1353.97,611.48 L1356.35,612.28 L1358.74,613.01 L1361.13,613.70 L1363.52,614.34 L1365.91,614.93 L1368.30,615.47" fill="none" stroke="#ec8370" stroke-width="3.0" stroke-linejoin="round" stroke-dasharray="5.2 7.6" stroke-linecap="round"/>
<path d="M845.10,599.67 L847.49,599.62 L849.88,599.57 L852.27,599.53 L854.66,599.47 L857.05,599.42 L859.43,599.36 L861.82,599.30 L864.21,599.24 L866.60,599.17 L868.99,599.10 L871.38,599.03 L873.77,598.95 L876.16,598.87 L878.55,598.78 L880.94,598.70 L883.32,598.60 L885.71,598.50 L888.10,598.40 L890.49,598.29 L892.88,598.18 L895.27,598.06 L897.66,597.94 L900.05,597.81 L902.44,597.67 L904.83,597.53 L907.22,597.38 L909.60,597.22 L911.99,597.06 L914.38,596.88 L916.77,596.71 L919.16,596.52 L921.55,596.32 L923.94,596.12 L926.33,595.90 L928.72,595.68 L931.11,595.45 L933.49,595.21 L935.88,594.96 L938.27,594.69 L940.66,594.42 L943.05,594.13 L945.44,593.84 L947.83,593.53 L950.22,593.21 L952.61,592.88 L955.00,592.54 L957.38,592.18 L959.77,591.81 L962.16,591.43 L964.55,591.03 L966.94,590.62 L969.33,590.20 L971.72,589.77 L974.11,589.32 L976.50,588.85 L978.89,588.38 L981.28,587.89 L983.66,587.39 L986.05,586.87 L988.44,586.34 L990.83,585.80 L993.22,585.25 L995.61,584.68 L998.00,584.11 L1000.39,583.52 L1002.78,582.92 L1005.17,582.31 L1007.55,581.69 L1009.94,581.06 L1012.33,580.42 L1014.72,579.78 L1017.11,579.13 L1019.50,578.47 L1021.89,577.81 L1024.28,577.14 L1026.67,576.47 L1029.06,575.80 L1031.45,575.12 L1033.83,574.45 L1036.22,573.77 L1038.61,573.09 L1041.00,572.42 L1043.39,571.75 L1045.78,571.08 L1048.17,570.42 L1050.56,569.76 L1052.95,569.11 L1055.34,568.46 L1057.72,567.82 L1060.11,567.19 L1062.50,566.57 L1064.89,565.96 L1067.28,565.36 L1069.67,564.77 L1072.06,564.19 L1074.45,563.62 L1076.84,563.06 L1079.23,562.52 L1081.62,561.99 L1084.00,561.47 L1086.39,560.96 L1088.78,560.47 L1091.17,559.99 L1093.56,559.52 L1095.95,559.07 L1098.34,558.63 L1100.73,558.21 L1103.12,557.80 L1105.51,557.40 L1107.89,557.01 L1110.28,556.64 L1112.67,556.28 L1115.06,555.93 L1117.45,555.60 L1119.84,555.28 L1122.23,554.97 L1124.62,554.67 L1127.01,554.38 L1129.40,554.10 L1131.78,553.84 L1134.17,553.58 L1136.56,553.34 L1138.95,553.11 L1141.34,552.88 L1143.73,552.67 L1146.12,552.46 L1148.51,552.26 L1150.90,552.07 L1153.29,551.89 L1155.68,551.72 L1158.06,551.55 L1160.45,551.39 L1162.84,551.24 L1165.23,551.10 L1167.62,550.96 L1170.01,550.83 L1172.40,550.70 L1174.79,550.58 L1177.18,550.47 L1179.57,550.36 L1181.95,550.25 L1184.34,550.16 L1186.73,550.06 L1189.12,549.97 L1191.51,549.88 L1193.90,549.80 L1196.29,549.72 L1198.68,549.65 L1201.07,549.58 L1203.46,549.51 L1205.85,549.45 L1208.23,549.39 L1210.62,549.33 L1213.01,549.27 L1215.40,549.22 L1217.79,549.17 L1220.18,549.12 L1222.57,549.08 L1224.96,549.04 L1227.35,548.99 L1229.74,548.96 L1232.12,548.92 L1234.51,548.88 L1236.90,548.85 L1239.29,548.82 L1241.68,548.79 L1244.07,548.76 L1246.46,548.73 L1248.85,548.70 L1251.24,548.68 L1253.63,548.66 L1256.02,548.63 L1258.40,548.61 L1260.79,548.59 L1263.18,548.57 L1265.57,548.56 L1267.96,548.54 L1270.35,548.52 L1272.74,548.51 L1275.13,548.49 L1277.52,548.48 L1279.91,548.46 L1282.29,548.45 L1284.68,548.44 L1287.07,548.43 L1289.46,548.42 L1291.85,548.41 L1294.24,548.40 L1296.63,548.39 L1299.02,548.38 L1301.41,548.37 L1303.80,548.36 L1306.18,548.35 L1308.57,548.35 L1310.96,548.34 L1313.35,548.33 L1315.74,548.33 L1318.13,548.32 L1320.52,548.32 L1322.91,548.31 L1325.30,548.30 L1327.69,548.30 L1330.08,548.30 L1332.46,548.29 L1334.85,548.29 L1337.24,548.28 L1339.63,548.28 L1342.02,548.28 L1344.41,548.27 L1346.80,548.27 L1349.19,548.27 L1351.58,548.26 L1353.97,548.26 L1356.35,548.26 L1358.74,548.26 L1361.13,548.25 L1363.52,548.25 L1365.91,548.25 L1368.30,548.25" fill="none" stroke="#183856" stroke-width="3.0" stroke-linejoin="round" stroke-dasharray="5.2 7.6" stroke-linecap="round"/>
<path d="M845.10,574.78 L847.49,574.88 L849.88,574.97 L852.27,575.08 L854.66,575.18 L857.05,575.29 L859.43,575.41 L861.82,575.53 L864.21,575.65 L866.60,575.79 L868.99,575.92 L871.38,576.06 L873.77,576.21 L876.16,576.36 L878.55,576.52 L880.94,576.68 L883.32,576.86 L885.71,577.04 L888.10,577.22 L890.49,577.42 L892.88,577.62 L895.27,577.83 L897.66,578.04 L900.05,578.27 L902.44,578.51 L904.83,578.75 L907.22,579.01 L909.60,579.27 L911.99,579.55 L914.38,579.83 L916.77,580.13 L919.16,580.44 L921.55,580.77 L923.94,581.10 L926.33,581.45 L928.72,581.81 L931.11,582.19 L933.49,582.58 L935.88,582.98 L938.27,583.40 L940.66,583.84 L943.05,584.30 L945.44,584.77 L947.83,585.26 L950.22,585.77 L952.61,586.29 L955.00,586.84 L957.38,587.41 L959.77,588.00 L962.16,588.62 L964.55,589.25 L966.94,589.91 L969.33,590.59 L971.72,591.30 L974.11,592.03 L976.50,592.80 L978.89,593.58 L981.28,594.40 L983.66,595.25 L986.05,596.12 L988.44,597.03 L990.83,597.97 L993.22,598.94 L995.61,599.94 L998.00,600.98 L1000.39,602.06 L1002.78,603.17 L1005.17,604.31 L1007.55,605.50 L1009.94,606.72 L1012.33,607.98 L1014.72,609.29 L1017.11,610.63 L1019.50,612.02 L1021.89,613.45 L1024.28,614.92 L1026.67,616.44 L1029.06,618.01 L1031.45,619.61 L1033.83,621.27 L1036.22,622.97 L1038.61,624.72 L1041.00,626.52 L1043.39,628.37 L1045.78,630.26 L1048.17,632.21 L1050.56,634.20 L1052.95,636.25 L1055.34,638.34 L1057.72,640.49 L1060.11,642.68 L1062.50,644.93 L1064.89,647.22 L1067.28,649.56 L1069.67,651.95 L1072.06,654.39 L1074.45,656.88 L1076.84,659.42 L1079.23,662.00 L1081.62,664.62 L1084.00,667.29 L1086.39,670.00 L1088.78,672.76 L1091.17,675.55 L1093.56,678.39 L1095.95,681.26 L1098.34,684.17 L1100.73,687.11 L1103.12,690.08 L1105.51,693.08 L1107.89,696.11 L1110.28,699.17 L1112.67,702.25 L1115.06,705.35 L1117.45,708.46 L1119.84,711.60 L1122.23,714.75 L1124.62,717.91 L1127.01,721.08 L1129.40,724.25 L1131.78,727.43 L1134.17,730.61 L1136.56,733.78 L1138.95,736.95 L1141.34,740.12 L1143.73,743.27 L1146.12,746.42 L1148.51,749.54 L1150.90,752.65 L1153.29,755.74 L1155.68,758.81 L1158.06,761.86 L1160.45,764.87 L1162.84,767.86 L1165.23,770.82 L1167.62,773.74 L1170.01,776.63 L1172.40,779.48 L1174.79,782.30 L1177.18,785.08 L1179.57,787.81 L1181.95,790.50 L1184.34,793.15 L1186.73,795.76 L1189.12,798.31 L1191.51,800.83 L1193.90,803.29 L1196.29,805.71 L1198.68,808.07 L1201.07,810.39 L1203.46,812.66 L1205.85,814.88 L1208.23,817.05 L1210.62,819.17 L1213.01,821.24 L1215.40,823.26 L1217.79,825.24 L1220.18,827.16 L1222.57,829.03 L1224.96,830.85 L1227.35,832.63 L1229.74,834.35 L1232.12,836.03 L1234.51,837.67 L1236.90,839.25 L1239.29,840.80 L1241.68,842.29 L1244.07,843.74 L1246.46,845.15 L1248.85,846.52 L1251.24,847.85 L1253.63,849.13 L1256.02,850.37 L1258.40,851.58 L1260.79,852.74 L1263.18,853.87 L1265.57,854.97 L1267.96,856.02 L1270.35,857.05 L1272.74,858.03 L1275.13,858.99 L1277.52,859.91 L1279.91,860.80 L1282.29,861.66 L1284.68,862.50 L1287.07,863.30 L1289.46,864.07 L1291.85,864.82 L1294.24,865.54 L1296.63,866.24 L1299.02,866.91 L1301.41,867.56 L1303.80,868.18 L1306.18,868.78 L1308.57,869.36 L1310.96,869.92 L1313.35,870.46 L1315.74,870.98 L1318.13,871.48 L1320.52,871.96 L1322.91,872.42 L1325.30,872.87 L1327.69,873.30 L1330.08,873.71 L1332.46,874.11 L1334.85,874.50 L1337.24,874.86 L1339.63,875.22 L1342.02,875.56 L1344.41,875.89 L1346.80,876.21 L1349.19,876.51 L1351.58,876.80 L1353.97,877.08 L1356.35,877.36 L1358.74,877.62 L1361.13,877.87 L1363.52,878.11 L1365.91,878.34 L1368.30,878.56" fill="none" stroke="#ec8370" stroke-width="2.7" stroke-linejoin="round" />
<path d="M845.10,592.98 L847.49,593.07 L849.88,593.17 L852.27,593.27 L854.66,593.38 L857.05,593.49 L859.43,593.59 L861.82,593.71 L864.21,593.82 L866.60,593.94 L868.99,594.06 L871.38,594.18 L873.77,594.31 L876.16,594.44 L878.55,594.57 L880.94,594.71 L883.32,594.85 L885.71,594.99 L888.10,595.13 L890.49,595.28 L892.88,595.44 L895.27,595.59 L897.66,595.75 L900.05,595.92 L902.44,596.09 L904.83,596.26 L907.22,596.44 L909.60,596.62 L911.99,596.81 L914.38,597.00 L916.77,597.19 L919.16,597.39 L921.55,597.59 L923.94,597.80 L926.33,598.02 L928.72,598.24 L931.11,598.46 L933.49,598.69 L935.88,598.93 L938.27,599.17 L940.66,599.42 L943.05,599.67 L945.44,599.93 L947.83,600.19 L950.22,600.47 L952.61,600.74 L955.00,601.03 L957.38,601.32 L959.77,601.62 L962.16,601.92 L964.55,602.24 L966.94,602.56 L969.33,602.88 L971.72,603.22 L974.11,603.56 L976.50,603.91 L978.89,604.27 L981.28,604.64 L983.66,605.01 L986.05,605.40 L988.44,605.79 L990.83,606.20 L993.22,606.61 L995.61,607.03 L998.00,607.46 L1000.39,607.90 L1002.78,608.35 L1005.17,608.81 L1007.55,609.28 L1009.94,609.77 L1012.33,610.26 L1014.72,610.76 L1017.11,611.28 L1019.50,611.81 L1021.89,612.35 L1024.28,612.90 L1026.67,613.46 L1029.06,614.04 L1031.45,614.62 L1033.83,615.23 L1036.22,615.84 L1038.61,616.47 L1041.00,617.11 L1043.39,617.76 L1045.78,618.43 L1048.17,619.12 L1050.56,619.82 L1052.95,620.53 L1055.34,621.26 L1057.72,622.00 L1060.11,622.76 L1062.50,623.54 L1064.89,624.33 L1067.28,625.13 L1069.67,625.96 L1072.06,626.80 L1074.45,627.66 L1076.84,628.53 L1079.23,629.43 L1081.62,630.34 L1084.00,631.27 L1086.39,632.22 L1088.78,633.18 L1091.17,634.17 L1093.56,635.17 L1095.95,636.20 L1098.34,637.24 L1100.73,638.31 L1103.12,639.39 L1105.51,640.50 L1107.89,641.62 L1110.28,642.77 L1112.67,643.93 L1115.06,645.12 L1117.45,646.33 L1119.84,647.56 L1122.23,648.82 L1124.62,650.09 L1127.01,651.39 L1129.40,652.71 L1131.78,654.05 L1134.17,655.42 L1136.56,656.81 L1138.95,658.22 L1141.34,659.65 L1143.73,661.11 L1146.12,662.59 L1148.51,664.09 L1150.90,665.62 L1153.29,667.17 L1155.68,668.75 L1158.06,670.35 L1160.45,671.97 L1162.84,673.62 L1165.23,675.29 L1167.62,676.98 L1170.01,678.70 L1172.40,680.44 L1174.79,682.21 L1177.18,684.00 L1179.57,685.81 L1181.95,687.65 L1184.34,689.51 L1186.73,691.39 L1189.12,693.30 L1191.51,695.23 L1193.90,697.18 L1196.29,699.15 L1198.68,701.15 L1201.07,703.16 L1203.46,705.20 L1205.85,707.27 L1208.23,709.35 L1210.62,711.45 L1213.01,713.57 L1215.40,715.72 L1217.79,717.88 L1220.18,720.06 L1222.57,722.26 L1224.96,724.48 L1227.35,726.72 L1229.74,728.97 L1232.12,731.24 L1234.51,733.53 L1236.90,735.83 L1239.29,738.15 L1241.68,740.49 L1244.07,742.83 L1246.46,745.19 L1248.85,747.57 L1251.24,749.95 L1253.63,752.35 L1256.02,754.76 L1258.40,757.18 L1260.79,759.61 L1263.18,762.04 L1265.57,764.49 L1267.96,766.94 L1270.35,769.40 L1272.74,771.87 L1275.13,774.34 L1277.52,776.81 L1279.91,779.29 L1282.29,781.77 L1284.68,784.26 L1287.07,786.74 L1289.46,789.23 L1291.85,791.71 L1294.24,794.20 L1296.63,796.68 L1299.02,799.16 L1301.41,801.64 L1303.80,804.12 L1306.18,806.59 L1308.57,809.05 L1310.96,811.51 L1313.35,813.96 L1315.74,816.40 L1318.13,818.83 L1320.52,821.26 L1322.91,823.68 L1325.30,826.08 L1327.69,828.47 L1330.08,830.86 L1332.46,833.23 L1334.85,835.58 L1337.24,837.93 L1339.63,840.26 L1342.02,842.57 L1344.41,844.87 L1346.80,847.15 L1349.19,849.42 L1351.58,851.66 L1353.97,853.90 L1356.35,856.11 L1358.74,858.30 L1361.13,860.48 L1363.52,862.64 L1365.91,864.77 L1368.30,866.89" fill="none" stroke="#205682" stroke-width="2.7" stroke-linejoin="round" />
<path d="M869.90,557.23 L869.90,564.09 M869.90,578.09 L869.90,584.94 M864.15,557.23 L875.65,557.23 M864.15,584.94 L875.65,584.94" stroke="#ec8370" stroke-width="1.6" fill="none"/>
<rect x="863.95" y="565.14" width="11.90" height="11.90" fill="none" stroke="#ec8370" stroke-width="1.5"/>
<path d="M951.10,554.22 L951.10,574.33 M951.10,588.33 L951.10,608.44 M945.35,554.22 L956.85,554.22 M945.35,608.44 L956.85,608.44" stroke="#ec8370" stroke-width="1.6" fill="none"/>
<rect x="945.15" y="575.38" width="11.90" height="11.90" fill="none" stroke="#ec8370" stroke-width="1.5"/>
<path d="M1032.30,549.70 L1032.30,562.28 M1032.30,576.28 L1032.30,588.86 M1026.55,549.70 L1038.05,549.70 M1026.55,588.86 L1038.05,588.86" stroke="#ec8370" stroke-width="1.6" fill="none"/>
<rect x="1026.35" y="563.33" width="11.90" height="11.90" fill="none" stroke="#ec8370" stroke-width="1.5"/>
<path d="M1113.50,549.10 L1113.50,558.07 M1113.50,572.07 L1113.50,581.03 M1107.75,549.10 L1119.25,549.10 M1107.75,581.03 L1119.25,581.03" stroke="#ec8370" stroke-width="1.6" fill="none"/>
<rect x="1107.55" y="559.12" width="11.90" height="11.90" fill="none" stroke="#ec8370" stroke-width="1.5"/>
<path d="M1194.70,555.13 L1194.70,567.70 M1194.70,581.70 L1194.70,594.28 M1188.95,555.13 L1200.45,555.13 M1188.95,594.28 L1200.45,594.28" stroke="#ec8370" stroke-width="1.6" fill="none"/>
<rect x="1188.75" y="568.75" width="11.90" height="11.90" fill="none" stroke="#ec8370" stroke-width="1.5"/>
<path d="M1275.90,567.48 L1275.90,572.52 M1275.90,586.52 L1275.90,591.57 M1270.15,567.48 L1281.65,567.48 M1270.15,591.57 L1281.65,591.57" stroke="#ec8370" stroke-width="1.6" fill="none"/>
<rect x="1269.95" y="573.57" width="11.90" height="11.90" fill="none" stroke="#ec8370" stroke-width="1.5"/>
<path d=" M1351.35,607.53 L1362.85,607.53 M1351.35,616.57 L1362.85,616.57" stroke="#ec8370" stroke-width="1.6" fill="none"/>
<rect x="1351.15" y="606.10" width="11.90" height="11.90" fill="none" stroke="#ec8370" stroke-width="1.5"/>
<path d="M869.90,573.20 L869.90,591.27 M864.15,573.20 L875.65,573.20 M864.15,591.27 L875.65,591.27" stroke="#ec8370" stroke-width="1.6" fill="none"/>
<rect x="863.20" y="575.53" width="13.40" height="13.40" fill="#ec8370"/>
<path d="M951.10,586.75 L951.10,604.82 M945.35,586.75 L956.85,586.75 M945.35,604.82 L956.85,604.82" stroke="#ec8370" stroke-width="1.6" fill="none"/>
<rect x="944.40" y="589.09" width="13.40" height="13.40" fill="#ec8370"/>
<path d="M1032.30,646.69 L1032.30,667.77 M1026.55,646.69 L1038.05,646.69 M1026.55,667.77 L1038.05,667.77" stroke="#ec8370" stroke-width="1.6" fill="none"/>
<rect x="1025.60" y="650.53" width="13.40" height="13.40" fill="#ec8370"/>
<path d="M1113.50,671.39 L1113.50,692.47 M1107.75,671.39 L1119.25,671.39 M1107.75,692.47 L1119.25,692.47" stroke="#ec8370" stroke-width="1.6" fill="none"/>
<rect x="1106.80" y="675.23" width="13.40" height="13.40" fill="#ec8370"/>
<path d="M1194.70,793.98 L1194.70,813.25 M1188.95,793.98 L1200.45,793.98 M1188.95,813.25 L1200.45,813.25" stroke="#ec8370" stroke-width="1.6" fill="none"/>
<rect x="1188.00" y="796.92" width="13.40" height="13.40" fill="#ec8370"/>
<path d="M1275.90,848.80 L1275.90,865.06 M1270.15,848.80 L1281.65,848.80 M1270.15,865.06 L1281.65,865.06" stroke="#ec8370" stroke-width="1.6" fill="none"/>
<rect x="1269.20" y="850.23" width="13.40" height="13.40" fill="#ec8370"/>
<path d="M1357.10,877.71 L1357.10,883.74 M1351.35,877.71 L1362.85,877.71 M1351.35,883.74 L1362.85,883.74" stroke="#ec8370" stroke-width="1.6" fill="none"/>
<rect x="1350.40" y="874.02" width="13.40" height="13.40" fill="#ec8370"/>
<path d="M869.90,593.68 L869.90,595.72 M869.90,609.72 L869.90,611.75 M864.15,593.68 L875.65,593.68 M864.15,611.75 L875.65,611.75" stroke="#183856" stroke-width="1.6" fill="none"/>
<circle cx="869.90" cy="602.72" r="6.50" fill="none" stroke="#183856" stroke-width="1.5"/>
<path d="M951.10,580.73 L951.10,591.80 M951.10,605.80 L951.10,616.87 M945.35,580.73 L956.85,580.73 M945.35,616.87 L956.85,616.87" stroke="#183856" stroke-width="1.6" fill="none"/>
<circle cx="951.10" cy="598.80" r="6.50" fill="none" stroke="#183856" stroke-width="1.5"/>
<path d="M1032.30,578.92 L1032.30,583.07 M1032.30,597.07 L1032.30,601.21 M1026.55,578.92 L1038.05,578.92 M1026.55,601.21 L1038.05,601.21" stroke="#183856" stroke-width="1.6" fill="none"/>
<circle cx="1032.30" cy="590.07" r="6.50" fill="none" stroke="#183856" stroke-width="1.5"/>
<path d="M1113.50,525.91 L1113.50,528.85 M1113.50,542.85 L1113.50,545.79 M1107.75,525.91 L1119.25,525.91 M1107.75,545.79 L1119.25,545.79" stroke="#183856" stroke-width="1.6" fill="none"/>
<circle cx="1113.50" cy="535.85" r="6.50" fill="none" stroke="#183856" stroke-width="1.5"/>
<path d="M1194.70,540.67 L1194.70,547.52 M1194.70,561.52 L1194.70,568.38 M1188.95,540.67 L1200.45,540.67 M1188.95,568.38 L1200.45,568.38" stroke="#183856" stroke-width="1.6" fill="none"/>
<circle cx="1194.70" cy="554.52" r="6.50" fill="none" stroke="#183856" stroke-width="1.5"/>
<path d=" M1270.15,540.67 L1281.65,540.67 M1270.15,547.90 L1281.65,547.90" stroke="#183856" stroke-width="1.6" fill="none"/>
<circle cx="1275.90" cy="544.28" r="6.50" fill="none" stroke="#183856" stroke-width="1.5"/>
<path d=" M1351.35,549.70 L1362.85,549.70 M1351.35,561.75 L1362.85,561.75" stroke="#183856" stroke-width="1.6" fill="none"/>
<circle cx="1357.10" cy="555.73" r="6.50" fill="none" stroke="#183856" stroke-width="1.5"/>
<path d="M869.90,568.38 L869.90,601.51 M864.15,568.38 L875.65,568.38 M864.15,601.51 L875.65,601.51" stroke="#183856" stroke-width="1.6" fill="none"/>
<circle cx="869.90" cy="584.94" r="7.30" fill="#183856"/>
<path d="M951.10,578.92 L951.10,615.06 M945.35,578.92 L956.85,578.92 M945.35,615.06 L956.85,615.06" stroke="#183856" stroke-width="1.6" fill="none"/>
<circle cx="951.10" cy="596.99" r="7.30" fill="#183856"/>
<path d="M1032.30,618.68 L1032.30,642.78 M1026.55,618.68 L1038.05,618.68 M1026.55,642.78 L1038.05,642.78" stroke="#183856" stroke-width="1.6" fill="none"/>
<circle cx="1032.30" cy="630.73" r="7.30" fill="#183856"/>
<path d="M1113.50,635.25 L1113.50,653.32 M1107.75,635.25 L1119.25,635.25 M1107.75,653.32 L1119.25,653.32" stroke="#183856" stroke-width="1.6" fill="none"/>
<circle cx="1113.50" cy="644.28" r="7.30" fill="#183856"/>
<path d="M1194.70,655.43 L1194.70,688.56 M1188.95,655.43 L1200.45,655.43 M1188.95,688.56 L1200.45,688.56" stroke="#183856" stroke-width="1.6" fill="none"/>
<circle cx="1194.70" cy="671.99" r="7.30" fill="#183856"/>
<path d="M1275.90,778.62 L1275.90,806.93 M1270.15,778.62 L1281.65,778.62 M1270.15,806.93 L1281.65,806.93" stroke="#183856" stroke-width="1.6" fill="none"/>
<circle cx="1275.90" cy="792.77" r="7.30" fill="#183856"/>
<path d="M1357.10,843.07 L1357.10,864.76 M1351.35,843.07 L1362.85,843.07 M1351.35,864.76 L1362.85,864.76" stroke="#183856" stroke-width="1.6" fill="none"/>
<circle cx="1357.10" cy="853.92" r="7.30" fill="#183856"/>
<rect x="844.1" y="509.4" width="524.20" height="421.00" fill="none" stroke="#000" stroke-width="1.7"/>
<line x1="844.10" y1="900.00" x2="852.30" y2="900.00" stroke="#000" stroke-width="1.6" />
<line x1="1368.30" y1="900.00" x2="1360.10" y2="900.00" stroke="#000" stroke-width="1.6" />
<line x1="844.10" y1="839.76" x2="852.30" y2="839.76" stroke="#000" stroke-width="1.6" />
<line x1="1368.30" y1="839.76" x2="1360.10" y2="839.76" stroke="#000" stroke-width="1.6" />
<line x1="844.10" y1="779.52" x2="852.30" y2="779.52" stroke="#000" stroke-width="1.6" />
<line x1="1368.30" y1="779.52" x2="1360.10" y2="779.52" stroke="#000" stroke-width="1.6" />
<line x1="844.10" y1="719.28" x2="852.30" y2="719.28" stroke="#000" stroke-width="1.6" />
<line x1="1368.30" y1="719.28" x2="1360.10" y2="719.28" stroke="#000" stroke-width="1.6" />
<line x1="844.10" y1="659.04" x2="852.30" y2="659.04" stroke="#000" stroke-width="1.6" />
<line x1="1368.30" y1="659.04" x2="1360.10" y2="659.04" stroke="#000" stroke-width="1.6" />
<line x1="844.10" y1="598.80" x2="852.30" y2="598.80" stroke="#000" stroke-width="1.6" />
<line x1="1368.30" y1="598.80" x2="1360.10" y2="598.80" stroke="#000" stroke-width="1.6" />
<line x1="844.10" y1="538.56" x2="852.30" y2="538.56" stroke="#000" stroke-width="1.6" />
<line x1="1368.30" y1="538.56" x2="1360.10" y2="538.56" stroke="#000" stroke-width="1.6" />
<line x1="844.10" y1="869.88" x2="848.10" y2="869.88" stroke="#000" stroke-width="1.6" />
<line x1="1368.30" y1="869.88" x2="1364.30" y2="869.88" stroke="#000" stroke-width="1.6" />
<line x1="844.10" y1="809.64" x2="848.10" y2="809.64" stroke="#000" stroke-width="1.6" />
<line x1="1368.30" y1="809.64" x2="1364.30" y2="809.64" stroke="#000" stroke-width="1.6" />
<line x1="844.10" y1="749.40" x2="848.10" y2="749.40" stroke="#000" stroke-width="1.6" />
<line x1="1368.30" y1="749.40" x2="1364.30" y2="749.40" stroke="#000" stroke-width="1.6" />
<line x1="844.10" y1="689.16" x2="848.10" y2="689.16" stroke="#000" stroke-width="1.6" />
<line x1="1368.30" y1="689.16" x2="1364.30" y2="689.16" stroke="#000" stroke-width="1.6" />
<line x1="844.10" y1="628.92" x2="848.10" y2="628.92" stroke="#000" stroke-width="1.6" />
<line x1="1368.30" y1="628.92" x2="1364.30" y2="628.92" stroke="#000" stroke-width="1.6" />
<line x1="844.10" y1="568.68" x2="848.10" y2="568.68" stroke="#000" stroke-width="1.6" />
<line x1="1368.30" y1="568.68" x2="1364.30" y2="568.68" stroke="#000" stroke-width="1.6" />
<line x1="869.90" y1="930.40" x2="869.90" y2="921.90" stroke="#000" stroke-width="1.6" />
<line x1="951.10" y1="930.40" x2="951.10" y2="921.90" stroke="#000" stroke-width="1.6" />
<line x1="1032.30" y1="930.40" x2="1032.30" y2="921.90" stroke="#000" stroke-width="1.6" />
<line x1="1113.50" y1="930.40" x2="1113.50" y2="921.90" stroke="#000" stroke-width="1.6" />
<line x1="1194.70" y1="930.40" x2="1194.70" y2="921.90" stroke="#000" stroke-width="1.6" />
<line x1="1275.90" y1="930.40" x2="1275.90" y2="921.90" stroke="#000" stroke-width="1.6" />
<line x1="1357.10" y1="930.40" x2="1357.10" y2="921.90" stroke="#000" stroke-width="1.6" />
<rect x="886.90" y="778.10" width="12.20" height="12.20" fill="none" stroke="#ec8370" stroke-width="1.4"/>
<rect x="885.90" y="807.50" width="13.40" height="13.40" fill="#ec8370"/>
<circle cx="893.00" cy="844.20" r="6.60" fill="none" stroke="#183856" stroke-width="1.4"/>
<circle cx="893.00" cy="874.20" r="7.30" fill="#183856"/>
<path d="M1519.20,575.47 L1522.71,575.47 L1526.21,575.47 L1529.72,575.47 L1533.22,575.47 L1536.73,575.47 L1540.24,575.47 L1543.74,575.47 L1547.25,575.47 L1550.75,575.47 L1554.26,575.47 L1557.77,575.47 L1561.27,575.47 L1564.78,575.47 L1568.28,575.47 L1571.79,575.47 L1575.30,575.47 L1578.80,575.47 L1582.31,575.47 L1585.81,575.47 L1589.32,575.47 L1592.83,575.47 L1596.33,575.47 L1599.84,575.47 L1603.34,575.47 L1606.85,575.47 L1610.36,575.47 L1613.86,575.47 L1617.37,575.47 L1620.88,575.47 L1624.38,575.47 L1627.89,575.47 L1631.39,575.47 L1634.90,575.47 L1638.41,575.47 L1641.91,575.47 L1645.42,575.47 L1648.92,575.47 L1652.43,575.47 L1655.94,575.47 L1659.44,575.47 L1662.95,575.47 L1666.45,575.47 L1669.96,575.47 L1673.47,575.47 L1676.97,575.47 L1680.48,575.47 L1683.98,575.47 L1687.49,575.47 L1691.00,575.47 L1694.50,575.47 L1698.01,575.47 L1701.51,575.47 L1705.02,575.47 L1708.53,575.47 L1712.03,575.47 L1715.54,575.47 L1719.04,575.47 L1722.55,575.47 L1726.06,575.47 L1729.56,575.47 L1733.07,575.47 L1736.57,575.47 L1740.08,575.47 L1743.59,575.47 L1747.09,575.47 L1750.60,575.47 L1754.10,575.47 L1757.61,575.47 L1761.12,575.47 L1764.62,575.47 L1768.13,575.47 L1771.63,575.47 L1775.14,575.47 L1778.65,575.47 L1782.15,575.47 L1785.66,575.47 L1789.17,575.47 L1792.67,575.47 L1796.18,575.47 L1799.68,575.47 L1803.19,575.47 L1806.70,575.47 L1810.20,575.47 L1813.71,575.47 L1817.21,575.47 L1820.72,575.47 L1824.23,575.47 L1827.73,575.47 L1831.24,575.47 L1834.74,575.47 L1838.25,575.47 L1841.76,575.47 L1845.26,575.47 L1848.77,575.47 L1852.27,575.47 L1855.78,575.47 L1859.29,575.47 L1862.79,575.47 L1866.30,575.47 L1869.80,575.46 L1873.31,575.46 L1876.82,575.46 L1880.32,575.46 L1883.83,575.45 L1887.33,575.45 L1890.84,575.44 L1894.35,575.44 L1897.85,575.43 L1901.36,575.42 L1904.86,575.41 L1908.37,575.40 L1911.88,575.38 L1915.38,575.37 L1918.89,575.35 L1922.39,575.32 L1925.90,575.30 L1929.41,575.26 L1932.91,575.22 L1936.42,575.18 L1939.92,575.13 L1943.43,575.07 L1946.94,575.00 L1950.44,574.92 L1953.95,574.82 L1957.46,574.72 L1960.96,574.60 L1964.47,574.47 L1967.97,574.33 L1971.48,574.17 L1974.99,574.00 L1978.49,573.82 L1982.00,573.63 L1985.50,573.43 L1989.01,573.23 L1992.52,573.03 L1996.02,572.83 L1999.53,572.64 L2003.03,572.45 L2006.54,572.28 L2010.05,572.11 L2013.55,571.96 L2017.06,571.82 L2020.56,571.70 L2024.07,571.59 L2027.58,571.49 L2031.08,571.40 L2034.59,571.33 L2038.09,571.26 L2041.60,571.20" fill="none" stroke="#ec8370" stroke-width="3.0" stroke-linejoin="round" stroke-dasharray="5.2 7.6" stroke-linecap="round"/>
<path d="M1519.20,556.37 L1529.86,556.22 L1540.52,556.07 L1551.18,555.92 L1561.84,555.77 L1572.51,555.62 L1583.17,555.46 L1593.83,555.31 L1604.49,555.16 L1615.15,555.01 L1625.81,554.86 L1636.47,554.71 L1647.13,554.56 L1657.80,554.41 L1668.46,554.25 L1679.12,554.10 L1689.78,553.95 L1700.44,553.80 L1711.10,553.65 L1721.76,553.50 L1732.42,553.35 L1743.09,553.20 L1753.75,553.04 L1764.41,552.89 L1775.07,552.74 L1785.73,552.59 L1796.39,552.44 L1807.05,552.29 L1817.71,552.14 L1828.38,551.99 L1839.04,551.84 L1849.70,551.68 L1860.36,551.53 L1871.02,551.38 L1881.68,551.23 L1892.34,551.08 L1903.00,550.93 L1913.67,550.78 L1924.33,550.63 L1934.99,550.47 L1945.65,550.32 L1956.31,550.17 L1966.97,550.02 L1977.63,549.87 L1988.29,549.72 L1998.96,549.57 L2009.62,549.42 L2020.28,549.26 L2030.94,549.11 L2041.60,548.96" fill="none" stroke="#183856" stroke-width="3.0" stroke-linejoin="round" stroke-dasharray="5.2 7.6" stroke-linecap="round"/>
<path d="M1519.20,582.92 L1521.59,583.07 L1523.97,583.22 L1526.36,583.38 L1528.74,583.55 L1531.13,583.72 L1533.51,583.90 L1535.90,584.08 L1538.28,584.27 L1540.67,584.46 L1543.05,584.66 L1545.44,584.87 L1547.82,585.09 L1550.21,585.31 L1552.60,585.54 L1554.98,585.78 L1557.37,586.03 L1559.75,586.28 L1562.14,586.54 L1564.52,586.81 L1566.91,587.09 L1569.29,587.38 L1571.68,587.68 L1574.06,587.99 L1576.45,588.31 L1578.83,588.64 L1581.22,588.98 L1583.61,589.33 L1585.99,589.69 L1588.38,590.07 L1590.76,590.46 L1593.15,590.86 L1595.53,591.27 L1597.92,591.69 L1600.30,592.13 L1602.69,592.59 L1605.07,593.05 L1607.46,593.54 L1609.84,594.03 L1612.23,594.55 L1614.62,595.08 L1617.00,595.62 L1619.39,596.19 L1621.77,596.77 L1624.16,597.36 L1626.54,597.98 L1628.93,598.62 L1631.31,599.27 L1633.70,599.95 L1636.08,600.64 L1638.47,601.36 L1640.85,602.10 L1643.24,602.86 L1645.63,603.64 L1648.01,604.44 L1650.40,605.27 L1652.78,606.12 L1655.17,607.00 L1657.55,607.90 L1659.94,608.83 L1662.32,609.79 L1664.71,610.77 L1667.09,611.77 L1669.48,612.81 L1671.86,613.87 L1674.25,614.97 L1676.64,616.09 L1679.02,617.24 L1681.41,618.42 L1683.79,619.63 L1686.18,620.88 L1688.56,622.15 L1690.95,623.46 L1693.33,624.80 L1695.72,626.18 L1698.10,627.58 L1700.49,629.02 L1702.87,630.50 L1705.26,632.01 L1707.65,633.55 L1710.03,635.13 L1712.42,636.74 L1714.80,638.39 L1717.19,640.08 L1719.57,641.80 L1721.96,643.55 L1724.34,645.35 L1726.73,647.17 L1729.11,649.04 L1731.50,650.94 L1733.88,652.87 L1736.27,654.84 L1738.66,656.85 L1741.04,658.89 L1743.43,660.96 L1745.81,663.07 L1748.20,665.22 L1750.58,667.39 L1752.97,669.60 L1755.35,671.85 L1757.74,674.12 L1760.12,676.42 L1762.51,678.76 L1764.89,681.12 L1767.28,683.52 L1769.67,685.94 L1772.05,688.38 L1774.44,690.86 L1776.82,693.35 L1779.21,695.87 L1781.59,698.42 L1783.98,700.98 L1786.36,703.56 L1788.75,706.16 L1791.13,708.78 L1793.52,711.42 L1795.91,714.06 L1798.29,716.72 L1800.68,719.40 L1803.06,722.08 L1805.45,724.77 L1807.83,727.46 L1810.22,730.17 L1812.60,732.87 L1814.99,735.58 L1817.37,738.28 L1819.76,740.99 L1822.14,743.69 L1824.53,746.39 L1826.92,749.08 L1829.30,751.76 L1831.69,754.44 L1834.07,757.10 L1836.46,759.75 L1838.84,762.39 L1841.23,765.01 L1843.61,767.61 L1846.00,770.20 L1848.38,772.77 L1850.77,775.32 L1853.15,777.84 L1855.54,780.35 L1857.93,782.82 L1860.31,785.28 L1862.70,787.70 L1865.08,790.10 L1867.47,792.47 L1869.85,794.81 L1872.24,797.13 L1874.62,799.41 L1877.01,801.66 L1879.39,803.87 L1881.78,806.06 L1884.16,808.21 L1886.55,810.33 L1888.94,812.41 L1891.32,814.46 L1893.71,816.47 L1896.09,818.45 L1898.48,820.39 L1900.86,822.30 L1903.25,824.17 L1905.63,826.01 L1908.02,827.81 L1910.40,829.57 L1912.79,831.30 L1915.17,833.00 L1917.56,834.65 L1919.95,836.27 L1922.33,837.86 L1924.72,839.41 L1927.10,840.93 L1929.49,842.41 L1931.87,843.86 L1934.26,845.27 L1936.64,846.65 L1939.03,848.00 L1941.41,849.32 L1943.80,850.60 L1946.18,851.85 L1948.57,853.07 L1950.96,854.26 L1953.34,855.42 L1955.73,856.55 L1958.11,857.65 L1960.50,858.72 L1962.88,859.76 L1965.27,860.77 L1967.65,861.76 L1970.04,862.72 L1972.42,863.65 L1974.81,864.56 L1977.19,865.45 L1979.58,866.30 L1981.97,867.14 L1984.35,867.95 L1986.74,868.73 L1989.12,869.50 L1991.51,870.24 L1993.89,870.96 L1996.28,871.66 L1998.66,872.34 L2001.05,873.00 L2003.43,873.64 L2005.82,874.26 L2008.20,874.87 L2010.59,875.45 L2012.98,876.02 L2015.36,876.57 L2017.75,877.10 L2020.13,877.62 L2022.52,878.12 L2024.90,878.61 L2027.29,879.08 L2029.67,879.53 L2032.06,879.98 L2034.44,880.40 L2036.83,880.82 L2039.21,881.22 L2041.60,881.61" fill="none" stroke="#ec8370" stroke-width="2.7" stroke-linejoin="round" />
<path d="M1519.20,541.38 L1521.59,541.38 L1523.97,541.38 L1526.36,541.39 L1528.74,541.39 L1531.13,541.40 L1533.51,541.40 L1535.90,541.40 L1538.28,541.41 L1540.67,541.41 L1543.05,541.42 L1545.44,541.43 L1547.82,541.43 L1550.21,541.44 L1552.60,541.45 L1554.98,541.45 L1557.37,541.46 L1559.75,541.47 L1562.14,541.48 L1564.52,541.49 L1566.91,541.50 L1569.29,541.51 L1571.68,541.52 L1574.06,541.53 L1576.45,541.55 L1578.83,541.56 L1581.22,541.57 L1583.61,541.59 L1585.99,541.61 L1588.38,541.62 L1590.76,541.64 L1593.15,541.66 L1595.53,541.68 L1597.92,541.70 L1600.30,541.73 L1602.69,541.75 L1605.07,541.78 L1607.46,541.80 L1609.84,541.83 L1612.23,541.86 L1614.62,541.90 L1617.00,541.93 L1619.39,541.97 L1621.77,542.01 L1624.16,542.05 L1626.54,542.09 L1628.93,542.14 L1631.31,542.19 L1633.70,542.24 L1636.08,542.30 L1638.47,542.36 L1640.85,542.42 L1643.24,542.49 L1645.63,542.56 L1648.01,542.64 L1650.40,542.72 L1652.78,542.80 L1655.17,542.89 L1657.55,542.99 L1659.94,543.09 L1662.32,543.19 L1664.71,543.31 L1667.09,543.43 L1669.48,543.56 L1671.86,543.69 L1674.25,543.84 L1676.64,543.99 L1679.02,544.15 L1681.41,544.32 L1683.79,544.50 L1686.18,544.69 L1688.56,544.90 L1690.95,545.11 L1693.33,545.34 L1695.72,545.58 L1698.10,545.84 L1700.49,546.11 L1702.87,546.40 L1705.26,546.70 L1707.65,547.02 L1710.03,547.36 L1712.42,547.73 L1714.80,548.11 L1717.19,548.51 L1719.57,548.94 L1721.96,549.39 L1724.34,549.87 L1726.73,550.38 L1729.11,550.91 L1731.50,551.48 L1733.88,552.08 L1736.27,552.71 L1738.66,553.37 L1741.04,554.08 L1743.43,554.82 L1745.81,555.61 L1748.20,556.43 L1750.58,557.31 L1752.97,558.23 L1755.35,559.20 L1757.74,560.22 L1760.12,561.29 L1762.51,562.43 L1764.89,563.62 L1767.28,564.87 L1769.67,566.19 L1772.05,567.57 L1774.44,569.02 L1776.82,570.54 L1779.21,572.14 L1781.59,573.81 L1783.98,575.57 L1786.36,577.40 L1788.75,579.32 L1791.13,581.32 L1793.52,583.41 L1795.91,585.60 L1798.29,587.87 L1800.68,590.24 L1803.06,592.70 L1805.45,595.26 L1807.83,597.92 L1810.22,600.67 L1812.60,603.52 L1814.99,606.48 L1817.37,609.53 L1819.76,612.67 L1822.14,615.92 L1824.53,619.26 L1826.92,622.69 L1829.30,626.22 L1831.69,629.83 L1834.07,633.53 L1836.46,637.31 L1838.84,641.17 L1841.23,645.10 L1843.61,649.10 L1846.00,653.16 L1848.38,657.28 L1850.77,661.45 L1853.15,665.66 L1855.54,669.91 L1857.93,674.19 L1860.31,678.49 L1862.70,682.80 L1865.08,687.13 L1867.47,691.45 L1869.85,695.77 L1872.24,700.07 L1874.62,704.35 L1877.01,708.60 L1879.39,712.81 L1881.78,716.98 L1884.16,721.10 L1886.55,725.16 L1888.94,729.16 L1891.32,733.09 L1893.71,736.95 L1896.09,740.73 L1898.48,744.43 L1900.86,748.05 L1903.25,751.57 L1905.63,755.01 L1908.02,758.35 L1910.40,761.60 L1912.79,764.75 L1915.17,767.80 L1917.56,770.75 L1919.95,773.61 L1922.33,776.37 L1924.72,779.02 L1927.10,781.58 L1929.49,784.05 L1931.87,786.42 L1934.26,788.69 L1936.64,790.88 L1939.03,792.97 L1941.41,794.97 L1943.80,796.89 L1946.18,798.73 L1948.57,800.48 L1950.96,802.16 L1953.34,803.75 L1955.73,805.28 L1958.11,806.73 L1960.50,808.11 L1962.88,809.43 L1965.27,810.68 L1967.65,811.88 L1970.04,813.01 L1972.42,814.09 L1974.81,815.11 L1977.19,816.08 L1979.58,817.00 L1981.97,817.87 L1984.35,818.70 L1986.74,819.49 L1989.12,820.23 L1991.51,820.94 L1993.89,821.60 L1996.28,822.23 L1998.66,822.83 L2001.05,823.40 L2003.43,823.93 L2005.82,824.44 L2008.20,824.92 L2010.59,825.37 L2012.98,825.80 L2015.36,826.21 L2017.75,826.59 L2020.13,826.95 L2022.52,827.29 L2024.90,827.61 L2027.29,827.92 L2029.67,828.21 L2032.06,828.48 L2034.44,828.73 L2036.83,828.98 L2039.21,829.20 L2041.60,829.42" fill="none" stroke="#123452" stroke-width="2.7" stroke-linejoin="round" />
<path d="M1542.90,563.10 L1542.90,563.17 M1542.90,577.17 L1542.90,577.24 M1537.15,563.10 L1548.65,563.10 M1537.15,577.24 L1548.65,577.24" stroke="#ec8370" stroke-width="1.6" fill="none"/>
<rect x="1536.95" y="564.22" width="11.90" height="11.90" fill="none" stroke="#ec8370" stroke-width="1.5"/>
<path d="M1624.30,565.93 L1624.30,566.00 M1624.30,580.00 L1624.30,580.07 M1618.55,565.93 L1630.05,565.93 M1618.55,580.07 L1630.05,580.07" stroke="#ec8370" stroke-width="1.6" fill="none"/>
<rect x="1618.35" y="567.05" width="11.90" height="11.90" fill="none" stroke="#ec8370" stroke-width="1.5"/>
<path d=" M1699.95,571.94 L1711.45,571.94 M1699.95,579.01 L1711.45,579.01" stroke="#ec8370" stroke-width="1.6" fill="none"/>
<rect x="1699.75" y="569.52" width="11.90" height="11.90" fill="none" stroke="#ec8370" stroke-width="1.5"/>
<path d=" M1781.35,570.17 L1792.85,570.17 M1781.35,580.78 L1792.85,580.78" stroke="#ec8370" stroke-width="1.6" fill="none"/>
<rect x="1781.15" y="569.52" width="11.90" height="11.90" fill="none" stroke="#ec8370" stroke-width="1.5"/>
<path d="M1868.50,567.70 L1868.50,573.07 M1868.50,587.07 L1868.50,592.44 M1862.75,567.70 L1874.25,567.70 M1862.75,592.44 L1874.25,592.44" stroke="#ec8370" stroke-width="1.6" fill="none"/>
<rect x="1862.55" y="574.12" width="11.90" height="11.90" fill="none" stroke="#ec8370" stroke-width="1.5"/>
<path d="M1949.90,560.98 L1949.90,566.35 M1949.90,580.35 L1949.90,585.73 M1944.15,560.98 L1955.65,560.98 M1944.15,585.73 L1955.65,585.73" stroke="#ec8370" stroke-width="1.6" fill="none"/>
<rect x="1943.95" y="567.40" width="11.90" height="11.90" fill="none" stroke="#ec8370" stroke-width="1.5"/>
<path d=" M2025.55,566.99 L2037.05,566.99 M2025.55,575.47 L2037.05,575.47" stroke="#ec8370" stroke-width="1.6" fill="none"/>
<rect x="2025.35" y="565.28" width="11.90" height="11.90" fill="none" stroke="#ec8370" stroke-width="1.5"/>
<path d="M1542.90,572.65 L1542.90,600.93 M1537.15,572.65 L1548.65,572.65 M1537.15,600.93 L1548.65,600.93" stroke="#ec8370" stroke-width="1.6" fill="none"/>
<rect x="1536.20" y="580.09" width="13.40" height="13.40" fill="#ec8370"/>
<path d="M1624.30,585.73 L1624.30,610.47 M1618.55,585.73 L1630.05,585.73 M1618.55,610.47 L1630.05,610.47" stroke="#ec8370" stroke-width="1.6" fill="none"/>
<rect x="1617.60" y="591.40" width="13.40" height="13.40" fill="#ec8370"/>
<path d="M1705.70,592.09 L1705.70,630.97 M1699.95,592.09 L1711.45,592.09 M1699.95,630.97 L1711.45,630.97" stroke="#ec8370" stroke-width="1.6" fill="none"/>
<rect x="1699.00" y="604.83" width="13.40" height="13.40" fill="#ec8370"/>
<path d="M1787.10,702.38 L1787.10,709.45 M1781.35,702.38 L1792.85,702.38 M1781.35,709.45 L1792.85,709.45" stroke="#ec8370" stroke-width="1.6" fill="none"/>
<rect x="1780.40" y="699.22" width="13.40" height="13.40" fill="#ec8370"/>
<path d="M1868.50,779.44 L1868.50,804.19 M1862.75,779.44 L1874.25,779.44 M1862.75,804.19 L1874.25,804.19" stroke="#ec8370" stroke-width="1.6" fill="none"/>
<rect x="1861.80" y="785.12" width="13.40" height="13.40" fill="#ec8370"/>
<path d="M1949.90,845.55 L1949.90,866.76 M1944.15,845.55 L1955.65,845.55 M1944.15,866.76 L1955.65,866.76" stroke="#ec8370" stroke-width="1.6" fill="none"/>
<rect x="1943.20" y="849.45" width="13.40" height="13.40" fill="#ec8370"/>
<path d="M2031.30,866.76 L2031.30,891.50 M2025.55,866.76 L2037.05,866.76 M2025.55,891.50 L2037.05,891.50" stroke="#ec8370" stroke-width="1.6" fill="none"/>
<rect x="2024.60" y="872.43" width="13.40" height="13.40" fill="#ec8370"/>
<path d="M1542.90,554.97 L1542.90,558.58 M1542.90,572.58 L1542.90,576.18 M1537.15,554.97 L1548.65,554.97 M1537.15,576.18 L1548.65,576.18" stroke="#183856" stroke-width="1.6" fill="none"/>
<circle cx="1542.90" cy="565.58" r="6.50" fill="none" stroke="#183856" stroke-width="1.5"/>
<path d="M1624.30,542.95 L1624.30,546.56 M1624.30,560.56 L1624.30,564.16 M1618.55,542.95 L1630.05,542.95 M1618.55,564.16 L1630.05,564.16" stroke="#183856" stroke-width="1.6" fill="none"/>
<circle cx="1624.30" cy="553.56" r="6.50" fill="none" stroke="#183856" stroke-width="1.5"/>
<path d="M1705.70,544.72 L1705.70,544.79 M1705.70,558.79 L1705.70,558.86 M1699.95,544.72 L1711.45,544.72 M1699.95,558.86 L1711.45,558.86" stroke="#183856" stroke-width="1.6" fill="none"/>
<circle cx="1705.70" cy="551.79" r="6.50" fill="none" stroke="#183856" stroke-width="1.5"/>
<path d="M1787.10,548.61 L1787.10,550.45 M1787.10,564.45 L1787.10,566.28 M1781.35,548.61 L1792.85,548.61 M1781.35,566.28 L1792.85,566.28" stroke="#183856" stroke-width="1.6" fill="none"/>
<circle cx="1787.10" cy="557.45" r="6.50" fill="none" stroke="#183856" stroke-width="1.5"/>
<path d="M1868.50,539.06 L1868.50,543.38 M1868.50,557.38 L1868.50,561.69 M1862.75,539.06 L1874.25,539.06 M1862.75,561.69 L1874.25,561.69" stroke="#183856" stroke-width="1.6" fill="none"/>
<circle cx="1868.50" cy="550.38" r="6.50" fill="none" stroke="#183856" stroke-width="1.5"/>
<path d="M1949.90,548.96 L1949.90,550.80 M1949.90,564.80 L1949.90,566.64 M1944.15,548.96 L1955.65,548.96 M1944.15,566.64 L1955.65,566.64" stroke="#183856" stroke-width="1.6" fill="none"/>
<circle cx="1949.90" cy="557.80" r="6.50" fill="none" stroke="#183856" stroke-width="1.5"/>
<path d="M2031.30,525.98 L2031.30,531.36 M2031.30,545.36 L2031.30,550.73 M2025.55,525.98 L2037.05,525.98 M2025.55,550.73 L2037.05,550.73" stroke="#183856" stroke-width="1.6" fill="none"/>
<circle cx="2031.30" cy="538.36" r="6.50" fill="none" stroke="#183856" stroke-width="1.5"/>
<path d="M1542.90,517.85 L1542.90,560.27 M1537.15,517.85 L1548.65,517.85 M1537.15,560.27 L1548.65,560.27" stroke="#183856" stroke-width="1.6" fill="none"/>
<circle cx="1542.90" cy="539.06" r="7.30" fill="#183856"/>
<path d="M1624.30,519.62 L1624.30,600.93 M1618.55,519.62 L1630.05,519.62 M1618.55,600.93 L1630.05,600.93" stroke="#183856" stroke-width="1.6" fill="none"/>
<circle cx="1624.30" cy="560.27" r="7.30" fill="#183856"/>
<path d="M1705.70,531.64 L1705.70,557.80 M1699.95,531.64 L1711.45,531.64 M1699.95,557.80 L1711.45,557.80" stroke="#183856" stroke-width="1.6" fill="none"/>
<circle cx="1705.70" cy="544.72" r="7.30" fill="#183856"/>
<path d="M1787.10,568.40 L1787.10,586.08 M1781.35,568.40 L1792.85,568.40 M1781.35,586.08 L1792.85,586.08" stroke="#183856" stroke-width="1.6" fill="none"/>
<circle cx="1787.10" cy="577.24" r="7.30" fill="#183856"/>
<path d="M1868.50,684.00 L1868.50,715.81 M1862.75,684.00 L1874.25,684.00 M1862.75,715.81 L1874.25,715.81" stroke="#183856" stroke-width="1.6" fill="none"/>
<circle cx="1868.50" cy="699.91" r="7.30" fill="#183856"/>
<path d="M1949.90,753.99 L1949.90,799.95 M1944.15,753.99 L1955.65,753.99 M1944.15,799.95 L1955.65,799.95" stroke="#183856" stroke-width="1.6" fill="none"/>
<circle cx="1949.90" cy="776.97" r="7.30" fill="#183856"/>
<path d="M2031.30,826.11 L2031.30,833.18 M2025.55,826.11 L2037.05,826.11 M2025.55,833.18 L2037.05,833.18" stroke="#183856" stroke-width="1.6" fill="none"/>
<circle cx="2031.30" cy="829.64" r="7.30" fill="#183856"/>
<rect x="1518.2" y="506.4" width="523.40" height="420.70" fill="none" stroke="#000" stroke-width="1.7"/>
<line x1="1518.20" y1="926.50" x2="1526.80" y2="926.50" stroke="#000" stroke-width="1.6" />
<line x1="2041.60" y1="926.50" x2="2033.00" y2="926.50" stroke="#000" stroke-width="1.6" />
<line x1="1518.20" y1="855.80" x2="1526.80" y2="855.80" stroke="#000" stroke-width="1.6" />
<line x1="2041.60" y1="855.80" x2="2033.00" y2="855.80" stroke="#000" stroke-width="1.6" />
<line x1="1518.20" y1="785.10" x2="1526.80" y2="785.10" stroke="#000" stroke-width="1.6" />
<line x1="2041.60" y1="785.10" x2="2033.00" y2="785.10" stroke="#000" stroke-width="1.6" />
<line x1="1518.20" y1="714.40" x2="1526.80" y2="714.40" stroke="#000" stroke-width="1.6" />
<line x1="2041.60" y1="714.40" x2="2033.00" y2="714.40" stroke="#000" stroke-width="1.6" />
<line x1="1518.20" y1="643.70" x2="1526.80" y2="643.70" stroke="#000" stroke-width="1.6" />
<line x1="2041.60" y1="643.70" x2="2033.00" y2="643.70" stroke="#000" stroke-width="1.6" />
<line x1="1518.20" y1="573.00" x2="1526.80" y2="573.00" stroke="#000" stroke-width="1.6" />
<line x1="2041.60" y1="573.00" x2="2033.00" y2="573.00" stroke="#000" stroke-width="1.6" />
<line x1="1518.20" y1="891.15" x2="1522.50" y2="891.15" stroke="#000" stroke-width="1.6" />
<line x1="2041.60" y1="891.15" x2="2037.30" y2="891.15" stroke="#000" stroke-width="1.6" />
<line x1="1518.20" y1="820.45" x2="1522.50" y2="820.45" stroke="#000" stroke-width="1.6" />
<line x1="2041.60" y1="820.45" x2="2037.30" y2="820.45" stroke="#000" stroke-width="1.6" />
<line x1="1518.20" y1="749.75" x2="1522.50" y2="749.75" stroke="#000" stroke-width="1.6" />
<line x1="2041.60" y1="749.75" x2="2037.30" y2="749.75" stroke="#000" stroke-width="1.6" />
<line x1="1518.20" y1="679.05" x2="1522.50" y2="679.05" stroke="#000" stroke-width="1.6" />
<line x1="2041.60" y1="679.05" x2="2037.30" y2="679.05" stroke="#000" stroke-width="1.6" />
<line x1="1518.20" y1="608.35" x2="1522.50" y2="608.35" stroke="#000" stroke-width="1.6" />
<line x1="2041.60" y1="608.35" x2="2037.30" y2="608.35" stroke="#000" stroke-width="1.6" />
<line x1="1518.20" y1="537.65" x2="1522.50" y2="537.65" stroke="#000" stroke-width="1.6" />
<line x1="2041.60" y1="537.65" x2="2037.30" y2="537.65" stroke="#000" stroke-width="1.6" />
<line x1="1542.90" y1="927.10" x2="1542.90" y2="919.80" stroke="#000" stroke-width="1.6" />
<line x1="1624.30" y1="927.10" x2="1624.30" y2="919.80" stroke="#000" stroke-width="1.6" />
<line x1="1705.70" y1="927.10" x2="1705.70" y2="919.80" stroke="#000" stroke-width="1.6" />
<line x1="1787.10" y1="927.10" x2="1787.10" y2="919.80" stroke="#000" stroke-width="1.6" />
<line x1="1868.50" y1="927.10" x2="1868.50" y2="919.80" stroke="#000" stroke-width="1.6" />
<line x1="1949.90" y1="927.10" x2="1949.90" y2="919.80" stroke="#000" stroke-width="1.6" />
<line x1="2031.30" y1="927.10" x2="2031.30" y2="919.80" stroke="#000" stroke-width="1.6" />
<rect x="1564.20" y="788.90" width="12.20" height="12.20" fill="none" stroke="#ec8370" stroke-width="1.4"/>
<rect x="1563.30" y="818.30" width="13.40" height="13.40" fill="#ec8370"/>
<circle cx="1570.30" cy="855.40" r="6.60" fill="none" stroke="#183856" stroke-width="1.4"/>
<circle cx="1570.30" cy="885.00" r="7.30" fill="#183856"/>
<text transform="translate(0.18,31.60) scale(0.9,1.0)" font-size="58.50" fill="#000" >a</text>
<text x="64.90" y="54.30" font-size="41.33" fill="#000" >Propidium iodide (dead cells)</text>
<text x="1083.93" y="53.70" font-size="41.50" fill="#000" >Calcein AM (live cells)</text>
<text transform="translate(70.73,130.70) scale(1.0,1.06)" font-size="40.91" fill="#fff" >BTP−</text>
<text x="71.99" y="180.60" font-size="40.51" fill="#fff" ><tspan font-style="italic">hv</tspan>+</text>
<text x="278.14" y="376.00" font-size="18.33" fill="#fff" font-weight="bold">500 µm</text>
<text transform="translate(400.30,131.40) scale(1.0,1.06)" font-size="41.36" fill="#fff" >BTP+</text>
<text x="401.40" y="180.00" font-size="39.94" fill="#fff" ><tspan font-style="italic">hv</tspan>−</text>
<text x="604.14" y="377.80" font-size="18.45" fill="#fff" font-weight="bold">500 µm</text>
<text transform="translate(730.41,131.40) scale(1.0,1.06)" font-size="41.15" fill="#fff" >BTP+</text>
<text x="730.96" y="180.60" font-size="41.59" fill="#fff" ><tspan font-style="italic">hv</tspan>+</text>
<text x="928.94" y="377.20" font-size="18.33" fill="#fff" font-weight="bold">500 µm</text>
<text transform="translate(1090.25,130.70) scale(1.0,1.06)" font-size="40.62" fill="#fff" >BTP−</text>
<text x="1091.79" y="180.60" font-size="40.25" fill="#fff" ><tspan font-style="italic">hv</tspan>+</text>
<text x="1297.04" y="376.00" font-size="18.48" fill="#fff" font-weight="bold">500 µm</text>
<text transform="translate(1419.81,131.40) scale(1.0,1.06)" font-size="41.15" fill="#fff" >BTP+</text>
<text x="1421.01" y="180.00" font-size="39.56" fill="#fff" ><tspan font-style="italic">hv</tspan>−</text>
<text x="1623.44" y="377.80" font-size="18.45" fill="#fff" font-weight="bold">500 µm</text>
<text transform="translate(1749.40,131.40) scale(1.0,1.06)" font-size="41.36" fill="#fff" >BTP+</text>
<text x="1749.96" y="180.60" font-size="41.59" fill="#fff" ><tspan font-style="italic">hv</tspan>+</text>
<text x="1947.84" y="377.20" font-size="18.42" fill="#fff" font-weight="bold">500 µm</text>
<text transform="translate(0.27,505.40) scale(1.0,1.0)" font-size="56.50" fill="#000" >b</text>
<text x="583.08" y="493.90" font-size="24.46" fill="#000" font-weight="bold">HeLa</text>
<text x="95.34" y="934.98" font-size="24.50" fill="#000" >0</text>
<text x="81.86" y="858.12" font-size="24.50" fill="#000" >20</text>
<text x="81.86" y="781.25" font-size="24.50" fill="#000" >40</text>
<text x="81.86" y="704.40" font-size="24.50" fill="#000" >60</text>
<text x="81.86" y="627.53" font-size="24.50" fill="#000" >80</text>
<text x="67.78" y="550.68" font-size="24.50" fill="#000" >100</text>
<text x="172.90" y="962.40" font-size="24.00" fill="#000" >2</text>
<text x="286.80" y="962.40" font-size="24.00" fill="#000" >4</text>
<text x="400.40" y="962.40" font-size="24.00" fill="#000" >8</text>
<text x="506.80" y="962.40" font-size="24.00" fill="#000" >16</text>
<text x="621.00" y="962.40" font-size="24.00" fill="#000" >32</text>
<text transform="translate(48.47,860.83) rotate(-90)" font-size="40.63" fill="#000" >Cell viability (%)</text>
<text x="234.31" y="1011.40" font-size="39.85" fill="#000" >Concentration (µM)</text>
<text x="510.16" y="612.00" font-size="24.50" fill="#000" >BTP+ <tspan font-style="italic">hv</tspan>-</text>
<text x="510.16" y="647.80" font-size="24.50" fill="#000" >BTP+ <tspan font-style="italic">hv</tspan>+</text>
<text x="727.98" y="505.70" font-size="56.89" fill="#000" >c</text>
<text x="1296.16" y="499.50" font-size="20.87" fill="#000" font-weight="bold">Panc-1</text>
<text x="820.54" y="907.18" font-size="24.50" fill="#000" >0</text>
<text x="807.06" y="846.94" font-size="24.50" fill="#000" >20</text>
<text x="807.06" y="786.70" font-size="24.50" fill="#000" >40</text>
<text x="807.06" y="726.46" font-size="24.50" fill="#000" >60</text>
<text x="807.06" y="666.22" font-size="24.50" fill="#000" >80</text>
<text x="792.98" y="605.98" font-size="24.50" fill="#000" >100</text>
<text x="792.98" y="545.74" font-size="24.50" fill="#000" >120</text>
<text x="853.06" y="957.95" font-size="24.50" fill="#000" >0.5</text>
<text x="943.75" y="957.95" font-size="24.50" fill="#000" >1</text>
<text x="1025.26" y="957.95" font-size="24.50" fill="#000" >2</text>
<text x="1106.76" y="957.95" font-size="24.50" fill="#000" >4</text>
<text x="1187.96" y="957.95" font-size="24.50" fill="#000" >8</text>
<text x="1261.81" y="957.95" font-size="24.50" fill="#000" >16</text>
<text x="1343.62" y="957.95" font-size="24.50" fill="#000" >32</text>
<text transform="translate(780.89,864.00) rotate(-90)" font-size="39.99" fill="#000" >Cell Viability (%)</text>
<text x="934.59" y="1016.30" font-size="40.13" fill="#000" >Concentartion (<tspan font-family="Liberation Serif">μ</tspan>M)</text>
<text x="921.35" y="790.70" font-size="24.62" fill="#000" >BTP+ hv−, Hypoxia</text>
<text x="921.35" y="820.70" font-size="24.62" fill="#000" >BTP+ hv+, Hypoxia</text>
<text x="921.35" y="850.70" font-size="24.64" fill="#000" >BTP+ hv−, Normoxia</text>
<text x="921.35" y="880.70" font-size="24.64" fill="#000" >BTP+ hv+, Normoxia</text>
<text x="1935.91" y="495.70" font-size="21.76" fill="#000" font-weight="bold">MiaPaca-2</text>
<text x="1494.94" y="933.68" font-size="24.50" fill="#000" >0</text>
<text x="1481.46" y="862.98" font-size="24.50" fill="#000" >20</text>
<text x="1481.46" y="792.28" font-size="24.50" fill="#000" >40</text>
<text x="1481.46" y="721.58" font-size="24.50" fill="#000" >60</text>
<text x="1481.46" y="650.88" font-size="24.50" fill="#000" >80</text>
<text x="1467.38" y="580.18" font-size="24.50" fill="#000" >100</text>
<text x="1526.06" y="955.15" font-size="24.50" fill="#000" >0.5</text>
<text x="1616.95" y="955.15" font-size="24.50" fill="#000" >1</text>
<text x="1698.66" y="955.15" font-size="24.50" fill="#000" >2</text>
<text x="1780.36" y="955.15" font-size="24.50" fill="#000" >4</text>
<text x="1861.76" y="955.15" font-size="24.50" fill="#000" >8</text>
<text x="1935.81" y="955.15" font-size="24.50" fill="#000" >16</text>
<text x="2017.83" y="955.15" font-size="24.50" fill="#000" >32</text>
<text transform="translate(1455.11,857.49) rotate(-90)" font-size="39.89" fill="#000" >Cell viability (%)</text>
<text x="1609.30" y="1013.00" font-size="40.05" fill="#000" >Concentration (<tspan font-family="Liberation Serif">μ</tspan>M)</text>
<text x="1598.65" y="801.50" font-size="24.64" fill="#000" >BTP+ <tspan font-style="italic">hv</tspan>−, Hypoxia</text>
<text x="1598.65" y="831.50" font-size="24.64" fill="#000" >BTP+ <tspan font-style="italic">hv</tspan>+, Hypoxia</text>
<text x="1598.65" y="861.90" font-size="24.66" fill="#000" >BTP+ <tspan font-style="italic">hv</tspan>−, Normoxia</text>
<text x="1598.65" y="891.50" font-size="24.66" fill="#000" >BTP+ <tspan font-style="italic">hv</tspan>+, Normoxia</text>
</svg>
</body></html>
